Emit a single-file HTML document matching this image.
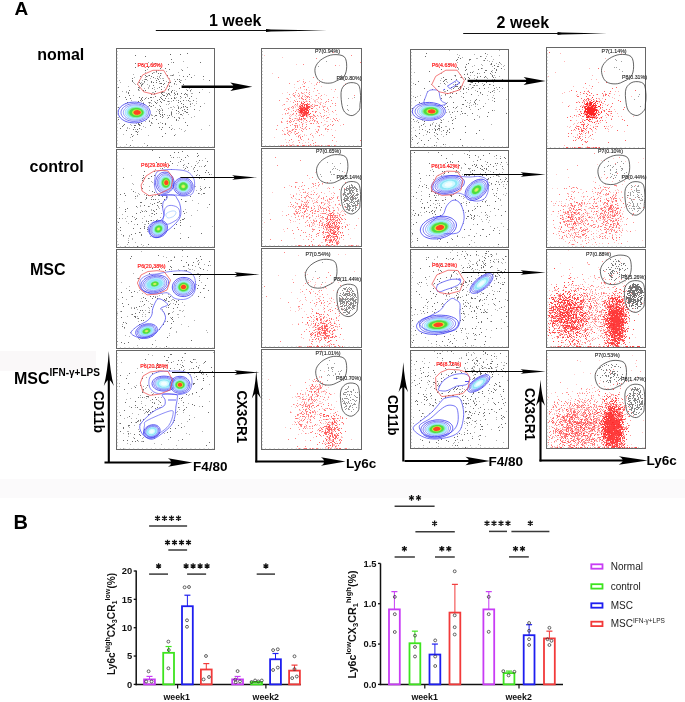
<!DOCTYPE html>
<html><head><meta charset="utf-8"><style>html,body{margin:0;padding:0;background:#fff;}svg{display:block;will-change:transform;}text{font-family:"Liberation Sans",sans-serif;}</style></head>
<body><svg width="685" height="702" viewBox="0 0 685 702">
<defs><filter id="sb" x="-5%" y="-5%" width="110%" height="110%"><feGaussianBlur stdDeviation="0.3"/></filter></defs>
<rect width="685" height="702" fill="#fff"/>
<rect x="0" y="479" width="685" height="19" fill="#fbfafb"/>
<rect x="0" y="351" width="96" height="20" fill="#faf8f9"/>
<text x="14.4" y="14.6" font-size="19" font-weight="bold" fill="#000" text-anchor="start" >A</text>
<text x="13.6" y="528.6" font-size="20" font-weight="bold" fill="#000" text-anchor="start" >B</text>
<text x="209" y="25.8" font-size="16" font-weight="bold" fill="#000" text-anchor="start" >1 week</text>
<line x1="155.8" y1="30.5" x2="268" y2="30.5" stroke="#111" stroke-width="1"/>
<path d="M266 29.1L271 29.4L327 30.5L271 31.6L266 31.9Z" fill="#000"/>
<text x="496.6" y="27.9" font-size="16" font-weight="bold" fill="#000" text-anchor="start" >2 week</text>
<line x1="463.2" y1="33.5" x2="559" y2="33.5" stroke="#111" stroke-width="1"/>
<path d="M557.5 32.1L562 32.4L607 33.5L562 34.6L557.5 34.9Z" fill="#000"/>
<text x="37.2" y="59.9" font-size="16" font-weight="bold" fill="#000" text-anchor="start" >nomal</text>
<text x="29.5" y="171.6" font-size="16" font-weight="bold" fill="#000" text-anchor="start" >control</text>
<text x="29.9" y="275.1" font-size="16" font-weight="bold" fill="#000" text-anchor="start" >MSC</text>
<text x="14" y="383.6" font-size="16" font-weight="bold">MSC<tspan font-size="10" dy="-7.3">IFN-γ+LPS</tspan></text>
<rect x="116.5" y="48.5" width="98.0" height="99.0" fill="none" stroke="#666" stroke-width="1"/>
<path d="M116.5 51.5h1.5M116.5 54.8h1.5M116.5 58.1h1.5M116.5 61.4h1.5M116.5 64.7h1.5M116.5 68.0h1.5M116.5 71.3h1.5M116.5 74.6h1.5M116.5 77.9h1.5M116.5 81.2h1.5M116.5 84.5h1.5M116.5 87.8h1.5M116.5 91.1h1.5M116.5 94.4h1.5M116.5 97.7h1.5M116.5 101.0h1.5M116.5 104.3h1.5M116.5 107.6h1.5M116.5 110.9h1.5M116.5 114.2h1.5M116.5 117.5h1.5M116.5 120.8h1.5M116.5 124.1h1.5M116.5 127.4h1.5M116.5 130.7h1.5M116.5 134.0h1.5M116.5 137.3h1.5M116.5 140.6h1.5M116.5 143.9h1.5M120.5 147.5v-1.3M124.9 147.5v-1.3M129.3 147.5v-1.3M133.7 147.5v-1.3M138.1 147.5v-1.3M142.5 147.5v-1.3M146.9 147.5v-1.3M151.3 147.5v-1.3M155.7 147.5v-1.3M160.1 147.5v-1.3M164.5 147.5v-1.3M168.9 147.5v-1.3M173.3 147.5v-1.3M177.7 147.5v-1.3M182.1 147.5v-1.3M186.5 147.5v-1.3M190.9 147.5v-1.3M195.3 147.5v-1.3M199.7 147.5v-1.3M204.1 147.5v-1.3M208.5 147.5v-1.3M212.9 147.5v-1.3" stroke="#999" stroke-width="0.6" fill="none"/>
<path d="M118 87.5h1m-1 20h1m-1 12h1m0-23h1m0 32h1m0-16h1m0 4h1m-1 10h1m0-1h1m0-1h1m0-27h1m-1 10h1m0-8h1m-1 6h1m-1 3h1m-1 8h1m-1 2h1m-1 12h1m0-28h1m0-10h1m-1 1h1m0-3h1m-1 5h1m0 3h1m-1 47h1m0-24h1m-1 13h1m0-56h1m-1 2h1m-1 1h1m-1 32h1m-1 23h1m0-18h1m-1 11h1m0-27h1m-1 23h1m-1 2h1m0-72h1m-1 8h1m-1 4h1m-1 58h1m0-16h1m-1 12h1m-1 10h1m0-21h1m-1 19h1m-1 3h1m-1 2h1m0-47h1m-1 2h1m-1 12h1m-1 16h1m-1 6h1m-1 1h1m0-42h1m-1 15h1m-1 27h1m-1 1h1m-1 3h1m0-52h1m-1 7h1m-1 17h1m0-15h1m-1 13h1m-1 1h1m-1 16h1m-1 1h1m-1 5h1m-1 2h1m0-59h1m-1 20h1m-1 13h1m-1 3h1m-1 19h1m0-29h1m-1 13h1m-1 4h1m0-26h1m0-25h1m-1 14h1m-1 5h1m-1 4h1m-1 11h1m-1 8h1m0-22h1m-1 3h1m-1 40h1m0-53h1m-1 43h1m-1 36h1m0-78h1m-1 31h1m-1 19h1m0-42h1m-1 27h1m-1 3h1m-1 16h1m0-24h1m-1 28h1m0-49h1m-1 5h1m-1 1h1m-1 12h1m-1 3h1m-1 3h1m-1 6h1m-1 16h1m0-49h1m-1 15h1m-1 30h1m0-41h1m-1 5h1m-1 3h1m-1 20h1m0-12h1m0-30h1m-1 28h1m-1 5h1m-1 6h1m-1 13h1m0-44h1m-1 9h1m-1 2h1m-1 21h1m-1 12h1m-1 4h1m0-41h1m-1 22h1m0-27h1m-1 6h1m-1 44h1m0-42h1m-1 6h1m-1 12h1m-1 10h1m-1 2h1m-1 2h1m-1 14h1m0-59h1m-1 5h1m-1 2h1m-1 8h1m-1 14h1m-1 4h1m-1 5h1m-1 8h1m-1 2h1m0-33h1m-1 3h1m-1 3h1m-1 3h1m-1 1h1m-1 5h1m-1 4h1m-1 27h1m0-37h1m-1 2h1m-1 5h1m-1 11h1m-1 4h1m-1 1h1m-1 2h1m-1 6h1m-1 4h1m-1 9h1m0-56h1m-1 4h1m-1 11h1m0-12h1m-1 12h1m-1 5h1m-1 14h1m0-46h1m-1 30h1m-1 25h1m-1 1h1m-1 9h1m0-37h1m0-21h1m-1 19h1m0-30h1m-1 18h1m-1 7h1m-1 4h1m-1 8h1m-1 16h1m0-48h1m-1 17h1m-1 8h1m-1 21h1m-1 12h1m0-73h1m-1 28h1m0-23h1m-1 32h1m-1 1h1m-1 6h1m-1 14h1m-1 1h1m-1 1h1m-1 15h1m0-54h1m-1 15h1m0-28h1m-1 38h1m0-17h1m-1 10h1m-1 4h1m-1 1h1m-1 19h1m-1 18h1m0-54h1m-1 13h1m0 16h1m-1 9h1m-1 1h1m0-41h1m-1 14h1m-1 1h1m0 6h1m-1 2h1m-1 5h1m-1 1h1m-1 3h1m0-32h1m-1 2h1m-1 7h1m-1 30h1m0-64h1m-1 28h1m-1 14h1m-1 5h1m-1 13h1m0-21h1m-1 10h1m-1 4h1m-1 7h1m0-44h1m-1 40h1m0-34h1m-1 8h1m-1 16h1m-1 4h1m-1 2h1m0-12h1m-1 15h1m0-16h1m-1 4h1m-1 9h1m-1 5h1m-1 11h1m0-28h1m-1 18h1m0-59h1m-1 23h1m-1 14h1m-1 17h1m-1 2h1m-1 3h1m-1 13h1m0-25h1m0-26h1m-1 24h1m0-8h1m-1 14h1m0-27h1m-1 9h1m-1 10h1m1 4h1m0 9h1m4-23h1m-1 6h1m0-30h1m-1 44h1m2-30h1m5 4h1" stroke="#444" stroke-width="1" opacity="0.78" fill="none" filter="url(#sb)"/>
<path d="M118 117.5h1m0-37h1m-1 43h1m0-41h1m0 30h1m0-21h1m0 24h1m-1 19h1m1-31h1m0-12h1m-1 1h1m-1 52h1m0-25h1m-1 8h1m-1 1h1m0-42h1m-1 22h1m-1 8h1m0-3h1m-1 15h1m0-15h1m-1 6h1m-1 5h1m-1 13h1m0-37h1m-1 14h1m-1 4h1m-1 7h1m0 15h1m0-66h1m-1 8h1m-1 13h1m-1 18h1m-1 7h1m-1 15h1m0-58h1m-1 6h1m-1 24h1m-1 12h1m0-35h1m-1 45h1m-1 2h1m0-28h1m-1 20h1m-1 8h1m0-47h1m-1 34h1m0-28h1m-1 41h1m0-51h1m-1 7h1m-1 1h1m-1 2h1m-1 32h1m0 3h1m0-43h1m-1 2h1m-1 2h1m-1 15h1m-1 3h1m-1 6h1m-1 3h1m-1 4h1m-1 6h1m-1 6h1m0-49h1m-1 3h1m-1 24h1m0-24h1m-1 19h1m-1 24h1m0-47h1m-1 3h1m-1 6h1m-1 11h1m-1 5h1m-1 2h1m-1 37h1m0-71h1m-1 5h1m-1 28h1m-1 16h1m-1 6h1m0-30h1m-1 12h1m0-40h1m-1 7h1m-1 4h1m-1 4h1m0-22h1m-1 13h1m-1 12h1m-1 1h1m-1 14h1m-1 4h1m-1 3h1m-1 1h1m-1 1h1m-1 24h1m0-60h1m-1 10h1m-1 1h1m-1 17h1m-1 2h1m-1 4h1m-1 6h1m-1 5h1m0-42h1m-1 24h1m-1 4h1m0-3h1m-1 11h1m-1 1h1m-1 8h1m0-61h1m-1 30h1m-1 23h1m-1 8h1m0-51h1m-1 20h1m-1 5h1m0-25h1m-1 15h1m-1 2h1m-1 5h1m-1 7h1m-1 15h1m0-38h1m-1 24h1m-1 5h1m0-37h1m-1 2h1m-1 39h1m0-35h1m-1 12h1m-1 14h1m-1 7h1m0-45h1m-1 6h1m-1 40h1m0-34h1m-1 1h1m-1 6h1m-1 22h1m-1 7h1m0-34h1m-1 32h1m-1 12h1m0-49h1m-1 10h1m-1 13h1m-1 12h1m0-30h1m-1 13h1m-1 1h1m-1 17h1m-1 3h1m0-34h1m-1 14h1m-1 8h1m-1 16h1m0-29h1m-1 5h1m0-3h1m0-18h1m-1 10h1m-1 12h1m-1 11h1m0-19h1m-1 1h1m-1 9h1m-1 6h1m-1 14h1m-1 3h1m0-29h1m-1 1h1m-1 3h1m-1 5h1m-1 6h1m-1 4h1m0-30h1m-1 7h1m-1 3h1m-1 5h1m-1 8h1m-1 2h1m0-49h1m-1 21h1m-1 20h1m-1 12h1m0-45h1m-1 13h1m-1 11h1m-1 12h1m-1 3h1m-1 6h1m-1 4h1m-1 4h1m-1 10h1m0-16h1m-1 7h1m-1 12h1m0-54h1m-1 1h1m-1 31h1m0-27h1m-1 5h1m-1 6h1m-1 2h1m-1 3h1m-1 12h1m-1 22h1m0-31h1m-1 36h1m0-50h1m-1 7h1m-1 6h1m-1 3h1m-1 10h1m-1 3h1m0-8h1m0-33h1m-1 34h1m-1 7h1m-1 4h1m-1 3h1m0-45h1m-1 37h1m-1 5h1m-1 11h1m0-48h1m-1 18h1m-1 10h1m0-39h1m-1 11h1m-1 17h1m-1 32h1m0-14h1m0-54h1m-1 46h1m-1 6h1m-1 5h1m0-7h1m-1 20h1m0-52h1m-1 51h1m0-41h1m-1 11h1m-1 7h1m0-40h1m-1 27h1m-1 1h1m-1 1h1m0 18h1m0-26h1m-1 13h1m0-10h1m-1 10h1m-1 2h1m-1 3h1m0-17h1m-1 4h1m-1 24h1m0-24h1m-1 10h1m1-28h1m-1 30h1m-1 11h1m0-29h1m0 11h1m-1 3h1m-1 2h1m2 7h1m1 19h1m0-43h1m-1 3h1m0-10h1m0 24h1m4-11h1m-1 33h1" stroke="#444" stroke-width="1" opacity="0.42" fill="none" filter="url(#sb)"/>
<path d="M150.2 112.5C150.2 113.4 150.0 114.3 149.6 115.2C149.3 116.1 148.7 116.9 148.0 117.7C147.3 118.5 146.4 119.2 145.5 119.9C144.5 120.5 143.4 121.0 142.2 121.5C141.1 121.9 139.8 122.3 138.5 122.5C137.3 122.7 136.0 122.9 134.7 122.9C133.5 122.9 132.2 122.8 131.0 122.7C129.8 122.6 128.7 122.3 127.6 122.0C126.5 121.7 125.5 121.3 124.7 120.9C123.8 120.5 123.0 120.0 122.3 119.5C121.6 119.0 121.0 118.4 120.4 117.9C119.9 117.3 119.5 116.7 119.2 116.1C118.8 115.5 118.6 114.9 118.4 114.3C118.3 113.7 118.2 113.1 118.2 112.5C118.2 111.9 118.3 111.3 118.4 110.7C118.6 110.1 118.8 109.5 119.2 108.9C119.5 108.3 119.9 107.7 120.4 107.1C121.0 106.6 121.6 106.0 122.3 105.5C123.0 105.0 123.8 104.5 124.7 104.1C125.5 103.7 126.5 103.3 127.6 103.0C128.7 102.7 129.8 102.4 131.0 102.3C132.2 102.2 133.5 102.1 134.7 102.1C136.0 102.1 137.3 102.3 138.5 102.5C139.8 102.7 141.1 103.1 142.2 103.5C143.4 104.0 144.5 104.5 145.5 105.1C146.4 105.8 147.3 106.5 148.0 107.3C148.7 108.1 149.3 108.9 149.6 109.8C150.0 110.7 150.2 111.6 150.2 112.5Z" fill="#fff" stroke="none"/>
<path d="M145.9 112.5C145.9 113.1 145.8 113.7 145.6 114.3C145.3 114.8 145.0 115.4 144.5 115.9C144.1 116.4 143.5 116.9 142.9 117.3C142.2 117.7 141.5 118.0 140.7 118.3C140.0 118.6 139.2 118.8 138.4 119.0C137.5 119.1 136.7 119.2 135.9 119.3C135.0 119.3 134.2 119.2 133.4 119.1C132.7 119.0 131.9 118.9 131.2 118.7C130.6 118.5 129.9 118.2 129.3 118.0C128.8 117.7 128.2 117.4 127.8 117.0C127.3 116.7 126.9 116.4 126.6 116.0C126.3 115.6 126.0 115.2 125.8 114.9C125.6 114.5 125.4 114.1 125.3 113.7C125.2 113.3 125.1 112.9 125.1 112.5C125.1 112.1 125.2 111.7 125.3 111.3C125.4 110.9 125.6 110.5 125.8 110.1C126.0 109.8 126.3 109.4 126.6 109.0C126.9 108.6 127.3 108.3 127.8 108.0C128.2 107.6 128.8 107.3 129.3 107.0C129.9 106.8 130.6 106.5 131.2 106.3C131.9 106.1 132.7 106.0 133.4 105.9C134.2 105.8 135.0 105.7 135.9 105.7C136.7 105.8 137.5 105.9 138.4 106.0C139.2 106.2 140.0 106.4 140.7 106.7C141.5 107.0 142.2 107.3 142.9 107.7C143.5 108.1 144.1 108.6 144.5 109.1C145.0 109.6 145.3 110.2 145.6 110.7C145.8 111.3 145.9 111.9 145.9 112.5Z" fill="#c8f3ff" stroke="#6fbcff" stroke-width="0.5"/>
<path d="M145.0 112.5C145.0 113.0 144.8 113.5 144.6 114.0C144.4 114.5 144.1 115.0 143.7 115.5C143.3 115.9 142.8 116.3 142.3 116.7C141.7 117.0 141.1 117.4 140.4 117.6C139.7 117.9 139.0 118.1 138.3 118.2C137.6 118.3 136.8 118.4 136.1 118.4C135.4 118.4 134.7 118.4 134.0 118.3C133.3 118.2 132.7 118.1 132.1 117.9C131.5 117.7 130.9 117.5 130.4 117.3C129.9 117.0 129.4 116.8 129.0 116.5C128.6 116.2 128.3 115.9 128.0 115.6C127.7 115.2 127.5 114.9 127.3 114.6C127.1 114.2 126.9 113.9 126.9 113.5C126.8 113.2 126.7 112.8 126.7 112.5C126.7 112.2 126.8 111.8 126.9 111.5C126.9 111.1 127.1 110.8 127.3 110.4C127.5 110.1 127.7 109.8 128.0 109.4C128.3 109.1 128.6 108.8 129.0 108.5C129.4 108.2 129.9 108.0 130.4 107.7C130.9 107.5 131.5 107.3 132.1 107.1C132.7 106.9 133.3 106.8 134.0 106.7C134.7 106.6 135.4 106.6 136.1 106.6C136.8 106.6 137.6 106.7 138.3 106.8C139.0 106.9 139.7 107.1 140.4 107.4C141.1 107.6 141.7 108.0 142.3 108.3C142.8 108.7 143.3 109.1 143.7 109.5C144.1 110.0 144.4 110.5 144.6 111.0C144.8 111.5 145.0 112.0 145.0 112.5Z" fill="#8ee6f6" stroke="none"/>
<path d="M150.2 112.5C150.2 113.4 150.0 114.3 149.6 115.2C149.3 116.1 148.7 116.9 148.0 117.7C147.3 118.5 146.4 119.2 145.5 119.9C144.5 120.5 143.4 121.0 142.2 121.5C141.1 121.9 139.8 122.3 138.5 122.5C137.3 122.7 136.0 122.9 134.7 122.9C133.5 122.9 132.2 122.8 131.0 122.7C129.8 122.6 128.7 122.3 127.6 122.0C126.5 121.7 125.5 121.3 124.7 120.9C123.8 120.5 123.0 120.0 122.3 119.5C121.6 119.0 121.0 118.4 120.4 117.9C119.9 117.3 119.5 116.7 119.2 116.1C118.8 115.5 118.6 114.9 118.4 114.3C118.3 113.7 118.2 113.1 118.2 112.5C118.2 111.9 118.3 111.3 118.4 110.7C118.6 110.1 118.8 109.5 119.2 108.9C119.5 108.3 119.9 107.7 120.4 107.1C121.0 106.6 121.6 106.0 122.3 105.5C123.0 105.0 123.8 104.5 124.7 104.1C125.5 103.7 126.5 103.3 127.6 103.0C128.7 102.7 129.8 102.4 131.0 102.3C132.2 102.2 133.5 102.1 134.7 102.1C136.0 102.1 137.3 102.3 138.5 102.5C139.8 102.7 141.1 103.1 142.2 103.5C143.4 104.0 144.5 104.5 145.5 105.1C146.4 105.8 147.3 106.5 148.0 107.3C148.7 108.1 149.3 108.9 149.6 109.8C150.0 110.7 150.2 111.6 150.2 112.5Z" fill="none" stroke="#3434ee" stroke-width="0.8"/>
<path d="M148.5 112.5C148.5 113.3 148.3 114.1 148.0 114.8C147.7 115.6 147.2 116.3 146.6 117.0C146.0 117.7 145.3 118.3 144.4 118.8C143.6 119.4 142.6 119.8 141.6 120.2C140.6 120.6 139.5 120.9 138.5 121.1C137.4 121.3 136.3 121.4 135.2 121.4C134.1 121.5 133.0 121.4 132.0 121.3C131.0 121.1 130.0 120.9 129.1 120.7C128.1 120.4 127.3 120.1 126.5 119.7C125.8 119.4 125.1 118.9 124.5 118.5C123.9 118.1 123.3 117.6 122.9 117.1C122.5 116.6 122.1 116.1 121.8 115.6C121.5 115.1 121.3 114.6 121.2 114.1C121.0 113.6 121.0 113.0 121.0 112.5C121.0 112.0 121.0 111.4 121.2 110.9C121.3 110.4 121.5 109.9 121.8 109.4C122.1 108.9 122.5 108.4 122.9 107.9C123.3 107.4 123.9 106.9 124.5 106.5C125.1 106.1 125.8 105.6 126.5 105.3C127.3 104.9 128.1 104.6 129.1 104.3C130.0 104.1 131.0 103.9 132.0 103.7C133.0 103.6 134.1 103.5 135.2 103.6C136.3 103.6 137.4 103.7 138.5 103.9C139.5 104.1 140.6 104.4 141.6 104.8C142.6 105.2 143.6 105.6 144.4 106.2C145.3 106.7 146.0 107.3 146.6 108.0C147.2 108.7 147.7 109.4 148.0 110.2C148.3 110.9 148.5 111.7 148.5 112.5Z" fill="none" stroke="#4040f0" stroke-width="0.7"/>
<path d="M147.0 112.5C147.0 113.2 146.9 113.9 146.6 114.5C146.3 115.2 145.9 115.8 145.4 116.4C144.9 116.9 144.2 117.5 143.5 117.9C142.8 118.4 142.0 118.8 141.1 119.1C140.3 119.5 139.3 119.7 138.4 119.9C137.5 120.1 136.5 120.2 135.6 120.2C134.6 120.2 133.7 120.2 132.8 120.0C131.9 119.9 131.1 119.8 130.3 119.5C129.5 119.3 128.8 119.0 128.1 118.7C127.5 118.4 126.9 118.0 126.4 117.7C125.8 117.3 125.4 116.9 125.0 116.5C124.6 116.1 124.3 115.6 124.1 115.2C123.8 114.7 123.6 114.3 123.5 113.9C123.4 113.4 123.3 113.0 123.3 112.5C123.3 112.0 123.4 111.6 123.5 111.1C123.6 110.7 123.8 110.3 124.1 109.8C124.3 109.4 124.6 108.9 125.0 108.5C125.4 108.1 125.8 107.7 126.4 107.3C126.9 107.0 127.5 106.6 128.1 106.3C128.8 106.0 129.5 105.7 130.3 105.5C131.1 105.2 131.9 105.1 132.8 105.0C133.7 104.8 134.6 104.8 135.6 104.8C136.5 104.8 137.5 104.9 138.4 105.1C139.3 105.3 140.3 105.5 141.1 105.9C142.0 106.2 142.8 106.6 143.5 107.1C144.2 107.5 144.9 108.1 145.4 108.6C145.9 109.2 146.3 109.8 146.6 110.5C146.9 111.1 147.0 111.8 147.0 112.5Z" fill="none" stroke="#5066f4" stroke-width="0.6"/>
<path d="M144.1 112.5C144.1 113.0 144.0 113.4 143.8 113.9C143.6 114.3 143.4 114.7 143.0 115.1C142.7 115.5 142.2 115.9 141.7 116.2C141.2 116.5 140.7 116.8 140.1 117.0C139.5 117.2 138.9 117.4 138.3 117.5C137.6 117.6 137.0 117.7 136.4 117.7C135.7 117.7 135.1 117.7 134.5 117.6C133.9 117.5 133.3 117.4 132.8 117.3C132.3 117.1 131.8 116.9 131.3 116.7C130.9 116.5 130.5 116.2 130.1 116.0C129.8 115.7 129.5 115.5 129.2 115.2C129.0 114.9 128.8 114.6 128.6 114.3C128.4 114.0 128.3 113.7 128.2 113.4C128.1 113.1 128.1 112.8 128.1 112.5C128.1 112.2 128.1 111.9 128.2 111.6C128.3 111.3 128.4 111.0 128.6 110.7C128.8 110.4 129.0 110.1 129.2 109.8C129.5 109.5 129.8 109.3 130.1 109.0C130.5 108.8 130.9 108.5 131.3 108.3C131.8 108.1 132.3 107.9 132.8 107.7C133.3 107.6 133.9 107.5 134.5 107.4C135.1 107.3 135.7 107.3 136.4 107.3C137.0 107.3 137.6 107.4 138.3 107.5C138.9 107.6 139.5 107.8 140.1 108.0C140.7 108.2 141.2 108.5 141.7 108.8C142.2 109.1 142.7 109.5 143.0 109.9C143.4 110.3 143.6 110.7 143.8 111.1C144.0 111.6 144.1 112.0 144.1 112.5Z" fill="#8fe98a" stroke="none"/>
<path d="M143.4 112.5C143.4 112.9 143.3 113.3 143.1 113.7C143.0 114.1 142.7 114.5 142.4 114.8C142.1 115.1 141.7 115.5 141.3 115.7C140.9 116.0 140.4 116.3 139.9 116.4C139.3 116.6 138.8 116.8 138.2 116.9C137.7 117.0 137.1 117.1 136.6 117.1C136.0 117.1 135.4 117.1 134.9 117.0C134.4 116.9 133.9 116.8 133.4 116.7C133.0 116.5 132.5 116.4 132.1 116.2C131.7 116.0 131.4 115.8 131.1 115.6C130.8 115.3 130.5 115.1 130.3 114.9C130.1 114.6 129.9 114.4 129.7 114.1C129.6 113.8 129.5 113.6 129.4 113.3C129.3 113.0 129.3 112.8 129.3 112.5C129.3 112.2 129.3 112.0 129.4 111.7C129.5 111.4 129.6 111.2 129.7 110.9C129.9 110.6 130.1 110.4 130.3 110.1C130.5 109.9 130.8 109.7 131.1 109.4C131.4 109.2 131.7 109.0 132.1 108.8C132.5 108.6 133.0 108.5 133.4 108.3C133.9 108.2 134.4 108.1 134.9 108.0C135.4 107.9 136.0 107.9 136.6 107.9C137.1 107.9 137.7 108.0 138.2 108.1C138.8 108.2 139.3 108.4 139.9 108.6C140.4 108.7 140.9 109.0 141.3 109.3C141.7 109.5 142.1 109.9 142.4 110.2C142.7 110.5 143.0 110.9 143.1 111.3C143.3 111.7 143.4 112.1 143.4 112.5Z" fill="#4ade42" stroke="none"/>
<path d="M141.7 112.5C141.7 112.8 141.6 113.1 141.5 113.3C141.4 113.6 141.2 113.8 141.0 114.1C140.8 114.3 140.5 114.5 140.2 114.7C139.9 114.9 139.6 115.1 139.3 115.2C138.9 115.3 138.5 115.4 138.2 115.5C137.8 115.6 137.4 115.6 137.0 115.6C136.6 115.6 136.3 115.6 135.9 115.6C135.5 115.5 135.2 115.4 134.9 115.4C134.6 115.3 134.3 115.1 134.0 115.0C133.7 114.9 133.5 114.7 133.3 114.6C133.1 114.4 132.9 114.3 132.7 114.1C132.6 113.9 132.5 113.8 132.4 113.6C132.3 113.4 132.2 113.2 132.1 113.0C132.1 112.9 132.1 112.7 132.1 112.5C132.1 112.3 132.1 112.1 132.1 112.0C132.2 111.8 132.3 111.6 132.4 111.4C132.5 111.2 132.6 111.1 132.7 110.9C132.9 110.7 133.1 110.6 133.3 110.4C133.5 110.3 133.7 110.1 134.0 110.0C134.3 109.9 134.6 109.7 134.9 109.6C135.2 109.6 135.5 109.5 135.9 109.4C136.3 109.4 136.6 109.4 137.0 109.4C137.4 109.4 137.8 109.4 138.2 109.5C138.5 109.6 138.9 109.7 139.3 109.8C139.6 109.9 139.9 110.1 140.2 110.3C140.5 110.5 140.8 110.7 141.0 110.9C141.2 111.2 141.4 111.4 141.5 111.7C141.6 111.9 141.7 112.2 141.7 112.5Z" fill="#d2ea3c" stroke="none"/>
<path d="M140.8 112.5C140.8 112.7 140.8 112.9 140.7 113.1C140.6 113.3 140.5 113.5 140.3 113.7C140.1 113.9 139.9 114.0 139.7 114.2C139.5 114.3 139.2 114.5 139.0 114.6C138.7 114.7 138.4 114.7 138.1 114.8C137.8 114.9 137.5 114.9 137.2 114.9C137.0 114.9 136.7 114.9 136.4 114.8C136.1 114.8 135.9 114.8 135.6 114.7C135.4 114.6 135.1 114.5 134.9 114.4C134.7 114.3 134.5 114.2 134.4 114.1C134.2 114.0 134.1 113.9 134.0 113.7C133.8 113.6 133.7 113.5 133.7 113.3C133.6 113.2 133.5 113.1 133.5 112.9C133.5 112.8 133.4 112.6 133.4 112.5C133.4 112.4 133.5 112.2 133.5 112.1C133.5 111.9 133.6 111.8 133.7 111.7C133.7 111.5 133.8 111.4 134.0 111.3C134.1 111.1 134.2 111.0 134.4 110.9C134.5 110.8 134.7 110.7 134.9 110.6C135.1 110.5 135.4 110.4 135.6 110.3C135.9 110.2 136.1 110.2 136.4 110.2C136.7 110.1 137.0 110.1 137.2 110.1C137.5 110.1 137.8 110.1 138.1 110.2C138.4 110.3 138.7 110.3 139.0 110.4C139.2 110.5 139.5 110.7 139.7 110.8C139.9 111.0 140.1 111.1 140.3 111.3C140.5 111.5 140.6 111.7 140.7 111.9C140.8 112.1 140.8 112.3 140.8 112.5Z" fill="#ff4422" stroke="none"/>
<path d="M137.5 84.1L142.7 74.9L152.9 70.3L163.6 70.3L170.2 81.1L165.1 90.8L153.9 94.3L143.7 91.8Z" fill="none" stroke="#f05050" stroke-width="0.75" stroke-linejoin="round"/>
<text x="137.5" y="67.3" font-size="5.3" fill="#f11" stroke="#f22" stroke-width="0.18">P6(1.66%)</text>
<rect x="116.5" y="149.5" width="98.0" height="98.0" fill="none" stroke="#666" stroke-width="1"/>
<path d="M116.5 152.5h1.5M116.5 155.8h1.5M116.5 159.1h1.5M116.5 162.4h1.5M116.5 165.7h1.5M116.5 169.0h1.5M116.5 172.3h1.5M116.5 175.6h1.5M116.5 178.9h1.5M116.5 182.2h1.5M116.5 185.5h1.5M116.5 188.8h1.5M116.5 192.1h1.5M116.5 195.4h1.5M116.5 198.7h1.5M116.5 202.0h1.5M116.5 205.3h1.5M116.5 208.6h1.5M116.5 211.9h1.5M116.5 215.2h1.5M116.5 218.5h1.5M116.5 221.8h1.5M116.5 225.1h1.5M116.5 228.4h1.5M116.5 231.7h1.5M116.5 235.0h1.5M116.5 238.3h1.5M116.5 241.6h1.5M116.5 244.9h1.5M120.5 247.5v-1.3M124.9 247.5v-1.3M129.3 247.5v-1.3M133.7 247.5v-1.3M138.1 247.5v-1.3M142.5 247.5v-1.3M146.9 247.5v-1.3M151.3 247.5v-1.3M155.7 247.5v-1.3M160.1 247.5v-1.3M164.5 247.5v-1.3M168.9 247.5v-1.3M173.3 247.5v-1.3M177.7 247.5v-1.3M182.1 247.5v-1.3M186.5 247.5v-1.3M190.9 247.5v-1.3M195.3 247.5v-1.3M199.7 247.5v-1.3M204.1 247.5v-1.3M208.5 247.5v-1.3M212.9 247.5v-1.3" stroke="#999" stroke-width="0.6" fill="none"/>
<path d="M118 222.5h1m0-4h1m0-24h1m-1 33h1m-1 3h1m2-53h1m-1 58h1m0-42h1m0 2h1m-1 14h1m-1 2h1m1-3h1m0 34h1m2-21h1m-1 13h1m0-18h1m0-25h1m-1 37h1m1-32h1m-1 23h1m-1 14h1m0-27h1m-1 7h1m-1 5h1m0 6h1m-1 22h1m1-14h1m0-30h1m-1 10h1m-1 16h1m0-26h1m-1 32h1m-1 1h1m0-57h1m-1 2h1m-1 8h1m-1 23h1m0-36h1m-1 2h1m0-6h1m-1 7h1m-1 27h1m-1 21h1m-1 2h1m1-33h1m-1 2h1m-1 1h1m-1 13h1m-1 10h1m0 8h1m0-51h1m-1 17h1m-1 11h1m-1 15h1m-1 2h1m-1 21h1m2-68h1m-1 23h1m-1 21h1m0-70h1m-1 41h1m-1 5h1m-1 8h1m-1 9h1m-1 21h1m0-35h1m-1 11h1m0-39h1m-1 4h1m-1 8h1m-1 1h1m-1 8h1m-1 11h1m-1 8h1m-1 3h1m0-34h1m-1 19h1m0-37h1m-1 47h1m-1 4h1m-1 7h1m0-18h1m-1 3h1m0-27h1m-1 17h1m0-38h1m-1 31h1m-1 7h1m-1 6h1m0-22h1m0 24h1m0-35h1m-1 18h1m-1 10h1m-1 10h1m0-15h1m0-2h1m-1 10h1m-1 24h1m-1 10h1m0-71h1m-1 19h1m0 12h1m-1 4h1m-1 2h1m-1 17h1m0-19h1m0 1h1m-1 5h1m-1 25h1m0-63h1m-1 29h1m-1 5h1m-1 15h1m0-59h1m-1 6h1m-1 14h1m-1 9h1m0-15h1m-1 23h1m-1 9h1m0-38h1m-1 60h1m0-66h1m-1 13h1m0-18h1m-1 26h1m-1 1h1m-1 10h1m-1 5h1m-1 7h1m-1 10h1m-1 17h1m0-55h1m-1 10h1m0-11h1m-1 14h1m-1 33h1m-1 5h1m0-37h1m0-35h1m-1 18h1m-1 4h1m-1 2h1m-1 10h1m-1 28h1m0-33h1m-1 10h1m0-30h1m-1 59h1m-1 2h1m-1 3h1m-1 13h1m0-79h1m-1 16h1m-1 19h1m-1 5h1m0-48h1m-1 21h1m-1 47h1m0-54h1m-1 18h1m-1 28h1m-1 8h1m0-36h1m-1 30h1m-1 5h1m0-61h1m-1 11h1m-1 4h1m-1 29h1m0-25h1m0-21h1m-1 12h1m-1 5h1m0-9h1m-1 74h1m0-60h1m-1 8h1m0 11h1m0-15h1m-1 9h1m0-12h1m-1 4h1m-1 7h1m0-6h1m0-16h1m-1 4h1m0-6h1m0 10h1m0-22h1m-1 3h1m-1 14h1m0-15h1m-1 38h1m0-33h1m-1 15h1m-1 3h1m0 10h1m0 1h1m-1 44h1m1-40h1m0-27h1m-1 13h1m-1 14h1m0-28h1m-1 7h1m-1 5h1m-1 10h1m0-17h1m0-9h1m0 11h1m0 2h1m-1 13h1m-1 17h1" stroke="#444" stroke-width="1" opacity="0.78" fill="none" filter="url(#sb)"/>
<path d="M118 229.5h1m-1 15h1m0-37h1m1 27h1m0-20h1m-1 4h1m0-50h1m-1 68h1m0-35h1m0 17h1m-1 28h1m0-25h1m0-5h1m-1 28h1m0-21h1m-1 15h1m-1 2h1m0-5h1m-1 1h1m1-61h1m-1 14h1m0-6h1m-1 55h1m-1 1h1m0-55h1m0 33h1m-1 7h1m0-32h1m-1 6h1m-1 44h1m1-47h1m-1 1h1m-1 11h1m0-14h1m0 1h1m0 11h1m-1 1h1m-1 26h1m0-45h1m-1 23h1m-1 34h1m0-26h1m-1 4h1m0-41h1m-1 3h1m-1 61h1m0-51h1m-1 17h1m-1 5h1m-1 8h1m-1 2h1m-1 1h1m0-28h1m-1 11h1m-1 14h1m0-4h1m0 7h1m-1 4h1m0-10h1m-1 8h1m0-51h1m-1 8h1m-1 4h1m-1 16h1m-1 9h1m0-20h1m-1 8h1m-1 17h1m-1 16h1m0-60h1m-1 5h1m-1 16h1m-1 12h1m-1 1h1m-1 3h1m-1 3h1m0-34h1m0 38h1m1-51h1m-1 26h1m1-13h1m-1 12h1m-1 25h1m0-20h1m-1 3h1m-1 4h1m-1 1h1m0-30h1m-1 15h1m-1 3h1m-1 13h1m-1 26h1m0-66h1m-1 35h1m-1 14h1m-1 10h1m0-44h1m-1 22h1m-1 8h1m-1 7h1m0-38h1m-1 2h1m-1 2h1m-1 5h1m-1 16h1m-1 24h1m0-49h1m-1 1h1m-1 4h1m0-20h1m-1 32h1m-1 2h1m0 16h1m-1 1h1m0-52h1m-1 30h1m-1 12h1m-1 13h1m0-49h1m-1 41h1m0-38h1m-1 9h1m-1 12h1m-1 21h1m0-35h1m0-2h1m-1 6h1m-1 10h1m-1 20h1m0-59h1m-1 16h1m-1 29h1m-1 2h1m-1 16h1m-1 4h1m0-20h1m0-24h1m-1 8h1m-1 1h1m-1 15h1m0-15h1m-1 18h1m-1 9h1m0-28h1m-1 5h1m-1 7h1m-1 19h1m0-47h1m-1 4h1m-1 17h1m-1 1h1m-1 18h1m0-55h1m-1 8h1m-1 7h1m0-10h1m-1 8h1m-1 23h1m-1 22h1m0-58h1m0 13h1m-1 13h1m-1 50h1m2-73h1m-1 7h1m-1 5h1m-1 3h1m-1 10h1m0-21h1m-1 5h1m-1 10h1m0 4h1m-1 18h1m-1 8h1m0-43h1m-1 6h1m-1 11h1m-1 9h1m-1 9h1m-1 11h1m1-56h1m-1 14h1m0 6h1m-1 16h1m0 34h1m0-60h1m-1 20h1m-1 29h1m0-30h1m-1 15h1m0-32h1m-1 1h1m0 17h1m0 0h1m0-25h1m-1 29h1m0-27h1m-1 11h1m-1 36h1m0-48h1m-1 41h1m0-37h1m-1 27h1m0-7h1m-1 4h1m0-24h1m-1 12h1m-1 16h1m0-34h1m1 28h1m0-30h1m1 49h1m3-33h1m0 52h1" stroke="#444" stroke-width="1" opacity="0.42" fill="none" filter="url(#sb)"/>
<path d="M157.0 172.0C158.3 170.7 160.7 170.4 163.0 170.0C165.3 169.6 168.2 169.5 171.0 169.5C173.8 169.5 177.2 169.6 180.0 170.0C182.8 170.4 185.8 170.7 188.0 172.0C190.2 173.3 192.4 175.7 193.5 178.0C194.6 180.3 194.8 183.3 194.5 186.0C194.2 188.7 193.8 192.3 192.0 194.0C190.2 195.7 186.7 195.8 184.0 196.0C181.3 196.2 178.7 195.2 176.0 195.0C173.3 194.8 171.0 195.2 168.0 195.0C165.0 194.8 160.2 195.5 158.0 194.0C155.8 192.5 155.0 188.7 154.5 186.0C154.0 183.3 154.6 180.3 155.0 178.0C155.4 175.7 155.7 173.3 157.0 172.0Z" fill="#fff" stroke="none"/>
<path d="M160.9 195.1C159.8 195.2 166.0 195.0 166.9 195.7C167.8 196.4 166.9 198.4 166.3 199.4C165.7 200.4 163.9 200.3 163.3 201.8C162.7 203.3 162.6 206.1 162.7 208.4C162.8 210.7 164.3 213.7 163.9 215.7C163.5 217.7 162.3 219.4 160.3 220.6C158.3 221.8 153.8 221.6 151.8 223.0C149.8 224.4 148.3 226.9 148.2 229.0C148.1 231.1 149.6 234.3 151.2 235.7C152.8 237.1 155.4 238.2 157.9 237.5C160.4 236.8 163.7 233.5 166.3 231.5C168.9 229.5 171.4 227.6 173.6 225.4C175.8 223.2 178.5 220.5 179.7 218.1C180.9 215.7 180.9 213.3 180.9 210.9C180.9 208.5 180.3 205.6 179.7 203.6C179.1 201.6 178.2 200.2 177.2 198.8C176.2 197.4 176.3 195.7 173.6 195.1C170.9 194.5 162.0 195.0 160.9 195.1Z" fill="#fff" stroke="none"/>
<path d="M165.1 208.4C166.1 206.7 168.0 205.6 170.0 205.4C172.0 205.2 175.6 206.1 177.2 207.2C178.8 208.3 179.5 210.3 179.7 212.1C179.9 213.9 179.8 216.3 178.4 218.1C177.0 219.9 173.2 222.0 171.2 223.0C169.2 224.0 167.7 224.4 166.3 224.2C164.9 224.0 163.1 223.2 162.7 221.8C162.3 220.4 163.5 217.9 163.9 215.7C164.3 213.5 164.1 210.1 165.1 208.4Z" fill="#fff" stroke="none"/>
<path d="M166.0 214.0C166.7 212.8 170.3 211.3 172.0 211.0C173.7 210.7 175.7 211.2 176.0 212.0C176.3 212.8 175.3 215.0 174.0 216.0C172.7 217.0 169.3 218.3 168.0 218.0C166.7 217.7 165.3 215.2 166.0 214.0Z" fill="#fff" stroke="none"/>
<path d="M166.3 223.6C166.6 224.0 166.9 224.6 167.1 225.1C167.3 225.7 167.4 226.3 167.5 226.9C167.6 227.5 167.5 228.2 167.4 228.8C167.4 229.5 167.2 230.1 166.9 230.7C166.7 231.3 166.4 232.0 166.0 232.5C165.6 233.1 165.2 233.7 164.7 234.2C164.2 234.7 163.7 235.1 163.1 235.6C162.5 236.0 161.9 236.3 161.2 236.6C160.6 236.9 159.9 237.1 159.3 237.3C158.6 237.4 157.9 237.5 157.2 237.5C156.6 237.5 155.9 237.5 155.3 237.3C154.7 237.2 154.0 237.0 153.5 236.8C152.9 236.5 152.4 236.2 151.9 235.8C151.5 235.4 151.1 234.9 150.7 234.4C150.4 234.0 150.1 233.4 149.9 232.9C149.7 232.3 149.6 231.7 149.5 231.1C149.4 230.5 149.5 229.8 149.6 229.2C149.6 228.5 149.8 227.9 150.1 227.3C150.3 226.7 150.6 226.0 151.0 225.5C151.4 224.9 151.8 224.3 152.3 223.8C152.8 223.3 153.3 222.9 153.9 222.4C154.5 222.0 155.1 221.7 155.8 221.4C156.4 221.1 157.1 220.9 157.7 220.7C158.4 220.6 159.1 220.5 159.8 220.5C160.4 220.5 161.1 220.5 161.7 220.7C162.3 220.8 163.0 221.0 163.5 221.2C164.1 221.5 164.6 221.8 165.1 222.2C165.5 222.6 165.9 223.1 166.3 223.6Z" fill="#fff" stroke="none"/>
<path d="M193.0 186.4C193.0 187.1 192.9 187.7 192.8 188.4C192.6 189.0 192.4 189.6 192.0 190.2C191.7 190.8 191.3 191.4 190.9 191.9C190.4 192.4 189.9 192.9 189.3 193.3C188.8 193.7 188.2 194.0 187.5 194.3C186.9 194.6 186.2 194.8 185.5 195.0C184.8 195.1 184.0 195.2 183.3 195.2C182.6 195.2 181.8 195.1 181.1 195.0C180.4 194.8 179.7 194.6 179.1 194.3C178.4 194.0 177.8 193.7 177.3 193.3C176.7 192.9 176.2 192.4 175.7 191.9C175.3 191.4 174.9 190.8 174.6 190.2C174.2 189.6 174.0 189.0 173.8 188.4C173.7 187.7 173.6 187.1 173.6 186.4C173.6 185.7 173.7 185.1 173.8 184.4C174.0 183.8 174.2 183.2 174.6 182.6C174.9 182.0 175.3 181.4 175.7 180.9C176.2 180.4 176.7 179.9 177.3 179.5C177.8 179.1 178.4 178.8 179.1 178.5C179.7 178.2 180.4 178.0 181.1 177.8C181.8 177.7 182.6 177.6 183.3 177.6C184.0 177.6 184.8 177.7 185.5 177.8C186.2 178.0 186.9 178.2 187.5 178.5C188.2 178.8 188.8 179.1 189.3 179.5C189.9 179.9 190.4 180.4 190.9 180.9C191.3 181.4 191.7 182.0 192.0 182.6C192.4 183.2 192.6 183.8 192.8 184.4C192.9 185.1 193.0 185.7 193.0 186.4Z" fill="#fff" stroke="none"/>
<path d="M174.0 182.7C174.0 183.5 173.9 184.3 173.8 185.1C173.6 185.8 173.4 186.6 173.1 187.3C172.8 188.0 172.4 188.7 172.0 189.3C171.6 189.9 171.1 190.5 170.5 191.0C170.0 191.5 169.4 191.9 168.8 192.3C168.2 192.6 167.5 192.9 166.8 193.0C166.2 193.2 165.5 193.3 164.8 193.3C164.1 193.3 163.4 193.2 162.8 193.0C162.1 192.9 161.4 192.6 160.8 192.3C160.2 191.9 159.6 191.5 159.1 191.0C158.5 190.5 158.0 189.9 157.6 189.3C157.2 188.7 156.8 188.0 156.5 187.3C156.2 186.6 156.0 185.8 155.8 185.1C155.7 184.3 155.6 183.5 155.6 182.7C155.6 181.9 155.7 181.1 155.8 180.3C156.0 179.6 156.2 178.8 156.5 178.1C156.8 177.4 157.2 176.7 157.6 176.1C158.0 175.5 158.5 174.9 159.1 174.4C159.6 173.9 160.2 173.5 160.8 173.1C161.4 172.8 162.1 172.5 162.8 172.4C163.4 172.2 164.1 172.1 164.8 172.1C165.5 172.1 166.2 172.2 166.8 172.4C167.5 172.5 168.2 172.8 168.8 173.1C169.4 173.5 170.0 173.9 170.5 174.4C171.1 174.9 171.6 175.5 172.0 176.1C172.4 176.7 172.8 177.4 173.1 178.1C173.4 178.8 173.6 179.6 173.8 180.3C173.9 181.1 174.0 181.9 174.0 182.7Z" fill="#fff" stroke="none"/>
<path d="M157.0 172.0C158.3 170.7 160.7 170.4 163.0 170.0C165.3 169.6 168.2 169.5 171.0 169.5C173.8 169.5 177.2 169.6 180.0 170.0C182.8 170.4 185.8 170.7 188.0 172.0C190.2 173.3 192.4 175.7 193.5 178.0C194.6 180.3 194.8 183.3 194.5 186.0C194.2 188.7 193.8 192.3 192.0 194.0C190.2 195.7 186.7 195.8 184.0 196.0C181.3 196.2 178.7 195.2 176.0 195.0C173.3 194.8 171.0 195.2 168.0 195.0C165.0 194.8 160.2 195.5 158.0 194.0C155.8 192.5 155.0 188.7 154.5 186.0C154.0 183.3 154.6 180.3 155.0 178.0C155.4 175.7 155.7 173.3 157.0 172.0Z" fill="none" stroke="#3c3cf0" stroke-width="0.6"/>
<path d="M160.9 195.1C159.8 195.2 166.0 195.0 166.9 195.7C167.8 196.4 166.9 198.4 166.3 199.4C165.7 200.4 163.9 200.3 163.3 201.8C162.7 203.3 162.6 206.1 162.7 208.4C162.8 210.7 164.3 213.7 163.9 215.7C163.5 217.7 162.3 219.4 160.3 220.6C158.3 221.8 153.8 221.6 151.8 223.0C149.8 224.4 148.3 226.9 148.2 229.0C148.1 231.1 149.6 234.3 151.2 235.7C152.8 237.1 155.4 238.2 157.9 237.5C160.4 236.8 163.7 233.5 166.3 231.5C168.9 229.5 171.4 227.6 173.6 225.4C175.8 223.2 178.5 220.5 179.7 218.1C180.9 215.7 180.9 213.3 180.9 210.9C180.9 208.5 180.3 205.6 179.7 203.6C179.1 201.6 178.2 200.2 177.2 198.8C176.2 197.4 176.3 195.7 173.6 195.1C170.9 194.5 162.0 195.0 160.9 195.1Z" fill="none" stroke="#3c3cf0" stroke-width="0.7"/>
<path d="M165.1 208.4C166.1 206.7 168.0 205.6 170.0 205.4C172.0 205.2 175.6 206.1 177.2 207.2C178.8 208.3 179.5 210.3 179.7 212.1C179.9 213.9 179.8 216.3 178.4 218.1C177.0 219.9 173.2 222.0 171.2 223.0C169.2 224.0 167.7 224.4 166.3 224.2C164.9 224.0 163.1 223.2 162.7 221.8C162.3 220.4 163.5 217.9 163.9 215.7C164.3 213.5 164.1 210.1 165.1 208.4Z" fill="none" stroke="#3c3cf0" stroke-width="0.6"/>
<path d="M166.0 214.0C166.7 212.8 170.3 211.3 172.0 211.0C173.7 210.7 175.7 211.2 176.0 212.0C176.3 212.8 175.3 215.0 174.0 216.0C172.7 217.0 169.3 218.3 168.0 218.0C166.7 217.7 165.3 215.2 166.0 214.0Z" fill="none" stroke="#78b4ff" stroke-width="0.5"/>
<path d="M163.6 225.5C163.8 225.8 164.0 226.1 164.1 226.5C164.2 226.9 164.3 227.3 164.4 227.7C164.4 228.1 164.4 228.5 164.3 228.9C164.3 229.3 164.1 229.7 164.0 230.1C163.8 230.5 163.6 230.9 163.4 231.3C163.1 231.7 162.8 232.0 162.5 232.4C162.2 232.7 161.9 233.0 161.5 233.3C161.1 233.5 160.7 233.8 160.3 233.9C159.9 234.1 159.4 234.3 159.0 234.4C158.6 234.5 158.1 234.5 157.7 234.5C157.2 234.5 156.8 234.5 156.4 234.4C156.0 234.3 155.6 234.2 155.2 234.0C154.9 233.9 154.5 233.7 154.2 233.4C153.9 233.2 153.7 232.9 153.4 232.5C153.2 232.2 153.0 231.9 152.9 231.5C152.8 231.1 152.7 230.7 152.6 230.3C152.6 229.9 152.6 229.5 152.7 229.1C152.7 228.7 152.9 228.3 153.0 227.9C153.2 227.5 153.4 227.1 153.6 226.7C153.9 226.3 154.2 226.0 154.5 225.6C154.8 225.3 155.1 225.0 155.5 224.7C155.9 224.5 156.3 224.2 156.7 224.1C157.1 223.9 157.6 223.7 158.0 223.6C158.4 223.5 158.9 223.5 159.3 223.5C159.8 223.5 160.2 223.5 160.6 223.6C161.0 223.7 161.4 223.8 161.8 224.0C162.1 224.1 162.5 224.3 162.8 224.6C163.1 224.8 163.3 225.1 163.6 225.5Z" fill="#c8f3ff" stroke="#6fbcff" stroke-width="0.5"/>
<path d="M162.9 225.9C163.1 226.2 163.3 226.5 163.4 226.8C163.5 227.1 163.6 227.5 163.6 227.8C163.7 228.2 163.7 228.5 163.6 228.9C163.5 229.3 163.4 229.6 163.3 230.0C163.2 230.3 163.0 230.7 162.8 231.0C162.6 231.3 162.3 231.7 162.0 232.0C161.8 232.2 161.4 232.5 161.1 232.7C160.8 233.0 160.4 233.2 160.1 233.3C159.7 233.5 159.3 233.6 158.9 233.7C158.6 233.8 158.2 233.8 157.8 233.9C157.4 233.9 157.0 233.8 156.7 233.8C156.3 233.7 156.0 233.6 155.6 233.4C155.3 233.3 155.0 233.1 154.8 232.9C154.5 232.6 154.3 232.4 154.1 232.1C153.9 231.8 153.7 231.5 153.6 231.2C153.5 230.9 153.4 230.5 153.4 230.2C153.3 229.8 153.3 229.5 153.4 229.1C153.5 228.7 153.6 228.4 153.7 228.0C153.8 227.7 154.0 227.3 154.2 227.0C154.4 226.7 154.7 226.3 155.0 226.0C155.2 225.8 155.6 225.5 155.9 225.3C156.2 225.0 156.6 224.8 156.9 224.7C157.3 224.5 157.7 224.4 158.1 224.3C158.4 224.2 158.8 224.2 159.2 224.1C159.6 224.1 160.0 224.2 160.3 224.2C160.7 224.3 161.0 224.4 161.4 224.6C161.7 224.7 162.0 224.9 162.2 225.1C162.5 225.4 162.7 225.6 162.9 225.9Z" fill="#8ee6f6" stroke="none"/>
<path d="M166.3 223.6C166.6 224.0 166.9 224.6 167.1 225.1C167.3 225.7 167.4 226.3 167.5 226.9C167.6 227.5 167.5 228.2 167.4 228.8C167.4 229.5 167.2 230.1 166.9 230.7C166.7 231.3 166.4 232.0 166.0 232.5C165.6 233.1 165.2 233.7 164.7 234.2C164.2 234.7 163.7 235.1 163.1 235.6C162.5 236.0 161.9 236.3 161.2 236.6C160.6 236.9 159.9 237.1 159.3 237.3C158.6 237.4 157.9 237.5 157.2 237.5C156.6 237.5 155.9 237.5 155.3 237.3C154.7 237.2 154.0 237.0 153.5 236.8C152.9 236.5 152.4 236.2 151.9 235.8C151.5 235.4 151.1 234.9 150.7 234.4C150.4 234.0 150.1 233.4 149.9 232.9C149.7 232.3 149.6 231.7 149.5 231.1C149.4 230.5 149.5 229.8 149.6 229.2C149.6 228.5 149.8 227.9 150.1 227.3C150.3 226.7 150.6 226.0 151.0 225.5C151.4 224.9 151.8 224.3 152.3 223.8C152.8 223.3 153.3 222.9 153.9 222.4C154.5 222.0 155.1 221.7 155.8 221.4C156.4 221.1 157.1 220.9 157.7 220.7C158.4 220.6 159.1 220.5 159.8 220.5C160.4 220.5 161.1 220.5 161.7 220.7C162.3 220.8 163.0 221.0 163.5 221.2C164.1 221.5 164.6 221.8 165.1 222.2C165.5 222.6 165.9 223.1 166.3 223.6Z" fill="none" stroke="#3434ee" stroke-width="0.8"/>
<path d="M165.2 224.3C165.5 224.7 165.7 225.2 165.9 225.7C166.1 226.2 166.2 226.7 166.2 227.2C166.3 227.8 166.3 228.3 166.2 228.9C166.1 229.4 166.0 230.0 165.8 230.5C165.6 231.0 165.3 231.5 165.0 232.0C164.6 232.5 164.3 233.0 163.8 233.5C163.4 233.9 162.9 234.3 162.4 234.6C161.9 235.0 161.4 235.3 160.9 235.5C160.3 235.8 159.7 236.0 159.2 236.1C158.6 236.2 158.0 236.3 157.4 236.3C156.8 236.3 156.3 236.3 155.7 236.2C155.2 236.1 154.7 235.9 154.2 235.7C153.7 235.4 153.2 235.2 152.9 234.8C152.5 234.5 152.1 234.1 151.8 233.7C151.5 233.3 151.3 232.8 151.1 232.3C150.9 231.8 150.8 231.3 150.8 230.8C150.7 230.2 150.7 229.7 150.8 229.1C150.9 228.6 151.0 228.0 151.2 227.5C151.4 227.0 151.7 226.5 152.0 226.0C152.4 225.5 152.7 225.0 153.2 224.5C153.6 224.1 154.1 223.7 154.6 223.4C155.1 223.0 155.6 222.7 156.1 222.5C156.7 222.2 157.3 222.0 157.8 221.9C158.4 221.8 159.0 221.7 159.6 221.7C160.2 221.7 160.7 221.7 161.3 221.8C161.8 221.9 162.3 222.1 162.8 222.3C163.3 222.6 163.8 222.8 164.1 223.2C164.5 223.5 164.9 223.9 165.2 224.3Z" fill="none" stroke="#4040f0" stroke-width="0.7"/>
<path d="M164.3 225.0C164.5 225.3 164.7 225.7 164.9 226.1C165.0 226.6 165.1 227.0 165.2 227.5C165.2 227.9 165.2 228.4 165.1 228.9C165.0 229.3 164.9 229.8 164.7 230.3C164.6 230.7 164.3 231.2 164.1 231.6C163.8 232.0 163.5 232.5 163.1 232.8C162.7 233.2 162.3 233.6 161.9 233.8C161.5 234.1 161.0 234.4 160.5 234.6C160.1 234.8 159.6 235.0 159.1 235.1C158.6 235.2 158.1 235.3 157.6 235.3C157.1 235.3 156.6 235.3 156.1 235.2C155.7 235.1 155.2 234.9 154.8 234.7C154.4 234.5 154.0 234.3 153.6 234.0C153.3 233.7 153.0 233.4 152.7 233.0C152.5 232.7 152.3 232.3 152.1 231.9C152.0 231.4 151.9 231.0 151.8 230.5C151.8 230.1 151.8 229.6 151.9 229.1C152.0 228.7 152.1 228.2 152.3 227.7C152.4 227.3 152.7 226.8 152.9 226.4C153.2 226.0 153.5 225.5 153.9 225.2C154.3 224.8 154.7 224.4 155.1 224.2C155.5 223.9 156.0 223.6 156.5 223.4C156.9 223.2 157.4 223.0 157.9 222.9C158.4 222.8 158.9 222.7 159.4 222.7C159.9 222.7 160.4 222.7 160.9 222.8C161.3 222.9 161.8 223.1 162.2 223.3C162.6 223.5 163.0 223.7 163.4 224.0C163.7 224.3 164.0 224.6 164.3 225.0Z" fill="none" stroke="#5066f4" stroke-width="0.6"/>
<path d="M162.0 226.5C162.2 226.8 162.3 227.0 162.4 227.3C162.5 227.5 162.5 227.8 162.6 228.1C162.6 228.3 162.6 228.6 162.5 228.9C162.5 229.2 162.4 229.5 162.3 229.8C162.2 230.1 162.0 230.3 161.9 230.6C161.7 230.9 161.5 231.1 161.3 231.3C161.1 231.6 160.8 231.8 160.6 231.9C160.3 232.1 160.0 232.3 159.7 232.4C159.4 232.5 159.1 232.7 158.8 232.7C158.5 232.8 158.2 232.8 157.9 232.8C157.6 232.8 157.3 232.8 157.0 232.8C156.8 232.7 156.5 232.6 156.2 232.5C156.0 232.4 155.8 232.2 155.5 232.0C155.3 231.9 155.2 231.7 155.0 231.5C154.8 231.2 154.7 231.0 154.6 230.7C154.5 230.5 154.5 230.2 154.4 229.9C154.4 229.7 154.4 229.4 154.5 229.1C154.5 228.8 154.6 228.5 154.7 228.2C154.8 227.9 155.0 227.7 155.1 227.4C155.3 227.1 155.5 226.9 155.7 226.7C155.9 226.4 156.2 226.2 156.4 226.1C156.7 225.9 157.0 225.7 157.3 225.6C157.6 225.5 157.9 225.3 158.2 225.3C158.5 225.2 158.8 225.2 159.1 225.2C159.4 225.2 159.7 225.2 160.0 225.2C160.2 225.3 160.5 225.4 160.8 225.5C161.0 225.6 161.2 225.8 161.5 226.0C161.7 226.1 161.8 226.3 162.0 226.5Z" fill="#8fe98a" stroke="none"/>
<path d="M161.6 226.8C161.7 227.0 161.8 227.3 161.9 227.5C162.0 227.7 162.0 227.9 162.1 228.2C162.1 228.4 162.1 228.7 162.0 228.9C162.0 229.2 161.9 229.4 161.8 229.7C161.7 229.9 161.6 230.2 161.5 230.4C161.3 230.6 161.2 230.9 161.0 231.0C160.8 231.2 160.5 231.4 160.3 231.6C160.1 231.8 159.8 231.9 159.6 232.0C159.3 232.1 159.1 232.2 158.8 232.3C158.5 232.3 158.3 232.4 158.0 232.4C157.7 232.4 157.5 232.4 157.2 232.3C157.0 232.3 156.7 232.2 156.5 232.1C156.3 232.0 156.1 231.8 155.9 231.7C155.7 231.5 155.6 231.4 155.4 231.2C155.3 231.0 155.2 230.7 155.1 230.5C155.0 230.3 155.0 230.1 154.9 229.8C154.9 229.6 154.9 229.3 155.0 229.1C155.0 228.8 155.1 228.6 155.2 228.3C155.3 228.1 155.4 227.8 155.5 227.6C155.7 227.4 155.8 227.1 156.0 227.0C156.2 226.8 156.5 226.6 156.7 226.4C156.9 226.2 157.2 226.1 157.4 226.0C157.7 225.9 157.9 225.8 158.2 225.7C158.5 225.7 158.7 225.6 159.0 225.6C159.3 225.6 159.5 225.6 159.8 225.7C160.0 225.7 160.3 225.8 160.5 225.9C160.7 226.0 160.9 226.2 161.1 226.3C161.3 226.5 161.4 226.6 161.6 226.8Z" fill="#4ade42" stroke="none"/>
<path d="M160.0 227.9C160.1 228.0 160.2 228.1 160.2 228.2C160.2 228.3 160.3 228.5 160.3 228.6C160.3 228.7 160.3 228.8 160.3 229.0C160.3 229.1 160.2 229.2 160.2 229.3C160.1 229.5 160.1 229.6 160.0 229.7C159.9 229.8 159.8 229.9 159.7 230.0C159.6 230.1 159.5 230.2 159.4 230.3C159.3 230.4 159.2 230.4 159.0 230.5C158.9 230.6 158.8 230.6 158.7 230.6C158.5 230.7 158.4 230.7 158.2 230.7C158.1 230.7 158.0 230.7 157.9 230.7C157.7 230.6 157.6 230.6 157.5 230.5C157.4 230.5 157.3 230.4 157.2 230.3C157.1 230.3 157.0 230.2 157.0 230.1C156.9 230.0 156.8 229.9 156.8 229.8C156.8 229.7 156.7 229.5 156.7 229.4C156.7 229.3 156.7 229.2 156.7 229.0C156.7 228.9 156.8 228.8 156.8 228.7C156.9 228.5 156.9 228.4 157.0 228.3C157.1 228.2 157.2 228.1 157.3 228.0C157.4 227.9 157.5 227.8 157.6 227.7C157.7 227.6 157.8 227.6 158.0 227.5C158.1 227.4 158.2 227.4 158.3 227.4C158.5 227.3 158.6 227.3 158.8 227.3C158.9 227.3 159.0 227.3 159.1 227.3C159.3 227.4 159.4 227.4 159.5 227.5C159.6 227.5 159.7 227.6 159.8 227.7C159.9 227.7 160.0 227.8 160.0 227.9Z" fill="#bdee4a" stroke="none"/>
<path d="M159.3 228.4C159.4 228.5 159.4 228.5 159.4 228.6C159.5 228.6 159.5 228.7 159.5 228.8C159.5 228.8 159.5 228.9 159.5 229.0C159.5 229.0 159.4 229.1 159.4 229.2C159.4 229.3 159.4 229.3 159.3 229.4C159.3 229.4 159.2 229.5 159.2 229.6C159.1 229.6 159.1 229.7 159.0 229.7C158.9 229.8 158.9 229.8 158.8 229.8C158.7 229.9 158.7 229.9 158.6 229.9C158.5 229.9 158.4 229.9 158.4 229.9C158.3 229.9 158.2 229.9 158.2 229.9C158.1 229.9 158.0 229.9 158.0 229.8C157.9 229.8 157.8 229.8 157.8 229.7C157.7 229.7 157.7 229.6 157.7 229.6C157.6 229.5 157.6 229.5 157.6 229.4C157.5 229.4 157.5 229.3 157.5 229.2C157.5 229.2 157.5 229.1 157.5 229.0C157.5 229.0 157.6 228.9 157.6 228.8C157.6 228.7 157.6 228.7 157.7 228.6C157.7 228.6 157.8 228.5 157.8 228.4C157.9 228.4 157.9 228.3 158.0 228.3C158.1 228.2 158.1 228.2 158.2 228.2C158.3 228.1 158.3 228.1 158.4 228.1C158.5 228.1 158.6 228.1 158.6 228.1C158.7 228.1 158.8 228.1 158.8 228.1C158.9 228.1 159.0 228.1 159.0 228.2C159.1 228.2 159.2 228.2 159.2 228.3C159.3 228.3 159.3 228.4 159.3 228.4Z" fill="#e6f070" stroke="none"/>
<path d="M189.6 186.4C189.6 186.8 189.6 187.3 189.4 187.7C189.3 188.1 189.2 188.5 189.0 188.9C188.8 189.3 188.5 189.6 188.2 190.0C187.9 190.3 187.6 190.6 187.2 190.9C186.9 191.1 186.5 191.4 186.0 191.6C185.6 191.7 185.2 191.9 184.7 192.0C184.2 192.1 183.8 192.1 183.3 192.1C182.8 192.1 182.4 192.1 181.9 192.0C181.4 191.9 181.0 191.7 180.6 191.6C180.1 191.4 179.7 191.1 179.4 190.9C179.0 190.6 178.7 190.3 178.4 190.0C178.1 189.6 177.8 189.3 177.6 188.9C177.4 188.5 177.3 188.1 177.2 187.7C177.0 187.3 177.0 186.8 177.0 186.4C177.0 186.0 177.0 185.5 177.2 185.1C177.3 184.7 177.4 184.3 177.6 183.9C177.8 183.5 178.1 183.2 178.4 182.8C178.7 182.5 179.0 182.2 179.4 181.9C179.7 181.7 180.1 181.4 180.6 181.2C181.0 181.1 181.4 180.9 181.9 180.8C182.4 180.7 182.8 180.7 183.3 180.7C183.8 180.7 184.2 180.7 184.7 180.8C185.2 180.9 185.6 181.1 186.0 181.2C186.5 181.4 186.9 181.7 187.2 181.9C187.6 182.2 187.9 182.5 188.2 182.8C188.5 183.2 188.8 183.5 189.0 183.9C189.2 184.3 189.3 184.7 189.4 185.1C189.6 185.5 189.6 186.0 189.6 186.4Z" fill="#c8f3ff" stroke="#6fbcff" stroke-width="0.5"/>
<path d="M188.8 186.4C188.8 186.8 188.8 187.2 188.7 187.5C188.6 187.9 188.5 188.2 188.3 188.6C188.1 188.9 187.9 189.2 187.6 189.5C187.4 189.8 187.1 190.1 186.7 190.3C186.4 190.6 186.1 190.8 185.7 190.9C185.3 191.1 184.9 191.2 184.5 191.3C184.1 191.4 183.7 191.4 183.3 191.4C182.9 191.4 182.5 191.4 182.1 191.3C181.7 191.2 181.3 191.1 180.9 190.9C180.5 190.8 180.2 190.6 179.9 190.3C179.5 190.1 179.2 189.8 179.0 189.5C178.7 189.2 178.5 188.9 178.3 188.6C178.1 188.2 178.0 187.9 177.9 187.5C177.8 187.2 177.8 186.8 177.8 186.4C177.8 186.0 177.8 185.6 177.9 185.3C178.0 184.9 178.1 184.6 178.3 184.2C178.5 183.9 178.7 183.6 179.0 183.3C179.2 183.0 179.5 182.7 179.9 182.5C180.2 182.2 180.5 182.0 180.9 181.9C181.3 181.7 181.7 181.6 182.1 181.5C182.5 181.4 182.9 181.4 183.3 181.4C183.7 181.4 184.1 181.4 184.5 181.5C184.9 181.6 185.3 181.7 185.7 181.9C186.1 182.0 186.4 182.2 186.7 182.5C187.1 182.7 187.4 183.0 187.6 183.3C187.9 183.6 188.1 183.9 188.3 184.2C188.5 184.6 188.6 184.9 188.7 185.3C188.8 185.6 188.8 186.0 188.8 186.4Z" fill="#8ee6f6" stroke="none"/>
<path d="M193.0 186.4C193.0 187.1 192.9 187.7 192.8 188.4C192.6 189.0 192.4 189.6 192.0 190.2C191.7 190.8 191.3 191.4 190.9 191.9C190.4 192.4 189.9 192.9 189.3 193.3C188.8 193.7 188.2 194.0 187.5 194.3C186.9 194.6 186.2 194.8 185.5 195.0C184.8 195.1 184.0 195.2 183.3 195.2C182.6 195.2 181.8 195.1 181.1 195.0C180.4 194.8 179.7 194.6 179.1 194.3C178.4 194.0 177.8 193.7 177.3 193.3C176.7 192.9 176.2 192.4 175.7 191.9C175.3 191.4 174.9 190.8 174.6 190.2C174.2 189.6 174.0 189.0 173.8 188.4C173.7 187.7 173.6 187.1 173.6 186.4C173.6 185.7 173.7 185.1 173.8 184.4C174.0 183.8 174.2 183.2 174.6 182.6C174.9 182.0 175.3 181.4 175.7 180.9C176.2 180.4 176.7 179.9 177.3 179.5C177.8 179.1 178.4 178.8 179.1 178.5C179.7 178.2 180.4 178.0 181.1 177.8C181.8 177.7 182.6 177.6 183.3 177.6C184.0 177.6 184.8 177.7 185.5 177.8C186.2 178.0 186.9 178.2 187.5 178.5C188.2 178.8 188.8 179.1 189.3 179.5C189.9 179.9 190.4 180.4 190.9 180.9C191.3 181.4 191.7 182.0 192.0 182.6C192.4 183.2 192.6 183.8 192.8 184.4C192.9 185.1 193.0 185.7 193.0 186.4Z" fill="none" stroke="#3434ee" stroke-width="0.8"/>
<path d="M191.6 186.4C191.6 187.0 191.6 187.5 191.4 188.1C191.3 188.6 191.1 189.2 190.8 189.7C190.5 190.2 190.2 190.7 189.8 191.1C189.4 191.6 189.0 192.0 188.5 192.3C188.0 192.7 187.5 193.0 186.9 193.2C186.4 193.5 185.8 193.7 185.2 193.8C184.6 193.9 183.9 194.0 183.3 194.0C182.7 194.0 182.0 193.9 181.4 193.8C180.8 193.7 180.2 193.5 179.7 193.2C179.1 193.0 178.6 192.7 178.1 192.3C177.6 192.0 177.2 191.6 176.8 191.1C176.4 190.7 176.1 190.2 175.8 189.7C175.5 189.2 175.3 188.6 175.2 188.1C175.0 187.5 175.0 187.0 175.0 186.4C175.0 185.8 175.0 185.3 175.2 184.7C175.3 184.2 175.5 183.6 175.8 183.1C176.1 182.6 176.4 182.1 176.8 181.7C177.2 181.2 177.6 180.8 178.1 180.5C178.6 180.1 179.1 179.8 179.7 179.6C180.2 179.3 180.8 179.1 181.4 179.0C182.0 178.9 182.7 178.8 183.3 178.8C183.9 178.8 184.6 178.9 185.2 179.0C185.8 179.1 186.4 179.3 186.9 179.6C187.5 179.8 188.0 180.1 188.5 180.5C189.0 180.8 189.4 181.2 189.8 181.7C190.2 182.1 190.5 182.6 190.8 183.1C191.1 183.6 191.3 184.2 191.4 184.7C191.6 185.3 191.6 185.8 191.6 186.4Z" fill="none" stroke="#4040f0" stroke-width="0.7"/>
<path d="M190.5 186.4C190.5 186.9 190.4 187.4 190.3 187.8C190.2 188.3 190.0 188.8 189.8 189.2C189.5 189.7 189.2 190.1 188.9 190.5C188.6 190.8 188.2 191.2 187.8 191.5C187.4 191.8 186.9 192.1 186.4 192.3C185.9 192.5 185.4 192.6 184.9 192.7C184.4 192.9 183.8 192.9 183.3 192.9C182.8 192.9 182.2 192.9 181.7 192.7C181.2 192.6 180.7 192.5 180.2 192.3C179.7 192.1 179.2 191.8 178.8 191.5C178.4 191.2 178.0 190.8 177.7 190.5C177.4 190.1 177.1 189.7 176.8 189.2C176.6 188.8 176.4 188.3 176.3 187.8C176.2 187.4 176.1 186.9 176.1 186.4C176.1 185.9 176.2 185.4 176.3 185.0C176.4 184.5 176.6 184.0 176.8 183.6C177.1 183.1 177.4 182.7 177.7 182.3C178.0 182.0 178.4 181.6 178.8 181.3C179.2 181.0 179.7 180.7 180.2 180.5C180.7 180.3 181.2 180.2 181.7 180.1C182.2 179.9 182.8 179.9 183.3 179.9C183.8 179.9 184.4 179.9 184.9 180.1C185.4 180.2 185.9 180.3 186.4 180.5C186.9 180.7 187.4 181.0 187.8 181.3C188.2 181.6 188.6 182.0 188.9 182.3C189.2 182.7 189.5 183.1 189.8 183.6C190.0 184.0 190.2 184.5 190.3 185.0C190.4 185.4 190.5 185.9 190.5 186.4Z" fill="none" stroke="#5066f4" stroke-width="0.6"/>
<path d="M188.2 186.4C188.2 186.7 188.1 187.1 188.0 187.4C187.9 187.7 187.8 188.0 187.7 188.3C187.5 188.6 187.3 188.9 187.1 189.1C186.9 189.4 186.6 189.6 186.3 189.8C186.0 190.0 185.7 190.2 185.4 190.4C185.1 190.5 184.7 190.6 184.4 190.7C184.0 190.8 183.7 190.8 183.3 190.8C182.9 190.8 182.6 190.8 182.2 190.7C181.9 190.6 181.5 190.5 181.2 190.4C180.9 190.2 180.6 190.0 180.3 189.8C180.0 189.6 179.7 189.4 179.5 189.1C179.3 188.9 179.1 188.6 178.9 188.3C178.8 188.0 178.7 187.7 178.6 187.4C178.5 187.1 178.5 186.7 178.5 186.4C178.5 186.1 178.5 185.7 178.6 185.4C178.7 185.1 178.8 184.8 178.9 184.5C179.1 184.2 179.3 183.9 179.5 183.7C179.7 183.4 180.0 183.2 180.3 183.0C180.6 182.8 180.9 182.6 181.2 182.4C181.5 182.3 181.9 182.2 182.2 182.1C182.6 182.0 182.9 182.0 183.3 182.0C183.7 182.0 184.0 182.0 184.4 182.1C184.7 182.2 185.1 182.3 185.4 182.4C185.7 182.6 186.0 182.8 186.3 183.0C186.6 183.2 186.9 183.4 187.1 183.7C187.3 183.9 187.5 184.2 187.7 184.5C187.8 184.8 187.9 185.1 188.0 185.4C188.1 185.7 188.2 186.1 188.2 186.4Z" fill="#8fe98a" stroke="none"/>
<path d="M187.6 186.4C187.6 186.7 187.5 187.0 187.5 187.3C187.4 187.5 187.3 187.8 187.1 188.1C187.0 188.3 186.8 188.6 186.6 188.8C186.4 189.0 186.2 189.2 186.0 189.4C185.7 189.6 185.4 189.8 185.2 189.9C184.9 190.0 184.6 190.1 184.2 190.2C183.9 190.2 183.6 190.3 183.3 190.3C183.0 190.3 182.7 190.2 182.4 190.2C182.0 190.1 181.7 190.0 181.4 189.9C181.2 189.8 180.9 189.6 180.6 189.4C180.4 189.2 180.2 189.0 180.0 188.8C179.8 188.6 179.6 188.3 179.5 188.1C179.3 187.8 179.2 187.5 179.1 187.3C179.1 187.0 179.0 186.7 179.0 186.4C179.0 186.1 179.1 185.8 179.1 185.5C179.2 185.3 179.3 185.0 179.5 184.7C179.6 184.5 179.8 184.2 180.0 184.0C180.2 183.8 180.4 183.6 180.6 183.4C180.9 183.2 181.2 183.0 181.4 182.9C181.7 182.8 182.0 182.7 182.4 182.6C182.7 182.6 183.0 182.5 183.3 182.5C183.6 182.5 183.9 182.6 184.2 182.6C184.6 182.7 184.9 182.8 185.2 182.9C185.4 183.0 185.7 183.2 186.0 183.4C186.2 183.6 186.4 183.8 186.6 184.0C186.8 184.2 187.0 184.5 187.1 184.7C187.3 185.0 187.4 185.3 187.5 185.5C187.5 185.8 187.6 186.1 187.6 186.4Z" fill="#4ade42" stroke="none"/>
<path d="M185.4 186.4C185.4 186.5 185.4 186.7 185.4 186.8C185.3 187.0 185.3 187.1 185.2 187.2C185.2 187.4 185.1 187.5 185.0 187.6C184.9 187.7 184.8 187.8 184.6 187.9C184.5 188.0 184.4 188.1 184.2 188.1C184.1 188.2 183.9 188.3 183.8 188.3C183.6 188.3 183.5 188.3 183.3 188.3C183.1 188.3 183.0 188.3 182.8 188.3C182.7 188.3 182.5 188.2 182.4 188.1C182.2 188.1 182.1 188.0 182.0 187.9C181.8 187.8 181.7 187.7 181.6 187.6C181.5 187.5 181.4 187.4 181.4 187.2C181.3 187.1 181.3 187.0 181.2 186.8C181.2 186.7 181.2 186.5 181.2 186.4C181.2 186.3 181.2 186.1 181.2 186.0C181.3 185.8 181.3 185.7 181.4 185.6C181.4 185.4 181.5 185.3 181.6 185.2C181.7 185.1 181.8 185.0 182.0 184.9C182.1 184.8 182.2 184.7 182.4 184.7C182.5 184.6 182.7 184.5 182.8 184.5C183.0 184.5 183.1 184.5 183.3 184.5C183.5 184.5 183.6 184.5 183.8 184.5C183.9 184.5 184.1 184.6 184.2 184.7C184.4 184.7 184.5 184.8 184.6 184.9C184.8 185.0 184.9 185.1 185.0 185.2C185.1 185.3 185.2 185.4 185.2 185.6C185.3 185.7 185.3 185.8 185.4 186.0C185.4 186.1 185.4 186.3 185.4 186.4Z" fill="#bdee4a" stroke="none"/>
<path d="M184.5 186.4C184.5 186.5 184.5 186.6 184.4 186.6C184.4 186.7 184.4 186.8 184.3 186.9C184.3 186.9 184.3 187.0 184.2 187.1C184.2 187.1 184.1 187.2 184.0 187.2C184.0 187.3 183.9 187.3 183.8 187.4C183.7 187.4 183.6 187.4 183.6 187.4C183.5 187.4 183.4 187.5 183.3 187.5C183.2 187.5 183.1 187.4 183.0 187.4C183.0 187.4 182.9 187.4 182.8 187.4C182.7 187.3 182.6 187.3 182.6 187.2C182.5 187.2 182.4 187.1 182.4 187.1C182.3 187.0 182.3 186.9 182.3 186.9C182.2 186.8 182.2 186.7 182.2 186.6C182.1 186.6 182.1 186.5 182.1 186.4C182.1 186.3 182.1 186.2 182.2 186.2C182.2 186.1 182.2 186.0 182.3 185.9C182.3 185.9 182.3 185.8 182.4 185.7C182.4 185.7 182.5 185.6 182.6 185.6C182.6 185.5 182.7 185.5 182.8 185.4C182.9 185.4 183.0 185.4 183.0 185.4C183.1 185.4 183.2 185.3 183.3 185.3C183.4 185.3 183.5 185.4 183.6 185.4C183.6 185.4 183.7 185.4 183.8 185.4C183.9 185.5 184.0 185.5 184.0 185.6C184.1 185.6 184.2 185.7 184.2 185.7C184.3 185.8 184.3 185.9 184.3 185.9C184.4 186.0 184.4 186.1 184.4 186.2C184.5 186.2 184.5 186.3 184.5 186.4Z" fill="#e6f070" stroke="none"/>
<path d="M171.5 182.7C171.5 183.2 171.4 183.7 171.3 184.2C171.2 184.7 171.1 185.2 170.9 185.7C170.7 186.1 170.5 186.6 170.2 187.0C169.9 187.4 169.6 187.8 169.2 188.1C168.9 188.4 168.5 188.7 168.1 188.9C167.7 189.1 167.3 189.3 166.8 189.4C166.4 189.5 165.9 189.6 165.5 189.6C165.1 189.6 164.6 189.5 164.2 189.4C163.7 189.3 163.3 189.1 162.9 188.9C162.5 188.7 162.1 188.4 161.8 188.1C161.4 187.8 161.1 187.4 160.8 187.0C160.5 186.6 160.3 186.1 160.1 185.7C159.9 185.2 159.8 184.7 159.7 184.2C159.6 183.7 159.5 183.2 159.5 182.7C159.5 182.2 159.6 181.7 159.7 181.2C159.8 180.7 159.9 180.2 160.1 179.7C160.3 179.3 160.5 178.8 160.8 178.4C161.1 178.0 161.4 177.6 161.8 177.3C162.1 177.0 162.5 176.7 162.9 176.5C163.3 176.3 163.7 176.1 164.2 176.0C164.6 175.9 165.1 175.8 165.5 175.8C165.9 175.8 166.4 175.9 166.8 176.0C167.3 176.1 167.7 176.3 168.1 176.5C168.5 176.7 168.9 177.0 169.2 177.3C169.6 177.6 169.9 178.0 170.2 178.4C170.5 178.8 170.7 179.3 170.9 179.7C171.1 180.2 171.2 180.7 171.3 181.2C171.4 181.7 171.5 182.2 171.5 182.7Z" fill="#c8f3ff" stroke="#6fbcff" stroke-width="0.5"/>
<path d="M170.9 182.7C170.9 183.1 170.9 183.6 170.8 184.0C170.7 184.5 170.6 184.9 170.4 185.3C170.2 185.7 170.0 186.1 169.8 186.5C169.5 186.8 169.2 187.1 168.9 187.4C168.6 187.7 168.3 187.9 167.9 188.1C167.6 188.3 167.2 188.5 166.8 188.6C166.4 188.7 166.0 188.7 165.7 188.7C165.3 188.7 164.9 188.7 164.5 188.6C164.1 188.5 163.7 188.3 163.4 188.1C163.0 187.9 162.7 187.7 162.4 187.4C162.1 187.1 161.8 186.8 161.6 186.5C161.3 186.1 161.1 185.7 160.9 185.3C160.8 184.9 160.6 184.5 160.5 184.0C160.5 183.6 160.4 183.1 160.4 182.7C160.4 182.3 160.5 181.8 160.5 181.4C160.6 180.9 160.8 180.5 160.9 180.1C161.1 179.7 161.3 179.3 161.6 178.9C161.8 178.6 162.1 178.3 162.4 178.0C162.7 177.7 163.0 177.5 163.4 177.3C163.7 177.1 164.1 176.9 164.5 176.8C164.9 176.7 165.3 176.7 165.7 176.7C166.0 176.7 166.4 176.7 166.8 176.8C167.2 176.9 167.6 177.1 167.9 177.3C168.3 177.5 168.6 177.7 168.9 178.0C169.2 178.3 169.5 178.6 169.8 178.9C170.0 179.3 170.2 179.7 170.4 180.1C170.6 180.5 170.7 180.9 170.8 181.4C170.9 181.8 170.9 182.3 170.9 182.7Z" fill="#8ee6f6" stroke="none"/>
<path d="M174.0 182.7C174.0 183.5 173.9 184.3 173.8 185.1C173.6 185.8 173.4 186.6 173.1 187.3C172.8 188.0 172.4 188.7 172.0 189.3C171.6 189.9 171.1 190.5 170.5 191.0C170.0 191.5 169.4 191.9 168.8 192.3C168.2 192.6 167.5 192.9 166.8 193.0C166.2 193.2 165.5 193.3 164.8 193.3C164.1 193.3 163.4 193.2 162.8 193.0C162.1 192.9 161.4 192.6 160.8 192.3C160.2 191.9 159.6 191.5 159.1 191.0C158.5 190.5 158.0 189.9 157.6 189.3C157.2 188.7 156.8 188.0 156.5 187.3C156.2 186.6 156.0 185.8 155.8 185.1C155.7 184.3 155.6 183.5 155.6 182.7C155.6 181.9 155.7 181.1 155.8 180.3C156.0 179.6 156.2 178.8 156.5 178.1C156.8 177.4 157.2 176.7 157.6 176.1C158.0 175.5 158.5 174.9 159.1 174.4C159.6 173.9 160.2 173.5 160.8 173.1C161.4 172.8 162.1 172.5 162.8 172.4C163.4 172.2 164.1 172.1 164.8 172.1C165.5 172.1 166.2 172.2 166.8 172.4C167.5 172.5 168.2 172.8 168.8 173.1C169.4 173.5 170.0 173.9 170.5 174.4C171.1 174.9 171.6 175.5 172.0 176.1C172.4 176.7 172.8 177.4 173.1 178.1C173.4 178.8 173.6 179.6 173.8 180.3C173.9 181.1 174.0 181.9 174.0 182.7Z" fill="none" stroke="#3434ee" stroke-width="0.8"/>
<path d="M173.0 182.7C173.0 183.4 172.9 184.1 172.8 184.7C172.7 185.4 172.5 186.0 172.2 186.7C172.0 187.3 171.6 187.9 171.3 188.4C170.9 188.9 170.5 189.4 170.0 189.8C169.6 190.2 169.0 190.6 168.5 190.9C168.0 191.2 167.4 191.4 166.8 191.6C166.3 191.7 165.7 191.8 165.1 191.8C164.5 191.8 163.9 191.7 163.3 191.6C162.7 191.4 162.2 191.2 161.6 190.9C161.1 190.6 160.6 190.2 160.1 189.8C159.7 189.4 159.3 188.9 158.9 188.4C158.5 187.9 158.2 187.3 158.0 186.7C157.7 186.0 157.5 185.4 157.4 184.7C157.2 184.1 157.2 183.4 157.2 182.7C157.2 182.0 157.2 181.3 157.4 180.7C157.5 180.0 157.7 179.4 158.0 178.7C158.2 178.1 158.5 177.5 158.9 177.0C159.3 176.5 159.7 176.0 160.1 175.6C160.6 175.2 161.1 174.8 161.6 174.5C162.2 174.2 162.7 174.0 163.3 173.8C163.9 173.7 164.5 173.6 165.1 173.6C165.7 173.6 166.3 173.7 166.8 173.8C167.4 174.0 168.0 174.2 168.5 174.5C169.0 174.8 169.6 175.2 170.0 175.6C170.5 176.0 170.9 176.5 171.3 177.0C171.6 177.5 172.0 178.1 172.2 178.7C172.5 179.4 172.7 180.0 172.8 180.7C172.9 181.3 173.0 182.0 173.0 182.7Z" fill="none" stroke="#4040f0" stroke-width="0.7"/>
<path d="M172.1 182.7C172.1 183.3 172.1 183.9 172.0 184.4C171.8 185.0 171.7 185.6 171.5 186.1C171.2 186.6 171.0 187.1 170.6 187.6C170.3 188.0 170.0 188.5 169.6 188.8C169.2 189.2 168.7 189.5 168.3 189.8C167.8 190.0 167.3 190.2 166.8 190.3C166.3 190.5 165.8 190.5 165.3 190.5C164.8 190.5 164.3 190.5 163.8 190.3C163.3 190.2 162.8 190.0 162.4 189.8C161.9 189.5 161.5 189.2 161.1 188.8C160.7 188.5 160.3 188.0 160.0 187.6C159.7 187.1 159.4 186.6 159.2 186.1C159.0 185.6 158.8 185.0 158.7 184.4C158.6 183.9 158.5 183.3 158.5 182.7C158.5 182.1 158.6 181.5 158.7 181.0C158.8 180.4 159.0 179.8 159.2 179.3C159.4 178.8 159.7 178.3 160.0 177.8C160.3 177.4 160.7 176.9 161.1 176.6C161.5 176.2 161.9 175.9 162.4 175.6C162.8 175.4 163.3 175.2 163.8 175.1C164.3 174.9 164.8 174.9 165.3 174.9C165.8 174.9 166.3 174.9 166.8 175.1C167.3 175.2 167.8 175.4 168.3 175.6C168.7 175.9 169.2 176.2 169.6 176.6C170.0 176.9 170.3 177.4 170.6 177.8C171.0 178.3 171.2 178.8 171.5 179.3C171.7 179.8 171.8 180.4 172.0 181.0C172.1 181.5 172.1 182.1 172.1 182.7Z" fill="none" stroke="#5066f4" stroke-width="0.6"/>
<path d="M170.4 182.7C170.4 183.1 170.4 183.5 170.3 183.9C170.2 184.3 170.1 184.6 169.9 185.0C169.8 185.4 169.6 185.7 169.4 186.0C169.2 186.3 168.9 186.6 168.7 186.8C168.4 187.1 168.1 187.3 167.8 187.5C167.5 187.6 167.2 187.8 166.8 187.9C166.5 188.0 166.1 188.0 165.8 188.0C165.5 188.0 165.1 188.0 164.8 187.9C164.4 187.8 164.1 187.6 163.8 187.5C163.5 187.3 163.2 187.1 162.9 186.8C162.7 186.6 162.4 186.3 162.2 186.0C162.0 185.7 161.8 185.4 161.7 185.0C161.5 184.6 161.4 184.3 161.3 183.9C161.2 183.5 161.2 183.1 161.2 182.7C161.2 182.3 161.2 181.9 161.3 181.5C161.4 181.1 161.5 180.8 161.7 180.4C161.8 180.0 162.0 179.7 162.2 179.4C162.4 179.1 162.7 178.8 162.9 178.6C163.2 178.3 163.5 178.1 163.8 177.9C164.1 177.8 164.4 177.6 164.8 177.5C165.1 177.4 165.5 177.4 165.8 177.4C166.1 177.4 166.5 177.4 166.8 177.5C167.2 177.6 167.5 177.8 167.8 177.9C168.1 178.1 168.4 178.3 168.7 178.6C168.9 178.8 169.2 179.1 169.4 179.4C169.6 179.7 169.8 180.0 169.9 180.4C170.1 180.8 170.2 181.1 170.3 181.5C170.4 181.9 170.4 182.3 170.4 182.7Z" fill="#8fe98a" stroke="none"/>
<path d="M170.0 182.7C170.0 183.0 169.9 183.4 169.9 183.7C169.8 184.1 169.7 184.4 169.6 184.7C169.4 185.0 169.3 185.3 169.1 185.6C168.9 185.9 168.7 186.1 168.4 186.3C168.2 186.6 167.9 186.8 167.7 186.9C167.4 187.1 167.1 187.2 166.8 187.2C166.5 187.3 166.2 187.4 165.9 187.4C165.6 187.4 165.3 187.3 165.0 187.2C164.7 187.2 164.4 187.1 164.2 186.9C163.9 186.8 163.6 186.6 163.4 186.3C163.2 186.1 162.9 185.9 162.8 185.6C162.6 185.3 162.4 185.0 162.3 184.7C162.1 184.4 162.0 184.1 162.0 183.7C161.9 183.4 161.9 183.0 161.9 182.7C161.9 182.4 161.9 182.0 162.0 181.7C162.0 181.3 162.1 181.0 162.3 180.7C162.4 180.4 162.6 180.1 162.8 179.8C162.9 179.5 163.2 179.3 163.4 179.1C163.6 178.8 163.9 178.6 164.2 178.5C164.4 178.3 164.7 178.2 165.0 178.2C165.3 178.1 165.6 178.0 165.9 178.0C166.2 178.0 166.5 178.1 166.8 178.2C167.1 178.2 167.4 178.3 167.7 178.5C167.9 178.6 168.2 178.8 168.4 179.1C168.7 179.3 168.9 179.5 169.1 179.8C169.3 180.1 169.4 180.4 169.6 180.7C169.7 181.0 169.8 181.3 169.9 181.7C169.9 182.0 170.0 182.4 170.0 182.7Z" fill="#4ade42" stroke="none"/>
<path d="M169.0 182.7C169.0 182.9 168.9 183.2 168.9 183.4C168.8 183.6 168.8 183.9 168.7 184.1C168.6 184.3 168.5 184.5 168.4 184.7C168.2 184.9 168.1 185.0 167.9 185.2C167.8 185.3 167.6 185.5 167.4 185.6C167.2 185.7 167.0 185.7 166.8 185.8C166.6 185.9 166.4 185.9 166.2 185.9C166.0 185.9 165.8 185.9 165.6 185.8C165.4 185.7 165.2 185.7 165.0 185.6C164.8 185.5 164.6 185.3 164.5 185.2C164.3 185.0 164.2 184.9 164.0 184.7C163.9 184.5 163.8 184.3 163.7 184.1C163.6 183.9 163.6 183.6 163.5 183.4C163.5 183.2 163.4 182.9 163.4 182.7C163.4 182.5 163.5 182.2 163.5 182.0C163.6 181.8 163.6 181.5 163.7 181.3C163.8 181.1 163.9 180.9 164.0 180.7C164.2 180.5 164.3 180.4 164.5 180.2C164.6 180.1 164.8 179.9 165.0 179.8C165.2 179.7 165.4 179.7 165.6 179.6C165.8 179.5 166.0 179.5 166.2 179.5C166.4 179.5 166.6 179.5 166.8 179.6C167.0 179.7 167.2 179.7 167.4 179.8C167.6 179.9 167.8 180.1 167.9 180.2C168.1 180.4 168.2 180.5 168.4 180.7C168.5 180.9 168.6 181.1 168.7 181.3C168.8 181.5 168.8 181.8 168.9 182.0C168.9 182.2 169.0 182.5 169.0 182.7Z" fill="#d2ea3c" stroke="none"/>
<path d="M168.5 182.7C168.5 182.9 168.4 183.1 168.4 183.2C168.4 183.4 168.3 183.6 168.2 183.8C168.2 183.9 168.1 184.1 168.0 184.2C167.9 184.4 167.8 184.5 167.7 184.6C167.5 184.7 167.4 184.8 167.3 184.9C167.1 185.0 167.0 185.0 166.8 185.1C166.7 185.1 166.5 185.1 166.3 185.1C166.2 185.1 166.0 185.1 165.9 185.1C165.7 185.0 165.6 185.0 165.4 184.9C165.3 184.8 165.1 184.7 165.0 184.6C164.9 184.5 164.8 184.4 164.7 184.2C164.6 184.1 164.5 183.9 164.4 183.8C164.4 183.6 164.3 183.4 164.3 183.2C164.2 183.1 164.2 182.9 164.2 182.7C164.2 182.5 164.2 182.3 164.3 182.2C164.3 182.0 164.4 181.8 164.4 181.6C164.5 181.5 164.6 181.3 164.7 181.2C164.8 181.0 164.9 180.9 165.0 180.8C165.1 180.7 165.3 180.6 165.4 180.5C165.6 180.4 165.7 180.4 165.9 180.3C166.0 180.3 166.2 180.3 166.3 180.3C166.5 180.3 166.7 180.3 166.8 180.3C167.0 180.4 167.1 180.4 167.3 180.5C167.4 180.6 167.5 180.7 167.7 180.8C167.8 180.9 167.9 181.0 168.0 181.2C168.1 181.3 168.2 181.5 168.2 181.6C168.3 181.8 168.4 182.0 168.4 182.2C168.4 182.3 168.5 182.5 168.5 182.7Z" fill="#ff4422" stroke="none"/>
<path d="M141.1 185.0L146.0 176.0L154.0 171.0L163.0 170.3L168.0 171.0L173.0 178.0L171.0 188.0L159.0 194.0L149.0 195.7L142.0 191.0Z" fill="none" stroke="#f05050" stroke-width="0.75" stroke-linejoin="round"/>
<text x="141.1" y="167.4" font-size="5.3" fill="#f11" stroke="#f22" stroke-width="0.18">P6(29.80%)</text>
<rect x="116.5" y="249.5" width="98.0" height="99.0" fill="none" stroke="#666" stroke-width="1"/>
<path d="M116.5 252.5h1.5M116.5 255.8h1.5M116.5 259.1h1.5M116.5 262.4h1.5M116.5 265.7h1.5M116.5 269.0h1.5M116.5 272.3h1.5M116.5 275.6h1.5M116.5 278.9h1.5M116.5 282.2h1.5M116.5 285.5h1.5M116.5 288.8h1.5M116.5 292.1h1.5M116.5 295.4h1.5M116.5 298.7h1.5M116.5 302.0h1.5M116.5 305.3h1.5M116.5 308.6h1.5M116.5 311.9h1.5M116.5 315.2h1.5M116.5 318.5h1.5M116.5 321.8h1.5M116.5 325.1h1.5M116.5 328.4h1.5M116.5 331.7h1.5M116.5 335.0h1.5M116.5 338.3h1.5M116.5 341.6h1.5M116.5 344.9h1.5M120.5 348.5v-1.3M124.9 348.5v-1.3M129.3 348.5v-1.3M133.7 348.5v-1.3M138.1 348.5v-1.3M142.5 348.5v-1.3M146.9 348.5v-1.3M151.3 348.5v-1.3M155.7 348.5v-1.3M160.1 348.5v-1.3M164.5 348.5v-1.3M168.9 348.5v-1.3M173.3 348.5v-1.3M177.7 348.5v-1.3M182.1 348.5v-1.3M186.5 348.5v-1.3M190.9 348.5v-1.3M195.3 348.5v-1.3M199.7 348.5v-1.3M204.1 348.5v-1.3M208.5 348.5v-1.3M212.9 348.5v-1.3" stroke="#999" stroke-width="0.6" fill="none"/>
<path d="M121 292.5h1m-1 19h1m-1 6h1m-1 25h1m0-45h1m-1 6h1m-1 23h1m0-20h1m-1 16h1m0 5h1m-1 16h1m1-20h1m1-19h1m-1 38h1m0-52h1m0-32h1m0-2h1m-1 36h1m0 4h1m-1 18h1m0 21h1m0-44h1m-1 17h1m-1 8h1m-1 12h1m0-15h1m-1 3h1m-1 1h1m0-10h1m1-29h1m-1 40h1m-1 16h1m0-28h1m-1 6h1m-1 12h1m0-14h1m0 10h1m0-19h1m-1 9h1m0-13h1m-1 23h1m0-16h1m0-22h1m-1 9h1m-1 7h1m-1 28h1m0-26h1m0-19h1m1-8h1m-1 9h1m-1 5h1m-1 25h1m0-32h1m-1 3h1m-1 3h1m-1 10h1m0 10h1m-1 18h1m-1 8h1m0-64h1m-1 30h1m-1 14h1m-1 32h1m0-53h1m-1 5h1m0 9h1m-1 5h1m-1 3h1m-1 10h1m-1 4h1m0-47h1m-1 17h1m-1 12h1m-1 7h1m0-26h1m-1 1h1m-1 32h1m0-25h1m-1 4h1m-1 1h1m0-48h1m-1 29h1m0-15h1m-1 60h1m0-21h1m-1 19h1m0-15h1m0-26h1m0 14h1m-1 20h1m-1 4h1m0-48h1m-1 14h1m-1 9h1m-1 2h1m-1 3h1m-1 10h1m-1 6h1m0-50h1m-1 16h1m-1 2h1m-1 12h1m0-8h1m-1 6h1m-1 48h1m0-69h1m-1 44h1m-1 16h1m0-76h1m-1 16h1m-1 5h1m-1 19h1m-1 4h1m-1 2h1m-1 6h1m-1 1h1m0-45h1m-1 4h1m-1 19h1m-1 5h1m-1 7h1m-1 9h1m0-47h1m-1 8h1m-1 22h1m-1 32h1m0-68h1m-1 7h1m-1 4h1m-1 7h1m-1 40h1m-1 5h1m0-50h1m-1 4h1m-1 3h1m-1 37h1m-1 2h1m0-42h1m-1 8h1m-1 23h1m-1 13h1m0-64h1m-1 17h1m-1 13h1m-1 13h1m0 4h1m0-8h1m-1 5h1m0 6h1m0-34h1m-1 27h1m-1 4h1m0-32h1m-1 11h1m-1 4h1m0-10h1m-1 11h1m0-28h1m-1 14h1m-1 11h1m0-35h1m-1 36h1m0-20h1m-1 17h1m0 9h1m0-20h1m-1 8h1m0-18h1m-1 8h1m-1 2h1m-1 18h1m0-34h1m-1 28h1m-1 7h1m0-27h1m-1 1h1m-1 15h1m0-7h1m-1 13h1m0-12h1m0 66h1m0-75h1m0-3h1m-1 16h1m-1 8h1m0 0h1m1-28h1m0 30h1m0-28h1m-1 4h1m-1 21h1m-1 11h1m0-20h1m-1 4h1m0-24h1m-1 12h1m-1 24h1m0-33h1m1 10h1m-1 19h1m0 9h1m0-12h1m1-7h1m0-13h1m-1 25h1m0-29h1m-1 13h1" stroke="#444" stroke-width="1" opacity="0.78" fill="none" filter="url(#sb)"/>
<path d="M117 313.5h1m-1 28h1m0-42h1m1 12h1m0-29h1m0 42h1m1 4h1m0-6h1m-1 13h1m0-47h1m-1 11h1m0 17h1m1-30h1m-1 50h1m0-4h1m0-36h1m-1 11h1m-1 1h1m-1 6h1m0 20h1m0-61h1m0 34h1m-1 22h1m1 4h1m0-55h1m-1 14h1m-1 17h1m-1 7h1m-1 2h1m-1 27h1m0-24h1m-1 17h1m0-48h1m-1 49h1m0-38h1m-1 29h1m0-79h1m-1 47h1m-1 8h1m0-36h1m-1 10h1m-1 9h1m-1 4h1m-1 21h1m-1 2h1m0-11h1m-1 7h1m0 14h1m-1 1h1m0-17h1m-1 4h1m-1 2h1m0-37h1m-1 55h1m1-33h1m-1 6h1m-1 5h1m0-4h1m-1 2h1m-1 9h1m0-31h1m-1 15h1m0 1h1m0-17h1m-1 17h1m-1 5h1m-1 4h1m-1 23h1m0-19h1m-1 11h1m0-39h1m0-7h1m-1 5h1m-1 9h1m-1 10h1m-1 4h1m-1 30h1m0 6h1m0-50h1m-1 33h1m0-39h1m-1 2h1m0-18h1m-1 21h1m-1 16h1m-1 3h1m-1 4h1m0-9h1m0-41h1m0 26h1m-1 15h1m0-53h1m-1 22h1m-1 7h1m-1 26h1m0-35h1m-1 12h1m-1 11h1m-1 2h1m-1 12h1m-1 3h1m0 5h1m0-64h1m-1 33h1m-1 9h1m-1 1h1m-1 7h1m0-25h1m0 3h1m-1 1h1m-1 5h1m-1 3h1m-1 2h1m0-7h1m-1 8h1m-1 4h1m-1 32h1m-1 2h1m0-75h1m-1 22h1m-1 21h1m-1 14h1m0-48h1m-1 13h1m-1 10h1m-1 8h1m-1 27h1m0-55h1m-1 24h1m-1 3h1m-1 13h1m0-34h1m-1 2h1m-1 4h1m-1 15h1m-1 4h1m-1 8h1m0-55h1m-1 25h1m-1 2h1m-1 4h1m-1 2h1m-1 5h1m0-18h1m-1 12h1m0-5h1m-1 6h1m-1 4h1m-1 9h1m-1 29h1m-1 1h1m0-53h1m-1 35h1m0-45h1m-1 7h1m-1 38h1m-1 3h1m0-47h1m-1 9h1m-1 12h1m-1 19h1m0 0h1m0-32h1m-1 9h1m-1 7h1m-1 30h1m0-68h1m-1 24h1m-1 22h1m-1 9h1m0-29h1m-1 28h1m0-44h1m-1 4h1m-1 35h1m-1 11h1m0-46h1m-1 5h1m-1 19h1m0-3h1m0-15h1m0-8h1m-1 15h1m-1 43h1m0-57h1m-1 5h1m0-5h1m0 9h1m0-9h1m-1 26h1m0-21h1m0-4h1m-1 50h1m0-54h1m-1 8h1m-1 7h1m0 3h1m0-23h1m-1 12h1m0-10h1m-1 10h1m0-11h1m-1 5h1m-1 11h1m0-3h1m0 7h1m2-18h1m-1 24h1m1 42h1m0-60h1m-1 62h1m2-67h1" stroke="#444" stroke-width="1" opacity="0.42" fill="none" filter="url(#sb)"/>
<path d="M157.0 274.0C160.7 273.4 165.3 272.0 170.0 271.5C174.7 271.0 181.2 270.4 185.0 271.0C188.8 271.6 191.2 273.0 193.0 275.0C194.8 277.0 195.3 280.0 195.5 283.0C195.7 286.0 195.6 290.3 194.0 293.0C192.4 295.7 189.2 298.1 186.0 299.0C182.8 299.9 178.0 299.5 175.0 298.5C172.0 297.5 170.5 293.8 168.0 293.0C165.5 292.2 163.0 293.4 160.0 293.5C157.0 293.6 153.2 294.2 150.0 293.5C146.8 292.8 142.6 291.2 141.0 289.0C139.4 286.8 139.3 282.3 140.5 280.0C141.7 277.7 145.2 276.0 148.0 275.0C150.8 274.0 153.3 274.6 157.0 274.0Z" fill="#fff" stroke="none"/>
<path d="M157.4 299.2C159.1 297.9 161.3 299.4 163.0 300.3C164.7 301.2 168.0 303.6 167.6 304.9C167.2 306.2 161.4 307.0 160.8 308.3C160.2 309.6 163.4 311.0 164.2 312.9C164.9 314.8 166.1 317.0 165.3 319.7C164.5 322.4 161.7 326.4 159.6 328.9C157.5 331.4 155.8 333.1 152.8 334.6C149.8 336.1 145.0 338.2 141.4 338.0C137.8 337.8 131.9 335.3 131.1 333.4C130.3 331.5 134.1 328.7 136.8 326.6C139.5 324.5 144.6 322.8 147.1 320.9C149.6 319.0 150.8 317.3 151.7 315.2C152.6 313.1 151.9 311.0 152.8 308.3C153.8 305.6 155.7 300.5 157.4 299.2Z" fill="#fff" stroke="none"/>
<path d="M157.1 328.3C157.3 328.8 157.3 329.3 157.3 329.8C157.2 330.4 157.1 330.9 156.9 331.5C156.6 332.0 156.3 332.6 155.9 333.1C155.6 333.6 155.1 334.1 154.5 334.6C154.0 335.1 153.4 335.5 152.7 336.0C152.1 336.4 151.4 336.7 150.6 337.1C149.9 337.4 149.1 337.7 148.3 337.9C147.5 338.1 146.7 338.2 145.9 338.3C145.1 338.4 144.3 338.5 143.5 338.4C142.8 338.4 142.0 338.3 141.3 338.2C140.6 338.0 139.9 337.8 139.3 337.5C138.7 337.3 138.2 337.0 137.7 336.6C137.3 336.2 136.9 335.8 136.5 335.4C136.2 334.9 136.0 334.4 135.9 333.9C135.7 333.4 135.7 332.9 135.7 332.4C135.8 331.8 135.9 331.3 136.1 330.7C136.4 330.2 136.7 329.6 137.1 329.1C137.4 328.6 137.9 328.1 138.5 327.6C139.0 327.1 139.6 326.7 140.3 326.2C140.9 325.8 141.6 325.5 142.4 325.1C143.1 324.8 143.9 324.5 144.7 324.3C145.5 324.1 146.3 324.0 147.1 323.9C147.9 323.8 148.7 323.7 149.5 323.8C150.2 323.8 151.0 323.9 151.7 324.0C152.4 324.2 153.1 324.4 153.7 324.7C154.3 324.9 154.8 325.2 155.3 325.6C155.7 326.0 156.1 326.4 156.5 326.8C156.8 327.3 157.0 327.8 157.1 328.3Z" fill="#fff" stroke="none"/>
<path d="M194.7 286.0C194.7 286.7 194.7 287.5 194.6 288.2C194.4 288.9 194.2 289.6 193.9 290.3C193.6 290.9 193.2 291.6 192.7 292.2C192.3 292.8 191.7 293.4 191.1 293.9C190.5 294.4 189.8 294.8 189.1 295.2C188.4 295.6 187.6 295.9 186.8 296.1C186.0 296.3 185.2 296.5 184.3 296.6C183.5 296.6 182.7 296.6 181.8 296.5C181.0 296.5 180.2 296.3 179.4 296.0C178.6 295.8 177.9 295.5 177.2 295.1C176.5 294.7 175.9 294.2 175.3 293.7C174.7 293.2 174.2 292.6 173.8 292.0C173.4 291.4 173.1 290.8 172.8 290.1C172.6 289.4 172.4 288.7 172.3 288.0C172.3 287.3 172.3 286.5 172.4 285.8C172.6 285.1 172.8 284.4 173.1 283.7C173.4 283.1 173.8 282.4 174.3 281.8C174.7 281.2 175.3 280.6 175.9 280.1C176.5 279.6 177.2 279.2 177.9 278.8C178.6 278.4 179.4 278.1 180.2 277.9C181.0 277.7 181.8 277.5 182.7 277.4C183.5 277.4 184.3 277.4 185.2 277.5C186.0 277.5 186.8 277.7 187.6 278.0C188.4 278.2 189.1 278.5 189.8 278.9C190.5 279.3 191.1 279.8 191.7 280.3C192.3 280.8 192.8 281.4 193.2 282.0C193.6 282.6 193.9 283.2 194.2 283.9C194.4 284.6 194.6 285.3 194.7 286.0Z" fill="#fff" stroke="none"/>
<path d="M168.6 281.6C168.7 282.2 168.7 282.9 168.6 283.6C168.5 284.2 168.2 284.9 167.9 285.6C167.5 286.2 167.1 286.9 166.5 287.5C166.0 288.1 165.3 288.7 164.6 289.3C163.9 289.8 163.0 290.3 162.2 290.8C161.3 291.2 160.3 291.6 159.4 291.9C158.4 292.2 157.4 292.5 156.3 292.7C155.3 292.8 154.2 293.0 153.2 293.0C152.2 293.0 151.2 293.0 150.2 292.9C149.2 292.7 148.3 292.6 147.4 292.3C146.5 292.0 145.7 291.7 145.0 291.3C144.2 290.9 143.6 290.5 143.0 290.0C142.5 289.4 142.0 288.9 141.7 288.3C141.4 287.7 141.1 287.1 141.0 286.4C140.9 285.8 140.9 285.1 141.0 284.4C141.1 283.8 141.4 283.1 141.7 282.4C142.1 281.8 142.5 281.1 143.1 280.5C143.6 279.9 144.3 279.3 145.0 278.7C145.7 278.2 146.6 277.7 147.4 277.2C148.3 276.8 149.3 276.4 150.2 276.1C151.2 275.8 152.2 275.5 153.3 275.3C154.3 275.2 155.4 275.0 156.4 275.0C157.4 275.0 158.4 275.0 159.4 275.1C160.4 275.3 161.3 275.4 162.2 275.7C163.1 276.0 163.9 276.3 164.6 276.7C165.4 277.1 166.0 277.5 166.6 278.0C167.1 278.6 167.6 279.1 167.9 279.7C168.2 280.3 168.5 280.9 168.6 281.6Z" fill="#fff" stroke="none"/>
<path d="M157.0 274.0C160.7 273.4 165.3 272.0 170.0 271.5C174.7 271.0 181.2 270.4 185.0 271.0C188.8 271.6 191.2 273.0 193.0 275.0C194.8 277.0 195.3 280.0 195.5 283.0C195.7 286.0 195.6 290.3 194.0 293.0C192.4 295.7 189.2 298.1 186.0 299.0C182.8 299.9 178.0 299.5 175.0 298.5C172.0 297.5 170.5 293.8 168.0 293.0C165.5 292.2 163.0 293.4 160.0 293.5C157.0 293.6 153.2 294.2 150.0 293.5C146.8 292.8 142.6 291.2 141.0 289.0C139.4 286.8 139.3 282.3 140.5 280.0C141.7 277.7 145.2 276.0 148.0 275.0C150.8 274.0 153.3 274.6 157.0 274.0Z" fill="none" stroke="#3c3cf0" stroke-width="0.6"/>
<path d="M157.4 299.2C159.1 297.9 161.3 299.4 163.0 300.3C164.7 301.2 168.0 303.6 167.6 304.9C167.2 306.2 161.4 307.0 160.8 308.3C160.2 309.6 163.4 311.0 164.2 312.9C164.9 314.8 166.1 317.0 165.3 319.7C164.5 322.4 161.7 326.4 159.6 328.9C157.5 331.4 155.8 333.1 152.8 334.6C149.8 336.1 145.0 338.2 141.4 338.0C137.8 337.8 131.9 335.3 131.1 333.4C130.3 331.5 134.1 328.7 136.8 326.6C139.5 324.5 144.6 322.8 147.1 320.9C149.6 319.0 150.8 317.3 151.7 315.2C152.6 313.1 151.9 311.0 152.8 308.3C153.8 305.6 155.7 300.5 157.4 299.2Z" fill="none" stroke="#3c3cf0" stroke-width="0.7"/>
<path d="M153.4 329.2C153.5 329.6 153.5 329.9 153.5 330.3C153.5 330.6 153.4 331.0 153.2 331.3C153.1 331.7 152.9 332.1 152.6 332.4C152.4 332.7 152.1 333.1 151.7 333.4C151.4 333.7 151.0 334.0 150.6 334.3C150.1 334.5 149.7 334.8 149.2 335.0C148.7 335.2 148.2 335.4 147.7 335.5C147.2 335.6 146.6 335.7 146.1 335.8C145.6 335.9 145.1 335.9 144.6 335.9C144.1 335.8 143.6 335.8 143.1 335.7C142.7 335.6 142.2 335.5 141.8 335.3C141.4 335.1 141.1 334.9 140.8 334.7C140.5 334.4 140.2 334.2 140.0 333.9C139.8 333.6 139.7 333.3 139.6 333.0C139.5 332.6 139.5 332.3 139.5 331.9C139.5 331.6 139.6 331.2 139.8 330.9C139.9 330.5 140.1 330.1 140.4 329.8C140.6 329.5 140.9 329.1 141.3 328.8C141.6 328.5 142.0 328.2 142.4 327.9C142.9 327.7 143.3 327.4 143.8 327.2C144.3 327.0 144.8 326.8 145.3 326.7C145.8 326.6 146.4 326.5 146.9 326.4C147.4 326.3 147.9 326.3 148.4 326.3C148.9 326.4 149.4 326.4 149.9 326.5C150.3 326.6 150.8 326.7 151.2 326.9C151.6 327.1 151.9 327.3 152.2 327.5C152.5 327.8 152.8 328.0 153.0 328.3C153.2 328.6 153.3 328.9 153.4 329.2Z" fill="#c8f3ff" stroke="#6fbcff" stroke-width="0.5"/>
<path d="M152.6 329.5C152.6 329.8 152.7 330.1 152.6 330.4C152.6 330.7 152.5 331.0 152.4 331.3C152.3 331.6 152.1 331.9 151.9 332.2C151.7 332.5 151.4 332.8 151.1 333.1C150.8 333.4 150.4 333.6 150.1 333.9C149.7 334.1 149.3 334.3 148.9 334.5C148.4 334.7 148.0 334.8 147.5 335.0C147.1 335.1 146.6 335.2 146.2 335.2C145.7 335.3 145.2 335.3 144.8 335.3C144.4 335.3 143.9 335.2 143.5 335.1C143.1 335.0 142.7 334.9 142.4 334.8C142.1 334.6 141.8 334.4 141.5 334.2C141.2 334.0 141.0 333.8 140.8 333.5C140.7 333.3 140.5 333.0 140.4 332.7C140.4 332.4 140.3 332.1 140.4 331.8C140.4 331.5 140.5 331.2 140.6 330.9C140.7 330.6 140.9 330.3 141.1 330.0C141.3 329.7 141.6 329.4 141.9 329.1C142.2 328.8 142.6 328.6 142.9 328.3C143.3 328.1 143.7 327.9 144.1 327.7C144.6 327.5 145.0 327.4 145.5 327.2C145.9 327.1 146.4 327.0 146.8 327.0C147.3 326.9 147.8 326.9 148.2 326.9C148.6 326.9 149.1 327.0 149.5 327.1C149.9 327.2 150.3 327.3 150.6 327.4C150.9 327.6 151.2 327.8 151.5 328.0C151.8 328.2 152.0 328.4 152.2 328.7C152.3 328.9 152.5 329.2 152.6 329.5Z" fill="#8ee6f6" stroke="none"/>
<path d="M157.1 328.3C157.3 328.8 157.3 329.3 157.3 329.8C157.2 330.4 157.1 330.9 156.9 331.5C156.6 332.0 156.3 332.6 155.9 333.1C155.6 333.6 155.1 334.1 154.5 334.6C154.0 335.1 153.4 335.5 152.7 336.0C152.1 336.4 151.4 336.7 150.6 337.1C149.9 337.4 149.1 337.7 148.3 337.9C147.5 338.1 146.7 338.2 145.9 338.3C145.1 338.4 144.3 338.5 143.5 338.4C142.8 338.4 142.0 338.3 141.3 338.2C140.6 338.0 139.9 337.8 139.3 337.5C138.7 337.3 138.2 337.0 137.7 336.6C137.3 336.2 136.9 335.8 136.5 335.4C136.2 334.9 136.0 334.4 135.9 333.9C135.7 333.4 135.7 332.9 135.7 332.4C135.8 331.8 135.9 331.3 136.1 330.7C136.4 330.2 136.7 329.6 137.1 329.1C137.4 328.6 137.9 328.1 138.5 327.6C139.0 327.1 139.6 326.7 140.3 326.2C140.9 325.8 141.6 325.5 142.4 325.1C143.1 324.8 143.9 324.5 144.7 324.3C145.5 324.1 146.3 324.0 147.1 323.9C147.9 323.8 148.7 323.7 149.5 323.8C150.2 323.8 151.0 323.9 151.7 324.0C152.4 324.2 153.1 324.4 153.7 324.7C154.3 324.9 154.8 325.2 155.3 325.6C155.7 326.0 156.1 326.4 156.5 326.8C156.8 327.3 157.0 327.8 157.1 328.3Z" fill="none" stroke="#3434ee" stroke-width="0.8"/>
<path d="M155.6 328.7C155.8 329.1 155.8 329.5 155.8 330.0C155.7 330.5 155.6 330.9 155.4 331.4C155.2 331.9 154.9 332.4 154.6 332.8C154.3 333.3 153.9 333.7 153.4 334.1C153.0 334.5 152.4 334.9 151.9 335.3C151.3 335.6 150.7 336.0 150.1 336.2C149.4 336.5 148.7 336.7 148.1 336.9C147.4 337.1 146.7 337.2 146.0 337.3C145.3 337.4 144.6 337.4 143.9 337.4C143.3 337.4 142.6 337.3 142.0 337.2C141.4 337.0 140.8 336.9 140.3 336.6C139.8 336.4 139.3 336.1 138.9 335.8C138.5 335.5 138.2 335.2 137.9 334.8C137.7 334.4 137.5 334.0 137.4 333.5C137.2 333.1 137.2 332.7 137.2 332.2C137.3 331.7 137.4 331.3 137.6 330.8C137.8 330.3 138.1 329.8 138.4 329.4C138.7 328.9 139.1 328.5 139.6 328.1C140.0 327.7 140.6 327.3 141.1 326.9C141.7 326.6 142.3 326.2 142.9 326.0C143.6 325.7 144.3 325.5 144.9 325.3C145.6 325.1 146.3 325.0 147.0 324.9C147.7 324.8 148.4 324.8 149.1 324.8C149.7 324.8 150.4 324.9 151.0 325.0C151.6 325.2 152.2 325.3 152.7 325.6C153.2 325.8 153.7 326.1 154.1 326.4C154.5 326.7 154.8 327.0 155.1 327.4C155.3 327.8 155.5 328.2 155.6 328.7Z" fill="none" stroke="#4040f0" stroke-width="0.7"/>
<path d="M154.4 329.0C154.5 329.4 154.5 329.8 154.5 330.2C154.4 330.6 154.3 331.0 154.2 331.4C154.0 331.8 153.8 332.2 153.5 332.6C153.2 333.0 152.8 333.3 152.5 333.7C152.1 334.1 151.6 334.4 151.1 334.7C150.6 335.0 150.1 335.3 149.6 335.5C149.0 335.7 148.4 335.9 147.8 336.1C147.3 336.3 146.6 336.4 146.1 336.4C145.5 336.5 144.9 336.5 144.3 336.5C143.7 336.5 143.2 336.4 142.6 336.3C142.1 336.2 141.6 336.1 141.2 335.9C140.7 335.7 140.3 335.4 140.0 335.2C139.7 334.9 139.4 334.6 139.1 334.3C138.9 333.9 138.7 333.6 138.6 333.2C138.5 332.8 138.5 332.4 138.5 332.0C138.6 331.6 138.7 331.2 138.8 330.8C139.0 330.4 139.2 330.0 139.5 329.6C139.8 329.2 140.2 328.9 140.5 328.5C140.9 328.1 141.4 327.8 141.9 327.5C142.4 327.2 142.9 326.9 143.4 326.7C144.0 326.5 144.6 326.3 145.2 326.1C145.7 325.9 146.4 325.8 146.9 325.8C147.5 325.7 148.1 325.7 148.7 325.7C149.3 325.7 149.8 325.8 150.4 325.9C150.9 326.0 151.4 326.1 151.8 326.3C152.3 326.5 152.7 326.8 153.0 327.0C153.3 327.3 153.6 327.6 153.9 327.9C154.1 328.3 154.3 328.6 154.4 329.0Z" fill="none" stroke="#5066f4" stroke-width="0.6"/>
<path d="M150.8 330.0C150.8 330.2 150.8 330.4 150.8 330.6C150.8 330.8 150.7 331.0 150.6 331.2C150.6 331.5 150.4 331.7 150.3 331.9C150.1 332.1 149.9 332.3 149.7 332.5C149.5 332.7 149.3 332.9 149.0 333.0C148.7 333.2 148.4 333.4 148.2 333.5C147.9 333.6 147.5 333.7 147.2 333.8C146.9 333.9 146.6 334.0 146.3 334.0C145.9 334.0 145.6 334.0 145.3 334.0C145.0 334.0 144.7 334.0 144.4 333.9C144.1 333.9 143.9 333.8 143.6 333.7C143.4 333.6 143.2 333.4 143.0 333.3C142.8 333.2 142.6 333.0 142.5 332.8C142.4 332.6 142.3 332.4 142.2 332.2C142.2 332.0 142.2 331.8 142.2 331.6C142.2 331.4 142.3 331.2 142.4 331.0C142.4 330.7 142.6 330.5 142.7 330.3C142.9 330.1 143.1 329.9 143.3 329.7C143.5 329.5 143.7 329.3 144.0 329.2C144.3 329.0 144.6 328.8 144.8 328.7C145.1 328.6 145.5 328.5 145.8 328.4C146.1 328.3 146.4 328.2 146.7 328.2C147.1 328.2 147.4 328.2 147.7 328.2C148.0 328.2 148.3 328.2 148.6 328.3C148.9 328.3 149.1 328.4 149.4 328.5C149.6 328.6 149.8 328.8 150.0 328.9C150.2 329.0 150.4 329.2 150.5 329.4C150.6 329.6 150.7 329.8 150.8 330.0Z" fill="#8fe98a" stroke="none"/>
<path d="M150.2 330.1C150.3 330.3 150.3 330.5 150.3 330.7C150.3 330.8 150.2 331.0 150.1 331.2C150.1 331.4 150.0 331.6 149.8 331.8C149.7 332.0 149.5 332.2 149.3 332.3C149.1 332.5 148.9 332.7 148.7 332.8C148.5 333.0 148.2 333.1 148.0 333.2C147.7 333.3 147.4 333.4 147.1 333.5C146.9 333.6 146.6 333.6 146.3 333.6C146.0 333.7 145.7 333.7 145.5 333.7C145.2 333.7 144.9 333.6 144.7 333.6C144.4 333.5 144.2 333.5 144.0 333.4C143.8 333.3 143.6 333.2 143.4 333.0C143.2 332.9 143.1 332.8 143.0 332.6C142.9 332.5 142.8 332.3 142.8 332.1C142.7 331.9 142.7 331.7 142.7 331.5C142.7 331.4 142.8 331.2 142.9 331.0C142.9 330.8 143.0 330.6 143.2 330.4C143.3 330.2 143.5 330.0 143.7 329.9C143.9 329.7 144.1 329.5 144.3 329.4C144.5 329.2 144.8 329.1 145.0 329.0C145.3 328.9 145.6 328.8 145.9 328.7C146.1 328.6 146.4 328.6 146.7 328.6C147.0 328.5 147.3 328.5 147.5 328.5C147.8 328.5 148.1 328.6 148.3 328.6C148.6 328.7 148.8 328.7 149.0 328.8C149.2 328.9 149.4 329.0 149.6 329.2C149.8 329.3 149.9 329.4 150.0 329.6C150.1 329.7 150.2 329.9 150.2 330.1Z" fill="#4ade42" stroke="none"/>
<path d="M148.4 330.6C148.4 330.7 148.4 330.8 148.4 330.9C148.4 331.0 148.4 331.1 148.3 331.2C148.3 331.3 148.2 331.4 148.2 331.5C148.1 331.5 148.0 331.6 147.9 331.7C147.8 331.8 147.7 331.9 147.6 332.0C147.5 332.0 147.4 332.1 147.2 332.1C147.1 332.2 147.0 332.3 146.8 332.3C146.7 332.3 146.5 332.4 146.4 332.4C146.3 332.4 146.1 332.4 146.0 332.4C145.8 332.4 145.7 332.4 145.6 332.3C145.5 332.3 145.3 332.3 145.2 332.2C145.1 332.2 145.0 332.1 145.0 332.1C144.9 332.0 144.8 331.9 144.7 331.9C144.7 331.8 144.7 331.7 144.6 331.6C144.6 331.5 144.6 331.4 144.6 331.3C144.6 331.2 144.6 331.1 144.7 331.0C144.7 330.9 144.8 330.8 144.8 330.7C144.9 330.7 145.0 330.6 145.1 330.5C145.2 330.4 145.3 330.3 145.4 330.2C145.5 330.2 145.6 330.1 145.8 330.1C145.9 330.0 146.0 329.9 146.2 329.9C146.3 329.9 146.5 329.8 146.6 329.8C146.7 329.8 146.9 329.8 147.0 329.8C147.2 329.8 147.3 329.8 147.4 329.9C147.5 329.9 147.7 329.9 147.8 330.0C147.9 330.0 148.0 330.1 148.0 330.1C148.1 330.2 148.2 330.3 148.3 330.3C148.3 330.4 148.3 330.5 148.4 330.6Z" fill="#bdee4a" stroke="none"/>
<path d="M147.5 330.8C147.5 330.9 147.5 330.9 147.5 331.0C147.5 331.0 147.5 331.1 147.5 331.1C147.5 331.2 147.4 331.2 147.4 331.3C147.4 331.3 147.3 331.4 147.3 331.4C147.2 331.5 147.2 331.5 147.1 331.6C147.0 331.6 147.0 331.6 146.9 331.7C146.8 331.7 146.7 331.7 146.7 331.7C146.6 331.8 146.5 331.8 146.4 331.8C146.4 331.8 146.3 331.8 146.2 331.8C146.1 331.8 146.1 331.8 146.0 331.8C145.9 331.8 145.9 331.7 145.8 331.7C145.8 331.7 145.7 331.7 145.7 331.6C145.6 331.6 145.6 331.6 145.5 331.5C145.5 331.5 145.5 331.4 145.5 331.4C145.5 331.3 145.5 331.3 145.5 331.2C145.5 331.2 145.5 331.1 145.5 331.1C145.5 331.0 145.6 331.0 145.6 330.9C145.6 330.9 145.7 330.8 145.7 330.8C145.8 330.7 145.8 330.7 145.9 330.6C146.0 330.6 146.0 330.6 146.1 330.5C146.2 330.5 146.3 330.5 146.3 330.5C146.4 330.4 146.5 330.4 146.6 330.4C146.6 330.4 146.7 330.4 146.8 330.4C146.9 330.4 146.9 330.4 147.0 330.4C147.1 330.4 147.1 330.5 147.2 330.5C147.2 330.5 147.3 330.5 147.3 330.6C147.4 330.6 147.4 330.6 147.5 330.7C147.5 330.7 147.5 330.8 147.5 330.8Z" fill="#e6f070" stroke="none"/>
<path d="M190.8 286.4C190.8 286.8 190.8 287.3 190.7 287.8C190.6 288.2 190.5 288.7 190.3 289.1C190.1 289.6 189.8 290.0 189.5 290.4C189.2 290.8 188.8 291.1 188.4 291.5C188.1 291.8 187.6 292.1 187.1 292.3C186.7 292.6 186.2 292.8 185.6 292.9C185.1 293.1 184.6 293.2 184.0 293.2C183.5 293.3 182.9 293.3 182.4 293.2C181.9 293.1 181.3 293.0 180.8 292.9C180.3 292.7 179.8 292.5 179.4 292.3C179.0 292.0 178.5 291.7 178.2 291.4C177.8 291.0 177.5 290.7 177.2 290.3C176.9 289.9 176.7 289.4 176.6 289.0C176.4 288.6 176.3 288.1 176.2 287.6C176.2 287.2 176.2 286.7 176.3 286.2C176.4 285.8 176.5 285.3 176.7 284.9C176.9 284.4 177.2 284.0 177.5 283.6C177.8 283.2 178.2 282.9 178.6 282.5C178.9 282.2 179.4 281.9 179.9 281.7C180.3 281.4 180.8 281.2 181.4 281.1C181.9 280.9 182.4 280.8 183.0 280.8C183.5 280.7 184.1 280.7 184.6 280.8C185.1 280.9 185.7 281.0 186.2 281.1C186.7 281.3 187.2 281.5 187.6 281.7C188.0 282.0 188.5 282.3 188.8 282.6C189.2 283.0 189.5 283.3 189.8 283.7C190.1 284.1 190.3 284.6 190.4 285.0C190.6 285.4 190.7 285.9 190.8 286.4Z" fill="#c8f3ff" stroke="#6fbcff" stroke-width="0.5"/>
<path d="M189.9 286.4C189.9 286.8 189.9 287.3 189.8 287.7C189.7 288.1 189.6 288.5 189.4 288.9C189.3 289.2 189.0 289.6 188.8 290.0C188.5 290.3 188.2 290.6 187.8 290.9C187.5 291.2 187.1 291.5 186.7 291.7C186.3 291.9 185.8 292.1 185.4 292.2C184.9 292.3 184.4 292.4 184.0 292.5C183.5 292.5 183.0 292.5 182.5 292.4C182.1 292.4 181.6 292.3 181.2 292.2C180.7 292.0 180.3 291.8 179.9 291.6C179.5 291.4 179.1 291.1 178.8 290.8C178.5 290.5 178.2 290.2 178.0 289.9C177.7 289.5 177.5 289.1 177.4 288.8C177.3 288.4 177.2 288.0 177.1 287.6C177.1 287.2 177.1 286.7 177.2 286.3C177.3 285.9 177.4 285.5 177.6 285.1C177.7 284.8 178.0 284.4 178.2 284.0C178.5 283.7 178.8 283.4 179.2 283.1C179.5 282.8 179.9 282.5 180.3 282.3C180.7 282.1 181.2 281.9 181.6 281.8C182.1 281.7 182.6 281.6 183.0 281.5C183.5 281.5 184.0 281.5 184.5 281.6C184.9 281.6 185.4 281.7 185.8 281.8C186.3 282.0 186.7 282.2 187.1 282.4C187.5 282.6 187.9 282.9 188.2 283.2C188.5 283.5 188.8 283.8 189.0 284.1C189.3 284.5 189.5 284.9 189.6 285.2C189.7 285.6 189.8 286.0 189.9 286.4Z" fill="#8ee6f6" stroke="none"/>
<path d="M194.7 286.0C194.7 286.7 194.7 287.5 194.6 288.2C194.4 288.9 194.2 289.6 193.9 290.3C193.6 290.9 193.2 291.6 192.7 292.2C192.3 292.8 191.7 293.4 191.1 293.9C190.5 294.4 189.8 294.8 189.1 295.2C188.4 295.6 187.6 295.9 186.8 296.1C186.0 296.3 185.2 296.5 184.3 296.6C183.5 296.6 182.7 296.6 181.8 296.5C181.0 296.5 180.2 296.3 179.4 296.0C178.6 295.8 177.9 295.5 177.2 295.1C176.5 294.7 175.9 294.2 175.3 293.7C174.7 293.2 174.2 292.6 173.8 292.0C173.4 291.4 173.1 290.8 172.8 290.1C172.6 289.4 172.4 288.7 172.3 288.0C172.3 287.3 172.3 286.5 172.4 285.8C172.6 285.1 172.8 284.4 173.1 283.7C173.4 283.1 173.8 282.4 174.3 281.8C174.7 281.2 175.3 280.6 175.9 280.1C176.5 279.6 177.2 279.2 177.9 278.8C178.6 278.4 179.4 278.1 180.2 277.9C181.0 277.7 181.8 277.5 182.7 277.4C183.5 277.4 184.3 277.4 185.2 277.5C186.0 277.5 186.8 277.7 187.6 278.0C188.4 278.2 189.1 278.5 189.8 278.9C190.5 279.3 191.1 279.8 191.7 280.3C192.3 280.8 192.8 281.4 193.2 282.0C193.6 282.6 193.9 283.2 194.2 283.9C194.4 284.6 194.6 285.3 194.7 286.0Z" fill="none" stroke="#3434ee" stroke-width="0.8"/>
<path d="M193.1 286.2C193.1 286.8 193.1 287.4 193.0 288.0C192.9 288.6 192.7 289.2 192.5 289.8C192.2 290.4 191.9 291.0 191.5 291.5C191.0 292.0 190.6 292.5 190.0 292.9C189.5 293.3 188.9 293.7 188.3 294.0C187.7 294.4 187.0 294.6 186.3 294.8C185.7 295.0 184.9 295.2 184.2 295.2C183.5 295.3 182.8 295.3 182.1 295.2C181.4 295.1 180.6 295.0 180.0 294.8C179.3 294.6 178.7 294.3 178.1 294.0C177.5 293.6 176.9 293.2 176.4 292.8C176.0 292.3 175.5 291.8 175.2 291.3C174.8 290.8 174.5 290.2 174.3 289.6C174.1 289.1 174.0 288.4 173.9 287.8C173.9 287.2 173.9 286.6 174.0 286.0C174.1 285.4 174.3 284.8 174.5 284.2C174.8 283.6 175.1 283.0 175.5 282.5C176.0 282.0 176.4 281.5 177.0 281.1C177.5 280.7 178.1 280.3 178.7 280.0C179.3 279.6 180.0 279.4 180.7 279.2C181.3 279.0 182.1 278.8 182.8 278.8C183.5 278.7 184.2 278.7 184.9 278.8C185.6 278.9 186.4 279.0 187.0 279.2C187.7 279.4 188.3 279.7 188.9 280.0C189.5 280.4 190.1 280.8 190.6 281.2C191.0 281.7 191.5 282.2 191.8 282.7C192.2 283.2 192.5 283.8 192.7 284.4C192.9 284.9 193.0 285.6 193.1 286.2Z" fill="none" stroke="#4040f0" stroke-width="0.7"/>
<path d="M191.8 286.3C191.8 286.8 191.8 287.3 191.7 287.9C191.6 288.4 191.4 288.9 191.2 289.4C191.0 289.9 190.7 290.4 190.3 290.8C190.0 291.3 189.6 291.7 189.1 292.1C188.7 292.5 188.2 292.8 187.6 293.1C187.1 293.3 186.5 293.6 185.9 293.7C185.4 293.9 184.7 294.0 184.1 294.1C183.5 294.1 182.9 294.1 182.3 294.1C181.7 294.0 181.0 293.9 180.5 293.7C179.9 293.5 179.3 293.3 178.8 293.0C178.3 292.7 177.8 292.4 177.4 292.0C177.0 291.6 176.6 291.2 176.3 290.7C176.0 290.3 175.8 289.8 175.6 289.3C175.4 288.8 175.3 288.2 175.2 287.7C175.2 287.2 175.2 286.7 175.3 286.1C175.4 285.6 175.6 285.1 175.8 284.6C176.0 284.1 176.3 283.6 176.7 283.2C177.0 282.7 177.4 282.3 177.9 281.9C178.3 281.5 178.8 281.2 179.4 280.9C179.9 280.7 180.5 280.4 181.1 280.3C181.6 280.1 182.3 280.0 182.9 279.9C183.5 279.9 184.1 279.9 184.7 279.9C185.3 280.0 186.0 280.1 186.5 280.3C187.1 280.5 187.7 280.7 188.2 281.0C188.7 281.3 189.2 281.6 189.6 282.0C190.0 282.4 190.4 282.8 190.7 283.3C191.0 283.7 191.2 284.2 191.4 284.7C191.6 285.2 191.7 285.8 191.8 286.3Z" fill="none" stroke="#5066f4" stroke-width="0.6"/>
<path d="M189.1 286.5C189.1 286.9 189.1 287.2 189.0 287.6C189.0 287.9 188.9 288.3 188.7 288.6C188.6 289.0 188.4 289.3 188.1 289.6C187.9 289.9 187.6 290.2 187.3 290.4C187.0 290.7 186.7 290.9 186.3 291.1C185.9 291.3 185.5 291.4 185.1 291.6C184.8 291.7 184.3 291.7 183.9 291.8C183.5 291.8 183.1 291.8 182.7 291.8C182.3 291.7 181.8 291.6 181.5 291.5C181.1 291.4 180.7 291.2 180.3 291.0C180.0 290.8 179.7 290.6 179.4 290.4C179.1 290.1 178.9 289.8 178.7 289.5C178.4 289.2 178.3 288.9 178.2 288.5C178.0 288.2 178.0 287.8 177.9 287.5C177.9 287.1 177.9 286.8 178.0 286.4C178.0 286.1 178.1 285.7 178.3 285.4C178.4 285.0 178.6 284.7 178.9 284.4C179.1 284.1 179.4 283.8 179.7 283.6C180.0 283.3 180.3 283.1 180.7 282.9C181.1 282.7 181.5 282.6 181.9 282.4C182.2 282.3 182.7 282.3 183.1 282.2C183.5 282.2 183.9 282.2 184.3 282.2C184.7 282.3 185.2 282.4 185.5 282.5C185.9 282.6 186.3 282.8 186.7 283.0C187.0 283.2 187.3 283.4 187.6 283.6C187.9 283.9 188.1 284.2 188.3 284.5C188.6 284.8 188.7 285.1 188.8 285.5C189.0 285.8 189.0 286.2 189.1 286.5Z" fill="#8fe98a" stroke="none"/>
<path d="M188.4 286.6C188.4 286.9 188.4 287.2 188.4 287.5C188.3 287.8 188.2 288.1 188.1 288.4C187.9 288.7 187.8 289.0 187.6 289.3C187.4 289.6 187.1 289.8 186.8 290.0C186.6 290.2 186.3 290.4 186.0 290.6C185.6 290.8 185.3 290.9 185.0 291.0C184.6 291.1 184.2 291.2 183.9 291.2C183.5 291.2 183.1 291.2 182.8 291.2C182.4 291.2 182.0 291.1 181.7 291.0C181.4 290.9 181.0 290.7 180.7 290.6C180.4 290.4 180.1 290.2 179.9 290.0C179.6 289.7 179.4 289.5 179.2 289.2C179.1 288.9 178.9 288.7 178.8 288.4C178.7 288.1 178.6 287.7 178.6 287.4C178.6 287.1 178.6 286.8 178.6 286.5C178.7 286.2 178.8 285.9 178.9 285.6C179.1 285.3 179.2 285.0 179.4 284.7C179.6 284.4 179.9 284.2 180.2 284.0C180.4 283.8 180.7 283.6 181.0 283.4C181.4 283.2 181.7 283.1 182.0 283.0C182.4 282.9 182.8 282.8 183.1 282.8C183.5 282.8 183.9 282.8 184.2 282.8C184.6 282.8 185.0 282.9 185.3 283.0C185.6 283.1 186.0 283.3 186.3 283.4C186.6 283.6 186.9 283.8 187.1 284.0C187.4 284.3 187.6 284.5 187.8 284.8C187.9 285.1 188.1 285.3 188.2 285.6C188.3 285.9 188.4 286.3 188.4 286.6Z" fill="#4ade42" stroke="none"/>
<path d="M186.8 286.7C186.9 286.9 186.9 287.1 186.8 287.4C186.8 287.6 186.7 287.8 186.6 288.0C186.5 288.2 186.4 288.4 186.3 288.6C186.1 288.7 186.0 288.9 185.8 289.1C185.6 289.2 185.4 289.3 185.2 289.5C185.0 289.6 184.7 289.7 184.5 289.7C184.3 289.8 184.0 289.8 183.8 289.9C183.5 289.9 183.2 289.9 183.0 289.9C182.8 289.8 182.5 289.8 182.3 289.7C182.0 289.6 181.8 289.5 181.6 289.4C181.4 289.3 181.2 289.2 181.0 289.0C180.9 288.9 180.7 288.7 180.6 288.5C180.5 288.3 180.4 288.1 180.3 287.9C180.2 287.7 180.2 287.5 180.2 287.3C180.1 287.1 180.1 286.9 180.2 286.6C180.2 286.4 180.3 286.2 180.4 286.0C180.5 285.8 180.6 285.6 180.7 285.4C180.9 285.3 181.0 285.1 181.2 284.9C181.4 284.8 181.6 284.7 181.8 284.5C182.0 284.4 182.3 284.3 182.5 284.3C182.7 284.2 183.0 284.2 183.2 284.1C183.5 284.1 183.8 284.1 184.0 284.1C184.2 284.2 184.5 284.2 184.7 284.3C185.0 284.4 185.2 284.5 185.4 284.6C185.6 284.7 185.8 284.8 186.0 285.0C186.1 285.1 186.3 285.3 186.4 285.5C186.5 285.7 186.6 285.9 186.7 286.1C186.8 286.3 186.8 286.5 186.8 286.7Z" fill="#d2ea3c" stroke="none"/>
<path d="M186.1 286.8C186.1 286.9 186.1 287.1 186.0 287.3C186.0 287.4 186.0 287.6 185.9 287.8C185.8 287.9 185.7 288.1 185.6 288.2C185.5 288.3 185.4 288.5 185.3 288.6C185.1 288.7 185.0 288.8 184.8 288.9C184.6 289.0 184.4 289.0 184.3 289.1C184.1 289.1 183.9 289.2 183.7 289.2C183.5 289.2 183.3 289.2 183.1 289.2C182.9 289.2 182.7 289.1 182.6 289.1C182.4 289.0 182.2 288.9 182.1 288.9C181.9 288.8 181.7 288.7 181.6 288.5C181.5 288.4 181.4 288.3 181.3 288.2C181.2 288.0 181.1 287.9 181.0 287.7C181.0 287.6 180.9 287.4 180.9 287.2C180.9 287.1 180.9 286.9 181.0 286.7C181.0 286.6 181.0 286.4 181.1 286.2C181.2 286.1 181.3 285.9 181.4 285.8C181.5 285.7 181.6 285.5 181.7 285.4C181.9 285.3 182.0 285.2 182.2 285.1C182.4 285.0 182.6 285.0 182.7 284.9C182.9 284.9 183.1 284.8 183.3 284.8C183.5 284.8 183.7 284.8 183.9 284.8C184.1 284.8 184.3 284.9 184.4 284.9C184.6 285.0 184.8 285.1 184.9 285.1C185.1 285.2 185.3 285.3 185.4 285.5C185.5 285.6 185.6 285.7 185.7 285.8C185.8 286.0 185.9 286.1 186.0 286.3C186.0 286.4 186.1 286.6 186.1 286.8Z" fill="#ff4422" stroke="none"/>
<path d="M163.8 282.4C163.8 282.8 163.8 283.3 163.8 283.7C163.7 284.1 163.5 284.6 163.3 285.0C163.1 285.4 162.8 285.9 162.4 286.3C162.1 286.7 161.6 287.1 161.2 287.4C160.7 287.8 160.2 288.1 159.6 288.4C159.0 288.7 158.4 288.9 157.8 289.1C157.1 289.3 156.5 289.5 155.8 289.6C155.1 289.8 154.4 289.8 153.8 289.8C153.1 289.9 152.4 289.8 151.8 289.8C151.2 289.7 150.6 289.6 150.0 289.4C149.4 289.2 148.9 289.0 148.4 288.7C147.9 288.5 147.5 288.2 147.2 287.9C146.8 287.5 146.5 287.2 146.3 286.8C146.1 286.4 145.9 286.0 145.8 285.6C145.8 285.2 145.8 284.7 145.8 284.3C145.9 283.9 146.1 283.4 146.3 283.0C146.5 282.6 146.8 282.1 147.2 281.7C147.5 281.3 148.0 280.9 148.4 280.6C148.9 280.2 149.4 279.9 150.0 279.6C150.6 279.3 151.2 279.1 151.8 278.9C152.5 278.7 153.1 278.5 153.8 278.4C154.5 278.2 155.2 278.2 155.8 278.2C156.5 278.1 157.2 278.2 157.8 278.2C158.4 278.3 159.0 278.4 159.6 278.6C160.2 278.8 160.7 279.0 161.2 279.3C161.7 279.5 162.1 279.8 162.4 280.1C162.8 280.5 163.1 280.8 163.3 281.2C163.5 281.6 163.7 282.0 163.8 282.4Z" fill="#c8f3ff" stroke="#6fbcff" stroke-width="0.5"/>
<path d="M162.7 282.6C162.7 283.0 162.7 283.4 162.7 283.7C162.6 284.1 162.5 284.5 162.3 284.9C162.1 285.3 161.8 285.6 161.5 286.0C161.2 286.3 160.8 286.7 160.4 287.0C160.0 287.3 159.5 287.6 159.0 287.8C158.5 288.1 158.0 288.3 157.4 288.5C156.8 288.7 156.3 288.8 155.7 288.9C155.1 289.0 154.5 289.1 153.9 289.1C153.3 289.1 152.7 289.1 152.2 289.1C151.6 289.0 151.1 288.9 150.6 288.7C150.1 288.6 149.6 288.4 149.2 288.2C148.8 287.9 148.4 287.7 148.1 287.4C147.8 287.1 147.5 286.8 147.3 286.5C147.1 286.1 147.0 285.8 146.9 285.4C146.9 285.0 146.9 284.6 146.9 284.3C147.0 283.9 147.1 283.5 147.3 283.1C147.5 282.7 147.8 282.4 148.1 282.0C148.4 281.7 148.8 281.3 149.2 281.0C149.6 280.7 150.1 280.4 150.6 280.2C151.1 279.9 151.6 279.7 152.2 279.5C152.8 279.3 153.3 279.2 153.9 279.1C154.5 279.0 155.1 278.9 155.7 278.9C156.3 278.9 156.9 278.9 157.4 278.9C158.0 279.0 158.5 279.1 159.0 279.3C159.5 279.4 160.0 279.6 160.4 279.8C160.8 280.1 161.2 280.3 161.5 280.6C161.8 280.9 162.1 281.2 162.3 281.5C162.5 281.9 162.6 282.2 162.7 282.6Z" fill="#8ee6f6" stroke="none"/>
<path d="M168.6 281.6C168.7 282.2 168.7 282.9 168.6 283.6C168.5 284.2 168.2 284.9 167.9 285.6C167.5 286.2 167.1 286.9 166.5 287.5C166.0 288.1 165.3 288.7 164.6 289.3C163.9 289.8 163.0 290.3 162.2 290.8C161.3 291.2 160.3 291.6 159.4 291.9C158.4 292.2 157.4 292.5 156.3 292.7C155.3 292.8 154.2 293.0 153.2 293.0C152.2 293.0 151.2 293.0 150.2 292.9C149.2 292.7 148.3 292.6 147.4 292.3C146.5 292.0 145.7 291.7 145.0 291.3C144.2 290.9 143.6 290.5 143.0 290.0C142.5 289.4 142.0 288.9 141.7 288.3C141.4 287.7 141.1 287.1 141.0 286.4C140.9 285.8 140.9 285.1 141.0 284.4C141.1 283.8 141.4 283.1 141.7 282.4C142.1 281.8 142.5 281.1 143.1 280.5C143.6 279.9 144.3 279.3 145.0 278.7C145.7 278.2 146.6 277.7 147.4 277.2C148.3 276.8 149.3 276.4 150.2 276.1C151.2 275.8 152.2 275.5 153.3 275.3C154.3 275.2 155.4 275.0 156.4 275.0C157.4 275.0 158.4 275.0 159.4 275.1C160.4 275.3 161.3 275.4 162.2 275.7C163.1 276.0 163.9 276.3 164.6 276.7C165.4 277.1 166.0 277.5 166.6 278.0C167.1 278.6 167.6 279.1 167.9 279.7C168.2 280.3 168.5 280.9 168.6 281.6Z" fill="none" stroke="#3434ee" stroke-width="0.8"/>
<path d="M166.7 281.9C166.8 282.5 166.8 283.0 166.7 283.6C166.6 284.2 166.3 284.8 166.1 285.4C165.8 285.9 165.4 286.5 164.9 287.0C164.4 287.5 163.8 288.1 163.2 288.5C162.6 289.0 161.9 289.4 161.1 289.8C160.4 290.2 159.6 290.5 158.7 290.8C157.9 291.1 157.0 291.3 156.1 291.5C155.2 291.6 154.3 291.7 153.4 291.7C152.6 291.8 151.7 291.7 150.8 291.6C150.0 291.5 149.2 291.4 148.4 291.1C147.7 290.9 147.0 290.6 146.3 290.3C145.7 289.9 145.2 289.5 144.7 289.1C144.2 288.7 143.8 288.2 143.5 287.7C143.2 287.2 143.0 286.6 142.9 286.1C142.8 285.5 142.8 285.0 142.9 284.4C143.0 283.8 143.3 283.2 143.5 282.6C143.8 282.1 144.2 281.5 144.7 281.0C145.2 280.5 145.8 279.9 146.4 279.5C147.0 279.0 147.7 278.6 148.5 278.2C149.2 277.8 150.0 277.5 150.9 277.2C151.7 276.9 152.6 276.7 153.5 276.5C154.4 276.4 155.3 276.3 156.2 276.3C157.0 276.2 157.9 276.3 158.8 276.4C159.6 276.5 160.4 276.6 161.2 276.9C161.9 277.1 162.6 277.4 163.3 277.7C163.9 278.1 164.4 278.5 164.9 278.9C165.4 279.3 165.8 279.8 166.1 280.3C166.4 280.8 166.6 281.4 166.7 281.9Z" fill="none" stroke="#4040f0" stroke-width="0.7"/>
<path d="M165.0 282.2C165.1 282.7 165.1 283.2 165.0 283.7C164.9 284.2 164.7 284.7 164.5 285.2C164.2 285.6 163.9 286.1 163.5 286.6C163.1 287.0 162.6 287.5 162.0 287.9C161.5 288.3 160.9 288.7 160.2 289.0C159.6 289.3 158.9 289.6 158.2 289.9C157.5 290.1 156.7 290.3 155.9 290.4C155.2 290.5 154.4 290.6 153.6 290.7C152.9 290.7 152.1 290.6 151.4 290.6C150.7 290.5 150.0 290.3 149.3 290.1C148.7 289.9 148.1 289.7 147.5 289.4C147.0 289.1 146.5 288.8 146.1 288.4C145.7 288.0 145.4 287.6 145.1 287.2C144.9 286.7 144.7 286.3 144.6 285.8C144.5 285.3 144.5 284.8 144.6 284.3C144.7 283.8 144.9 283.3 145.1 282.8C145.4 282.4 145.7 281.9 146.1 281.4C146.5 281.0 147.0 280.5 147.6 280.1C148.1 279.7 148.7 279.3 149.4 279.0C150.0 278.7 150.7 278.4 151.4 278.1C152.1 277.9 152.9 277.7 153.7 277.6C154.4 277.5 155.2 277.4 156.0 277.3C156.7 277.3 157.5 277.4 158.2 277.4C158.9 277.5 159.6 277.7 160.3 277.9C160.9 278.1 161.5 278.3 162.1 278.6C162.6 278.9 163.1 279.2 163.5 279.6C163.9 280.0 164.2 280.4 164.5 280.8C164.7 281.3 164.9 281.7 165.0 282.2Z" fill="none" stroke="#5066f4" stroke-width="0.6"/>
<path d="M158.9 283.3C159.0 283.5 159.0 283.7 158.9 283.9C158.9 284.1 158.8 284.3 158.7 284.5C158.6 284.7 158.5 284.9 158.3 285.1C158.2 285.2 158.0 285.4 157.7 285.6C157.5 285.7 157.3 285.9 157.0 286.0C156.7 286.2 156.5 286.3 156.2 286.4C155.9 286.5 155.6 286.5 155.3 286.6C155.0 286.7 154.6 286.7 154.3 286.7C154.0 286.7 153.7 286.7 153.4 286.7C153.1 286.6 152.8 286.6 152.6 286.5C152.3 286.4 152.1 286.3 151.9 286.2C151.6 286.1 151.4 285.9 151.3 285.8C151.1 285.6 151.0 285.5 150.9 285.3C150.8 285.1 150.7 284.9 150.7 284.7C150.6 284.5 150.6 284.3 150.7 284.1C150.7 283.9 150.8 283.7 150.9 283.5C151.0 283.3 151.1 283.1 151.3 282.9C151.4 282.8 151.6 282.6 151.9 282.4C152.1 282.3 152.3 282.1 152.6 282.0C152.9 281.8 153.1 281.7 153.4 281.6C153.7 281.5 154.0 281.5 154.3 281.4C154.6 281.3 155.0 281.3 155.3 281.3C155.6 281.3 155.9 281.3 156.2 281.3C156.5 281.4 156.8 281.4 157.0 281.5C157.3 281.6 157.5 281.7 157.7 281.8C158.0 281.9 158.2 282.1 158.3 282.2C158.5 282.4 158.6 282.5 158.7 282.7C158.8 282.9 158.9 283.1 158.9 283.3Z" fill="#8fe98a" stroke="none"/>
<path d="M158.4 283.4C158.5 283.5 158.5 283.7 158.4 283.9C158.4 284.1 158.3 284.2 158.3 284.4C158.2 284.6 158.0 284.8 157.9 284.9C157.8 285.1 157.6 285.2 157.4 285.4C157.2 285.5 157.0 285.7 156.7 285.8C156.5 285.9 156.3 286.0 156.0 286.1C155.7 286.2 155.5 286.2 155.2 286.3C154.9 286.3 154.7 286.4 154.4 286.4C154.1 286.4 153.8 286.4 153.6 286.3C153.3 286.3 153.1 286.3 152.8 286.2C152.6 286.1 152.4 286.0 152.2 285.9C152.0 285.8 151.8 285.7 151.7 285.6C151.6 285.4 151.4 285.3 151.3 285.1C151.3 285.0 151.2 284.8 151.2 284.6C151.1 284.5 151.1 284.3 151.2 284.1C151.2 283.9 151.3 283.8 151.3 283.6C151.4 283.4 151.6 283.2 151.7 283.1C151.8 282.9 152.0 282.8 152.2 282.6C152.4 282.5 152.6 282.3 152.9 282.2C153.1 282.1 153.3 282.0 153.6 281.9C153.9 281.8 154.1 281.8 154.4 281.7C154.7 281.7 154.9 281.6 155.2 281.6C155.5 281.6 155.8 281.6 156.0 281.7C156.3 281.7 156.5 281.7 156.8 281.8C157.0 281.9 157.2 282.0 157.4 282.1C157.6 282.2 157.8 282.3 157.9 282.4C158.0 282.6 158.2 282.7 158.3 282.9C158.3 283.0 158.4 283.2 158.4 283.4Z" fill="#4ade42" stroke="none"/>
<path d="M156.6 283.7C156.6 283.8 156.6 283.9 156.6 283.9C156.6 284.0 156.6 284.1 156.5 284.2C156.5 284.3 156.4 284.4 156.3 284.5C156.3 284.5 156.2 284.6 156.1 284.7C156.0 284.8 155.9 284.8 155.8 284.9C155.7 284.9 155.5 285.0 155.4 285.0C155.3 285.1 155.1 285.1 155.0 285.1C154.9 285.2 154.7 285.2 154.6 285.2C154.5 285.2 154.3 285.2 154.2 285.2C154.1 285.2 153.9 285.1 153.8 285.1C153.7 285.1 153.6 285.0 153.5 285.0C153.4 284.9 153.3 284.9 153.2 284.8C153.2 284.7 153.1 284.6 153.1 284.6C153.0 284.5 153.0 284.4 153.0 284.3C153.0 284.2 153.0 284.1 153.0 284.1C153.0 284.0 153.0 283.9 153.1 283.8C153.1 283.7 153.2 283.6 153.3 283.5C153.3 283.5 153.4 283.4 153.5 283.3C153.6 283.2 153.7 283.2 153.8 283.1C153.9 283.1 154.1 283.0 154.2 283.0C154.3 282.9 154.5 282.9 154.6 282.9C154.7 282.8 154.9 282.8 155.0 282.8C155.1 282.8 155.3 282.8 155.4 282.8C155.5 282.8 155.7 282.9 155.8 282.9C155.9 282.9 156.0 283.0 156.1 283.0C156.2 283.1 156.3 283.1 156.4 283.2C156.4 283.3 156.5 283.4 156.5 283.4C156.6 283.5 156.6 283.6 156.6 283.7Z" fill="#bdee4a" stroke="none"/>
<path d="M155.8 283.8C155.8 283.9 155.8 283.9 155.8 284.0C155.8 284.0 155.8 284.1 155.7 284.1C155.7 284.2 155.7 284.2 155.6 284.3C155.6 284.3 155.6 284.3 155.5 284.4C155.5 284.4 155.4 284.5 155.3 284.5C155.3 284.5 155.2 284.5 155.1 284.6C155.1 284.6 155.0 284.6 154.9 284.6C154.8 284.6 154.8 284.6 154.7 284.6C154.6 284.6 154.5 284.6 154.5 284.6C154.4 284.6 154.3 284.6 154.3 284.6C154.2 284.6 154.1 284.6 154.1 284.5C154.0 284.5 154.0 284.5 154.0 284.4C153.9 284.4 153.9 284.4 153.9 284.3C153.8 284.3 153.8 284.2 153.8 284.2C153.8 284.1 153.8 284.1 153.8 284.0C153.8 284.0 153.8 283.9 153.9 283.9C153.9 283.8 153.9 283.8 154.0 283.7C154.0 283.7 154.0 283.7 154.1 283.6C154.1 283.6 154.2 283.5 154.3 283.5C154.3 283.5 154.4 283.5 154.5 283.4C154.5 283.4 154.6 283.4 154.7 283.4C154.8 283.4 154.8 283.4 154.9 283.4C155.0 283.4 155.1 283.4 155.1 283.4C155.2 283.4 155.3 283.4 155.3 283.4C155.4 283.4 155.5 283.4 155.5 283.5C155.6 283.5 155.6 283.5 155.6 283.6C155.7 283.6 155.7 283.6 155.7 283.7C155.8 283.7 155.8 283.8 155.8 283.8Z" fill="#e6f070" stroke="none"/>
<path d="M137.4 283.0L141.0 275.0L148.0 271.5L157.0 270.7L164.0 271.5L170.5 280.0L167.0 290.0L157.5 294.0L147.0 294.9L140.0 289.0Z" fill="none" stroke="#f05050" stroke-width="0.75" stroke-linejoin="round"/>
<text x="137.6" y="268.2" font-size="5.3" fill="#f11" stroke="#f22" stroke-width="0.18">P6(20.38%)</text>
<rect x="116.5" y="350.5" width="98.0" height="99.0" fill="none" stroke="#666" stroke-width="1"/>
<path d="M116.5 353.5h1.5M116.5 356.8h1.5M116.5 360.1h1.5M116.5 363.4h1.5M116.5 366.7h1.5M116.5 370.0h1.5M116.5 373.3h1.5M116.5 376.6h1.5M116.5 379.9h1.5M116.5 383.2h1.5M116.5 386.5h1.5M116.5 389.8h1.5M116.5 393.1h1.5M116.5 396.4h1.5M116.5 399.7h1.5M116.5 403.0h1.5M116.5 406.3h1.5M116.5 409.6h1.5M116.5 412.9h1.5M116.5 416.2h1.5M116.5 419.5h1.5M116.5 422.8h1.5M116.5 426.1h1.5M116.5 429.4h1.5M116.5 432.7h1.5M116.5 436.0h1.5M116.5 439.3h1.5M116.5 442.6h1.5M116.5 445.9h1.5M120.5 449.5v-1.3M124.9 449.5v-1.3M129.3 449.5v-1.3M133.7 449.5v-1.3M138.1 449.5v-1.3M142.5 449.5v-1.3M146.9 449.5v-1.3M151.3 449.5v-1.3M155.7 449.5v-1.3M160.1 449.5v-1.3M164.5 449.5v-1.3M168.9 449.5v-1.3M173.3 449.5v-1.3M177.7 449.5v-1.3M182.1 449.5v-1.3M186.5 449.5v-1.3M190.9 449.5v-1.3M195.3 449.5v-1.3M199.7 449.5v-1.3M204.1 449.5v-1.3M208.5 449.5v-1.3M212.9 449.5v-1.3" stroke="#999" stroke-width="0.6" fill="none"/>
<path d="M120 375.5h1m-1 40h1m-1 8h1m-1 8h1m2-4h1m-1 1h1m-1 12h1m0-51h1m-1 21h1m0-8h1m0-24h1m0 62h1m0-57h1m-1 42h1m-1 8h1m0-60h1m-1 43h1m-1 9h1m1-18h1m-1 15h1m0 19h1m1-7h1m-1 4h1m0-51h1m-1 14h1m-1 4h1m-1 36h1m0-19h1m0-15h1m-1 14h1m-1 19h1m0-43h1m-1 23h1m0 11h1m-1 3h1m0-49h1m-1 24h1m-1 11h1m-1 5h1m-1 10h1m1-57h1m-1 14h1m-1 5h1m-1 10h1m0-18h1m-1 30h1m-1 22h1m1-82h1m0 37h1m-1 15h1m0-26h1m-1 11h1m-1 16h1m-1 13h1m0-29h1m-1 13h1m-1 2h1m-1 3h1m0-29h1m-1 25h1m0-29h1m-1 31h1m-1 4h1m-1 2h1m-1 18h1m0-58h1m-1 36h1m-1 11h1m0-52h1m-1 12h1m-1 9h1m-1 5h1m-1 3h1m-1 4h1m-1 5h1m0 0h1m-1 15h1m0-23h1m-1 18h1m-1 16h1m-1 1h1m0-41h1m-1 11h1m-1 9h1m0-49h1m-1 4h1m-1 1h1m-1 2h1m-1 7h1m-1 17h1m0-36h1m-1 2h1m-1 18h1m-1 2h1m-1 22h1m-1 26h1m0-66h1m-1 44h1m-1 18h1m0-52h1m-1 6h1m0 19h1m-1 7h1m-1 12h1m0-43h1m-1 31h1m-1 13h1m1-54h1m-1 16h1m-1 4h1m0-32h1m-1 32h1m-1 10h1m-1 10h1m-1 8h1m-1 7h1m0-49h1m-1 15h1m-1 21h1m0-50h1m-1 5h1m0-5h1m-1 19h1m-1 53h1m0-75h1m0 13h1m-1 1h1m-1 21h1m-1 7h1m-1 7h1m0-52h1m-1 14h1m-1 14h1m-1 17h1m-1 3h1m-1 1h1m-1 25h1m-1 3h1m-1 6h1m0-83h1m-1 8h1m-1 23h1m-1 39h1m0-48h1m-1 6h1m-1 36h1m0-46h1m-1 4h1m-1 23h1m0-23h1m-1 27h1m-1 11h1m-1 1h1m-1 5h1m0-44h1m-1 8h1m-1 18h1m-1 4h1m-1 22h1m1-64h1m-1 10h1m-1 10h1m-1 7h1m0-31h1m-1 24h1m-1 23h1m-1 18h1m0-56h1m-1 13h1m-1 4h1m-1 12h1m0-8h1m-1 2h1m0-32h1m-1 7h1m-1 31h1m-1 29h1m0-70h1m-1 8h1m-1 32h1m-1 42h1m0-73h1m-1 4h1m-1 32h1m-1 8h1m0-28h1m-1 9h1m-1 18h1m0-56h1m0 22h1m-1 9h1m-1 10h1m-1 13h1m0-23h1m0-11h1m-1 5h1m-1 6h1m0-6h1m-1 3h1m-1 38h1m0-58h1m-1 24h1m0-23h1m-1 22h1m0 9h1m-1 11h1m0-45h1m-1 9h1m-1 15h1m-1 1h1m0-1h1m-1 22h1m1-39h1m-1 10h1m-1 16h1m0-13h1m0-12h1m0 4h1m0-1h1m0 3h1m-1 16h1m0-1h1m-1 18h1m0-28h1m-1 2h1m0-18h1m0-1h1m0 13h1m-1 71h1m1-33h1m0 30h1m1-75h1m0 4h1m0 5h1" stroke="#444" stroke-width="1" opacity="0.78" fill="none" filter="url(#sb)"/>
<path d="M119 383.5h1m-1 3h1m-1 26h1m-1 11h1m1-61h1m1 71h1m-1 15h1m0-30h1m1-19h1m0-24h1m-1 18h1m-1 24h1m-1 14h1m-1 12h1m0-17h1m-1 5h1m-1 3h1m-1 2h1m0-30h1m-1 21h1m0-29h1m-1 35h1m-1 11h1m0-56h1m-1 30h1m0-5h1m0 24h1m0-51h1m-1 39h1m0-53h1m-1 35h1m-1 15h1m0-37h1m-1 33h1m0-50h1m0 46h1m-1 7h1m-1 8h1m-1 12h1m0-32h1m-1 15h1m0-29h1m-1 2h1m-1 22h1m-1 2h1m-1 2h1m0-22h1m-1 2h1m-1 28h1m-1 10h1m0-69h1m-1 6h1m-1 11h1m-1 2h1m-1 39h1m-1 8h1m-1 3h1m0-55h1m-1 4h1m-1 20h1m-1 27h1m0-74h1m-1 34h1m-1 16h1m0-25h1m-1 17h1m-1 4h1m-1 3h1m-1 17h1m0-52h1m-1 10h1m-1 11h1m0 37h1m0-81h1m-1 43h1m-1 30h1m0-13h1m-1 22h1m0-59h1m-1 23h1m-1 15h1m0-23h1m-1 15h1m-1 10h1m-1 6h1m-1 4h1m0-72h1m-1 60h1m-1 1h1m0-36h1m-1 9h1m-1 4h1m0-26h1m-1 18h1m-1 17h1m-1 34h1m-1 7h1m0-59h1m0 26h1m-1 14h1m-1 11h1m0-50h1m-1 7h1m-1 37h1m0-65h1m-1 7h1m-1 26h1m-1 3h1m-1 4h1m-1 15h1m0-52h1m-1 34h1m-1 6h1m0-31h1m-1 31h1m-1 16h1m-1 3h1m0-29h1m-1 8h1m-1 11h1m-1 2h1m-1 26h1m0-70h1m-1 55h1m0 3h1m0-55h1m-1 14h1m-1 42h1m0-57h1m-1 23h1m0-18h1m-1 3h1m-1 11h1m-1 11h1m1-44h1m-1 13h1m-1 4h1m-1 5h1m-1 22h1m-1 8h1m-1 13h1m-1 12h1m0-65h1m-1 30h1m-1 13h1m0-34h1m-1 7h1m-1 19h1m-1 2h1m-1 6h1m1-42h1m-1 2h1m0-16h1m-1 27h1m-1 20h1m-1 14h1m0-54h1m-1 3h1m-1 12h1m-1 14h1m0-9h1m-1 11h1m-1 7h1m0-21h1m-1 14h1m-1 13h1m-1 33h1m0-34h1m-1 3h1m0-11h1m-1 37h1m0-47h1m-1 14h1m-1 2h1m0-45h1m-1 17h1m0-3h1m-1 22h1m-1 23h1m0-61h1m-1 13h1m-1 8h1m0-11h1m-1 8h1m-1 9h1m-1 1h1m-1 15h1m-1 7h1m0-59h1m-1 7h1m-1 9h1m-1 13h1m-1 44h1m0-50h1m-1 9h1m-1 2h1m0 46h1m0-12h1m0-26h1m-1 8h1m0-34h1m-1 25h1m-1 21h1m-1 19h1m0-60h1m-1 12h1m0-18h1m-1 14h1m0-20h1m-1 32h1m1-35h1m-1 14h1m-1 4h1m-1 40h1m0-58h1m0 3h1m-1 30h1m1-24h1m0-3h1m-1 31h1m-1 10h1m0-35h1m1 0h1m-1 3h1m-1 57h1m0-68h1m-1 10h1m-1 1h1m-1 4h1m-1 2h1m3-4h1m1 8h1m-1 17h1m2-30h1m0-19h1" stroke="#444" stroke-width="1" opacity="0.42" fill="none" filter="url(#sb)"/>
<path d="M150.0 377.0C151.4 374.5 154.7 373.0 158.0 372.0C161.3 371.0 165.8 371.2 170.0 371.1C174.2 371.0 179.7 370.9 183.0 371.5C186.3 372.1 188.5 373.1 190.0 375.0C191.5 376.9 192.2 380.3 192.0 383.0C191.8 385.7 191.0 389.1 189.0 391.0C187.0 392.9 183.5 394.0 180.0 394.5C176.5 395.0 172.0 394.2 168.0 394.0C164.0 393.8 159.1 394.2 156.0 393.0C152.9 391.8 150.5 389.7 149.5 387.0C148.5 384.3 148.6 379.5 150.0 377.0Z" fill="#fff" stroke="none"/>
<path d="M162.7 394.5C160.9 395.4 164.9 398.1 165.1 400.0C165.3 401.9 165.7 404.2 163.9 406.0C162.1 407.8 157.4 408.7 154.2 410.9C151.0 413.1 146.9 416.7 144.5 419.3C142.1 421.9 139.9 424.0 139.7 426.6C139.5 429.2 141.3 433.0 143.3 435.1C145.3 437.2 148.8 439.5 151.8 439.3C154.8 439.1 158.3 436.2 161.5 433.9C164.7 431.6 169.0 428.2 171.2 425.4C173.4 422.6 174.0 420.1 174.8 416.9C175.6 413.7 175.6 409.0 176.0 406.0C176.4 403.0 177.2 400.7 177.2 398.8C177.2 396.9 178.4 395.2 176.0 394.5C173.6 393.8 164.5 393.6 162.7 394.5Z" fill="#fff" stroke="none"/>
<path d="M144.5 425.4C144.9 423.4 142.8 423.0 147.0 420.6C151.2 418.2 165.7 411.9 170.0 410.9C174.3 409.9 173.2 412.1 173.0 414.5C172.8 416.9 170.9 422.4 168.8 425.4C166.7 428.4 163.1 430.7 160.3 432.7C157.5 434.7 154.4 437.5 151.8 437.5C149.2 437.5 145.7 434.7 144.5 432.7C143.3 430.7 144.1 427.4 144.5 425.4Z" fill="#fff" stroke="none"/>
<path d="M159.8 428.6C160.0 429.0 160.1 429.5 160.1 430.0C160.1 430.5 160.1 431.0 160.0 431.5C159.9 432.0 159.7 432.5 159.4 433.0C159.2 433.5 158.9 434.0 158.5 434.5C158.2 434.9 157.7 435.4 157.3 435.7C156.8 436.1 156.3 436.5 155.7 436.8C155.2 437.1 154.6 437.4 154.0 437.6C153.4 437.8 152.8 438.0 152.2 438.1C151.6 438.2 150.9 438.3 150.3 438.3C149.7 438.3 149.1 438.2 148.6 438.1C148.0 438.0 147.4 437.8 146.9 437.6C146.4 437.4 146.0 437.1 145.6 436.8C145.2 436.5 144.8 436.1 144.5 435.7C144.2 435.3 144.0 434.9 143.8 434.4C143.6 434.0 143.5 433.5 143.5 433.0C143.5 432.5 143.5 432.0 143.6 431.5C143.7 431.0 143.9 430.5 144.2 430.0C144.4 429.5 144.7 429.0 145.1 428.5C145.4 428.1 145.9 427.6 146.3 427.3C146.8 426.9 147.3 426.5 147.9 426.2C148.4 425.9 149.0 425.6 149.6 425.4C150.2 425.2 150.8 425.0 151.4 424.9C152.0 424.8 152.7 424.7 153.3 424.7C153.9 424.7 154.5 424.8 155.0 424.9C155.6 425.0 156.2 425.2 156.7 425.4C157.2 425.6 157.6 425.9 158.0 426.2C158.4 426.5 158.8 426.9 159.1 427.3C159.4 427.7 159.6 428.1 159.8 428.6Z" fill="#fff" stroke="none"/>
<path d="M176.0 383.6C176.0 384.2 175.9 384.7 175.7 385.3C175.5 385.8 175.2 386.4 174.8 386.9C174.4 387.4 173.9 387.8 173.4 388.3C172.8 388.7 172.2 389.1 171.5 389.5C170.8 389.8 170.0 390.1 169.2 390.4C168.4 390.6 167.5 390.8 166.7 390.9C165.8 391.0 164.9 391.1 164.0 391.1C163.1 391.1 162.2 391.0 161.3 390.9C160.5 390.8 159.6 390.6 158.8 390.4C158.0 390.1 157.2 389.8 156.5 389.5C155.8 389.1 155.2 388.7 154.6 388.3C154.1 387.8 153.6 387.4 153.2 386.9C152.8 386.4 152.5 385.8 152.3 385.3C152.1 384.7 152.0 384.2 152.0 383.6C152.0 383.0 152.1 382.5 152.3 381.9C152.5 381.4 152.8 380.8 153.2 380.3C153.6 379.8 154.1 379.4 154.6 378.9C155.2 378.5 155.8 378.1 156.5 377.7C157.2 377.4 158.0 377.1 158.8 376.8C159.6 376.6 160.5 376.4 161.3 376.3C162.2 376.2 163.1 376.1 164.0 376.1C164.9 376.1 165.8 376.2 166.7 376.3C167.5 376.4 168.4 376.6 169.2 376.8C170.0 377.1 170.8 377.4 171.5 377.7C172.2 378.1 172.8 378.5 173.4 378.9C173.9 379.4 174.4 379.8 174.8 380.3C175.2 380.8 175.5 381.4 175.7 381.9C175.9 382.5 176.0 383.0 176.0 383.6Z" fill="#fff" stroke="none"/>
<path d="M190.0 384.8C190.0 385.4 189.9 386.1 189.7 386.7C189.6 387.3 189.3 387.9 189.0 388.5C188.7 389.1 188.3 389.6 187.8 390.1C187.4 390.6 186.8 391.1 186.2 391.4C185.7 391.8 185.0 392.2 184.3 392.5C183.7 392.7 182.9 392.9 182.2 393.1C181.5 393.2 180.7 393.3 180.0 393.3C179.3 393.3 178.5 393.2 177.8 393.1C177.1 392.9 176.3 392.7 175.7 392.5C175.0 392.2 174.3 391.8 173.8 391.4C173.2 391.1 172.6 390.6 172.2 390.1C171.7 389.6 171.3 389.1 171.0 388.5C170.7 387.9 170.4 387.3 170.3 386.7C170.1 386.1 170.0 385.4 170.0 384.8C170.0 384.2 170.1 383.5 170.3 382.9C170.4 382.3 170.7 381.7 171.0 381.1C171.3 380.5 171.7 380.0 172.2 379.5C172.6 379.0 173.2 378.5 173.8 378.2C174.3 377.8 175.0 377.4 175.7 377.1C176.3 376.9 177.1 376.7 177.8 376.5C178.5 376.4 179.3 376.3 180.0 376.3C180.7 376.3 181.5 376.4 182.2 376.5C182.9 376.7 183.7 376.9 184.3 377.1C185.0 377.4 185.7 377.8 186.2 378.2C186.8 378.5 187.4 379.0 187.8 379.5C188.3 380.0 188.7 380.5 189.0 381.1C189.3 381.7 189.6 382.3 189.7 382.9C189.9 383.5 190.0 384.2 190.0 384.8Z" fill="#fff" stroke="none"/>
<path d="M150.0 377.0C151.4 374.5 154.7 373.0 158.0 372.0C161.3 371.0 165.8 371.2 170.0 371.1C174.2 371.0 179.7 370.9 183.0 371.5C186.3 372.1 188.5 373.1 190.0 375.0C191.5 376.9 192.2 380.3 192.0 383.0C191.8 385.7 191.0 389.1 189.0 391.0C187.0 392.9 183.5 394.0 180.0 394.5C176.5 395.0 172.0 394.2 168.0 394.0C164.0 393.8 159.1 394.2 156.0 393.0C152.9 391.8 150.5 389.7 149.5 387.0C148.5 384.3 148.6 379.5 150.0 377.0Z" fill="none" stroke="#3c3cf0" stroke-width="0.6"/>
<path d="M162.7 394.5C160.9 395.4 164.9 398.1 165.1 400.0C165.3 401.9 165.7 404.2 163.9 406.0C162.1 407.8 157.4 408.7 154.2 410.9C151.0 413.1 146.9 416.7 144.5 419.3C142.1 421.9 139.9 424.0 139.7 426.6C139.5 429.2 141.3 433.0 143.3 435.1C145.3 437.2 148.8 439.5 151.8 439.3C154.8 439.1 158.3 436.2 161.5 433.9C164.7 431.6 169.0 428.2 171.2 425.4C173.4 422.6 174.0 420.1 174.8 416.9C175.6 413.7 175.6 409.0 176.0 406.0C176.4 403.0 177.2 400.7 177.2 398.8C177.2 396.9 178.4 395.2 176.0 394.5C173.6 393.8 164.5 393.6 162.7 394.5Z" fill="none" stroke="#3c3cf0" stroke-width="0.7"/>
<path d="M144.5 425.4C144.9 423.4 142.8 423.0 147.0 420.6C151.2 418.2 165.7 411.9 170.0 410.9C174.3 409.9 173.2 412.1 173.0 414.5C172.8 416.9 170.9 422.4 168.8 425.4C166.7 428.4 163.1 430.7 160.3 432.7C157.5 434.7 154.4 437.5 151.8 437.5C149.2 437.5 145.7 434.7 144.5 432.7C143.3 430.7 144.1 427.4 144.5 425.4Z" fill="none" stroke="#3c3cf0" stroke-width="0.6"/>
<line x1="168" y1="400" x2="176" y2="400" stroke="#3c3cf0" stroke-width="0.8"/>
<path d="M157.0 429.6C157.1 429.9 157.2 430.2 157.2 430.5C157.2 430.9 157.2 431.2 157.1 431.5C157.0 431.8 156.9 432.2 156.8 432.5C156.6 432.8 156.4 433.1 156.2 433.4C155.9 433.7 155.7 434.0 155.4 434.3C155.1 434.5 154.7 434.7 154.4 435.0C154.0 435.2 153.6 435.3 153.2 435.5C152.9 435.6 152.5 435.7 152.1 435.8C151.7 435.9 151.2 435.9 150.8 435.9C150.5 435.9 150.1 435.9 149.7 435.8C149.3 435.7 149.0 435.6 148.6 435.5C148.3 435.3 148.0 435.1 147.7 434.9C147.5 434.7 147.3 434.5 147.1 434.2C146.9 434.0 146.7 433.7 146.6 433.4C146.5 433.1 146.4 432.8 146.4 432.5C146.4 432.1 146.4 431.8 146.5 431.5C146.6 431.2 146.7 430.8 146.8 430.5C147.0 430.2 147.2 429.9 147.4 429.6C147.7 429.3 147.9 429.0 148.2 428.7C148.5 428.5 148.9 428.3 149.2 428.0C149.6 427.8 150.0 427.7 150.4 427.5C150.7 427.4 151.1 427.3 151.5 427.2C151.9 427.1 152.4 427.1 152.8 427.1C153.1 427.1 153.5 427.1 153.9 427.2C154.3 427.3 154.6 427.4 155.0 427.5C155.3 427.7 155.6 427.9 155.9 428.1C156.1 428.3 156.3 428.5 156.5 428.8C156.7 429.0 156.9 429.3 157.0 429.6Z" fill="#c8f3ff" stroke="#6fbcff" stroke-width="0.5"/>
<path d="M156.4 429.8C156.4 430.1 156.5 430.4 156.5 430.7C156.5 430.9 156.5 431.2 156.5 431.5C156.4 431.8 156.3 432.1 156.1 432.4C156.0 432.7 155.8 432.9 155.6 433.2C155.4 433.4 155.2 433.7 154.9 433.9C154.7 434.1 154.4 434.3 154.0 434.5C153.7 434.7 153.4 434.9 153.1 435.0C152.7 435.1 152.4 435.2 152.0 435.3C151.7 435.3 151.3 435.4 151.0 435.4C150.6 435.4 150.3 435.3 150.0 435.3C149.6 435.2 149.3 435.1 149.0 435.0C148.7 434.8 148.5 434.7 148.2 434.5C148.0 434.3 147.8 434.1 147.6 433.9C147.5 433.7 147.3 433.4 147.2 433.2C147.2 432.9 147.1 432.6 147.1 432.3C147.1 432.1 147.1 431.8 147.1 431.5C147.2 431.2 147.3 430.9 147.5 430.6C147.6 430.3 147.8 430.1 148.0 429.8C148.2 429.6 148.4 429.3 148.7 429.1C148.9 428.9 149.2 428.7 149.6 428.5C149.9 428.3 150.2 428.1 150.5 428.0C150.9 427.9 151.2 427.8 151.6 427.7C151.9 427.7 152.3 427.6 152.6 427.6C153.0 427.6 153.3 427.7 153.6 427.7C154.0 427.8 154.3 427.9 154.6 428.0C154.9 428.2 155.1 428.3 155.4 428.5C155.6 428.7 155.8 428.9 156.0 429.1C156.1 429.3 156.3 429.6 156.4 429.8Z" fill="#8ee6f6" stroke="none"/>
<path d="M159.8 428.6C160.0 429.0 160.1 429.5 160.1 430.0C160.1 430.5 160.1 431.0 160.0 431.5C159.9 432.0 159.7 432.5 159.4 433.0C159.2 433.5 158.9 434.0 158.5 434.5C158.2 434.9 157.7 435.4 157.3 435.7C156.8 436.1 156.3 436.5 155.7 436.8C155.2 437.1 154.6 437.4 154.0 437.6C153.4 437.8 152.8 438.0 152.2 438.1C151.6 438.2 150.9 438.3 150.3 438.3C149.7 438.3 149.1 438.2 148.6 438.1C148.0 438.0 147.4 437.8 146.9 437.6C146.4 437.4 146.0 437.1 145.6 436.8C145.2 436.5 144.8 436.1 144.5 435.7C144.2 435.3 144.0 434.9 143.8 434.4C143.6 434.0 143.5 433.5 143.5 433.0C143.5 432.5 143.5 432.0 143.6 431.5C143.7 431.0 143.9 430.5 144.2 430.0C144.4 429.5 144.7 429.0 145.1 428.5C145.4 428.1 145.9 427.6 146.3 427.3C146.8 426.9 147.3 426.5 147.9 426.2C148.4 425.9 149.0 425.6 149.6 425.4C150.2 425.2 150.8 425.0 151.4 424.9C152.0 424.8 152.7 424.7 153.3 424.7C153.9 424.7 154.5 424.8 155.0 424.9C155.6 425.0 156.2 425.2 156.7 425.4C157.2 425.6 157.6 425.9 158.0 426.2C158.4 426.5 158.8 426.9 159.1 427.3C159.4 427.7 159.6 428.1 159.8 428.6Z" fill="none" stroke="#3434ee" stroke-width="0.8"/>
<path d="M158.7 429.0C158.8 429.4 158.9 429.8 158.9 430.2C158.9 430.7 158.9 431.1 158.8 431.5C158.7 432.0 158.6 432.4 158.4 432.8C158.2 433.2 157.9 433.7 157.6 434.0C157.3 434.4 156.9 434.8 156.5 435.1C156.1 435.5 155.7 435.8 155.2 436.1C154.7 436.3 154.2 436.6 153.7 436.8C153.2 436.9 152.7 437.1 152.1 437.2C151.6 437.3 151.1 437.3 150.5 437.3C150.0 437.3 149.5 437.3 149.0 437.2C148.5 437.1 148.1 436.9 147.6 436.7C147.2 436.5 146.8 436.3 146.4 436.0C146.1 435.8 145.8 435.4 145.5 435.1C145.3 434.8 145.1 434.4 144.9 434.0C144.8 433.6 144.7 433.2 144.7 432.8C144.7 432.3 144.7 431.9 144.8 431.5C144.9 431.0 145.0 430.6 145.2 430.2C145.4 429.8 145.7 429.3 146.0 429.0C146.3 428.6 146.7 428.2 147.1 427.9C147.5 427.5 147.9 427.2 148.4 426.9C148.9 426.7 149.4 426.4 149.9 426.2C150.4 426.1 150.9 425.9 151.5 425.8C152.0 425.7 152.5 425.7 153.1 425.7C153.6 425.7 154.1 425.7 154.6 425.8C155.1 425.9 155.5 426.1 156.0 426.3C156.4 426.5 156.8 426.7 157.2 427.0C157.5 427.2 157.8 427.6 158.1 427.9C158.3 428.2 158.5 428.6 158.7 429.0Z" fill="none" stroke="#4040f0" stroke-width="0.7"/>
<path d="M157.7 429.3C157.8 429.7 157.9 430.0 157.9 430.4C157.9 430.8 157.9 431.2 157.8 431.5C157.8 431.9 157.6 432.3 157.4 432.6C157.3 433.0 157.0 433.4 156.8 433.7C156.5 434.0 156.2 434.3 155.8 434.6C155.5 434.9 155.1 435.2 154.7 435.4C154.3 435.7 153.9 435.9 153.4 436.0C153.0 436.2 152.5 436.3 152.1 436.4C151.6 436.5 151.2 436.5 150.7 436.5C150.3 436.5 149.8 436.5 149.4 436.4C149.0 436.3 148.6 436.2 148.2 436.0C147.8 435.8 147.5 435.6 147.2 435.4C146.9 435.2 146.6 434.9 146.4 434.6C146.2 434.3 146.0 434.0 145.9 433.7C145.8 433.3 145.7 433.0 145.7 432.6C145.7 432.2 145.7 431.8 145.8 431.5C145.8 431.1 146.0 430.7 146.2 430.4C146.3 430.0 146.6 429.6 146.8 429.3C147.1 429.0 147.4 428.7 147.8 428.4C148.1 428.1 148.5 427.8 148.9 427.6C149.3 427.3 149.7 427.1 150.2 427.0C150.6 426.8 151.1 426.7 151.5 426.6C152.0 426.5 152.4 426.5 152.9 426.5C153.3 426.5 153.8 426.5 154.2 426.6C154.6 426.7 155.0 426.8 155.4 427.0C155.8 427.2 156.1 427.4 156.4 427.6C156.7 427.8 157.0 428.1 157.2 428.4C157.4 428.7 157.6 429.0 157.7 429.3Z" fill="none" stroke="#5066f4" stroke-width="0.6"/>
<path d="M155.2 430.3C155.2 430.5 155.3 430.7 155.3 430.9C155.3 431.1 155.3 431.3 155.2 431.5C155.2 431.7 155.1 431.9 155.0 432.1C154.9 432.4 154.8 432.6 154.6 432.7C154.5 432.9 154.3 433.1 154.1 433.3C153.9 433.4 153.7 433.6 153.5 433.7C153.2 433.9 153.0 434.0 152.7 434.1C152.5 434.2 152.2 434.2 152.0 434.3C151.7 434.3 151.4 434.3 151.2 434.3C150.9 434.3 150.7 434.3 150.4 434.3C150.2 434.2 150.0 434.1 149.8 434.1C149.6 434.0 149.4 433.8 149.2 433.7C149.0 433.6 148.9 433.4 148.7 433.3C148.6 433.1 148.5 432.9 148.4 432.7C148.4 432.5 148.3 432.3 148.3 432.1C148.3 431.9 148.3 431.7 148.4 431.5C148.4 431.3 148.5 431.1 148.6 430.9C148.7 430.6 148.8 430.4 149.0 430.3C149.1 430.1 149.3 429.9 149.5 429.7C149.7 429.6 149.9 429.4 150.1 429.3C150.4 429.1 150.6 429.0 150.9 428.9C151.1 428.8 151.4 428.8 151.6 428.7C151.9 428.7 152.2 428.7 152.4 428.7C152.7 428.7 152.9 428.7 153.2 428.7C153.4 428.8 153.6 428.9 153.8 428.9C154.0 429.0 154.2 429.2 154.4 429.3C154.6 429.4 154.7 429.6 154.9 429.7C155.0 429.9 155.1 430.1 155.2 430.3Z" fill="#d2faff" stroke="none"/>
<path d="M153.8 430.8C153.8 430.9 153.9 431.0 153.9 431.1C153.9 431.3 153.9 431.4 153.8 431.5C153.8 431.6 153.8 431.8 153.7 431.9C153.6 432.0 153.6 432.1 153.5 432.2C153.4 432.4 153.3 432.5 153.2 432.6C153.1 432.7 152.9 432.7 152.8 432.8C152.7 432.9 152.5 433.0 152.4 433.0C152.2 433.1 152.1 433.1 151.9 433.2C151.7 433.2 151.6 433.2 151.4 433.2C151.3 433.2 151.1 433.2 151.0 433.1C150.8 433.1 150.7 433.1 150.6 433.0C150.5 433.0 150.3 432.9 150.2 432.8C150.1 432.7 150.1 432.6 150.0 432.5C149.9 432.4 149.8 432.3 149.8 432.2C149.8 432.1 149.7 432.0 149.7 431.9C149.7 431.7 149.7 431.6 149.8 431.5C149.8 431.4 149.8 431.2 149.9 431.1C150.0 431.0 150.0 430.9 150.1 430.8C150.2 430.6 150.3 430.5 150.4 430.4C150.5 430.3 150.7 430.3 150.8 430.2C150.9 430.1 151.1 430.0 151.2 430.0C151.4 429.9 151.5 429.9 151.7 429.8C151.9 429.8 152.0 429.8 152.2 429.8C152.3 429.8 152.5 429.8 152.6 429.9C152.8 429.9 152.9 429.9 153.0 430.0C153.1 430.0 153.3 430.1 153.4 430.2C153.5 430.3 153.5 430.4 153.6 430.5C153.7 430.6 153.8 430.7 153.8 430.8Z" fill="#f2feff" stroke="none"/>
<path d="M171.8 383.6C171.8 384.0 171.7 384.3 171.6 384.7C171.5 385.0 171.3 385.4 171.0 385.7C170.8 386.0 170.5 386.4 170.1 386.6C169.7 386.9 169.3 387.2 168.9 387.4C168.4 387.6 167.9 387.8 167.4 388.0C166.9 388.1 166.3 388.3 165.7 388.4C165.2 388.4 164.6 388.5 164.0 388.5C163.4 388.5 162.8 388.4 162.3 388.4C161.7 388.3 161.1 388.1 160.6 388.0C160.1 387.8 159.6 387.6 159.1 387.4C158.7 387.2 158.3 386.9 157.9 386.6C157.5 386.4 157.2 386.0 157.0 385.7C156.7 385.4 156.5 385.0 156.4 384.7C156.3 384.3 156.2 384.0 156.2 383.6C156.2 383.2 156.3 382.9 156.4 382.5C156.5 382.2 156.7 381.8 157.0 381.5C157.2 381.2 157.5 380.8 157.9 380.6C158.3 380.3 158.7 380.0 159.1 379.8C159.6 379.6 160.1 379.4 160.6 379.2C161.1 379.1 161.7 378.9 162.3 378.8C162.8 378.8 163.4 378.7 164.0 378.7C164.6 378.7 165.2 378.8 165.7 378.8C166.3 378.9 166.9 379.1 167.4 379.2C167.9 379.4 168.4 379.6 168.9 379.8C169.3 380.0 169.7 380.3 170.1 380.6C170.5 380.8 170.8 381.2 171.0 381.5C171.3 381.8 171.5 382.2 171.6 382.5C171.7 382.9 171.8 383.2 171.8 383.6Z" fill="#c8f3ff" stroke="#6fbcff" stroke-width="0.5"/>
<path d="M170.8 383.6C170.8 383.9 170.8 384.2 170.7 384.6C170.6 384.9 170.4 385.2 170.2 385.5C169.9 385.7 169.7 386.0 169.3 386.3C169.0 386.5 168.7 386.7 168.3 386.9C167.9 387.1 167.4 387.3 167.0 387.5C166.5 387.6 166.0 387.7 165.5 387.8C165.0 387.8 164.5 387.9 164.0 387.9C163.5 387.9 163.0 387.8 162.5 387.8C162.0 387.7 161.5 387.6 161.0 387.5C160.6 387.3 160.1 387.1 159.7 386.9C159.3 386.7 159.0 386.5 158.7 386.3C158.3 386.0 158.1 385.7 157.8 385.5C157.6 385.2 157.4 384.9 157.3 384.6C157.2 384.2 157.2 383.9 157.2 383.6C157.2 383.3 157.2 383.0 157.3 382.6C157.4 382.3 157.6 382.0 157.8 381.7C158.1 381.5 158.3 381.2 158.7 380.9C159.0 380.7 159.3 380.5 159.7 380.3C160.1 380.1 160.6 379.9 161.0 379.7C161.5 379.6 162.0 379.5 162.5 379.4C163.0 379.4 163.5 379.3 164.0 379.3C164.5 379.3 165.0 379.4 165.5 379.4C166.0 379.5 166.5 379.6 167.0 379.7C167.4 379.9 167.9 380.1 168.3 380.3C168.7 380.5 169.0 380.7 169.3 380.9C169.7 381.2 169.9 381.5 170.2 381.7C170.4 382.0 170.6 382.3 170.7 382.6C170.8 383.0 170.8 383.3 170.8 383.6Z" fill="#8ee6f6" stroke="none"/>
<path d="M176.0 383.6C176.0 384.2 175.9 384.7 175.7 385.3C175.5 385.8 175.2 386.4 174.8 386.9C174.4 387.4 173.9 387.8 173.4 388.3C172.8 388.7 172.2 389.1 171.5 389.5C170.8 389.8 170.0 390.1 169.2 390.4C168.4 390.6 167.5 390.8 166.7 390.9C165.8 391.0 164.9 391.1 164.0 391.1C163.1 391.1 162.2 391.0 161.3 390.9C160.5 390.8 159.6 390.6 158.8 390.4C158.0 390.1 157.2 389.8 156.5 389.5C155.8 389.1 155.2 388.7 154.6 388.3C154.1 387.8 153.6 387.4 153.2 386.9C152.8 386.4 152.5 385.8 152.3 385.3C152.1 384.7 152.0 384.2 152.0 383.6C152.0 383.0 152.1 382.5 152.3 381.9C152.5 381.4 152.8 380.8 153.2 380.3C153.6 379.8 154.1 379.4 154.6 378.9C155.2 378.5 155.8 378.1 156.5 377.7C157.2 377.4 158.0 377.1 158.8 376.8C159.6 376.6 160.5 376.4 161.3 376.3C162.2 376.2 163.1 376.1 164.0 376.1C164.9 376.1 165.8 376.2 166.7 376.3C167.5 376.4 168.4 376.6 169.2 376.8C170.0 377.1 170.8 377.4 171.5 377.7C172.2 378.1 172.8 378.5 173.4 378.9C173.9 379.4 174.4 379.8 174.8 380.3C175.2 380.8 175.5 381.4 175.7 381.9C175.9 382.5 176.0 383.0 176.0 383.6Z" fill="none" stroke="#3434ee" stroke-width="0.8"/>
<path d="M174.3 383.6C174.3 384.1 174.2 384.6 174.1 385.0C173.9 385.5 173.6 386.0 173.3 386.4C173.0 386.8 172.5 387.2 172.1 387.6C171.6 388.0 171.0 388.3 170.4 388.6C169.8 388.9 169.2 389.2 168.5 389.4C167.8 389.6 167.0 389.8 166.3 389.9C165.6 390.0 164.8 390.1 164.0 390.1C163.2 390.1 162.4 390.0 161.7 389.9C161.0 389.8 160.2 389.6 159.5 389.4C158.8 389.2 158.2 388.9 157.6 388.6C157.0 388.3 156.4 388.0 155.9 387.6C155.5 387.2 155.0 386.8 154.7 386.4C154.4 386.0 154.1 385.5 153.9 385.0C153.8 384.6 153.7 384.1 153.7 383.6C153.7 383.1 153.8 382.6 153.9 382.2C154.1 381.7 154.4 381.2 154.7 380.8C155.0 380.4 155.5 380.0 155.9 379.6C156.4 379.2 157.0 378.9 157.6 378.6C158.2 378.3 158.8 378.0 159.5 377.8C160.2 377.6 161.0 377.4 161.7 377.3C162.4 377.2 163.2 377.2 164.0 377.2C164.8 377.2 165.6 377.2 166.3 377.3C167.0 377.4 167.8 377.6 168.5 377.8C169.2 378.0 169.8 378.3 170.4 378.6C171.0 378.9 171.6 379.2 172.1 379.6C172.5 380.0 173.0 380.4 173.3 380.8C173.6 381.2 173.9 381.7 174.1 382.2C174.2 382.6 174.3 383.1 174.3 383.6Z" fill="none" stroke="#4040f0" stroke-width="0.7"/>
<path d="M172.9 383.6C172.9 384.0 172.8 384.4 172.7 384.8C172.5 385.2 172.3 385.6 172.0 386.0C171.7 386.4 171.4 386.7 170.9 387.1C170.5 387.4 170.1 387.7 169.5 387.9C169.0 388.2 168.4 388.4 167.9 388.6C167.3 388.8 166.6 388.9 166.0 389.0C165.3 389.1 164.7 389.2 164.0 389.2C163.3 389.2 162.7 389.1 162.0 389.0C161.4 388.9 160.7 388.8 160.1 388.6C159.6 388.4 159.0 388.2 158.5 387.9C157.9 387.7 157.5 387.4 157.1 387.1C156.6 386.7 156.3 386.4 156.0 386.0C155.7 385.6 155.5 385.2 155.3 384.8C155.2 384.4 155.1 384.0 155.1 383.6C155.1 383.2 155.2 382.8 155.3 382.4C155.5 382.0 155.7 381.6 156.0 381.2C156.3 380.8 156.6 380.5 157.1 380.1C157.5 379.8 157.9 379.5 158.5 379.3C159.0 379.0 159.6 378.8 160.1 378.6C160.7 378.4 161.4 378.3 162.0 378.2C162.7 378.1 163.3 378.1 164.0 378.1C164.7 378.1 165.3 378.1 166.0 378.2C166.6 378.3 167.3 378.4 167.9 378.6C168.4 378.8 169.0 379.0 169.5 379.3C170.1 379.5 170.5 379.8 170.9 380.1C171.4 380.5 171.7 380.8 172.0 381.2C172.3 381.6 172.5 382.0 172.7 382.4C172.8 382.8 172.9 383.2 172.9 383.6Z" fill="none" stroke="#5066f4" stroke-width="0.6"/>
<path d="M169.0 383.6C169.0 383.8 169.0 384.1 168.9 384.3C168.8 384.5 168.7 384.8 168.5 385.0C168.4 385.2 168.2 385.4 167.9 385.6C167.7 385.7 167.4 385.9 167.1 386.1C166.9 386.2 166.5 386.3 166.2 386.4C165.8 386.5 165.5 386.6 165.1 386.7C164.8 386.7 164.4 386.8 164.0 386.8C163.6 386.8 163.2 386.7 162.9 386.7C162.5 386.6 162.2 386.5 161.8 386.4C161.5 386.3 161.1 386.2 160.9 386.1C160.6 385.9 160.3 385.7 160.1 385.6C159.8 385.4 159.6 385.2 159.5 385.0C159.3 384.8 159.2 384.5 159.1 384.3C159.0 384.1 159.0 383.8 159.0 383.6C159.0 383.4 159.0 383.1 159.1 382.9C159.2 382.7 159.3 382.4 159.5 382.2C159.6 382.0 159.8 381.8 160.1 381.6C160.3 381.5 160.6 381.3 160.9 381.1C161.1 381.0 161.5 380.9 161.8 380.8C162.2 380.7 162.5 380.6 162.9 380.5C163.2 380.5 163.6 380.5 164.0 380.5C164.4 380.5 164.8 380.5 165.1 380.5C165.5 380.6 165.8 380.7 166.2 380.8C166.5 380.9 166.9 381.0 167.1 381.1C167.4 381.3 167.7 381.5 167.9 381.6C168.2 381.8 168.4 382.0 168.5 382.2C168.7 382.4 168.8 382.7 168.9 382.9C169.0 383.1 169.0 383.4 169.0 383.6Z" fill="#d2faff" stroke="none"/>
<path d="M167.0 383.6C167.0 383.7 167.0 383.9 166.9 384.0C166.9 384.2 166.8 384.3 166.7 384.4C166.6 384.5 166.5 384.7 166.3 384.8C166.2 384.9 166.0 385.0 165.9 385.1C165.7 385.2 165.5 385.2 165.3 385.3C165.1 385.3 164.9 385.4 164.7 385.4C164.5 385.5 164.2 385.5 164.0 385.5C163.8 385.5 163.5 385.5 163.3 385.4C163.1 385.4 162.9 385.3 162.7 385.3C162.5 385.2 162.3 385.2 162.1 385.1C162.0 385.0 161.8 384.9 161.7 384.8C161.5 384.7 161.4 384.5 161.3 384.4C161.2 384.3 161.1 384.2 161.1 384.0C161.0 383.9 161.0 383.7 161.0 383.6C161.0 383.5 161.0 383.3 161.1 383.2C161.1 383.0 161.2 382.9 161.3 382.8C161.4 382.7 161.5 382.5 161.7 382.4C161.8 382.3 162.0 382.2 162.1 382.1C162.3 382.0 162.5 382.0 162.7 381.9C162.9 381.9 163.1 381.8 163.3 381.8C163.5 381.7 163.8 381.7 164.0 381.7C164.2 381.7 164.5 381.7 164.7 381.8C164.9 381.8 165.1 381.9 165.3 381.9C165.5 382.0 165.7 382.0 165.9 382.1C166.0 382.2 166.2 382.3 166.3 382.4C166.5 382.5 166.6 382.7 166.7 382.8C166.8 382.9 166.9 383.0 166.9 383.2C167.0 383.3 167.0 383.5 167.0 383.6Z" fill="#f2feff" stroke="none"/>
<path d="M186.5 384.8C186.5 385.2 186.4 385.6 186.3 386.0C186.2 386.4 186.1 386.8 185.9 387.2C185.6 387.6 185.4 387.9 185.1 388.2C184.8 388.6 184.4 388.9 184.1 389.1C183.7 389.4 183.3 389.6 182.8 389.8C182.4 390.0 181.9 390.1 181.4 390.2C181.0 390.3 180.5 390.3 180.0 390.3C179.5 390.3 179.0 390.3 178.6 390.2C178.1 390.1 177.6 390.0 177.2 389.8C176.7 389.6 176.3 389.4 175.9 389.1C175.6 388.9 175.2 388.6 174.9 388.2C174.6 387.9 174.4 387.6 174.1 387.2C173.9 386.8 173.8 386.4 173.7 386.0C173.6 385.6 173.5 385.2 173.5 384.8C173.5 384.4 173.6 384.0 173.7 383.6C173.8 383.2 173.9 382.8 174.1 382.4C174.4 382.0 174.6 381.7 174.9 381.4C175.2 381.0 175.6 380.7 175.9 380.5C176.3 380.2 176.7 380.0 177.2 379.8C177.6 379.6 178.1 379.5 178.6 379.4C179.0 379.3 179.5 379.3 180.0 379.3C180.5 379.3 181.0 379.3 181.4 379.4C181.9 379.5 182.4 379.6 182.8 379.8C183.3 380.0 183.7 380.2 184.1 380.5C184.4 380.7 184.8 381.0 185.1 381.4C185.4 381.7 185.6 382.0 185.9 382.4C186.1 382.8 186.2 383.2 186.3 383.6C186.4 384.0 186.5 384.4 186.5 384.8Z" fill="#c8f3ff" stroke="#6fbcff" stroke-width="0.5"/>
<path d="M185.7 384.8C185.7 385.2 185.7 385.5 185.6 385.9C185.5 386.2 185.3 386.6 185.1 386.9C185.0 387.2 184.7 387.5 184.5 387.8C184.2 388.1 183.9 388.4 183.6 388.6C183.2 388.8 182.9 389.0 182.5 389.2C182.1 389.3 181.7 389.4 181.3 389.5C180.9 389.6 180.4 389.6 180.0 389.6C179.6 389.6 179.1 389.6 178.7 389.5C178.3 389.4 177.9 389.3 177.5 389.2C177.1 389.0 176.8 388.8 176.4 388.6C176.1 388.4 175.8 388.1 175.5 387.8C175.3 387.5 175.0 387.2 174.9 386.9C174.7 386.6 174.5 386.2 174.4 385.9C174.3 385.5 174.3 385.2 174.3 384.8C174.3 384.4 174.3 384.1 174.4 383.7C174.5 383.4 174.7 383.0 174.9 382.7C175.0 382.4 175.3 382.1 175.5 381.8C175.8 381.5 176.1 381.2 176.4 381.0C176.8 380.8 177.1 380.6 177.5 380.4C177.9 380.3 178.3 380.2 178.7 380.1C179.1 380.0 179.6 380.0 180.0 380.0C180.4 380.0 180.9 380.0 181.3 380.1C181.7 380.2 182.1 380.3 182.5 380.4C182.9 380.6 183.2 380.8 183.6 381.0C183.9 381.2 184.2 381.5 184.5 381.8C184.7 382.1 185.0 382.4 185.1 382.7C185.3 383.0 185.5 383.4 185.6 383.7C185.7 384.1 185.7 384.4 185.7 384.8Z" fill="#8ee6f6" stroke="none"/>
<path d="M190.0 384.8C190.0 385.4 189.9 386.1 189.7 386.7C189.6 387.3 189.3 387.9 189.0 388.5C188.7 389.1 188.3 389.6 187.8 390.1C187.4 390.6 186.8 391.1 186.2 391.4C185.7 391.8 185.0 392.2 184.3 392.5C183.7 392.7 182.9 392.9 182.2 393.1C181.5 393.2 180.7 393.3 180.0 393.3C179.3 393.3 178.5 393.2 177.8 393.1C177.1 392.9 176.3 392.7 175.7 392.5C175.0 392.2 174.3 391.8 173.8 391.4C173.2 391.1 172.6 390.6 172.2 390.1C171.7 389.6 171.3 389.1 171.0 388.5C170.7 387.9 170.4 387.3 170.3 386.7C170.1 386.1 170.0 385.4 170.0 384.8C170.0 384.2 170.1 383.5 170.3 382.9C170.4 382.3 170.7 381.7 171.0 381.1C171.3 380.5 171.7 380.0 172.2 379.5C172.6 379.0 173.2 378.5 173.8 378.2C174.3 377.8 175.0 377.4 175.7 377.1C176.3 376.9 177.1 376.7 177.8 376.5C178.5 376.4 179.3 376.3 180.0 376.3C180.7 376.3 181.5 376.4 182.2 376.5C182.9 376.7 183.7 376.9 184.3 377.1C185.0 377.4 185.7 377.8 186.2 378.2C186.8 378.5 187.4 379.0 187.8 379.5C188.3 380.0 188.7 380.5 189.0 381.1C189.3 381.7 189.6 382.3 189.7 382.9C189.9 383.5 190.0 384.2 190.0 384.8Z" fill="none" stroke="#3434ee" stroke-width="0.8"/>
<path d="M188.6 384.8C188.6 385.3 188.5 385.9 188.4 386.4C188.2 387.0 188.0 387.5 187.7 388.0C187.5 388.5 187.1 388.9 186.7 389.4C186.3 389.8 185.9 390.2 185.4 390.5C184.9 390.9 184.3 391.2 183.7 391.4C183.2 391.6 182.5 391.8 181.9 391.9C181.3 392.0 180.6 392.1 180.0 392.1C179.4 392.1 178.7 392.0 178.1 391.9C177.5 391.8 176.8 391.6 176.3 391.4C175.7 391.2 175.1 390.9 174.6 390.5C174.1 390.2 173.7 389.8 173.3 389.4C172.9 388.9 172.5 388.5 172.3 388.0C172.0 387.5 171.8 387.0 171.6 386.4C171.5 385.9 171.4 385.3 171.4 384.8C171.4 384.3 171.5 383.7 171.6 383.2C171.8 382.6 172.0 382.1 172.3 381.6C172.5 381.1 172.9 380.7 173.3 380.2C173.7 379.8 174.1 379.4 174.6 379.1C175.1 378.7 175.7 378.4 176.3 378.2C176.8 378.0 177.5 377.8 178.1 377.7C178.7 377.6 179.4 377.5 180.0 377.5C180.6 377.5 181.3 377.6 181.9 377.7C182.5 377.8 183.2 378.0 183.7 378.2C184.3 378.4 184.9 378.7 185.4 379.1C185.9 379.4 186.3 379.8 186.7 380.2C187.1 380.7 187.5 381.1 187.7 381.6C188.0 382.1 188.2 382.6 188.4 383.2C188.5 383.7 188.6 384.3 188.6 384.8Z" fill="none" stroke="#4040f0" stroke-width="0.7"/>
<path d="M187.4 384.8C187.4 385.3 187.3 385.7 187.2 386.2C187.1 386.7 186.9 387.1 186.7 387.5C186.4 387.9 186.1 388.4 185.8 388.7C185.4 389.1 185.0 389.4 184.6 389.7C184.2 390.0 183.7 390.3 183.2 390.5C182.7 390.7 182.2 390.8 181.6 390.9C181.1 391.0 180.5 391.1 180.0 391.1C179.5 391.1 178.9 391.0 178.4 390.9C177.8 390.8 177.3 390.7 176.8 390.5C176.3 390.3 175.8 390.0 175.4 389.7C175.0 389.4 174.6 389.1 174.2 388.7C173.9 388.4 173.6 387.9 173.3 387.5C173.1 387.1 172.9 386.7 172.8 386.2C172.7 385.7 172.6 385.3 172.6 384.8C172.6 384.3 172.7 383.9 172.8 383.4C172.9 382.9 173.1 382.5 173.3 382.1C173.6 381.7 173.9 381.2 174.2 380.9C174.6 380.5 175.0 380.2 175.4 379.9C175.8 379.6 176.3 379.3 176.8 379.1C177.3 378.9 177.8 378.8 178.4 378.7C178.9 378.6 179.5 378.5 180.0 378.5C180.5 378.5 181.1 378.6 181.6 378.7C182.2 378.8 182.7 378.9 183.2 379.1C183.7 379.3 184.2 379.6 184.6 379.9C185.0 380.2 185.4 380.5 185.8 380.9C186.1 381.2 186.4 381.7 186.7 382.1C186.9 382.5 187.1 382.9 187.2 383.4C187.3 383.9 187.4 384.3 187.4 384.8Z" fill="none" stroke="#5066f4" stroke-width="0.6"/>
<path d="M185.0 384.8C185.0 385.1 185.0 385.4 184.9 385.7C184.8 386.1 184.7 386.4 184.5 386.6C184.3 386.9 184.1 387.2 183.9 387.4C183.7 387.7 183.4 387.9 183.1 388.1C182.8 388.3 182.5 388.5 182.2 388.6C181.8 388.8 181.5 388.9 181.1 388.9C180.8 389.0 180.4 389.1 180.0 389.1C179.6 389.1 179.2 389.0 178.9 388.9C178.5 388.9 178.2 388.8 177.8 388.6C177.5 388.5 177.2 388.3 176.9 388.1C176.6 387.9 176.3 387.7 176.1 387.4C175.9 387.2 175.7 386.9 175.5 386.6C175.3 386.4 175.2 386.1 175.1 385.7C175.0 385.4 175.0 385.1 175.0 384.8C175.0 384.5 175.0 384.2 175.1 383.9C175.2 383.5 175.3 383.2 175.5 383.0C175.7 382.7 175.9 382.4 176.1 382.2C176.3 381.9 176.6 381.7 176.9 381.5C177.2 381.3 177.5 381.1 177.8 381.0C178.2 380.8 178.5 380.7 178.9 380.7C179.2 380.6 179.6 380.6 180.0 380.6C180.4 380.6 180.8 380.6 181.1 380.7C181.5 380.7 181.8 380.8 182.2 381.0C182.5 381.1 182.8 381.3 183.1 381.5C183.4 381.7 183.7 381.9 183.9 382.2C184.1 382.4 184.3 382.7 184.5 383.0C184.7 383.2 184.8 383.5 184.9 383.9C185.0 384.2 185.0 384.5 185.0 384.8Z" fill="#8fe98a" stroke="none"/>
<path d="M184.4 384.8C184.4 385.1 184.4 385.4 184.3 385.6C184.2 385.9 184.1 386.2 184.0 386.4C183.8 386.7 183.6 386.9 183.4 387.1C183.2 387.3 183.0 387.6 182.7 387.7C182.5 387.9 182.2 388.0 181.9 388.2C181.6 388.3 181.3 388.4 181.0 388.4C180.7 388.5 180.3 388.5 180.0 388.5C179.7 388.5 179.3 388.5 179.0 388.4C178.7 388.4 178.4 388.3 178.1 388.2C177.8 388.0 177.5 387.9 177.3 387.7C177.0 387.6 176.8 387.3 176.6 387.1C176.4 386.9 176.2 386.7 176.0 386.4C175.9 386.2 175.8 385.9 175.7 385.6C175.6 385.4 175.6 385.1 175.6 384.8C175.6 384.5 175.6 384.2 175.7 384.0C175.8 383.7 175.9 383.4 176.0 383.2C176.2 382.9 176.4 382.7 176.6 382.5C176.8 382.3 177.0 382.0 177.3 381.9C177.5 381.7 177.8 381.6 178.1 381.4C178.4 381.3 178.7 381.2 179.0 381.2C179.3 381.1 179.7 381.1 180.0 381.1C180.3 381.1 180.7 381.1 181.0 381.2C181.3 381.2 181.6 381.3 181.9 381.4C182.2 381.6 182.5 381.7 182.7 381.9C183.0 382.0 183.2 382.3 183.4 382.5C183.6 382.7 183.8 382.9 184.0 383.2C184.1 383.4 184.2 383.7 184.3 384.0C184.4 384.2 184.4 384.5 184.4 384.8Z" fill="#4ade42" stroke="none"/>
<path d="M183.0 384.8C183.0 385.0 183.0 385.2 182.9 385.4C182.9 385.6 182.8 385.7 182.7 385.9C182.6 386.1 182.5 386.2 182.3 386.4C182.2 386.5 182.0 386.7 181.9 386.8C181.7 386.9 181.5 387.0 181.3 387.1C181.1 387.2 180.9 387.2 180.7 387.3C180.5 387.3 180.2 387.4 180.0 387.4C179.8 387.4 179.5 387.3 179.3 387.3C179.1 387.2 178.9 387.2 178.7 387.1C178.5 387.0 178.3 386.9 178.1 386.8C178.0 386.7 177.8 386.5 177.7 386.4C177.5 386.2 177.4 386.1 177.3 385.9C177.2 385.7 177.1 385.6 177.1 385.4C177.0 385.2 177.0 385.0 177.0 384.8C177.0 384.6 177.0 384.4 177.1 384.2C177.1 384.0 177.2 383.9 177.3 383.7C177.4 383.5 177.5 383.4 177.7 383.2C177.8 383.1 178.0 382.9 178.1 382.8C178.3 382.7 178.5 382.6 178.7 382.5C178.9 382.4 179.1 382.4 179.3 382.3C179.5 382.3 179.8 382.2 180.0 382.2C180.2 382.2 180.5 382.3 180.7 382.3C180.9 382.4 181.1 382.4 181.3 382.5C181.5 382.6 181.7 382.7 181.9 382.8C182.0 382.9 182.2 383.1 182.3 383.2C182.5 383.4 182.6 383.5 182.7 383.7C182.8 383.9 182.9 384.0 182.9 384.2C183.0 384.4 183.0 384.6 183.0 384.8Z" fill="#d2ea3c" stroke="none"/>
<path d="M182.3 384.8C182.3 384.9 182.3 385.1 182.2 385.2C182.2 385.4 182.1 385.5 182.1 385.6C182.0 385.8 181.9 385.9 181.8 386.0C181.7 386.1 181.6 386.2 181.4 386.3C181.3 386.4 181.2 386.5 181.0 386.6C180.8 386.6 180.7 386.7 180.5 386.7C180.3 386.7 180.2 386.8 180.0 386.8C179.8 386.8 179.7 386.7 179.5 386.7C179.3 386.7 179.2 386.6 179.0 386.6C178.8 386.5 178.7 386.4 178.6 386.3C178.4 386.2 178.3 386.1 178.2 386.0C178.1 385.9 178.0 385.8 177.9 385.6C177.9 385.5 177.8 385.4 177.8 385.2C177.7 385.1 177.7 384.9 177.7 384.8C177.7 384.7 177.7 384.5 177.8 384.4C177.8 384.2 177.9 384.1 177.9 384.0C178.0 383.8 178.1 383.7 178.2 383.6C178.3 383.5 178.4 383.4 178.6 383.3C178.7 383.2 178.8 383.1 179.0 383.0C179.2 383.0 179.3 382.9 179.5 382.9C179.7 382.9 179.8 382.8 180.0 382.8C180.2 382.8 180.3 382.9 180.5 382.9C180.7 382.9 180.8 383.0 181.0 383.0C181.2 383.1 181.3 383.2 181.4 383.3C181.6 383.4 181.7 383.5 181.8 383.6C181.9 383.7 182.0 383.8 182.1 384.0C182.1 384.1 182.2 384.2 182.2 384.4C182.3 384.5 182.3 384.7 182.3 384.8Z" fill="#ff4422" stroke="none"/>
<path d="M140.3 383.0L143.0 376.0L150.0 372.0L160.0 370.7L168.0 371.5L172.6 380.0L170.0 390.0L160.0 394.0L150.0 395.4L143.0 392.0Z" fill="none" stroke="#f05050" stroke-width="0.75" stroke-linejoin="round"/>
<text x="140.3" y="367.5" font-size="5.3" fill="#f11" stroke="#f22" stroke-width="0.18">P6(20.88%)</text>
<rect x="410.5" y="49.5" width="98.0" height="98.0" fill="none" stroke="#666" stroke-width="1"/>
<path d="M410.5 52.5h1.5M410.5 55.8h1.5M410.5 59.1h1.5M410.5 62.4h1.5M410.5 65.7h1.5M410.5 69.0h1.5M410.5 72.3h1.5M410.5 75.6h1.5M410.5 78.9h1.5M410.5 82.2h1.5M410.5 85.5h1.5M410.5 88.8h1.5M410.5 92.1h1.5M410.5 95.4h1.5M410.5 98.7h1.5M410.5 102.0h1.5M410.5 105.3h1.5M410.5 108.6h1.5M410.5 111.9h1.5M410.5 115.2h1.5M410.5 118.5h1.5M410.5 121.8h1.5M410.5 125.1h1.5M410.5 128.4h1.5M410.5 131.7h1.5M410.5 135.0h1.5M410.5 138.3h1.5M410.5 141.6h1.5M410.5 144.9h1.5M414.5 147.5v-1.3M418.9 147.5v-1.3M423.3 147.5v-1.3M427.7 147.5v-1.3M432.1 147.5v-1.3M436.5 147.5v-1.3M440.9 147.5v-1.3M445.3 147.5v-1.3M449.7 147.5v-1.3M454.1 147.5v-1.3M458.5 147.5v-1.3M462.9 147.5v-1.3M467.3 147.5v-1.3M471.7 147.5v-1.3M476.1 147.5v-1.3M480.5 147.5v-1.3M484.9 147.5v-1.3M489.3 147.5v-1.3M493.7 147.5v-1.3M498.1 147.5v-1.3M502.5 147.5v-1.3M506.9 147.5v-1.3" stroke="#999" stroke-width="0.6" fill="none"/>
<path d="M412 108.5h1m-1 31h1m0-20h1m1-35h1m-1 13h1m-1 38h1m0 1h1m0-29h1m-1 36h1m0-62h1m-1 41h1m0-20h1m-1 31h1m0-28h1m0-2h1m-1 8h1m-1 14h1m-1 15h1m0-37h1m-1 7h1m-1 19h1m0-25h1m-1 20h1m0-36h1m-1 11h1m-1 22h1m-1 23h1m0-88h1m-1 45h1m-1 7h1m0-55h1m-1 48h1m0 30h1m0-25h1m-1 3h1m-1 31h1m0-69h1m-1 10h1m-1 18h1m-1 30h1m-1 3h1m0-7h1m0-27h1m-1 2h1m-1 4h1m-1 8h1m0-23h1m0 11h1m-1 17h1m0-23h1m-1 38h1m-1 13h1m0-40h1m-1 21h1m-1 3h1m-1 1h1m0-36h1m-1 24h1m0-28h1m-1 3h1m-1 23h1m-1 13h1m-1 5h1m-1 4h1m0-52h1m-1 5h1m-1 13h1m-1 11h1m-1 13h1m0-23h1m-1 21h1m-1 2h1m1-59h1m-1 29h1m-1 22h1m-1 2h1m-1 5h1m0-19h1m0-31h1m-1 4h1m-1 26h1m-1 23h1m-1 14h1m0-64h1m-1 3h1m0-4h1m-1 15h1m-1 13h1m0-28h1m-1 24h1m-1 29h1m-1 2h1m0-44h1m-1 3h1m-1 13h1m-1 24h1m0-66h1m0 65h1m-1 3h1m0-36h1m0-17h1m-1 8h1m-1 30h1m0-24h1m-1 19h1m-1 8h1m-1 3h1m0-35h1m-1 14h1m-1 5h1m-1 21h1m1-53h1m-1 9h1m-1 2h1m-1 32h1m0-58h1m-1 19h1m-1 7h1m-1 7h1m-1 14h1m0-48h1m-1 8h1m-1 17h1m-1 2h1m-1 25h1m0-54h1m-1 31h1m0-6h1m-1 7h1m0-31h1m-1 28h1m-1 1h1m-1 1h1m-1 51h1m0-62h1m-1 34h1m0-7h1m-1 9h1m-1 32h1m0-57h1m-1 1h1m-1 4h1m-1 4h1m-1 7h1m0-30h1m0-7h1m-1 3h1m-1 8h1m-1 1h1m-1 21h1m-1 13h1m-1 13h1m-1 6h1m0-68h1m-1 5h1m-1 19h1m-1 18h1m0-32h1m0-11h1m-1 14h1m-1 12h1m0-30h1m-1 19h1m-1 29h1m0-48h1m-1 13h1m-1 12h1m0-2h1m-1 12h1m0-22h1m-1 10h1m-1 5h1m-1 26h1m1-28h1m-1 17h1m-1 17h1m0-36h1m-1 17h1m-1 3h1m0-24h1m-1 20h1m-1 34h1m0-60h1m-1 4h1m-1 14h1m0-22h1m-1 13h1m-1 27h1m0-28h1m-1 7h1m-1 42h1m0-74h1m-1 20h1m-1 16h1m0-24h1m-1 12h1m0 14h1m0-9h1m-1 21h1m0-46h1m-1 12h1m-1 5h1m-1 7h1m-1 4h1m0-35h1m-1 5h1m-1 12h1m-1 6h1m0-6h1m-1 12h1m0 34h1m0-4h1m0-28h1m0-11h1m-1 19h1m0-29h1m-1 1h1m-1 7h1m0 4h1m-1 1h1m-1 15h1m-1 19h1m0-33h1m-1 8h1m0-20h1m-1 3h1m-1 11h1m-1 9h1m-1 10h1m-1 3h1m0-29h1m0-3h1m-1 1h1m0-4h1m0 0h1m0-4h1m-1 25h1m1-19h1m0 11h1m3 34h1" stroke="#444" stroke-width="1" opacity="0.78" fill="none" filter="url(#sb)"/>
<path d="M412 111.5h1m-1 26h1m0-54h1m-1 13h1m-1 31h1m0-55h1m-1 49h1m0-21h1m-1 30h1m0-9h1m0-25h1m-1 24h1m0 22h1m0-33h1m-1 6h1m-1 11h1m-1 1h1m-1 2h1m-1 4h1m-1 5h1m0-43h1m0 10h1m0 9h1m-1 6h1m0-17h1m-1 32h1m0-14h1m-1 2h1m0 3h1m-1 4h1m0-22h1m-1 26h1m0-43h1m-1 41h1m1-16h1m-1 1h1m-1 1h1m0 6h1m-1 14h1m0-54h1m0 13h1m-1 26h1m-1 1h1m-1 5h1m0-7h1m0-26h1m-1 2h1m-1 7h1m-1 7h1m-1 4h1m-1 12h1m-1 7h1m0-21h1m-1 11h1m-1 4h1m-1 1h1m-1 6h1m0-36h1m-1 1h1m-1 22h1m-1 10h1m-1 9h1m-1 3h1m0-29h1m0 9h1m-1 14h1m0-53h1m-1 38h1m-1 1h1m-1 4h1m-1 1h1m0-50h1m-1 3h1m-1 21h1m-1 2h1m-1 13h1m-1 3h1m0-49h1m-1 5h1m-1 17h1m-1 36h1m-1 3h1m0-26h1m-1 1h1m-1 1h1m0-29h1m-1 9h1m-1 29h1m-1 17h1m0-45h1m-1 14h1m0-21h1m-1 7h1m-1 4h1m-1 31h1m-1 18h1m0-63h1m-1 31h1m-1 14h1m0-44h1m-1 20h1m-1 29h1m0-22h1m-1 12h1m0-71h1m-1 47h1m-1 14h1m-1 1h1m-1 16h1m0-36h1m-1 1h1m-1 21h1m0-25h1m-1 8h1m1-13h1m-1 7h1m-1 28h1m0-44h1m-1 12h1m-1 24h1m0-35h1m-1 6h1m-1 26h1m-1 8h1m1-62h1m-1 8h1m-1 28h1m-1 16h1m0-38h1m-1 1h1m0-14h1m-1 32h1m0-13h1m-1 3h1m-1 14h1m-1 23h1m0-18h1m-1 12h1m0-51h1m-1 28h1m1-8h1m-1 9h1m-1 27h1m0-47h1m-1 34h1m0-8h1m0-19h1m-1 29h1m-1 13h1m0-34h1m-1 6h1m0-27h1m-1 18h1m-1 6h1m-1 19h1m-1 2h1m0-30h1m-1 7h1m-1 18h1m-1 2h1m-1 7h1m0-21h1m-1 17h1m0-39h1m0 5h1m-1 14h1m-1 2h1m-1 17h1m0-50h1m-1 11h1m-1 10h1m-1 3h1m-1 23h1m0-11h1m-1 14h1m-1 2h1m0-48h1m-1 27h1m0-27h1m-1 18h1m-1 9h1m-1 19h1m-1 11h1m0-34h1m-1 14h1m0-22h1m-1 27h1m-1 16h1m-1 1h1m0-24h1m-1 15h1m0-52h1m-1 8h1m0 1h1m-1 3h1m-1 15h1m0-23h1m-1 79h1m0-59h1m-1 1h1m0 22h1m0-47h1m-1 21h1m0-23h1m-1 6h1m-1 18h1m-1 17h1m0-8h1m-1 4h1m-1 8h1m0-38h1m0 3h1m-1 20h1m0-28h1m-1 18h1m-1 50h1m0-63h1m-1 5h1m-1 4h1m-1 2h1m-1 7h1m-1 18h1m-1 3h1m0-41h1m-1 23h1m-1 8h1m-1 5h1m0-30h1m-1 10h1m-1 15h1m-1 2h1m-1 18h1m0-33h1m0-14h1m-1 24h1m0 2h1m0-25h1m0-14h1m-1 5h1m-1 21h1m-1 15h1m0-28h1m0 1h1m0 24h1m0-22h1m0-1h1m-1 4h1m1 30h1" stroke="#444" stroke-width="1" opacity="0.42" fill="none" filter="url(#sb)"/>
<path d="M424.5 104.0C422.8 102.3 425.3 98.2 426.0 96.0C426.7 93.8 427.2 92.0 428.5 91.0C429.8 90.0 431.8 89.8 433.5 89.8C435.2 89.8 437.4 89.9 438.5 91.0C439.6 92.1 439.3 94.8 439.8 96.5C440.3 98.2 440.5 99.8 441.5 101.0C442.5 102.2 446.9 103.2 446.0 104.0C445.1 104.8 439.6 106.0 436.0 106.0C432.4 106.0 426.2 105.7 424.5 104.0Z" fill="#fff" stroke="none"/>
<path d="M445.3 111.4C445.3 112.2 445.1 113.0 444.7 113.7C444.3 114.5 443.8 115.2 443.0 115.9C442.3 116.6 441.4 117.2 440.4 117.7C439.4 118.3 438.3 118.8 437.1 119.1C435.9 119.5 434.6 119.8 433.3 120.0C432.0 120.2 430.6 120.3 429.3 120.4C428.0 120.4 426.7 120.3 425.5 120.2C424.3 120.1 423.1 119.9 422.0 119.6C420.9 119.3 419.9 119.0 419.0 118.6C418.0 118.3 417.2 117.9 416.5 117.4C415.8 117.0 415.1 116.5 414.6 116.0C414.1 115.5 413.7 115.0 413.3 114.5C413.0 114.0 412.7 113.5 412.6 113.0C412.4 112.5 412.3 111.9 412.3 111.4C412.3 110.9 412.4 110.3 412.6 109.8C412.7 109.3 413.0 108.8 413.3 108.3C413.7 107.8 414.1 107.3 414.6 106.8C415.1 106.3 415.8 105.8 416.5 105.4C417.2 104.9 418.0 104.5 419.0 104.2C419.9 103.8 420.9 103.5 422.0 103.2C423.1 102.9 424.3 102.7 425.5 102.6C426.7 102.5 428.0 102.4 429.3 102.4C430.6 102.5 432.0 102.6 433.3 102.8C434.6 103.0 435.9 103.3 437.1 103.7C438.3 104.0 439.4 104.5 440.4 105.1C441.4 105.6 442.3 106.2 443.0 106.9C443.8 107.6 444.3 108.3 444.7 109.1C445.1 109.8 445.3 110.6 445.3 111.4Z" fill="#fff" stroke="none"/>
<path d="M424.5 104.0C422.8 102.3 425.3 98.2 426.0 96.0C426.7 93.8 427.2 92.0 428.5 91.0C429.8 90.0 431.8 89.8 433.5 89.8C435.2 89.8 437.4 89.9 438.5 91.0C439.6 92.1 439.3 94.8 439.8 96.5C440.3 98.2 440.5 99.8 441.5 101.0C442.5 102.2 446.9 103.2 446.0 104.0C445.1 104.8 439.6 106.0 436.0 106.0C432.4 106.0 426.2 105.7 424.5 104.0Z" fill="none" stroke="#3c3cf0" stroke-width="0.65"/>
<path d="M447.4 86.1L456.6 80.4L459.7 83L450 88.6Z" fill="none" stroke="#3c3cf0" stroke-width="0.7"/>
<line x1="443.5" y1="89.6" x2="445" y2="89.4" stroke="#3c3cf0" stroke-width="0.9"/>
<path d="M440.8 111.4C440.8 111.9 440.7 112.4 440.4 112.9C440.2 113.4 439.8 113.9 439.4 114.3C438.9 114.8 438.3 115.2 437.6 115.5C437.0 115.9 436.2 116.2 435.5 116.4C434.7 116.7 433.8 116.9 433.0 117.0C432.2 117.1 431.3 117.2 430.4 117.2C429.6 117.2 428.7 117.2 427.9 117.1C427.2 117.0 426.4 116.9 425.7 116.7C425.0 116.6 424.3 116.3 423.7 116.1C423.1 115.9 422.6 115.6 422.1 115.3C421.6 115.0 421.2 114.7 420.9 114.4C420.5 114.1 420.3 113.8 420.0 113.4C419.8 113.1 419.6 112.8 419.5 112.4C419.4 112.1 419.4 111.7 419.4 111.4C419.4 111.1 419.4 110.7 419.5 110.4C419.6 110.0 419.8 109.7 420.0 109.4C420.3 109.0 420.5 108.7 420.9 108.4C421.2 108.1 421.6 107.8 422.1 107.5C422.6 107.2 423.1 106.9 423.7 106.7C424.3 106.5 425.0 106.2 425.7 106.1C426.4 105.9 427.2 105.8 427.9 105.7C428.7 105.6 429.6 105.6 430.4 105.6C431.3 105.6 432.2 105.7 433.0 105.8C433.8 105.9 434.7 106.1 435.5 106.4C436.2 106.6 437.0 106.9 437.6 107.3C438.3 107.6 438.9 108.0 439.4 108.5C439.8 108.9 440.2 109.4 440.4 109.9C440.7 110.4 440.8 110.9 440.8 111.4Z" fill="#c8f3ff" stroke="#6fbcff" stroke-width="0.5"/>
<path d="M439.8 111.4C439.8 111.8 439.7 112.3 439.5 112.7C439.3 113.2 438.9 113.6 438.5 114.0C438.1 114.3 437.6 114.7 437.0 115.0C436.4 115.3 435.8 115.6 435.1 115.8C434.4 116.0 433.7 116.2 432.9 116.3C432.2 116.4 431.4 116.5 430.7 116.5C430.0 116.5 429.2 116.5 428.5 116.4C427.8 116.3 427.1 116.2 426.5 116.1C425.9 115.9 425.3 115.7 424.8 115.5C424.3 115.3 423.8 115.1 423.4 114.8C423.0 114.6 422.6 114.3 422.3 114.0C422.0 113.8 421.8 113.5 421.6 113.2C421.4 112.9 421.2 112.6 421.1 112.3C421.0 112.0 421.0 111.7 421.0 111.4C421.0 111.1 421.0 110.8 421.1 110.5C421.2 110.2 421.4 109.9 421.6 109.6C421.8 109.3 422.0 109.0 422.3 108.8C422.6 108.5 423.0 108.2 423.4 108.0C423.8 107.7 424.3 107.5 424.8 107.3C425.3 107.1 425.9 106.9 426.5 106.7C427.1 106.6 427.8 106.5 428.5 106.4C429.2 106.3 430.0 106.3 430.7 106.3C431.4 106.3 432.2 106.4 432.9 106.5C433.7 106.6 434.4 106.8 435.1 107.0C435.8 107.2 436.4 107.5 437.0 107.8C437.6 108.1 438.1 108.5 438.5 108.8C438.9 109.2 439.3 109.6 439.5 110.1C439.7 110.5 439.8 111.0 439.8 111.4Z" fill="#8ee6f6" stroke="none"/>
<path d="M445.3 111.4C445.3 112.2 445.1 113.0 444.7 113.7C444.3 114.5 443.8 115.2 443.0 115.9C442.3 116.6 441.4 117.2 440.4 117.7C439.4 118.3 438.3 118.8 437.1 119.1C435.9 119.5 434.6 119.8 433.3 120.0C432.0 120.2 430.6 120.3 429.3 120.4C428.0 120.4 426.7 120.3 425.5 120.2C424.3 120.1 423.1 119.9 422.0 119.6C420.9 119.3 419.9 119.0 419.0 118.6C418.0 118.3 417.2 117.9 416.5 117.4C415.8 117.0 415.1 116.5 414.6 116.0C414.1 115.5 413.7 115.0 413.3 114.5C413.0 114.0 412.7 113.5 412.6 113.0C412.4 112.5 412.3 111.9 412.3 111.4C412.3 110.9 412.4 110.3 412.6 109.8C412.7 109.3 413.0 108.8 413.3 108.3C413.7 107.8 414.1 107.3 414.6 106.8C415.1 106.3 415.8 105.8 416.5 105.4C417.2 104.9 418.0 104.5 419.0 104.2C419.9 103.8 420.9 103.5 422.0 103.2C423.1 102.9 424.3 102.7 425.5 102.6C426.7 102.5 428.0 102.4 429.3 102.4C430.6 102.5 432.0 102.6 433.3 102.8C434.6 103.0 435.9 103.3 437.1 103.7C438.3 104.0 439.4 104.5 440.4 105.1C441.4 105.6 442.3 106.2 443.0 106.9C443.8 107.6 444.3 108.3 444.7 109.1C445.1 109.8 445.3 110.6 445.3 111.4Z" fill="none" stroke="#3434ee" stroke-width="0.8"/>
<path d="M443.5 111.4C443.5 112.1 443.3 112.8 443.0 113.4C442.7 114.1 442.2 114.7 441.6 115.3C441.0 115.8 440.2 116.4 439.3 116.9C438.5 117.3 437.5 117.7 436.4 118.1C435.4 118.4 434.3 118.6 433.2 118.8C432.1 119.0 430.9 119.1 429.8 119.1C428.7 119.1 427.5 119.1 426.5 119.0C425.4 118.9 424.4 118.7 423.5 118.4C422.5 118.2 421.6 117.9 420.9 117.6C420.1 117.3 419.4 117.0 418.7 116.6C418.1 116.2 417.6 115.8 417.1 115.4C416.7 115.0 416.3 114.5 416.0 114.1C415.7 113.7 415.5 113.2 415.3 112.8C415.2 112.3 415.1 111.9 415.1 111.4C415.1 110.9 415.2 110.5 415.3 110.0C415.5 109.6 415.7 109.1 416.0 108.7C416.3 108.3 416.7 107.8 417.1 107.4C417.6 107.0 418.1 106.6 418.7 106.2C419.4 105.8 420.1 105.5 420.9 105.2C421.6 104.9 422.5 104.6 423.5 104.4C424.4 104.1 425.4 103.9 426.5 103.8C427.5 103.7 428.7 103.7 429.8 103.7C430.9 103.7 432.1 103.8 433.2 104.0C434.3 104.2 435.4 104.4 436.4 104.7C437.5 105.1 438.5 105.5 439.3 105.9C440.2 106.4 441.0 107.0 441.6 107.5C442.2 108.1 442.7 108.7 443.0 109.4C443.3 110.0 443.5 110.7 443.5 111.4Z" fill="none" stroke="#4040f0" stroke-width="0.7"/>
<path d="M442.0 111.4C442.0 112.0 441.8 112.6 441.5 113.1C441.3 113.7 440.8 114.2 440.3 114.7C439.8 115.2 439.1 115.7 438.4 116.1C437.6 116.5 436.8 116.8 435.9 117.1C435.0 117.4 434.0 117.6 433.1 117.8C432.1 117.9 431.1 118.0 430.2 118.0C429.2 118.1 428.2 118.0 427.3 117.9C426.4 117.8 425.5 117.7 424.7 117.5C423.9 117.3 423.2 117.0 422.5 116.8C421.8 116.5 421.2 116.2 420.7 115.9C420.1 115.5 419.7 115.2 419.3 114.8C418.9 114.5 418.6 114.1 418.3 113.7C418.0 113.3 417.9 113.0 417.7 112.6C417.6 112.2 417.6 111.8 417.6 111.4C417.6 111.0 417.6 110.6 417.7 110.2C417.9 109.8 418.0 109.5 418.3 109.1C418.6 108.7 418.9 108.3 419.3 108.0C419.7 107.6 420.1 107.3 420.7 106.9C421.2 106.6 421.8 106.3 422.5 106.0C423.2 105.8 423.9 105.5 424.7 105.3C425.5 105.1 426.4 105.0 427.3 104.9C428.2 104.8 429.2 104.7 430.2 104.8C431.1 104.8 432.1 104.9 433.1 105.0C434.0 105.2 435.0 105.4 435.9 105.7C436.8 106.0 437.6 106.3 438.4 106.7C439.1 107.1 439.8 107.6 440.3 108.1C440.8 108.6 441.3 109.1 441.5 109.7C441.8 110.2 442.0 110.8 442.0 111.4Z" fill="none" stroke="#5066f4" stroke-width="0.6"/>
<path d="M438.9 111.4C438.9 111.8 438.8 112.2 438.6 112.6C438.4 112.9 438.1 113.3 437.8 113.7C437.4 114.0 437.0 114.3 436.5 114.6C436.0 114.8 435.4 115.1 434.8 115.3C434.2 115.5 433.5 115.6 432.9 115.7C432.2 115.8 431.6 115.9 430.9 115.9C430.3 115.9 429.6 115.9 429.0 115.8C428.4 115.7 427.8 115.6 427.2 115.5C426.7 115.4 426.2 115.2 425.7 115.0C425.3 114.8 424.9 114.6 424.5 114.4C424.1 114.2 423.8 114.0 423.6 113.7C423.3 113.5 423.1 113.2 422.9 113.0C422.7 112.7 422.6 112.4 422.5 112.2C422.4 111.9 422.4 111.7 422.4 111.4C422.4 111.1 422.4 110.9 422.5 110.6C422.6 110.4 422.7 110.1 422.9 109.8C423.1 109.6 423.3 109.3 423.6 109.1C423.8 108.8 424.1 108.6 424.5 108.4C424.9 108.2 425.3 108.0 425.7 107.8C426.2 107.6 426.7 107.4 427.2 107.3C427.8 107.2 428.4 107.1 429.0 107.0C429.6 106.9 430.3 106.9 430.9 106.9C431.6 106.9 432.2 107.0 432.9 107.1C433.5 107.2 434.2 107.3 434.8 107.5C435.4 107.7 436.0 108.0 436.5 108.2C437.0 108.5 437.4 108.8 437.8 109.1C438.1 109.5 438.4 109.9 438.6 110.2C438.8 110.6 438.9 111.0 438.9 111.4Z" fill="#8fe98a" stroke="none"/>
<path d="M438.1 111.4C438.1 111.7 438.0 112.1 437.9 112.4C437.7 112.8 437.5 113.1 437.1 113.4C436.8 113.7 436.4 114.0 436.0 114.2C435.5 114.4 435.0 114.6 434.5 114.8C434.0 115.0 433.4 115.1 432.8 115.2C432.3 115.3 431.7 115.3 431.1 115.3C430.5 115.4 430.0 115.3 429.4 115.3C428.9 115.2 428.4 115.1 427.9 115.0C427.4 114.9 426.9 114.7 426.5 114.6C426.1 114.4 425.8 114.2 425.5 114.0C425.1 113.9 424.9 113.6 424.6 113.4C424.4 113.2 424.2 113.0 424.1 112.8C423.9 112.6 423.8 112.3 423.7 112.1C423.6 111.9 423.6 111.6 423.6 111.4C423.6 111.2 423.6 110.9 423.7 110.7C423.8 110.5 423.9 110.2 424.1 110.0C424.2 109.8 424.4 109.6 424.6 109.4C424.9 109.2 425.1 108.9 425.5 108.8C425.8 108.6 426.1 108.4 426.5 108.2C426.9 108.1 427.4 107.9 427.9 107.8C428.4 107.7 428.9 107.6 429.4 107.5C430.0 107.5 430.5 107.4 431.1 107.5C431.7 107.5 432.3 107.5 432.8 107.6C433.4 107.7 434.0 107.8 434.5 108.0C435.0 108.2 435.5 108.4 436.0 108.6C436.4 108.8 436.8 109.1 437.1 109.4C437.5 109.7 437.7 110.0 437.9 110.4C438.0 110.7 438.1 111.1 438.1 111.4Z" fill="#4ade42" stroke="none"/>
<path d="M436.3 111.4C436.3 111.6 436.3 111.9 436.2 112.1C436.1 112.3 435.9 112.6 435.7 112.8C435.4 113.0 435.2 113.1 434.9 113.3C434.6 113.5 434.2 113.6 433.9 113.7C433.5 113.8 433.1 113.9 432.7 114.0C432.3 114.0 431.9 114.1 431.6 114.1C431.2 114.1 430.8 114.1 430.4 114.0C430.0 114.0 429.7 113.9 429.3 113.9C429.0 113.8 428.7 113.7 428.4 113.6C428.2 113.5 427.9 113.3 427.7 113.2C427.5 113.1 427.3 112.9 427.1 112.8C427.0 112.6 426.8 112.5 426.7 112.3C426.6 112.2 426.6 112.0 426.5 111.9C426.5 111.7 426.4 111.6 426.4 111.4C426.4 111.2 426.5 111.1 426.5 110.9C426.6 110.8 426.6 110.6 426.7 110.5C426.8 110.3 427.0 110.2 427.1 110.0C427.3 109.9 427.5 109.7 427.7 109.6C427.9 109.5 428.2 109.3 428.4 109.2C428.7 109.1 429.0 109.0 429.3 108.9C429.7 108.9 430.0 108.8 430.4 108.8C430.8 108.7 431.2 108.7 431.6 108.7C431.9 108.7 432.3 108.8 432.7 108.8C433.1 108.9 433.5 109.0 433.9 109.1C434.2 109.2 434.6 109.3 434.9 109.5C435.2 109.7 435.4 109.8 435.7 110.0C435.9 110.2 436.1 110.5 436.2 110.7C436.3 110.9 436.3 111.2 436.3 111.4Z" fill="#d2ea3c" stroke="none"/>
<path d="M435.4 111.4C435.4 111.6 435.4 111.8 435.3 111.9C435.2 112.1 435.1 112.3 434.9 112.4C434.8 112.6 434.6 112.7 434.3 112.9C434.1 113.0 433.8 113.1 433.6 113.2C433.3 113.3 433.0 113.3 432.7 113.4C432.4 113.4 432.1 113.5 431.8 113.5C431.5 113.5 431.2 113.5 430.9 113.4C430.6 113.4 430.3 113.3 430.1 113.3C429.8 113.2 429.6 113.1 429.4 113.1C429.2 113.0 429.0 112.9 428.8 112.8C428.7 112.7 428.5 112.6 428.4 112.5C428.3 112.4 428.2 112.2 428.1 112.1C428.0 112.0 428.0 111.9 427.9 111.8C427.9 111.6 427.9 111.5 427.9 111.4C427.9 111.3 427.9 111.2 427.9 111.0C428.0 110.9 428.0 110.8 428.1 110.7C428.2 110.6 428.3 110.4 428.4 110.3C428.5 110.2 428.7 110.1 428.8 110.0C429.0 109.9 429.2 109.8 429.4 109.7C429.6 109.7 429.8 109.6 430.1 109.5C430.3 109.5 430.6 109.4 430.9 109.4C431.2 109.3 431.5 109.3 431.8 109.3C432.1 109.3 432.4 109.4 432.7 109.4C433.0 109.5 433.3 109.5 433.6 109.6C433.8 109.7 434.1 109.8 434.3 109.9C434.6 110.1 434.8 110.2 434.9 110.4C435.1 110.5 435.2 110.7 435.3 110.9C435.4 111.0 435.4 111.2 435.4 111.4Z" fill="#ff4422" stroke="none"/>
<path d="M431.8 84.5L435.7 76.3L445.9 70.2L457.1 70.2L464.3 80.4L460.2 89.6L447.9 93.7L438.7 91.7Z" fill="none" stroke="#f05050" stroke-width="0.75" stroke-linejoin="round"/>
<text x="431.8" y="67.3" font-size="5.3" fill="#f11" stroke="#f22" stroke-width="0.18">P6(4.63%)</text>
<rect x="410.5" y="150.5" width="98.0" height="97.0" fill="none" stroke="#666" stroke-width="1"/>
<path d="M410.5 153.5h1.5M410.5 156.8h1.5M410.5 160.1h1.5M410.5 163.4h1.5M410.5 166.7h1.5M410.5 170.0h1.5M410.5 173.3h1.5M410.5 176.6h1.5M410.5 179.9h1.5M410.5 183.2h1.5M410.5 186.5h1.5M410.5 189.8h1.5M410.5 193.1h1.5M410.5 196.4h1.5M410.5 199.7h1.5M410.5 203.0h1.5M410.5 206.3h1.5M410.5 209.6h1.5M410.5 212.9h1.5M410.5 216.2h1.5M410.5 219.5h1.5M410.5 222.8h1.5M410.5 226.1h1.5M410.5 229.4h1.5M410.5 232.7h1.5M410.5 236.0h1.5M410.5 239.3h1.5M410.5 242.6h1.5M410.5 245.9h1.5M414.5 247.5v-1.3M418.9 247.5v-1.3M423.3 247.5v-1.3M427.7 247.5v-1.3M432.1 247.5v-1.3M436.5 247.5v-1.3M440.9 247.5v-1.3M445.3 247.5v-1.3M449.7 247.5v-1.3M454.1 247.5v-1.3M458.5 247.5v-1.3M462.9 247.5v-1.3M467.3 247.5v-1.3M471.7 247.5v-1.3M476.1 247.5v-1.3M480.5 247.5v-1.3M484.9 247.5v-1.3M489.3 247.5v-1.3M493.7 247.5v-1.3M498.1 247.5v-1.3M502.5 247.5v-1.3M506.9 247.5v-1.3" stroke="#999" stroke-width="0.6" fill="none"/>
<path d="M412 233.5h1m0-37h1m-1 14h1m-1 14h1m0-72h1m-1 63h1m0-2h1m0-21h1m-1 30h1m0 16h1m-1 2h1m0-26h1m-1 1h1m0-42h1m-1 12h1m0-7h1m0 21h1m-1 8h1m0-21h1m-1 17h1m1 4h1m-1 1h1m1-23h1m-1 2h1m-1 24h1m0-9h1m-1 43h1m0-38h1m0-44h1m-1 12h1m-1 19h1m-1 2h1m-1 16h1m-1 12h1m0-24h1m-1 5h1m0-14h1m-1 20h1m-1 23h1m0-45h1m-1 21h1m-1 3h1m0-42h1m0 24h1m-1 16h1m0-18h1m-1 4h1m-1 3h1m-1 14h1m0-14h1m-1 7h1m0-15h1m0-40h1m0 34h1m-1 19h1m0-17h1m-1 27h1m-1 3h1m-1 21h1m0-84h1m-1 52h1m-1 30h1m0-66h1m-1 19h1m-1 10h1m-1 16h1m0 12h1m0-57h1m-1 2h1m-1 46h1m0-20h1m0-41h1m-1 51h1m0-47h1m-1 14h1m-1 51h1m-1 15h1m0-70h1m-1 6h1m-1 15h1m-1 26h1m0-53h1m-1 50h1m0-55h1m-1 34h1m-1 16h1m-1 10h1m0-26h1m-1 1h1m0-34h1m-1 25h1m-1 23h1m-1 29h1m0-71h1m-1 62h1m-1 1h1m-1 1h1m0-11h1m-1 1h1m0-35h1m-1 12h1m-1 14h1m0-43h1m-1 16h1m-1 2h1m-1 17h1m-1 8h1m0 23h1m0-75h1m-1 31h1m-1 19h1m-1 13h1m0-59h1m-1 12h1m-1 13h1m-1 5h1m-1 8h1m-1 13h1m-1 5h1m0-43h1m-1 33h1m-1 2h1m0-35h1m-1 12h1m-1 13h1m-1 2h1m0 7h1m0-34h1m-1 32h1m0-35h1m-1 54h1m0-65h1m-1 14h1m-1 14h1m0-17h1m-1 2h1m-1 3h1m-1 17h1m-1 6h1m-1 15h1m0-64h1m-1 27h1m-1 3h1m-1 2h1m-1 30h1m0-48h1m-1 13h1m-1 14h1m-1 15h1m-1 1h1m-1 5h1m0-61h1m-1 2h1m-1 18h1m-1 22h1m-1 5h1m-1 42h1m0-30h1m-1 15h1m0-41h1m-1 27h1m-1 3h1m0-53h1m-1 5h1m-1 3h1m-1 37h1m0 9h1m0-55h1m-1 6h1m-1 6h1m-1 3h1m-1 6h1m-1 30h1m-1 1h1m-1 20h1m0-81h1m-1 11h1m-1 42h1m0-43h1m-1 15h1m0-20h1m-1 7h1m-1 39h1m-1 18h1m0-25h1m0-23h1m-1 4h1m-1 19h1m0-40h1m-1 9h1m-1 20h1m-1 3h1m-1 15h1m-1 29h1m0-70h1m-1 24h1m0-23h1m-1 3h1m-1 5h1m-1 1h1m-1 11h1m-1 15h1m-1 28h1m0-74h1m-1 15h1m-1 4h1m-1 14h1m-1 6h1m-1 5h1m-1 30h1m0-61h1m-1 22h1m0-18h1m-1 29h1m-1 11h1m0-44h1m-1 1h1m-1 6h1m-1 8h1m-1 53h1m0-74h1m-1 17h1m-1 26h1m-1 12h1m0-51h1m-1 12h1m-1 6h1m0-31h1m-1 81h1m0-70h1m-1 13h1m0 6h1m0 6h1m0-23h1m-1 6h1m-1 58h1m0-35h1m-1 13h1m-1 20h1m0-65h1m-1 21h1m-1 17h1m0-46h1m-1 14h1m-1 6h1m-1 6h1m-1 12h1m0-30h1m-1 25h1m0-14h1m-1 24h1m-1 11h1m-1 35h1m0-60h1m-1 49h1m0-75h1m-1 21h1m0-17h1m-1 53h1m0-49h1m0 8h1m0-17h1m-1 24h1m0-23h1m-1 21h1m-1 9h1m-1 23h1m0-33h1m0 3h1" stroke="#444" stroke-width="1" opacity="0.78" fill="none" filter="url(#sb)"/>
<path d="M412 214.5h1m-1 20h1m-1 7h1m3-43h1m1-11h1m1-6h1m-1 20h1m-1 11h1m0-21h1m-1 4h1m-1 20h1m0 15h1m1-46h1m-1 23h1m-1 5h1m-1 14h1m1-51h1m1-23h1m-1 36h1m-1 33h1m1-51h1m-1 67h1m0-47h1m-1 28h1m-1 16h1m-1 1h1m0-66h1m-1 56h1m-1 2h1m0-52h1m-1 4h1m-1 24h1m-1 13h1m0-9h1m-1 5h1m0-8h1m-1 6h1m-1 9h1m-1 16h1m0-47h1m-1 4h1m-1 3h1m-1 13h1m0-5h1m-1 17h1m-1 19h1m0-74h1m-1 10h1m-1 19h1m-1 1h1m-1 5h1m-1 19h1m-1 4h1m0-20h1m-1 16h1m-1 5h1m-1 17h1m0-54h1m-1 22h1m-1 1h1m-1 5h1m-1 20h1m0-60h1m-1 1h1m-1 1h1m0 11h1m-1 3h1m0-17h1m-1 26h1m0-10h1m-1 13h1m-1 12h1m-1 9h1m0-61h1m-1 34h1m0-19h1m-1 35h1m0-35h1m-1 5h1m-1 33h1m0-39h1m-1 10h1m-1 1h1m-1 28h1m-1 8h1m0-34h1m0-28h1m-1 29h1m-1 18h1m-1 8h1m0-34h1m-1 21h1m-1 9h1m-1 12h1m-1 13h1m0-84h1m-1 52h1m-1 15h1m-1 10h1m0-37h1m-1 38h1m0-57h1m-1 14h1m-1 15h1m-1 3h1m0-35h1m-1 4h1m-1 2h1m0-6h1m-1 15h1m-1 58h1m0-73h1m-1 3h1m-1 1h1m-1 6h1m-1 6h1m-1 25h1m-1 22h1m0-74h1m-1 10h1m-1 10h1m0-9h1m-1 34h1m-1 15h1m-1 10h1m0-61h1m-1 56h1m-1 2h1m0-61h1m-1 1h1m-1 28h1m0-22h1m-1 5h1m-1 31h1m-1 2h1m-1 25h1m0-41h1m-1 2h1m-1 4h1m-1 21h1m0-70h1m-1 10h1m-1 17h1m-1 8h1m-1 1h1m-1 4h1m-1 4h1m-1 40h1m0-54h1m-1 4h1m-1 25h1m0-30h1m-1 9h1m-1 3h1m-1 7h1m-1 4h1m0-27h1m0-3h1m-1 8h1m-1 2h1m-1 50h1m0-84h1m-1 17h1m-1 1h1m-1 66h1m0-67h1m-1 3h1m-1 1h1m-1 17h1m-1 1h1m-1 1h1m-1 1h1m-1 8h1m0-19h1m-1 36h1m-1 23h1m1-79h1m-1 27h1m-1 29h1m-1 7h1m0-49h1m-1 17h1m-1 14h1m-1 3h1m-1 9h1m-1 24h1m1-78h1m-1 1h1m-1 16h1m-1 52h1m0-37h1m-1 7h1m-1 12h1m0-59h1m-1 1h1m-1 34h1m0 25h1m0-43h1m-1 3h1m0-7h1m-1 11h1m-1 32h1m-1 7h1m0-44h1m-1 15h1m-1 7h1m-1 24h1m0-43h1m0 4h1m-1 8h1m0-29h1m-1 36h1m-1 5h1m-1 13h1m0-51h1m-1 17h1m-1 19h1m-1 14h1m-1 5h1m0-4h1m0-45h1m-1 9h1m-1 43h1m0-40h1m-1 3h1m-1 20h1m-1 11h1m-1 4h1m0-49h1m-1 40h1m-1 15h1m0-42h1m1-8h1m-1 17h1m0-37h1m0 45h1m-1 14h1m0-57h1m-1 7h1m-1 31h1m0-21h1m-1 15h1m-1 37h1m0-52h1m-1 1h1m-1 5h1m-1 1h1m0-9h1m-1 3h1m-1 54h1m0-74h1m-1 8h1m-1 35h1m-1 1h1m0-18h1m-1 23h1m-1 18h1m0-55h1m-1 4h1m-1 9h1m0-12h1m-1 15h1m-1 2h1m-1 8h1m-1 32h1m1-49h1m-1 18h1m0-33h1m-1 22h1m-1 9h1m0-29h1m-1 65h1" stroke="#444" stroke-width="1" opacity="0.42" fill="none" filter="url(#sb)"/>
<path d="M432.0 184.0C433.0 181.5 436.7 178.4 440.0 177.0C443.3 175.6 448.3 175.6 452.0 175.5C455.7 175.4 459.0 176.2 462.0 176.5C465.0 176.8 467.0 177.0 470.0 177.0C473.0 177.0 477.2 176.0 480.0 176.5C482.8 177.0 485.6 177.8 487.0 180.0C488.4 182.2 488.8 186.8 488.3 190.0C487.8 193.2 486.4 197.2 484.0 199.0C481.6 200.8 477.0 201.5 474.0 201.0C471.0 200.5 468.7 197.3 466.0 196.0C463.3 194.7 461.3 193.2 458.0 193.0C454.7 192.8 450.0 194.7 446.0 194.5C442.0 194.3 436.3 193.8 434.0 192.0C431.7 190.2 431.0 186.5 432.0 184.0Z" fill="#fff" stroke="none"/>
<path d="M443.0 214.6C444.8 212.6 445.1 208.3 446.7 205.9C448.3 203.5 450.8 200.9 452.9 200.3C455.0 199.7 457.4 200.6 459.1 202.2C460.8 203.8 462.1 206.9 462.9 209.6C463.7 212.3 464.3 215.4 464.1 218.3C463.9 221.2 462.8 224.5 461.6 227.0C460.4 229.5 460.3 232.2 456.7 233.2C453.1 234.2 444.4 234.2 440.0 233.0C435.6 231.8 430.7 228.5 430.0 226.0C429.3 223.5 433.8 219.9 436.0 218.0C438.2 216.1 441.2 216.6 443.0 214.6Z" fill="#fff" stroke="none"/>
<path d="M456.3 223.8C456.5 224.6 456.5 225.4 456.4 226.3C456.2 227.1 455.9 228.0 455.5 228.8C455.1 229.7 454.5 230.5 453.8 231.3C453.1 232.1 452.3 232.9 451.3 233.6C450.4 234.4 449.3 235.0 448.2 235.6C447.1 236.2 445.9 236.8 444.6 237.2C443.4 237.7 442.0 238.1 440.7 238.4C439.4 238.6 438.0 238.8 436.6 238.9C435.3 239.0 434.0 239.0 432.7 238.9C431.4 238.9 430.2 238.7 429.0 238.4C427.9 238.1 426.8 237.7 425.8 237.3C424.9 236.8 424.0 236.3 423.3 235.7C422.5 235.1 421.9 234.4 421.5 233.7C421.0 233.0 420.7 232.2 420.5 231.4C420.3 230.6 420.3 229.8 420.4 228.9C420.6 228.1 420.9 227.2 421.3 226.4C421.7 225.5 422.3 224.7 423.0 223.9C423.7 223.1 424.5 222.3 425.5 221.6C426.4 220.8 427.5 220.2 428.6 219.6C429.7 219.0 430.9 218.4 432.2 218.0C433.4 217.5 434.8 217.1 436.1 216.8C437.4 216.6 438.8 216.4 440.2 216.3C441.5 216.2 442.8 216.2 444.1 216.3C445.4 216.3 446.6 216.5 447.8 216.8C448.9 217.1 450.0 217.5 451.0 217.9C451.9 218.4 452.8 218.9 453.5 219.5C454.3 220.1 454.9 220.8 455.3 221.5C455.8 222.2 456.1 223.0 456.3 223.8Z" fill="#fff" stroke="none"/>
<path d="M486.5 181.4C486.9 181.9 487.2 182.5 487.4 183.1C487.7 183.7 487.8 184.4 487.8 185.1C487.9 185.8 487.8 186.6 487.7 187.3C487.5 188.1 487.3 188.9 487.0 189.7C486.7 190.5 486.2 191.3 485.7 192.0C485.3 192.8 484.7 193.6 484.0 194.3C483.4 195.0 482.7 195.7 482.0 196.3C481.2 196.9 480.4 197.5 479.6 198.0C478.8 198.5 477.9 198.9 477.1 199.3C476.3 199.6 475.4 199.9 474.6 200.1C473.7 200.3 472.9 200.4 472.1 200.4C471.3 200.4 470.6 200.3 469.9 200.2C469.2 200.0 468.6 199.7 468.0 199.4C467.4 199.1 466.9 198.6 466.5 198.2C466.1 197.7 465.8 197.1 465.6 196.5C465.3 195.9 465.2 195.2 465.2 194.5C465.1 193.8 465.2 193.0 465.3 192.3C465.5 191.5 465.7 190.7 466.0 189.9C466.3 189.1 466.8 188.3 467.3 187.6C467.7 186.8 468.3 186.0 469.0 185.3C469.6 184.6 470.3 183.9 471.0 183.3C471.8 182.7 472.6 182.1 473.4 181.6C474.2 181.1 475.1 180.7 475.9 180.3C476.7 180.0 477.6 179.7 478.4 179.5C479.3 179.3 480.1 179.2 480.9 179.2C481.7 179.2 482.4 179.3 483.1 179.4C483.8 179.6 484.4 179.9 485.0 180.2C485.6 180.5 486.1 181.0 486.5 181.4Z" fill="#fff" stroke="none"/>
<path d="M464.3 181.2C464.4 181.8 464.4 182.4 464.2 183.1C464.1 183.7 463.8 184.4 463.5 185.1C463.1 185.7 462.5 186.4 461.9 187.0C461.3 187.7 460.6 188.3 459.7 188.8C458.9 189.4 458.0 190.0 457.0 190.5C456.0 190.9 454.9 191.4 453.8 191.8C452.7 192.1 451.5 192.5 450.3 192.7C449.2 193.0 448.0 193.1 446.8 193.3C445.7 193.4 444.5 193.4 443.4 193.3C442.3 193.3 441.2 193.2 440.2 193.0C439.2 192.8 438.3 192.5 437.5 192.2C436.6 191.9 435.9 191.5 435.3 191.1C434.6 190.6 434.1 190.1 433.7 189.6C433.3 189.0 433.1 188.4 432.9 187.8C432.8 187.2 432.8 186.6 433.0 185.9C433.1 185.3 433.4 184.6 433.7 183.9C434.1 183.3 434.7 182.6 435.3 182.0C435.9 181.3 436.6 180.7 437.5 180.2C438.3 179.6 439.2 179.0 440.2 178.5C441.2 178.1 442.3 177.6 443.4 177.2C444.5 176.9 445.7 176.5 446.9 176.3C448.0 176.0 449.2 175.9 450.4 175.7C451.5 175.6 452.7 175.6 453.8 175.7C454.9 175.7 456.0 175.8 457.0 176.0C458.0 176.2 458.9 176.5 459.7 176.8C460.6 177.1 461.3 177.5 461.9 177.9C462.6 178.4 463.1 178.9 463.5 179.4C463.9 180.0 464.1 180.6 464.3 181.2Z" fill="#fff" stroke="none"/>
<path d="M432.0 184.0C433.0 181.5 436.7 178.4 440.0 177.0C443.3 175.6 448.3 175.6 452.0 175.5C455.7 175.4 459.0 176.2 462.0 176.5C465.0 176.8 467.0 177.0 470.0 177.0C473.0 177.0 477.2 176.0 480.0 176.5C482.8 177.0 485.6 177.8 487.0 180.0C488.4 182.2 488.8 186.8 488.3 190.0C487.8 193.2 486.4 197.2 484.0 199.0C481.6 200.8 477.0 201.5 474.0 201.0C471.0 200.5 468.7 197.3 466.0 196.0C463.3 194.7 461.3 193.2 458.0 193.0C454.7 192.8 450.0 194.7 446.0 194.5C442.0 194.3 436.3 193.8 434.0 192.0C431.7 190.2 431.0 186.5 432.0 184.0Z" fill="none" stroke="#3c3cf0" stroke-width="0.6"/>
<path d="M443.0 214.6C444.8 212.6 445.1 208.3 446.7 205.9C448.3 203.5 450.8 200.9 452.9 200.3C455.0 199.7 457.4 200.6 459.1 202.2C460.8 203.8 462.1 206.9 462.9 209.6C463.7 212.3 464.3 215.4 464.1 218.3C463.9 221.2 462.8 224.5 461.6 227.0C460.4 229.5 460.3 232.2 456.7 233.2C453.1 234.2 444.4 234.2 440.0 233.0C435.6 231.8 430.7 228.5 430.0 226.0C429.3 223.5 433.8 219.9 436.0 218.0C438.2 216.1 441.2 216.6 443.0 214.6Z" fill="none" stroke="#3c3cf0" stroke-width="0.7"/>
<path d="M450.7 225.1C450.8 225.6 450.9 226.2 450.8 226.7C450.7 227.3 450.5 227.9 450.2 228.4C450.0 229.0 449.6 229.5 449.1 230.0C448.7 230.5 448.1 231.1 447.5 231.5C446.9 232.0 446.2 232.4 445.5 232.8C444.8 233.2 444.0 233.6 443.1 233.9C442.3 234.2 441.4 234.4 440.6 234.6C439.7 234.8 438.8 234.9 438.0 235.0C437.1 235.0 436.2 235.0 435.4 235.0C434.6 234.9 433.8 234.8 433.0 234.6C432.3 234.4 431.6 234.2 430.9 233.9C430.3 233.6 429.7 233.3 429.3 232.9C428.8 232.5 428.4 232.0 428.1 231.6C427.8 231.1 427.6 230.6 427.5 230.1C427.4 229.6 427.3 229.0 427.4 228.5C427.5 227.9 427.7 227.3 428.0 226.8C428.2 226.2 428.6 225.7 429.1 225.2C429.5 224.7 430.1 224.1 430.7 223.7C431.3 223.2 432.0 222.8 432.7 222.4C433.4 222.0 434.2 221.6 435.1 221.3C435.9 221.0 436.8 220.8 437.6 220.6C438.5 220.4 439.4 220.3 440.2 220.2C441.1 220.2 442.0 220.2 442.8 220.2C443.6 220.3 444.4 220.4 445.2 220.6C445.9 220.8 446.6 221.0 447.3 221.3C447.9 221.6 448.5 221.9 448.9 222.3C449.4 222.7 449.8 223.2 450.1 223.6C450.4 224.1 450.6 224.6 450.7 225.1Z" fill="#c8f3ff" stroke="#6fbcff" stroke-width="0.5"/>
<path d="M449.5 225.4C449.6 225.9 449.6 226.4 449.5 226.9C449.4 227.3 449.3 227.8 449.0 228.3C448.8 228.8 448.4 229.3 448.0 229.7C447.7 230.2 447.2 230.6 446.6 231.0C446.1 231.5 445.5 231.8 444.9 232.2C444.2 232.5 443.5 232.8 442.8 233.1C442.1 233.4 441.3 233.6 440.6 233.7C439.8 233.9 439.0 234.0 438.3 234.1C437.5 234.1 436.7 234.1 436.0 234.1C435.3 234.0 434.6 233.9 433.9 233.7C433.3 233.6 432.6 233.4 432.1 233.1C431.5 232.9 431.0 232.6 430.6 232.2C430.2 231.9 429.9 231.5 429.6 231.1C429.3 230.7 429.2 230.2 429.1 229.8C429.0 229.3 428.9 228.8 429.0 228.3C429.1 227.9 429.3 227.4 429.5 226.9C429.7 226.4 430.1 225.9 430.5 225.5C430.9 225.0 431.3 224.6 431.9 224.2C432.4 223.7 433.0 223.4 433.7 223.0C434.3 222.7 435.0 222.4 435.7 222.1C436.4 221.8 437.2 221.6 438.0 221.5C438.7 221.3 439.5 221.2 440.3 221.1C441.0 221.1 441.8 221.1 442.5 221.1C443.2 221.2 444.0 221.3 444.6 221.5C445.3 221.6 445.9 221.8 446.4 222.1C447.0 222.3 447.5 222.6 447.9 223.0C448.3 223.3 448.7 223.7 448.9 224.1C449.2 224.5 449.4 225.0 449.5 225.4Z" fill="#8ee6f6" stroke="none"/>
<path d="M456.3 223.8C456.5 224.6 456.5 225.4 456.4 226.3C456.2 227.1 455.9 228.0 455.5 228.8C455.1 229.7 454.5 230.5 453.8 231.3C453.1 232.1 452.3 232.9 451.3 233.6C450.4 234.4 449.3 235.0 448.2 235.6C447.1 236.2 445.9 236.8 444.6 237.2C443.4 237.7 442.0 238.1 440.7 238.4C439.4 238.6 438.0 238.8 436.6 238.9C435.3 239.0 434.0 239.0 432.7 238.9C431.4 238.9 430.2 238.7 429.0 238.4C427.9 238.1 426.8 237.7 425.8 237.3C424.9 236.8 424.0 236.3 423.3 235.7C422.5 235.1 421.9 234.4 421.5 233.7C421.0 233.0 420.7 232.2 420.5 231.4C420.3 230.6 420.3 229.8 420.4 228.9C420.6 228.1 420.9 227.2 421.3 226.4C421.7 225.5 422.3 224.7 423.0 223.9C423.7 223.1 424.5 222.3 425.5 221.6C426.4 220.8 427.5 220.2 428.6 219.6C429.7 219.0 430.9 218.4 432.2 218.0C433.4 217.5 434.8 217.1 436.1 216.8C437.4 216.6 438.8 216.4 440.2 216.3C441.5 216.2 442.8 216.2 444.1 216.3C445.4 216.3 446.6 216.5 447.8 216.8C448.9 217.1 450.0 217.5 451.0 217.9C451.9 218.4 452.8 218.9 453.5 219.5C454.3 220.1 454.9 220.8 455.3 221.5C455.8 222.2 456.1 223.0 456.3 223.8Z" fill="none" stroke="#3434ee" stroke-width="0.8"/>
<path d="M454.1 224.3C454.2 225.0 454.2 225.7 454.1 226.5C454.0 227.2 453.8 227.9 453.4 228.7C453.0 229.4 452.5 230.1 451.9 230.8C451.3 231.5 450.6 232.2 449.8 232.8C449.0 233.4 448.1 234.0 447.1 234.5C446.2 235.0 445.1 235.5 444.0 235.9C442.9 236.3 441.8 236.6 440.6 236.9C439.5 237.1 438.3 237.3 437.2 237.3C436.0 237.4 434.9 237.4 433.8 237.4C432.7 237.3 431.6 237.1 430.6 236.9C429.6 236.6 428.7 236.3 427.9 235.9C427.0 235.5 426.3 235.1 425.7 234.6C425.0 234.0 424.5 233.5 424.1 232.8C423.7 232.2 423.4 231.6 423.3 230.9C423.1 230.2 423.1 229.5 423.2 228.7C423.3 228.0 423.6 227.3 424.0 226.5C424.3 225.8 424.8 225.1 425.4 224.4C426.0 223.7 426.7 223.0 427.5 222.4C428.3 221.8 429.3 221.2 430.2 220.7C431.2 220.2 432.3 219.7 433.3 219.3C434.4 218.9 435.6 218.6 436.7 218.3C437.9 218.1 439.0 217.9 440.2 217.9C441.3 217.8 442.5 217.8 443.6 217.8C444.7 217.9 445.8 218.1 446.7 218.3C447.7 218.6 448.7 218.9 449.5 219.3C450.3 219.7 451.1 220.1 451.7 220.6C452.3 221.2 452.9 221.7 453.3 222.4C453.6 223.0 453.9 223.6 454.1 224.3Z" fill="none" stroke="#4040f0" stroke-width="0.7"/>
<path d="M452.2 224.8C452.3 225.4 452.3 226.0 452.2 226.6C452.1 227.2 451.9 227.9 451.6 228.5C451.3 229.1 450.8 229.8 450.3 230.4C449.8 231.0 449.2 231.5 448.5 232.1C447.8 232.6 447.0 233.1 446.2 233.6C445.4 234.0 444.4 234.4 443.5 234.7C442.6 235.1 441.6 235.4 440.6 235.6C439.6 235.8 438.6 235.9 437.6 236.0C436.6 236.1 435.6 236.1 434.7 236.0C433.8 235.9 432.8 235.8 432.0 235.6C431.1 235.4 430.3 235.1 429.6 234.8C428.9 234.4 428.3 234.0 427.7 233.6C427.2 233.1 426.7 232.6 426.4 232.1C426.0 231.6 425.8 231.0 425.7 230.4C425.5 229.8 425.5 229.2 425.6 228.6C425.7 228.0 425.9 227.3 426.3 226.7C426.6 226.1 427.0 225.4 427.5 224.8C428.0 224.2 428.6 223.7 429.3 223.1C430.0 222.6 430.8 222.1 431.6 221.6C432.5 221.2 433.4 220.8 434.3 220.5C435.3 220.1 436.2 219.8 437.2 219.6C438.2 219.4 439.2 219.3 440.2 219.2C441.2 219.1 442.2 219.1 443.1 219.2C444.1 219.3 445.0 219.4 445.9 219.6C446.7 219.8 447.5 220.1 448.2 220.4C448.9 220.8 449.6 221.2 450.1 221.6C450.7 222.1 451.1 222.6 451.5 223.1C451.8 223.6 452.0 224.2 452.2 224.8Z" fill="none" stroke="#5066f4" stroke-width="0.6"/>
<path d="M448.4 225.7C448.4 226.1 448.4 226.5 448.4 226.9C448.3 227.4 448.2 227.8 448.0 228.2C447.7 228.6 447.5 229.1 447.1 229.5C446.8 229.9 446.3 230.3 445.9 230.6C445.4 231.0 444.9 231.3 444.3 231.6C443.8 231.9 443.1 232.2 442.5 232.4C441.9 232.6 441.2 232.8 440.5 233.0C439.9 233.1 439.2 233.2 438.5 233.3C437.9 233.3 437.2 233.3 436.5 233.3C435.9 233.2 435.3 233.1 434.7 233.0C434.1 232.9 433.6 232.7 433.1 232.4C432.6 232.2 432.2 231.9 431.8 231.6C431.5 231.3 431.2 231.0 430.9 230.7C430.7 230.3 430.5 229.9 430.4 229.5C430.4 229.1 430.4 228.7 430.4 228.3C430.5 227.8 430.6 227.4 430.8 227.0C431.1 226.6 431.3 226.1 431.7 225.7C432.0 225.3 432.5 224.9 432.9 224.6C433.4 224.2 433.9 223.9 434.5 223.6C435.0 223.3 435.7 223.0 436.3 222.8C436.9 222.6 437.6 222.4 438.3 222.2C438.9 222.1 439.6 222.0 440.3 221.9C440.9 221.9 441.6 221.9 442.3 221.9C442.9 222.0 443.5 222.1 444.1 222.2C444.7 222.3 445.2 222.5 445.7 222.8C446.2 223.0 446.6 223.3 447.0 223.6C447.3 223.9 447.6 224.2 447.9 224.5C448.1 224.9 448.3 225.3 448.4 225.7Z" fill="#8fe98a" stroke="none"/>
<path d="M447.4 225.9C447.5 226.3 447.5 226.7 447.4 227.0C447.4 227.4 447.2 227.8 447.1 228.1C446.9 228.5 446.6 228.9 446.3 229.2C446.0 229.6 445.6 229.9 445.2 230.3C444.8 230.6 444.3 230.9 443.8 231.1C443.3 231.4 442.8 231.6 442.3 231.8C441.7 232.0 441.1 232.2 440.5 232.3C439.9 232.5 439.3 232.5 438.7 232.6C438.2 232.6 437.6 232.6 437.0 232.6C436.5 232.6 435.9 232.5 435.4 232.3C434.9 232.2 434.4 232.1 434.0 231.9C433.6 231.7 433.2 231.4 432.9 231.2C432.5 230.9 432.3 230.6 432.1 230.3C431.9 230.0 431.7 229.6 431.6 229.3C431.6 228.9 431.6 228.5 431.6 228.2C431.7 227.8 431.8 227.4 432.0 227.1C432.2 226.7 432.4 226.3 432.7 226.0C433.0 225.6 433.4 225.3 433.8 224.9C434.2 224.6 434.7 224.3 435.2 224.1C435.7 223.8 436.2 223.6 436.8 223.4C437.3 223.2 437.9 223.0 438.5 222.9C439.1 222.7 439.7 222.7 440.3 222.6C440.9 222.6 441.5 222.6 442.0 222.6C442.6 222.6 443.1 222.7 443.6 222.9C444.1 223.0 444.6 223.1 445.1 223.3C445.5 223.5 445.9 223.8 446.2 224.0C446.5 224.3 446.8 224.6 447.0 224.9C447.2 225.2 447.3 225.6 447.4 225.9Z" fill="#4ade42" stroke="none"/>
<path d="M445.2 226.5C445.2 226.7 445.2 227.0 445.2 227.2C445.1 227.5 445.1 227.7 444.9 228.0C444.8 228.2 444.6 228.5 444.4 228.7C444.2 229.0 444.0 229.2 443.7 229.4C443.4 229.6 443.1 229.8 442.7 230.0C442.4 230.2 442.0 230.4 441.7 230.5C441.3 230.6 440.9 230.7 440.5 230.8C440.1 230.9 439.7 231.0 439.3 231.0C438.9 231.0 438.5 231.0 438.1 231.0C437.7 231.0 437.3 230.9 437.0 230.8C436.6 230.8 436.3 230.6 436.0 230.5C435.7 230.4 435.5 230.2 435.3 230.0C435.0 229.8 434.9 229.6 434.7 229.4C434.6 229.2 434.5 229.0 434.4 228.7C434.4 228.5 434.4 228.2 434.4 228.0C434.5 227.7 434.5 227.5 434.7 227.2C434.8 227.0 435.0 226.7 435.2 226.5C435.4 226.2 435.6 226.0 435.9 225.8C436.2 225.6 436.5 225.4 436.9 225.2C437.2 225.0 437.6 224.8 437.9 224.7C438.3 224.6 438.7 224.5 439.1 224.4C439.5 224.3 439.9 224.2 440.3 224.2C440.7 224.2 441.1 224.2 441.5 224.2C441.9 224.2 442.3 224.3 442.6 224.4C443.0 224.4 443.3 224.6 443.6 224.7C443.9 224.8 444.1 225.0 444.3 225.2C444.6 225.4 444.7 225.6 444.9 225.8C445.0 226.0 445.1 226.2 445.2 226.5Z" fill="#d2ea3c" stroke="none"/>
<path d="M444.1 226.7C444.1 226.9 444.1 227.1 444.1 227.3C444.0 227.5 444.0 227.7 443.9 227.9C443.8 228.1 443.6 228.3 443.5 228.5C443.3 228.6 443.1 228.8 442.9 229.0C442.7 229.2 442.5 229.3 442.2 229.4C441.9 229.6 441.7 229.7 441.4 229.8C441.1 229.9 440.8 230.0 440.5 230.1C440.2 230.1 439.8 230.2 439.5 230.2C439.2 230.2 438.9 230.2 438.6 230.2C438.3 230.2 438.0 230.1 437.8 230.1C437.5 230.0 437.3 229.9 437.0 229.8C436.8 229.7 436.6 229.6 436.5 229.5C436.3 229.3 436.1 229.2 436.0 229.0C435.9 228.8 435.9 228.7 435.8 228.5C435.8 228.3 435.8 228.1 435.8 227.9C435.8 227.7 435.9 227.5 436.0 227.3C436.1 227.1 436.2 226.9 436.4 226.7C436.6 226.6 436.7 226.4 437.0 226.2C437.2 226.0 437.4 225.9 437.7 225.8C437.9 225.6 438.2 225.5 438.5 225.4C438.8 225.3 439.1 225.2 439.4 225.1C439.7 225.1 440.0 225.0 440.3 225.0C440.6 225.0 441.0 225.0 441.3 225.0C441.5 225.0 441.8 225.1 442.1 225.1C442.4 225.2 442.6 225.3 442.8 225.4C443.1 225.5 443.3 225.6 443.4 225.7C443.6 225.9 443.7 226.0 443.8 226.2C443.9 226.4 444.0 226.5 444.1 226.7Z" fill="#ff4422" stroke="none"/>
<path d="M483.0 184.4C483.2 184.7 483.5 185.1 483.6 185.4C483.8 185.8 483.8 186.3 483.9 186.7C483.9 187.2 483.9 187.7 483.8 188.2C483.7 188.7 483.5 189.2 483.3 189.7C483.1 190.2 482.8 190.8 482.5 191.3C482.2 191.8 481.8 192.3 481.4 192.7C481.0 193.2 480.5 193.6 480.1 194.0C479.6 194.4 479.0 194.8 478.5 195.1C478.0 195.5 477.4 195.7 476.9 196.0C476.3 196.2 475.8 196.4 475.2 196.5C474.7 196.6 474.2 196.7 473.7 196.7C473.1 196.7 472.7 196.6 472.2 196.5C471.8 196.4 471.3 196.3 471.0 196.0C470.6 195.8 470.3 195.5 470.0 195.2C469.8 194.9 469.5 194.5 469.4 194.2C469.2 193.8 469.2 193.3 469.1 192.9C469.1 192.4 469.1 191.9 469.2 191.4C469.3 190.9 469.5 190.4 469.7 189.9C469.9 189.4 470.2 188.8 470.5 188.3C470.8 187.8 471.2 187.3 471.6 186.9C472.0 186.4 472.5 186.0 472.9 185.6C473.4 185.2 474.0 184.8 474.5 184.5C475.0 184.1 475.6 183.9 476.1 183.6C476.7 183.4 477.2 183.2 477.8 183.1C478.3 183.0 478.8 182.9 479.3 182.9C479.9 182.9 480.3 183.0 480.8 183.1C481.2 183.2 481.7 183.3 482.0 183.6C482.4 183.8 482.7 184.1 483.0 184.4Z" fill="#c8f3ff" stroke="#6fbcff" stroke-width="0.5"/>
<path d="M482.2 185.0C482.4 185.3 482.6 185.6 482.7 186.0C482.9 186.3 482.9 186.7 483.0 187.1C483.0 187.5 483.0 188.0 482.9 188.4C482.8 188.8 482.7 189.3 482.5 189.7C482.3 190.2 482.0 190.6 481.8 191.1C481.5 191.5 481.2 192.0 480.8 192.4C480.4 192.8 480.0 193.2 479.6 193.5C479.2 193.9 478.7 194.2 478.3 194.5C477.8 194.8 477.3 195.0 476.8 195.2C476.4 195.4 475.9 195.6 475.4 195.7C474.9 195.8 474.4 195.8 474.0 195.8C473.6 195.8 473.1 195.8 472.7 195.7C472.3 195.6 472.0 195.5 471.7 195.3C471.3 195.1 471.1 194.8 470.8 194.6C470.6 194.3 470.4 194.0 470.3 193.6C470.1 193.3 470.1 192.9 470.0 192.5C470.0 192.1 470.0 191.6 470.1 191.2C470.2 190.8 470.3 190.3 470.5 189.9C470.7 189.4 471.0 189.0 471.2 188.5C471.5 188.1 471.8 187.6 472.2 187.2C472.6 186.8 473.0 186.4 473.4 186.1C473.8 185.7 474.3 185.4 474.7 185.1C475.2 184.8 475.7 184.6 476.2 184.4C476.6 184.2 477.1 184.0 477.6 183.9C478.1 183.8 478.6 183.8 479.0 183.8C479.4 183.8 479.9 183.8 480.3 183.9C480.7 184.0 481.0 184.1 481.3 184.3C481.7 184.5 481.9 184.8 482.2 185.0Z" fill="#8ee6f6" stroke="none"/>
<path d="M486.5 181.4C486.9 181.9 487.2 182.5 487.4 183.1C487.7 183.7 487.8 184.4 487.8 185.1C487.9 185.8 487.8 186.6 487.7 187.3C487.5 188.1 487.3 188.9 487.0 189.7C486.7 190.5 486.2 191.3 485.7 192.0C485.3 192.8 484.7 193.6 484.0 194.3C483.4 195.0 482.7 195.7 482.0 196.3C481.2 196.9 480.4 197.5 479.6 198.0C478.8 198.5 477.9 198.9 477.1 199.3C476.3 199.6 475.4 199.9 474.6 200.1C473.7 200.3 472.9 200.4 472.1 200.4C471.3 200.4 470.6 200.3 469.9 200.2C469.2 200.0 468.6 199.7 468.0 199.4C467.4 199.1 466.9 198.6 466.5 198.2C466.1 197.7 465.8 197.1 465.6 196.5C465.3 195.9 465.2 195.2 465.2 194.5C465.1 193.8 465.2 193.0 465.3 192.3C465.5 191.5 465.7 190.7 466.0 189.9C466.3 189.1 466.8 188.3 467.3 187.6C467.7 186.8 468.3 186.0 469.0 185.3C469.6 184.6 470.3 183.9 471.0 183.3C471.8 182.7 472.6 182.1 473.4 181.6C474.2 181.1 475.1 180.7 475.9 180.3C476.7 180.0 477.6 179.7 478.4 179.5C479.3 179.3 480.1 179.2 480.9 179.2C481.7 179.2 482.4 179.3 483.1 179.4C483.8 179.6 484.4 179.9 485.0 180.2C485.6 180.5 486.1 181.0 486.5 181.4Z" fill="none" stroke="#3434ee" stroke-width="0.8"/>
<path d="M485.1 182.6C485.4 183.0 485.7 183.5 485.9 184.0C486.1 184.6 486.2 185.1 486.3 185.8C486.3 186.4 486.2 187.0 486.1 187.7C486.0 188.3 485.8 189.0 485.5 189.7C485.2 190.4 484.9 191.1 484.4 191.7C484.0 192.4 483.5 193.0 483.0 193.7C482.4 194.3 481.8 194.9 481.2 195.4C480.6 195.9 479.9 196.4 479.2 196.9C478.5 197.3 477.7 197.7 477.0 198.0C476.3 198.3 475.5 198.5 474.8 198.7C474.1 198.8 473.4 198.9 472.7 198.9C472.1 198.9 471.4 198.8 470.8 198.7C470.2 198.6 469.7 198.3 469.2 198.1C468.7 197.8 468.3 197.4 467.9 197.0C467.6 196.6 467.3 196.1 467.1 195.6C466.9 195.0 466.8 194.5 466.7 193.8C466.7 193.2 466.8 192.6 466.9 191.9C467.0 191.3 467.2 190.6 467.5 189.9C467.8 189.2 468.1 188.5 468.6 187.9C469.0 187.2 469.5 186.6 470.0 185.9C470.6 185.3 471.2 184.7 471.8 184.2C472.4 183.7 473.1 183.2 473.8 182.7C474.5 182.3 475.3 181.9 476.0 181.6C476.7 181.3 477.5 181.1 478.2 180.9C478.9 180.8 479.6 180.7 480.3 180.7C480.9 180.7 481.6 180.8 482.2 180.9C482.8 181.0 483.3 181.3 483.8 181.5C484.3 181.8 484.7 182.2 485.1 182.6Z" fill="none" stroke="#4040f0" stroke-width="0.7"/>
<path d="M483.9 183.6C484.2 184.0 484.4 184.4 484.6 184.8C484.8 185.3 484.9 185.8 484.9 186.3C484.9 186.8 484.9 187.4 484.8 188.0C484.7 188.5 484.5 189.1 484.3 189.7C484.0 190.3 483.7 190.9 483.3 191.5C483.0 192.0 482.5 192.6 482.1 193.1C481.6 193.6 481.1 194.2 480.5 194.6C480.0 195.1 479.4 195.5 478.8 195.9C478.2 196.2 477.6 196.6 476.9 196.8C476.3 197.1 475.7 197.3 475.1 197.4C474.5 197.6 473.8 197.6 473.3 197.6C472.7 197.6 472.1 197.6 471.6 197.5C471.1 197.3 470.6 197.1 470.2 196.9C469.8 196.7 469.4 196.3 469.1 196.0C468.8 195.6 468.6 195.2 468.4 194.8C468.2 194.3 468.1 193.8 468.1 193.3C468.1 192.8 468.1 192.2 468.2 191.6C468.3 191.1 468.5 190.5 468.7 189.9C469.0 189.3 469.3 188.7 469.7 188.1C470.0 187.6 470.5 187.0 470.9 186.5C471.4 186.0 471.9 185.4 472.5 185.0C473.0 184.5 473.6 184.1 474.2 183.7C474.8 183.4 475.4 183.0 476.1 182.8C476.7 182.5 477.3 182.3 477.9 182.2C478.5 182.0 479.2 182.0 479.7 182.0C480.3 182.0 480.9 182.0 481.4 182.1C481.9 182.3 482.4 182.5 482.8 182.7C483.2 182.9 483.6 183.3 483.9 183.6Z" fill="none" stroke="#5066f4" stroke-width="0.6"/>
<path d="M481.0 186.0C481.2 186.3 481.3 186.5 481.4 186.8C481.5 187.1 481.6 187.4 481.6 187.7C481.6 188.0 481.6 188.3 481.5 188.7C481.5 189.0 481.4 189.4 481.2 189.7C481.1 190.1 480.9 190.5 480.7 190.8C480.4 191.2 480.2 191.5 479.9 191.8C479.6 192.1 479.3 192.5 479.0 192.7C478.6 193.0 478.3 193.3 477.9 193.5C477.5 193.7 477.1 193.9 476.8 194.1C476.4 194.2 476.0 194.4 475.6 194.4C475.3 194.5 474.9 194.6 474.5 194.6C474.2 194.6 473.8 194.5 473.5 194.5C473.2 194.4 472.9 194.3 472.7 194.1C472.4 194.0 472.2 193.8 472.0 193.6C471.8 193.3 471.7 193.1 471.6 192.8C471.5 192.5 471.4 192.2 471.4 191.9C471.4 191.6 471.4 191.3 471.5 190.9C471.5 190.6 471.6 190.2 471.8 189.9C471.9 189.5 472.1 189.1 472.3 188.8C472.6 188.4 472.8 188.1 473.1 187.8C473.4 187.5 473.7 187.1 474.0 186.9C474.4 186.6 474.7 186.3 475.1 186.1C475.5 185.9 475.9 185.7 476.2 185.5C476.6 185.4 477.0 185.2 477.4 185.2C477.7 185.1 478.1 185.0 478.5 185.0C478.8 185.0 479.2 185.1 479.5 185.1C479.8 185.2 480.1 185.3 480.3 185.5C480.6 185.6 480.8 185.8 481.0 186.0Z" fill="#8fe98a" stroke="none"/>
<path d="M480.4 186.5C480.6 186.7 480.7 186.9 480.8 187.1C480.9 187.4 481.0 187.7 481.0 187.9C481.0 188.2 481.0 188.5 480.9 188.8C480.9 189.1 480.8 189.4 480.7 189.8C480.5 190.1 480.4 190.4 480.2 190.7C480.0 191.0 479.7 191.3 479.5 191.6C479.2 191.9 479.0 192.1 478.7 192.4C478.4 192.6 478.1 192.9 477.7 193.1C477.4 193.2 477.1 193.4 476.7 193.6C476.4 193.7 476.1 193.8 475.7 193.9C475.4 194.0 475.1 194.0 474.8 194.0C474.5 194.0 474.2 194.0 473.9 193.9C473.6 193.8 473.4 193.7 473.1 193.6C472.9 193.5 472.7 193.3 472.6 193.1C472.4 192.9 472.3 192.7 472.2 192.5C472.1 192.2 472.0 191.9 472.0 191.7C472.0 191.4 472.0 191.1 472.1 190.8C472.1 190.5 472.2 190.2 472.3 189.8C472.5 189.5 472.6 189.2 472.8 188.9C473.0 188.6 473.3 188.3 473.5 188.0C473.8 187.7 474.0 187.5 474.3 187.2C474.6 187.0 474.9 186.7 475.3 186.5C475.6 186.4 475.9 186.2 476.3 186.0C476.6 185.9 476.9 185.8 477.3 185.7C477.6 185.6 477.9 185.6 478.2 185.6C478.5 185.6 478.8 185.6 479.1 185.7C479.4 185.8 479.6 185.9 479.9 186.0C480.1 186.1 480.3 186.3 480.4 186.5Z" fill="#4ade42" stroke="none"/>
<path d="M478.5 188.1C478.6 188.2 478.6 188.4 478.7 188.5C478.7 188.6 478.7 188.7 478.7 188.9C478.8 189.0 478.7 189.2 478.7 189.3C478.7 189.5 478.6 189.6 478.6 189.8C478.5 189.9 478.4 190.1 478.3 190.2C478.2 190.4 478.1 190.5 478.0 190.7C477.9 190.8 477.7 191.0 477.6 191.1C477.4 191.2 477.3 191.3 477.1 191.4C477.0 191.5 476.8 191.6 476.6 191.7C476.5 191.7 476.3 191.8 476.1 191.8C476.0 191.9 475.8 191.9 475.6 191.9C475.5 191.9 475.3 191.9 475.2 191.9C475.1 191.8 474.9 191.8 474.8 191.7C474.7 191.6 474.6 191.6 474.5 191.5C474.4 191.4 474.4 191.2 474.3 191.1C474.3 191.0 474.3 190.9 474.3 190.7C474.2 190.6 474.3 190.4 474.3 190.3C474.3 190.1 474.4 190.0 474.4 189.8C474.5 189.7 474.6 189.5 474.7 189.4C474.8 189.2 474.9 189.1 475.0 188.9C475.1 188.8 475.3 188.6 475.4 188.5C475.6 188.4 475.7 188.3 475.9 188.2C476.0 188.1 476.2 188.0 476.4 187.9C476.5 187.9 476.7 187.8 476.9 187.8C477.0 187.7 477.2 187.7 477.4 187.7C477.5 187.7 477.7 187.7 477.8 187.7C477.9 187.8 478.1 187.8 478.2 187.9C478.3 188.0 478.4 188.0 478.5 188.1Z" fill="#bdee4a" stroke="none"/>
<path d="M477.6 188.9C477.6 188.9 477.7 189.0 477.7 189.1C477.7 189.1 477.7 189.2 477.7 189.3C477.7 189.4 477.7 189.5 477.7 189.5C477.7 189.6 477.7 189.7 477.6 189.8C477.6 189.9 477.6 190.0 477.5 190.0C477.4 190.1 477.4 190.2 477.3 190.3C477.2 190.4 477.2 190.4 477.1 190.5C477.0 190.6 476.9 190.6 476.8 190.7C476.7 190.7 476.7 190.8 476.6 190.8C476.5 190.9 476.4 190.9 476.3 190.9C476.2 190.9 476.1 190.9 476.0 190.9C475.9 190.9 475.9 190.9 475.8 190.9C475.7 190.9 475.6 190.9 475.6 190.8C475.5 190.8 475.5 190.8 475.4 190.7C475.4 190.7 475.3 190.6 475.3 190.5C475.3 190.5 475.3 190.4 475.3 190.3C475.3 190.2 475.3 190.1 475.3 190.1C475.3 190.0 475.3 189.9 475.4 189.8C475.4 189.7 475.4 189.6 475.5 189.6C475.6 189.5 475.6 189.4 475.7 189.3C475.8 189.2 475.8 189.2 475.9 189.1C476.0 189.0 476.1 189.0 476.2 188.9C476.3 188.9 476.3 188.8 476.4 188.8C476.5 188.7 476.6 188.7 476.7 188.7C476.8 188.7 476.9 188.7 477.0 188.7C477.1 188.7 477.1 188.7 477.2 188.7C477.3 188.7 477.4 188.7 477.4 188.8C477.5 188.8 477.5 188.8 477.6 188.9Z" fill="#e6f070" stroke="none"/>
<path d="M458.8 182.3C458.9 182.7 458.9 183.2 458.8 183.6C458.7 184.0 458.5 184.4 458.3 184.9C458.0 185.3 457.7 185.7 457.3 186.1C456.9 186.5 456.4 187.0 455.8 187.3C455.3 187.7 454.7 188.1 454.0 188.4C453.4 188.7 452.7 189.0 452.0 189.2C451.3 189.5 450.5 189.7 449.7 189.8C449.0 190.0 448.2 190.1 447.4 190.2C446.7 190.3 445.9 190.3 445.2 190.2C444.5 190.2 443.8 190.1 443.1 190.0C442.5 189.9 441.9 189.7 441.4 189.5C440.8 189.3 440.3 189.1 439.9 188.8C439.5 188.5 439.2 188.1 438.9 187.8C438.7 187.4 438.5 187.1 438.4 186.7C438.3 186.3 438.3 185.8 438.4 185.4C438.5 185.0 438.7 184.6 438.9 184.1C439.2 183.7 439.5 183.3 439.9 182.9C440.3 182.5 440.8 182.0 441.4 181.7C441.9 181.3 442.5 180.9 443.2 180.6C443.8 180.3 444.5 180.0 445.2 179.8C445.9 179.5 446.7 179.3 447.5 179.2C448.2 179.0 449.0 178.9 449.8 178.8C450.5 178.7 451.3 178.7 452.0 178.8C452.7 178.8 453.4 178.9 454.1 179.0C454.7 179.1 455.3 179.3 455.8 179.5C456.4 179.7 456.9 179.9 457.3 180.2C457.7 180.5 458.0 180.9 458.3 181.2C458.5 181.6 458.7 181.9 458.8 182.3Z" fill="#c8f3ff" stroke="#6fbcff" stroke-width="0.5"/>
<path d="M457.5 182.6C457.6 183.0 457.6 183.3 457.5 183.7C457.4 184.1 457.3 184.4 457.1 184.8C456.8 185.2 456.5 185.6 456.2 185.9C455.8 186.3 455.4 186.7 454.9 187.0C454.5 187.3 453.9 187.6 453.4 187.9C452.8 188.2 452.2 188.4 451.6 188.6C450.9 188.9 450.3 189.0 449.6 189.2C448.9 189.3 448.2 189.4 447.6 189.5C446.9 189.5 446.3 189.6 445.6 189.5C445.0 189.5 444.4 189.5 443.8 189.3C443.3 189.2 442.7 189.1 442.2 188.9C441.8 188.7 441.3 188.5 441.0 188.2C440.6 188.0 440.3 187.7 440.1 187.4C439.9 187.1 439.8 186.7 439.7 186.4C439.6 186.0 439.6 185.7 439.7 185.3C439.8 184.9 439.9 184.6 440.1 184.2C440.4 183.8 440.7 183.4 441.0 183.1C441.4 182.7 441.8 182.3 442.3 182.0C442.7 181.7 443.3 181.4 443.8 181.1C444.4 180.8 445.0 180.6 445.6 180.4C446.3 180.1 446.9 180.0 447.6 179.8C448.3 179.7 449.0 179.6 449.6 179.5C450.3 179.5 450.9 179.4 451.6 179.5C452.2 179.5 452.8 179.5 453.4 179.7C453.9 179.8 454.5 179.9 455.0 180.1C455.4 180.3 455.9 180.5 456.2 180.8C456.6 181.0 456.9 181.3 457.1 181.6C457.3 181.9 457.4 182.3 457.5 182.6Z" fill="#8ee6f6" stroke="none"/>
<path d="M464.3 181.2C464.4 181.8 464.4 182.4 464.2 183.1C464.1 183.7 463.8 184.4 463.5 185.1C463.1 185.7 462.5 186.4 461.9 187.0C461.3 187.7 460.6 188.3 459.7 188.8C458.9 189.4 458.0 190.0 457.0 190.5C456.0 190.9 454.9 191.4 453.8 191.8C452.7 192.1 451.5 192.5 450.3 192.7C449.2 193.0 448.0 193.1 446.8 193.3C445.7 193.4 444.5 193.4 443.4 193.3C442.3 193.3 441.2 193.2 440.2 193.0C439.2 192.8 438.3 192.5 437.5 192.2C436.6 191.9 435.9 191.5 435.3 191.1C434.6 190.6 434.1 190.1 433.7 189.6C433.3 189.0 433.1 188.4 432.9 187.8C432.8 187.2 432.8 186.6 433.0 185.9C433.1 185.3 433.4 184.6 433.7 183.9C434.1 183.3 434.7 182.6 435.3 182.0C435.9 181.3 436.6 180.7 437.5 180.2C438.3 179.6 439.2 179.0 440.2 178.5C441.2 178.1 442.3 177.6 443.4 177.2C444.5 176.9 445.7 176.5 446.9 176.3C448.0 176.0 449.2 175.9 450.4 175.7C451.5 175.6 452.7 175.6 453.8 175.7C454.9 175.7 456.0 175.8 457.0 176.0C458.0 176.2 458.9 176.5 459.7 176.8C460.6 177.1 461.3 177.5 461.9 177.9C462.6 178.4 463.1 178.9 463.5 179.4C463.9 180.0 464.1 180.6 464.3 181.2Z" fill="none" stroke="#3434ee" stroke-width="0.8"/>
<path d="M462.1 181.6C462.2 182.2 462.2 182.7 462.1 183.3C461.9 183.8 461.7 184.4 461.4 185.0C461.0 185.6 460.6 186.1 460.1 186.7C459.5 187.2 458.9 187.7 458.2 188.2C457.5 188.7 456.6 189.2 455.8 189.6C454.9 190.0 454.0 190.4 453.1 190.8C452.1 191.1 451.1 191.4 450.1 191.6C449.1 191.8 448.1 191.9 447.1 192.0C446.1 192.1 445.1 192.1 444.1 192.1C443.2 192.1 442.2 192.0 441.4 191.8C440.5 191.6 439.7 191.4 439.0 191.1C438.3 190.9 437.7 190.5 437.1 190.1C436.6 189.8 436.1 189.3 435.8 188.9C435.5 188.4 435.3 187.9 435.1 187.4C435.0 186.8 435.0 186.3 435.1 185.7C435.3 185.2 435.5 184.6 435.8 184.0C436.2 183.4 436.6 182.9 437.1 182.3C437.7 181.8 438.3 181.3 439.0 180.8C439.7 180.3 440.6 179.8 441.4 179.4C442.3 179.0 443.2 178.6 444.1 178.2C445.1 177.9 446.1 177.6 447.1 177.4C448.1 177.2 449.1 177.1 450.1 177.0C451.1 176.9 452.1 176.9 453.1 176.9C454.0 176.9 455.0 177.0 455.8 177.2C456.7 177.4 457.5 177.6 458.2 177.9C458.9 178.1 459.5 178.5 460.1 178.9C460.6 179.2 461.1 179.7 461.4 180.1C461.7 180.6 461.9 181.1 462.1 181.6Z" fill="none" stroke="#4040f0" stroke-width="0.7"/>
<path d="M460.2 182.0C460.3 182.5 460.3 183.0 460.2 183.5C460.1 183.9 459.9 184.4 459.6 184.9C459.3 185.4 458.9 185.9 458.5 186.4C458.0 186.8 457.4 187.3 456.8 187.7C456.2 188.1 455.5 188.5 454.8 188.9C454.1 189.3 453.3 189.6 452.4 189.9C451.6 190.2 450.8 190.4 449.9 190.6C449.0 190.8 448.1 190.9 447.3 191.0C446.4 191.1 445.6 191.1 444.7 191.0C443.9 191.0 443.1 190.9 442.4 190.8C441.7 190.7 441.0 190.5 440.4 190.2C439.7 190.0 439.2 189.7 438.7 189.4C438.3 189.0 437.9 188.7 437.6 188.3C437.3 187.9 437.1 187.4 437.0 187.0C436.9 186.5 436.9 186.0 437.0 185.5C437.1 185.1 437.3 184.6 437.6 184.1C437.9 183.6 438.3 183.1 438.7 182.6C439.2 182.2 439.8 181.7 440.4 181.3C441.0 180.9 441.7 180.5 442.4 180.1C443.1 179.7 443.9 179.4 444.8 179.1C445.6 178.8 446.4 178.6 447.3 178.4C448.2 178.2 449.1 178.1 449.9 178.0C450.8 177.9 451.6 177.9 452.5 178.0C453.3 178.0 454.1 178.1 454.8 178.2C455.5 178.3 456.2 178.5 456.8 178.8C457.5 179.0 458.0 179.3 458.5 179.6C458.9 180.0 459.3 180.3 459.6 180.7C459.9 181.1 460.1 181.6 460.2 182.0Z" fill="none" stroke="#5066f4" stroke-width="0.6"/>
<path d="M455.2 183.1C455.2 183.4 455.2 183.6 455.2 183.9C455.1 184.2 455.0 184.5 454.8 184.7C454.7 185.0 454.5 185.3 454.2 185.6C453.9 185.8 453.6 186.1 453.3 186.3C452.9 186.6 452.5 186.8 452.1 187.0C451.7 187.2 451.2 187.4 450.8 187.6C450.3 187.7 449.8 187.8 449.3 188.0C448.8 188.1 448.3 188.1 447.9 188.2C447.4 188.2 446.9 188.2 446.4 188.2C445.9 188.2 445.5 188.1 445.1 188.1C444.7 188.0 444.3 187.9 443.9 187.7C443.6 187.6 443.3 187.4 443.0 187.3C442.7 187.1 442.5 186.9 442.4 186.6C442.2 186.4 442.1 186.2 442.0 185.9C442.0 185.6 442.0 185.4 442.0 185.1C442.1 184.8 442.2 184.5 442.4 184.3C442.5 184.0 442.7 183.7 443.0 183.4C443.3 183.2 443.6 182.9 443.9 182.7C444.3 182.4 444.7 182.2 445.1 182.0C445.5 181.8 446.0 181.6 446.4 181.4C446.9 181.3 447.4 181.2 447.9 181.0C448.4 180.9 448.9 180.9 449.3 180.8C449.8 180.8 450.3 180.8 450.8 180.8C451.3 180.8 451.7 180.9 452.1 180.9C452.5 181.0 452.9 181.1 453.3 181.3C453.6 181.4 453.9 181.6 454.2 181.7C454.5 181.9 454.7 182.1 454.8 182.4C455.0 182.6 455.1 182.8 455.2 183.1Z" fill="#d2faff" stroke="none"/>
<path d="M452.5 183.7C452.5 183.8 452.5 184.0 452.5 184.1C452.5 184.3 452.4 184.5 452.3 184.6C452.2 184.8 452.1 185.0 451.9 185.1C451.8 185.3 451.6 185.4 451.4 185.6C451.2 185.7 450.9 185.9 450.7 186.0C450.4 186.1 450.2 186.2 449.9 186.3C449.6 186.4 449.3 186.5 449.0 186.6C448.7 186.6 448.4 186.7 448.2 186.7C447.9 186.7 447.6 186.7 447.3 186.7C447.0 186.7 446.7 186.7 446.5 186.6C446.3 186.6 446.0 186.5 445.8 186.4C445.6 186.4 445.4 186.3 445.3 186.1C445.1 186.0 445.0 185.9 444.9 185.8C444.8 185.6 444.7 185.5 444.7 185.3C444.7 185.2 444.7 185.0 444.7 184.9C444.7 184.7 444.8 184.5 444.9 184.4C445.0 184.2 445.1 184.0 445.3 183.9C445.4 183.7 445.6 183.6 445.8 183.4C446.0 183.3 446.3 183.1 446.5 183.0C446.8 182.9 447.0 182.8 447.3 182.7C447.6 182.6 447.9 182.5 448.2 182.4C448.5 182.4 448.8 182.3 449.0 182.3C449.3 182.3 449.6 182.3 449.9 182.3C450.2 182.3 450.5 182.3 450.7 182.4C450.9 182.4 451.2 182.5 451.4 182.6C451.6 182.6 451.8 182.7 451.9 182.9C452.1 183.0 452.2 183.1 452.3 183.2C452.4 183.4 452.5 183.5 452.5 183.7Z" fill="#f2feff" stroke="none"/>
<path d="M431.2 186.7L436.8 176.1L446.7 171.2L457.3 171.4L462.9 179.9L461.0 189.8L452.9 194.7L441.8 195.4L431.9 191.0Z" fill="none" stroke="#f05050" stroke-width="0.75" stroke-linejoin="round"/>
<text x="431.2" y="168.2" font-size="5.3" fill="#f11" stroke="#f22" stroke-width="0.18">P6(16.42%)</text>
<rect x="410.5" y="249.5" width="98.0" height="98.0" fill="none" stroke="#666" stroke-width="1"/>
<path d="M410.5 252.5h1.5M410.5 255.8h1.5M410.5 259.1h1.5M410.5 262.4h1.5M410.5 265.7h1.5M410.5 269.0h1.5M410.5 272.3h1.5M410.5 275.6h1.5M410.5 278.9h1.5M410.5 282.2h1.5M410.5 285.5h1.5M410.5 288.8h1.5M410.5 292.1h1.5M410.5 295.4h1.5M410.5 298.7h1.5M410.5 302.0h1.5M410.5 305.3h1.5M410.5 308.6h1.5M410.5 311.9h1.5M410.5 315.2h1.5M410.5 318.5h1.5M410.5 321.8h1.5M410.5 325.1h1.5M410.5 328.4h1.5M410.5 331.7h1.5M410.5 335.0h1.5M410.5 338.3h1.5M410.5 341.6h1.5M410.5 344.9h1.5M414.5 347.5v-1.3M418.9 347.5v-1.3M423.3 347.5v-1.3M427.7 347.5v-1.3M432.1 347.5v-1.3M436.5 347.5v-1.3M440.9 347.5v-1.3M445.3 347.5v-1.3M449.7 347.5v-1.3M454.1 347.5v-1.3M458.5 347.5v-1.3M462.9 347.5v-1.3M467.3 347.5v-1.3M471.7 347.5v-1.3M476.1 347.5v-1.3M480.5 347.5v-1.3M484.9 347.5v-1.3M489.3 347.5v-1.3M493.7 347.5v-1.3M498.1 347.5v-1.3M502.5 347.5v-1.3M506.9 347.5v-1.3" stroke="#999" stroke-width="0.6" fill="none"/>
<path d="M411 307.5h1m0 13h1m-1 22h1m0-2h1m1-31h1m-1 21h1m0-39h1m2-9h1m-1 12h1m0-26h1m0 14h1m-1 39h1m-1 12h1m0-8h1m0-18h1m-1 4h1m1-34h1m-1 48h1m0-66h1m-1 40h1m-1 22h1m0-19h1m-1 10h1m0-55h1m-1 63h1m0-54h1m-1 61h1m0-36h1m-1 39h1m0-32h1m-1 17h1m-1 6h1m-1 6h1m0-21h1m0-35h1m-1 17h1m-1 5h1m-1 33h1m0-43h1m-1 20h1m-1 9h1m-1 3h1m-1 14h1m0-33h1m-1 13h1m-1 5h1m-1 8h1m0-28h1m-1 29h1m-1 18h1m0-62h1m-1 5h1m-1 18h1m-1 29h1m0-20h1m-1 5h1m-1 2h1m0-45h1m-1 8h1m0-16h1m-1 5h1m-1 8h1m-1 48h1m0-55h1m-1 11h1m-1 51h1m0-30h1m-1 3h1m-1 8h1m-1 27h1m0-21h1m0-31h1m-1 47h1m0-43h1m0-35h1m-1 19h1m-1 7h1m-1 11h1m-1 18h1m0-12h1m-1 44h1m0-53h1m-1 1h1m-1 46h1m0-75h1m-1 17h1m-1 39h1m0-33h1m-1 36h1m-1 7h1m-1 11h1m0-66h1m-1 1h1m-1 12h1m-1 2h1m-1 17h1m-1 8h1m-1 2h1m-1 6h1m0-64h1m-1 67h1m-1 2h1m-1 15h1m0-85h1m-1 14h1m-1 12h1m-1 31h1m0-44h1m-1 33h1m-1 34h1m0-55h1m-1 26h1m-1 37h1m0-67h1m-1 3h1m-1 13h1m-1 7h1m-1 6h1m-1 15h1m-1 8h1m0-76h1m-1 27h1m-1 7h1m-1 4h1m-1 4h1m-1 1h1m-1 13h1m-1 12h1m0-52h1m-1 26h1m-1 28h1m0-20h1m0-8h1m-1 23h1m0-36h1m-1 2h1m-1 27h1m-1 17h1m0-79h1m-1 21h1m-1 18h1m-1 18h1m-1 11h1m-1 9h1m0-61h1m-1 16h1m-1 2h1m-1 4h1m-1 11h1m-1 11h1m-1 2h1m-1 7h1m0-64h1m-1 50h1m0-48h1m-1 23h1m-1 1h1m-1 20h1m-1 41h1m0-61h1m-1 13h1m-1 11h1m0-52h1m-1 13h1m-1 10h1m-1 61h1m0-35h1m0-36h1m-1 13h1m-1 1h1m0-26h1m-1 11h1m-1 40h1m0-30h1m-1 5h1m-1 5h1m-1 11h1m-1 1h1m-1 13h1m0-43h1m-1 21h1m-1 1h1m-1 8h1m-1 19h1m-1 11h1m0-40h1m-1 45h1m0-49h1m-1 5h1m-1 2h1m-1 1h1m-1 18h1m-1 1h1m0-13h1m-1 30h1m-1 6h1m-1 5h1m0-88h1m-1 3h1m-1 9h1m-1 43h1m-1 1h1m-1 9h1m-1 2h1m0-53h1m-1 43h1m0-35h1m-1 6h1m-1 5h1m-1 1h1m-1 37h1m0-62h1m-1 31h1m-1 9h1m-1 1h1m-1 33h1m0-57h1m-1 3h1m-1 19h1m-1 10h1m-1 19h1m0-63h1m-1 2h1m-1 8h1m-1 37h1m-1 9h1m-1 1h1m-1 10h1m0-71h1m-1 24h1m-1 20h1m0-39h1m-1 1h1m-1 11h1m-1 3h1m-1 4h1m-1 1h1m-1 7h1m-1 19h1m0-55h1m-1 3h1m-1 4h1m-1 6h1m-1 29h1m-1 45h1m0-91h1m-1 5h1m-1 5h1m-1 2h1m-1 8h1m-1 38h1m-1 25h1m-1 5h1m0-90h1m-1 2h1m-1 44h1m-1 15h1m0-17h1m-1 23h1m0-67h1m-1 5h1m1 4h1m-1 7h1m0-13h1m-1 2h1m-1 10h1m-1 6h1m-1 8h1m-1 6h1m-1 35h1m0-47h1m-1 25h1m0-38h1m-1 33h1m0 10h1m0-29h1m-1 1h1m-1 22h1m0-20h1m-1 50h1m0-55h1m0-12h1m-1 9h1m-1 12h1m0-7h1m-1 16h1m-1 10h1m0-13h1m0-17h1m-1 36h1m0-23h1m0-25h1m-1 25h1m0-13h1m-1 11h1m-1 40h1m0-66h1m-1 13h1m0 43h1m-1 4h1m0-16h1" stroke="#444" stroke-width="1" opacity="0.78" fill="none" filter="url(#sb)"/>
<path d="M412 277.5h1m-1 38h1m0-43h1m-1 54h1m-1 9h1m0-21h1m1 20h1m0-51h1m-1 31h1m0-30h1m-1 37h1m1-35h1m-1 24h1m0-13h1m-1 16h1m2 0h1m-1 15h1m0-23h1m-1 28h1m-1 4h1m0-80h1m-1 22h1m-1 4h1m-1 44h1m-1 3h1m-1 2h1m0-47h1m-1 21h1m-1 2h1m0-7h1m-1 20h1m-1 19h1m0-64h1m-1 49h1m1 18h1m0-81h1m-1 49h1m0-27h1m-1 37h1m0-62h1m1 58h1m-1 11h1m-1 7h1m-1 9h1m0-88h1m-1 1h1m-1 6h1m-1 25h1m-1 3h1m0-22h1m-1 1h1m-1 54h1m0-51h1m-1 49h1m-1 23h1m1-79h1m-1 38h1m-1 16h1m1-33h1m-1 7h1m-1 10h1m-1 29h1m0 12h1m0-60h1m-1 14h1m-1 11h1m-1 9h1m0-61h1m-1 28h1m-1 10h1m-1 25h1m0-22h1m-1 25h1m0-65h1m-1 58h1m-1 12h1m0-35h1m-1 2h1m-1 22h1m-1 24h1m0-90h1m-1 6h1m-1 19h1m-1 1h1m-1 36h1m-1 20h1m0-60h1m-1 53h1m0-77h1m-1 70h1m-1 8h1m0-26h1m-1 14h1m-1 1h1m-1 18h1m0-38h1m0-10h1m-1 2h1m-1 14h1m-1 12h1m0-45h1m-1 3h1m-1 5h1m-1 9h1m-1 1h1m-1 25h1m-1 2h1m-1 5h1m-1 6h1m-1 14h1m0-88h1m-1 22h1m-1 13h1m-1 12h1m-1 14h1m-1 1h1m0-20h1m-1 2h1m-1 13h1m-1 2h1m-1 12h1m0-64h1m-1 33h1m0-21h1m-1 13h1m-1 25h1m-1 19h1m0-74h1m-1 11h1m-1 8h1m-1 10h1m-1 49h1m0-64h1m-1 28h1m0-26h1m-1 33h1m-1 1h1m-1 35h1m0-26h1m-1 1h1m-1 3h1m0-66h1m-1 54h1m-1 11h1m-1 12h1m-1 1h1m-1 16h1m0-92h1m-1 34h1m-1 7h1m-1 6h1m-1 33h1m-1 3h1m0-81h1m-1 30h1m-1 6h1m-1 11h1m-1 35h1m0-74h1m-1 21h1m-1 10h1m-1 20h1m-1 19h1m0-73h1m-1 5h1m-1 27h1m-1 16h1m0-47h1m-1 41h1m-1 3h1m0-36h1m-1 14h1m-1 62h1m0-81h1m-1 21h1m-1 22h1m0-43h1m-1 6h1m-1 1h1m-1 74h1m0-59h1m-1 12h1m-1 37h1m-1 4h1m0-70h1m-1 9h1m0-23h1m-1 7h1m-1 23h1m-1 28h1m-1 13h1m-1 9h1m0-74h1m-1 3h1m-1 5h1m-1 23h1m-1 1h1m-1 3h1m0-41h1m-1 20h1m-1 3h1m-1 28h1m0-47h1m-1 11h1m-1 30h1m0-11h1m-1 1h1m-1 4h1m-1 6h1m-1 9h1m0-41h1m-1 4h1m-1 9h1m-1 6h1m-1 5h1m0-36h1m-1 22h1m-1 10h1m-1 5h1m-1 7h1m0-38h1m-1 1h1m-1 12h1m-1 11h1m-1 2h1m0-5h1m-1 20h1m-1 6h1m-1 1h1m-1 2h1m0-57h1m-1 15h1m-1 7h1m-1 7h1m0-11h1m-1 26h1m-1 30h1m0-51h1m-1 9h1m-1 22h1m-1 3h1m0-33h1m-1 25h1m0-22h1m-1 3h1m-1 8h1m0-39h1m-1 8h1m-1 17h1m-1 42h1m-1 16h1m0-62h1m-1 40h1m-1 15h1m0-75h1m-1 11h1m-1 24h1m0-17h1m-1 1h1m-1 29h1m0-44h1m-1 3h1m-1 18h1m-1 3h1m-1 8h1m0 14h1m-1 4h1m0-56h1m-1 1h1m-1 5h1m-1 17h1m-1 3h1m0-11h1m-1 2h1m-1 6h1m-1 15h1m-1 19h1m0-51h1m-1 3h1m-1 12h1m-1 8h1m0-12h1m-1 38h1m0-37h1m-1 6h1m-1 6h1m0-21h1m-1 57h1m-1 9h1m0-70h1m-1 5h1m-1 10h1m-1 9h1m1-4h1m-1 28h1m0-50h1m-1 6h1m-1 37h1m0-43h1m-1 36h1m0 20h1m-1 14h1" stroke="#444" stroke-width="1" opacity="0.42" fill="none" filter="url(#sb)"/>
<path d="M436.8 286.7C437.2 285.6 437.2 284.7 439.3 283.6C441.4 282.5 446.5 280.6 449.2 279.9C451.9 279.2 453.5 279.2 455.4 279.2C457.3 279.2 459.8 279.1 460.4 279.9C461.0 280.7 460.4 283.0 459.1 284.2C457.9 285.4 455.2 286.4 452.9 287.3C450.6 288.2 447.6 289.1 445.5 289.8C443.4 290.5 441.9 291.5 440.5 291.6C439.1 291.7 437.4 291.2 436.8 290.4C436.2 289.6 436.4 287.8 436.8 286.7Z" fill="#fff" stroke="none"/>
<path d="M439.3 310.9C443.6 307.8 443.4 305.5 445.5 303.4C447.6 301.3 450.1 299.1 451.7 298.5C453.3 297.9 454.0 298.9 455.4 299.7C456.8 300.5 459.1 301.3 459.8 303.4C460.5 305.5 459.8 309.0 459.8 312.1C459.8 315.2 460.6 319.0 459.8 322.0C459.0 325.0 458.3 328.3 455.0 330.0C451.7 331.7 445.0 332.2 440.0 332.0C435.0 331.8 428.3 330.7 425.0 329.0C421.7 327.3 417.6 325.0 420.0 322.0C422.4 319.0 435.1 314.0 439.3 310.9Z" fill="#fff" stroke="none"/>
<path d="M458.4 323.0C458.5 323.7 458.4 324.4 458.1 325.1C457.8 325.8 457.3 326.6 456.7 327.3C456.1 327.9 455.3 328.6 454.4 329.3C453.5 329.9 452.4 330.5 451.2 331.1C450.0 331.6 448.7 332.1 447.3 332.5C446.0 333.0 444.5 333.3 443.0 333.6C441.5 333.9 439.9 334.1 438.3 334.3C436.8 334.4 435.2 334.5 433.7 334.4C432.1 334.4 430.6 334.3 429.2 334.1C427.7 333.9 426.4 333.7 425.1 333.3C423.9 333.0 422.7 332.6 421.7 332.1C420.6 331.7 419.7 331.1 419.0 330.6C418.3 330.0 417.7 329.3 417.3 328.7C416.9 328.0 416.6 327.3 416.6 326.6C416.5 325.9 416.6 325.2 416.9 324.5C417.2 323.8 417.7 323.0 418.3 322.3C418.9 321.7 419.7 321.0 420.6 320.3C421.5 319.7 422.6 319.1 423.8 318.5C425.0 318.0 426.3 317.5 427.7 317.1C429.0 316.6 430.5 316.3 432.0 316.0C433.5 315.7 435.1 315.5 436.7 315.3C438.2 315.2 439.8 315.1 441.3 315.2C442.9 315.2 444.4 315.3 445.8 315.5C447.3 315.7 448.6 315.9 449.9 316.3C451.1 316.6 452.3 317.0 453.3 317.5C454.4 317.9 455.3 318.5 456.0 319.0C456.7 319.6 457.3 320.3 457.7 320.9C458.1 321.6 458.4 322.3 458.4 323.0Z" fill="#fff" stroke="none"/>
<path d="M492.3 274.8C492.6 275.2 492.8 275.6 492.9 276.1C493.0 276.6 493.0 277.1 492.9 277.7C492.8 278.3 492.6 279.0 492.3 279.6C492.0 280.3 491.7 281.0 491.2 281.7C490.7 282.5 490.2 283.2 489.6 283.9C489.0 284.7 488.3 285.4 487.6 286.1C486.8 286.8 486.1 287.5 485.3 288.2C484.4 288.8 483.6 289.4 482.7 290.0C481.9 290.6 481.0 291.1 480.2 291.5C479.3 291.9 478.5 292.3 477.7 292.6C476.9 292.9 476.1 293.1 475.4 293.2C474.6 293.3 474.0 293.4 473.4 293.4C472.8 293.3 472.2 293.2 471.8 293.0C471.3 292.8 470.9 292.5 470.7 292.2C470.4 291.8 470.2 291.4 470.1 290.9C470.0 290.4 470.0 289.9 470.1 289.3C470.2 288.7 470.4 288.0 470.7 287.4C471.0 286.7 471.3 286.0 471.8 285.3C472.3 284.5 472.8 283.8 473.4 283.1C474.0 282.3 474.7 281.6 475.4 280.9C476.2 280.2 476.9 279.5 477.7 278.8C478.6 278.2 479.4 277.6 480.3 277.0C481.1 276.4 482.0 275.9 482.8 275.5C483.7 275.1 484.5 274.7 485.3 274.4C486.1 274.1 486.9 273.9 487.6 273.8C488.4 273.7 489.0 273.6 489.6 273.6C490.2 273.7 490.8 273.8 491.2 274.0C491.7 274.2 492.1 274.5 492.3 274.8Z" fill="#fff" stroke="none"/>
<path d="M436.8 286.7C437.2 285.6 437.2 284.7 439.3 283.6C441.4 282.5 446.5 280.6 449.2 279.9C451.9 279.2 453.5 279.2 455.4 279.2C457.3 279.2 459.8 279.1 460.4 279.9C461.0 280.7 460.4 283.0 459.1 284.2C457.9 285.4 455.2 286.4 452.9 287.3C450.6 288.2 447.6 289.1 445.5 289.8C443.4 290.5 441.9 291.5 440.5 291.6C439.1 291.7 437.4 291.2 436.8 290.4C436.2 289.6 436.4 287.8 436.8 286.7Z" fill="none" stroke="#3c3cf0" stroke-width="0.7"/>
<circle cx="459.5" cy="279.5" r="0.9" fill="none" stroke="#3c3cf0" stroke-width="0.6"/>
<path d="M439.3 310.9C443.6 307.8 443.4 305.5 445.5 303.4C447.6 301.3 450.1 299.1 451.7 298.5C453.3 297.9 454.0 298.9 455.4 299.7C456.8 300.5 459.1 301.3 459.8 303.4C460.5 305.5 459.8 309.0 459.8 312.1C459.8 315.2 460.6 319.0 459.8 322.0C459.0 325.0 458.3 328.3 455.0 330.0C451.7 331.7 445.0 332.2 440.0 332.0C435.0 331.8 428.3 330.7 425.0 329.0C421.7 327.3 417.6 325.0 420.0 322.0C422.4 319.0 435.1 314.0 439.3 310.9Z" fill="none" stroke="#3c3cf0" stroke-width="0.7"/>
<path d="M451.4 323.6C451.5 324.1 451.4 324.5 451.2 325.0C451.0 325.5 450.7 325.9 450.3 326.4C449.9 326.8 449.4 327.3 448.8 327.7C448.2 328.1 447.5 328.5 446.7 328.9C446.0 329.2 445.1 329.5 444.2 329.8C443.3 330.1 442.4 330.3 441.4 330.5C440.4 330.7 439.4 330.9 438.4 331.0C437.4 331.0 436.3 331.1 435.3 331.1C434.4 331.0 433.4 331.0 432.4 330.9C431.5 330.7 430.6 330.6 429.8 330.4C429.0 330.1 428.2 329.9 427.6 329.6C426.9 329.3 426.3 328.9 425.8 328.5C425.4 328.2 425.0 327.8 424.7 327.3C424.4 326.9 424.3 326.4 424.3 326.0C424.2 325.5 424.3 325.1 424.5 324.6C424.7 324.1 425.0 323.7 425.4 323.2C425.8 322.8 426.3 322.3 426.9 321.9C427.5 321.5 428.2 321.1 429.0 320.7C429.7 320.4 430.6 320.1 431.5 319.8C432.4 319.5 433.3 319.3 434.3 319.1C435.3 318.9 436.3 318.7 437.3 318.6C438.3 318.6 439.4 318.5 440.4 318.5C441.3 318.6 442.3 318.6 443.3 318.7C444.2 318.9 445.1 319.0 445.9 319.2C446.7 319.5 447.5 319.7 448.1 320.0C448.8 320.3 449.4 320.7 449.9 321.1C450.3 321.4 450.7 321.8 451.0 322.3C451.3 322.7 451.4 323.2 451.4 323.6Z" fill="#c8f3ff" stroke="#6fbcff" stroke-width="0.5"/>
<path d="M449.9 323.8C449.9 324.2 449.8 324.6 449.7 325.0C449.5 325.4 449.2 325.8 448.9 326.2C448.5 326.6 448.1 327.0 447.5 327.3C447.0 327.7 446.4 328.1 445.7 328.4C445.1 328.7 444.3 329.0 443.5 329.2C442.7 329.5 441.9 329.7 441.0 329.8C440.2 330.0 439.3 330.1 438.4 330.2C437.5 330.3 436.6 330.3 435.7 330.3C434.9 330.3 434.0 330.2 433.2 330.1C432.4 330.0 431.6 329.9 430.9 329.7C430.2 329.5 429.5 329.2 428.9 329.0C428.3 328.7 427.8 328.4 427.4 328.1C427.0 327.8 426.6 327.4 426.4 327.0C426.2 326.6 426.0 326.2 426.0 325.8C426.0 325.4 426.0 325.0 426.2 324.6C426.4 324.2 426.6 323.8 427.0 323.4C427.3 323.0 427.8 322.6 428.3 322.3C428.8 321.9 429.5 321.5 430.1 321.2C430.8 320.9 431.5 320.6 432.3 320.4C433.1 320.1 434.0 319.9 434.8 319.8C435.7 319.6 436.6 319.5 437.5 319.4C438.3 319.3 439.3 319.3 440.1 319.3C441.0 319.3 441.9 319.4 442.7 319.5C443.5 319.6 444.3 319.7 445.0 319.9C445.7 320.1 446.4 320.4 447.0 320.6C447.5 320.9 448.1 321.2 448.5 321.5C448.9 321.8 449.2 322.2 449.5 322.6C449.7 323.0 449.8 323.4 449.9 323.8Z" fill="#8ee6f6" stroke="none"/>
<path d="M458.4 323.0C458.5 323.7 458.4 324.4 458.1 325.1C457.8 325.8 457.3 326.6 456.7 327.3C456.1 327.9 455.3 328.6 454.4 329.3C453.5 329.9 452.4 330.5 451.2 331.1C450.0 331.6 448.7 332.1 447.3 332.5C446.0 333.0 444.5 333.3 443.0 333.6C441.5 333.9 439.9 334.1 438.3 334.3C436.8 334.4 435.2 334.5 433.7 334.4C432.1 334.4 430.6 334.3 429.2 334.1C427.7 333.9 426.4 333.7 425.1 333.3C423.9 333.0 422.7 332.6 421.7 332.1C420.6 331.7 419.7 331.1 419.0 330.6C418.3 330.0 417.7 329.3 417.3 328.7C416.9 328.0 416.6 327.3 416.6 326.6C416.5 325.9 416.6 325.2 416.9 324.5C417.2 323.8 417.7 323.0 418.3 322.3C418.9 321.7 419.7 321.0 420.6 320.3C421.5 319.7 422.6 319.1 423.8 318.5C425.0 318.0 426.3 317.5 427.7 317.1C429.0 316.6 430.5 316.3 432.0 316.0C433.5 315.7 435.1 315.5 436.7 315.3C438.2 315.2 439.8 315.1 441.3 315.2C442.9 315.2 444.4 315.3 445.8 315.5C447.3 315.7 448.6 315.9 449.9 316.3C451.1 316.6 452.3 317.0 453.3 317.5C454.4 317.9 455.3 318.5 456.0 319.0C456.7 319.6 457.3 320.3 457.7 320.9C458.1 321.6 458.4 322.3 458.4 323.0Z" fill="none" stroke="#3434ee" stroke-width="0.8"/>
<path d="M455.6 323.2C455.7 323.8 455.6 324.5 455.3 325.1C455.1 325.7 454.7 326.3 454.2 326.9C453.6 327.5 452.9 328.1 452.2 328.6C451.4 329.2 450.4 329.7 449.4 330.2C448.4 330.6 447.3 331.1 446.1 331.4C444.9 331.8 443.6 332.1 442.3 332.4C441.0 332.6 439.7 332.8 438.4 332.9C437.0 333.1 435.6 333.1 434.3 333.1C433.0 333.1 431.7 333.0 430.5 332.8C429.3 332.7 428.1 332.4 427.0 332.1C425.9 331.9 424.9 331.5 424.0 331.1C423.1 330.7 422.4 330.2 421.7 329.7C421.1 329.3 420.6 328.7 420.3 328.1C419.9 327.6 419.7 327.0 419.6 326.4C419.6 325.8 419.7 325.1 419.9 324.5C420.2 323.9 420.6 323.3 421.1 322.7C421.7 322.1 422.3 321.5 423.1 321.0C423.9 320.4 424.9 319.9 425.9 319.4C426.9 319.0 428.0 318.5 429.2 318.2C430.4 317.8 431.7 317.5 432.9 317.2C434.2 317.0 435.6 316.8 436.9 316.7C438.3 316.5 439.6 316.5 440.9 316.5C442.3 316.5 443.6 316.6 444.8 316.8C446.0 316.9 447.2 317.2 448.3 317.5C449.4 317.7 450.4 318.1 451.3 318.5C452.1 318.9 452.9 319.4 453.5 319.9C454.2 320.3 454.7 320.9 455.0 321.5C455.4 322.0 455.6 322.6 455.6 323.2Z" fill="none" stroke="#4040f0" stroke-width="0.7"/>
<path d="M453.2 323.4C453.3 324.0 453.2 324.5 453.0 325.0C452.8 325.6 452.4 326.1 452.0 326.6C451.5 327.1 450.9 327.6 450.2 328.1C449.6 328.6 448.8 329.0 447.9 329.4C447.0 329.8 446.0 330.2 445.0 330.5C444.0 330.8 442.9 331.1 441.8 331.3C440.7 331.5 439.5 331.7 438.4 331.8C437.2 331.9 436.0 331.9 434.9 331.9C433.8 331.9 432.6 331.8 431.6 331.7C430.5 331.6 429.5 331.4 428.6 331.1C427.7 330.9 426.8 330.6 426.0 330.2C425.3 329.9 424.6 329.5 424.1 329.1C423.5 328.6 423.1 328.2 422.8 327.7C422.5 327.2 422.3 326.7 422.3 326.2C422.2 325.6 422.3 325.1 422.5 324.6C422.7 324.0 423.1 323.5 423.5 323.0C424.0 322.5 424.6 322.0 425.3 321.5C426.0 321.0 426.8 320.6 427.6 320.2C428.5 319.8 429.5 319.4 430.5 319.1C431.5 318.8 432.6 318.5 433.7 318.3C434.8 318.1 436.0 317.9 437.1 317.8C438.3 317.7 439.5 317.7 440.6 317.7C441.7 317.7 442.9 317.8 443.9 317.9C445.0 318.0 446.0 318.2 446.9 318.5C447.9 318.7 448.7 319.0 449.5 319.4C450.2 319.7 450.9 320.1 451.4 320.5C452.0 321.0 452.4 321.4 452.7 321.9C453.0 322.4 453.2 322.9 453.2 323.4Z" fill="none" stroke="#5066f4" stroke-width="0.6"/>
<path d="M448.5 323.9C448.5 324.2 448.4 324.6 448.3 325.0C448.1 325.3 447.9 325.7 447.6 326.0C447.3 326.4 446.9 326.7 446.4 327.0C446.0 327.4 445.4 327.7 444.8 327.9C444.3 328.2 443.6 328.5 442.9 328.7C442.2 328.9 441.5 329.1 440.7 329.2C440.0 329.4 439.2 329.5 438.4 329.5C437.6 329.6 436.8 329.6 436.1 329.6C435.3 329.6 434.5 329.6 433.8 329.5C433.1 329.4 432.4 329.2 431.8 329.1C431.2 328.9 430.6 328.7 430.1 328.5C429.6 328.2 429.1 328.0 428.8 327.7C428.4 327.4 428.1 327.1 427.9 326.7C427.7 326.4 427.6 326.1 427.5 325.7C427.5 325.4 427.6 325.0 427.7 324.6C427.9 324.3 428.1 323.9 428.4 323.6C428.7 323.2 429.1 322.9 429.6 322.6C430.0 322.2 430.6 321.9 431.2 321.7C431.7 321.4 432.4 321.1 433.1 320.9C433.8 320.7 434.5 320.5 435.3 320.4C436.0 320.2 436.8 320.1 437.6 320.1C438.4 320.0 439.2 320.0 439.9 320.0C440.7 320.0 441.5 320.0 442.2 320.1C442.9 320.2 443.6 320.4 444.2 320.5C444.8 320.7 445.4 320.9 445.9 321.1C446.4 321.4 446.9 321.6 447.2 321.9C447.6 322.2 447.9 322.5 448.1 322.9C448.3 323.2 448.4 323.5 448.5 323.9Z" fill="#8fe98a" stroke="none"/>
<path d="M447.3 324.0C447.3 324.3 447.2 324.6 447.1 324.9C447.0 325.3 446.8 325.6 446.5 325.9C446.2 326.2 445.9 326.5 445.5 326.8C445.1 327.0 444.6 327.3 444.1 327.6C443.6 327.8 443.0 328.0 442.4 328.2C441.8 328.4 441.1 328.6 440.5 328.7C439.8 328.8 439.1 328.9 438.4 329.0C437.7 329.0 437.0 329.0 436.4 329.0C435.7 329.0 435.0 329.0 434.4 328.9C433.8 328.8 433.2 328.7 432.6 328.6C432.1 328.4 431.5 328.2 431.1 328.0C430.6 327.8 430.2 327.6 429.9 327.3C429.6 327.1 429.3 326.8 429.2 326.5C429.0 326.2 428.9 325.9 428.9 325.6C428.8 325.3 428.9 325.0 429.0 324.7C429.1 324.3 429.3 324.0 429.6 323.7C429.9 323.4 430.2 323.1 430.6 322.8C431.0 322.6 431.5 322.3 432.0 322.0C432.6 321.8 433.1 321.6 433.7 321.4C434.3 321.2 435.0 321.0 435.7 320.9C436.3 320.8 437.0 320.7 437.7 320.6C438.4 320.6 439.1 320.6 439.8 320.6C440.4 320.6 441.1 320.6 441.7 320.7C442.4 320.8 443.0 320.9 443.5 321.0C444.1 321.2 444.6 321.4 445.0 321.6C445.5 321.8 445.9 322.0 446.2 322.3C446.5 322.5 446.8 322.8 447.0 323.1C447.1 323.4 447.2 323.7 447.3 324.0Z" fill="#4ade42" stroke="none"/>
<path d="M444.5 324.3C444.5 324.5 444.5 324.7 444.4 324.9C444.3 325.1 444.1 325.3 444.0 325.5C443.8 325.7 443.5 326.0 443.3 326.1C443.0 326.3 442.7 326.5 442.3 326.7C442.0 326.8 441.6 327.0 441.1 327.1C440.7 327.2 440.3 327.4 439.8 327.4C439.4 327.5 438.9 327.6 438.4 327.6C438.0 327.7 437.5 327.7 437.0 327.7C436.6 327.7 436.1 327.7 435.7 327.6C435.3 327.5 434.9 327.5 434.5 327.4C434.1 327.3 433.8 327.1 433.4 327.0C433.1 326.9 432.9 326.7 432.7 326.5C432.4 326.4 432.3 326.2 432.1 326.0C432.0 325.8 431.9 325.6 431.9 325.3C431.9 325.1 431.9 324.9 432.0 324.7C432.1 324.5 432.3 324.3 432.4 324.1C432.6 323.9 432.9 323.6 433.1 323.5C433.4 323.3 433.7 323.1 434.1 322.9C434.4 322.8 434.8 322.6 435.3 322.5C435.7 322.4 436.1 322.2 436.6 322.2C437.0 322.1 437.5 322.0 438.0 322.0C438.4 321.9 438.9 321.9 439.4 321.9C439.8 321.9 440.3 321.9 440.7 322.0C441.1 322.1 441.5 322.1 441.9 322.2C442.3 322.3 442.6 322.5 443.0 322.6C443.3 322.7 443.5 322.9 443.7 323.1C444.0 323.2 444.1 323.4 444.3 323.6C444.4 323.8 444.5 324.0 444.5 324.3Z" fill="#d2ea3c" stroke="none"/>
<path d="M443.1 324.4C443.1 324.5 443.1 324.7 443.0 324.9C442.9 325.0 442.8 325.2 442.7 325.4C442.5 325.5 442.4 325.7 442.2 325.8C441.9 326.0 441.7 326.1 441.4 326.2C441.1 326.4 440.8 326.5 440.5 326.6C440.2 326.7 439.9 326.8 439.5 326.8C439.2 326.9 438.8 326.9 438.5 327.0C438.1 327.0 437.7 327.0 437.4 327.0C437.0 327.0 436.7 327.0 436.4 326.9C436.0 326.9 435.7 326.8 435.4 326.8C435.1 326.7 434.9 326.6 434.6 326.5C434.4 326.4 434.2 326.3 434.0 326.1C433.8 326.0 433.7 325.8 433.6 325.7C433.5 325.5 433.5 325.4 433.5 325.2C433.4 325.1 433.5 324.9 433.5 324.7C433.6 324.6 433.7 324.4 433.9 324.2C434.0 324.1 434.2 323.9 434.4 323.8C434.6 323.6 434.9 323.5 435.1 323.4C435.4 323.2 435.7 323.1 436.0 323.0C436.3 322.9 436.7 322.8 437.0 322.8C437.4 322.7 437.7 322.7 438.1 322.6C438.4 322.6 438.8 322.6 439.2 322.6C439.5 322.6 439.9 322.6 440.2 322.7C440.5 322.7 440.8 322.8 441.1 322.8C441.4 322.9 441.7 323.0 441.9 323.1C442.1 323.2 442.4 323.3 442.5 323.5C442.7 323.6 442.8 323.8 442.9 323.9C443.0 324.1 443.1 324.2 443.1 324.4Z" fill="#ff4422" stroke="none"/>
<path d="M488.6 277.9C488.7 278.1 488.9 278.4 488.9 278.7C489.0 279.0 489.0 279.3 488.9 279.7C488.8 280.1 488.7 280.5 488.5 281.0C488.3 281.4 488.1 281.9 487.8 282.4C487.5 282.8 487.1 283.3 486.8 283.8C486.4 284.3 485.9 284.8 485.4 285.2C485.0 285.7 484.5 286.1 483.9 286.5C483.4 287.0 482.9 287.4 482.3 287.7C481.8 288.1 481.2 288.4 480.6 288.7C480.1 289.0 479.5 289.2 479.0 289.4C478.5 289.6 478.0 289.7 477.5 289.8C477.0 289.9 476.6 289.9 476.2 289.9C475.8 289.9 475.5 289.8 475.2 289.7C474.9 289.6 474.6 289.4 474.4 289.1C474.3 288.9 474.1 288.6 474.1 288.3C474.0 288.0 474.0 287.7 474.1 287.3C474.2 286.9 474.3 286.5 474.5 286.0C474.7 285.6 474.9 285.1 475.2 284.6C475.5 284.2 475.9 283.7 476.2 283.2C476.6 282.7 477.1 282.2 477.6 281.8C478.0 281.3 478.5 280.9 479.1 280.5C479.6 280.0 480.1 279.6 480.7 279.3C481.2 278.9 481.8 278.6 482.4 278.3C482.9 278.0 483.5 277.8 484.0 277.6C484.5 277.4 485.0 277.3 485.5 277.2C486.0 277.1 486.4 277.1 486.8 277.1C487.2 277.1 487.5 277.2 487.8 277.3C488.1 277.4 488.4 277.6 488.6 277.9Z" fill="#c8f3ff" stroke="#6fbcff" stroke-width="0.5"/>
<path d="M487.7 278.5C487.8 278.7 488.0 279.0 488.0 279.3C488.1 279.5 488.1 279.9 488.0 280.2C487.9 280.5 487.8 280.9 487.7 281.3C487.5 281.7 487.3 282.1 487.0 282.5C486.8 282.9 486.5 283.3 486.1 283.8C485.8 284.2 485.4 284.6 485.0 285.0C484.5 285.4 484.1 285.8 483.6 286.2C483.2 286.5 482.7 286.9 482.2 287.2C481.7 287.5 481.2 287.8 480.7 288.1C480.3 288.3 479.8 288.5 479.3 288.7C478.9 288.8 478.4 289.0 478.0 289.0C477.6 289.1 477.2 289.1 476.9 289.1C476.5 289.1 476.2 289.0 475.9 288.9C475.7 288.8 475.5 288.7 475.3 288.5C475.2 288.3 475.0 288.0 475.0 287.7C474.9 287.5 474.9 287.1 475.0 286.8C475.1 286.5 475.2 286.1 475.3 285.7C475.5 285.3 475.7 284.9 476.0 284.5C476.2 284.1 476.5 283.7 476.9 283.2C477.2 282.8 477.6 282.4 478.0 282.0C478.5 281.6 478.9 281.2 479.4 280.8C479.8 280.5 480.3 280.1 480.8 279.8C481.3 279.5 481.8 279.2 482.3 278.9C482.7 278.7 483.2 278.5 483.7 278.3C484.1 278.2 484.6 278.0 485.0 278.0C485.4 277.9 485.8 277.9 486.1 277.9C486.5 277.9 486.8 278.0 487.1 278.1C487.3 278.2 487.5 278.3 487.7 278.5Z" fill="#8ee6f6" stroke="none"/>
<path d="M492.3 274.8C492.6 275.2 492.8 275.6 492.9 276.1C493.0 276.6 493.0 277.1 492.9 277.7C492.8 278.3 492.6 279.0 492.3 279.6C492.0 280.3 491.7 281.0 491.2 281.7C490.7 282.5 490.2 283.2 489.6 283.9C489.0 284.7 488.3 285.4 487.6 286.1C486.8 286.8 486.1 287.5 485.3 288.2C484.4 288.8 483.6 289.4 482.7 290.0C481.9 290.6 481.0 291.1 480.2 291.5C479.3 291.9 478.5 292.3 477.7 292.6C476.9 292.9 476.1 293.1 475.4 293.2C474.6 293.3 474.0 293.4 473.4 293.4C472.8 293.3 472.2 293.2 471.8 293.0C471.3 292.8 470.9 292.5 470.7 292.2C470.4 291.8 470.2 291.4 470.1 290.9C470.0 290.4 470.0 289.9 470.1 289.3C470.2 288.7 470.4 288.0 470.7 287.4C471.0 286.7 471.3 286.0 471.8 285.3C472.3 284.5 472.8 283.8 473.4 283.1C474.0 282.3 474.7 281.6 475.4 280.9C476.2 280.2 476.9 279.5 477.7 278.8C478.6 278.2 479.4 277.6 480.3 277.0C481.1 276.4 482.0 275.9 482.8 275.5C483.7 275.1 484.5 274.7 485.3 274.4C486.1 274.1 486.9 273.9 487.6 273.8C488.4 273.7 489.0 273.6 489.6 273.6C490.2 273.7 490.8 273.8 491.2 274.0C491.7 274.2 492.1 274.5 492.3 274.8Z" fill="none" stroke="#3434ee" stroke-width="0.8"/>
<path d="M490.8 276.0C491.1 276.3 491.2 276.7 491.3 277.1C491.4 277.5 491.4 278.0 491.3 278.5C491.2 279.0 491.0 279.6 490.8 280.2C490.6 280.7 490.2 281.4 489.8 282.0C489.4 282.6 489.0 283.3 488.5 283.9C487.9 284.5 487.3 285.2 486.7 285.8C486.1 286.4 485.4 287.0 484.7 287.5C484.0 288.1 483.3 288.6 482.6 289.1C481.8 289.6 481.1 290.0 480.4 290.4C479.6 290.7 478.9 291.1 478.2 291.3C477.5 291.6 476.8 291.7 476.2 291.9C475.6 292.0 475.0 292.0 474.5 292.0C474.0 292.0 473.5 291.9 473.1 291.7C472.7 291.5 472.4 291.3 472.2 291.0C471.9 290.7 471.8 290.3 471.7 289.9C471.6 289.5 471.6 289.0 471.7 288.5C471.8 288.0 472.0 287.4 472.2 286.8C472.4 286.3 472.8 285.6 473.2 285.0C473.6 284.4 474.0 283.7 474.5 283.1C475.1 282.5 475.7 281.8 476.3 281.2C476.9 280.6 477.6 280.0 478.3 279.5C479.0 278.9 479.7 278.4 480.4 277.9C481.2 277.4 481.9 277.0 482.6 276.6C483.4 276.3 484.1 275.9 484.8 275.7C485.5 275.4 486.2 275.3 486.8 275.1C487.4 275.0 488.0 275.0 488.5 275.0C489.0 275.0 489.5 275.1 489.9 275.3C490.3 275.5 490.6 275.7 490.8 276.0Z" fill="none" stroke="#4040f0" stroke-width="0.7"/>
<path d="M489.5 277.1C489.7 277.3 489.9 277.6 489.9 278.0C490.0 278.4 490.0 278.8 489.9 279.2C489.9 279.6 489.7 280.1 489.5 280.6C489.3 281.1 489.0 281.7 488.7 282.2C488.3 282.7 487.9 283.3 487.5 283.8C487.0 284.4 486.5 284.9 486.0 285.4C485.5 286.0 484.9 286.5 484.3 287.0C483.7 287.4 483.0 287.9 482.4 288.3C481.8 288.7 481.1 289.1 480.5 289.4C479.9 289.7 479.3 290.0 478.7 290.2C478.1 290.4 477.5 290.6 477.0 290.7C476.4 290.8 475.9 290.8 475.5 290.8C475.0 290.8 474.6 290.7 474.3 290.5C474.0 290.4 473.7 290.2 473.5 289.9C473.3 289.7 473.1 289.4 473.1 289.0C473.0 288.6 473.0 288.2 473.1 287.8C473.1 287.4 473.3 286.9 473.5 286.4C473.7 285.9 474.0 285.3 474.3 284.8C474.7 284.3 475.1 283.7 475.5 283.2C476.0 282.6 476.5 282.1 477.0 281.6C477.5 281.0 478.1 280.5 478.7 280.0C479.3 279.6 480.0 279.1 480.6 278.7C481.2 278.3 481.9 277.9 482.5 277.6C483.1 277.3 483.7 277.0 484.3 276.8C484.9 276.6 485.5 276.4 486.0 276.3C486.6 276.2 487.1 276.2 487.5 276.2C488.0 276.2 488.4 276.3 488.7 276.5C489.0 276.6 489.3 276.8 489.5 277.1Z" fill="none" stroke="#5066f4" stroke-width="0.6"/>
<path d="M486.1 279.8C486.2 280.0 486.3 280.2 486.3 280.4C486.3 280.6 486.3 280.8 486.3 281.1C486.2 281.3 486.2 281.6 486.0 281.9C485.9 282.2 485.8 282.5 485.6 282.8C485.4 283.1 485.2 283.4 484.9 283.7C484.6 284.0 484.4 284.3 484.0 284.6C483.7 284.9 483.4 285.2 483.1 285.5C482.7 285.7 482.4 286.0 482.0 286.2C481.7 286.5 481.3 286.7 480.9 286.9C480.6 287.0 480.2 287.2 479.9 287.3C479.6 287.4 479.2 287.5 478.9 287.6C478.6 287.6 478.3 287.7 478.1 287.6C477.8 287.6 477.6 287.6 477.4 287.5C477.2 287.4 477.1 287.3 476.9 287.2C476.8 287.0 476.7 286.8 476.7 286.6C476.7 286.4 476.7 286.2 476.7 285.9C476.8 285.7 476.8 285.4 477.0 285.1C477.1 284.8 477.2 284.5 477.4 284.2C477.6 283.9 477.8 283.6 478.1 283.3C478.4 283.0 478.6 282.7 479.0 282.4C479.3 282.1 479.6 281.8 479.9 281.5C480.3 281.3 480.6 281.0 481.0 280.8C481.3 280.5 481.7 280.3 482.1 280.1C482.4 280.0 482.8 279.8 483.1 279.7C483.4 279.6 483.8 279.5 484.1 279.4C484.4 279.4 484.7 279.3 484.9 279.4C485.2 279.4 485.4 279.4 485.6 279.5C485.8 279.6 485.9 279.7 486.1 279.8Z" fill="#d2faff" stroke="none"/>
<path d="M484.2 281.3C484.3 281.4 484.3 281.5 484.4 281.6C484.4 281.8 484.4 281.9 484.4 282.1C484.3 282.2 484.3 282.4 484.2 282.5C484.1 282.7 484.0 282.9 483.9 283.1C483.8 283.2 483.7 283.4 483.5 283.6C483.4 283.8 483.2 284.0 483.0 284.2C482.8 284.3 482.6 284.5 482.4 284.7C482.2 284.8 482.0 285.0 481.8 285.1C481.6 285.3 481.4 285.4 481.2 285.5C481.0 285.6 480.7 285.7 480.5 285.8C480.3 285.8 480.1 285.9 480.0 285.9C479.8 286.0 479.6 286.0 479.5 286.0C479.3 286.0 479.2 285.9 479.1 285.9C479.0 285.8 478.9 285.8 478.8 285.7C478.7 285.6 478.7 285.5 478.6 285.4C478.6 285.2 478.6 285.1 478.6 284.9C478.7 284.8 478.7 284.6 478.8 284.5C478.9 284.3 479.0 284.1 479.1 283.9C479.2 283.8 479.3 283.6 479.5 283.4C479.6 283.2 479.8 283.0 480.0 282.8C480.2 282.7 480.4 282.5 480.6 282.3C480.8 282.2 481.0 282.0 481.2 281.9C481.4 281.7 481.6 281.6 481.8 281.5C482.0 281.4 482.3 281.3 482.5 281.2C482.7 281.2 482.9 281.1 483.0 281.1C483.2 281.0 483.4 281.0 483.5 281.0C483.7 281.0 483.8 281.1 483.9 281.1C484.0 281.2 484.1 281.2 484.2 281.3Z" fill="#f2feff" stroke="none"/>
<path d="M431.9 284.2L436.8 274.9L448.0 270.2L457.9 270.5L464.1 280.5L459.8 291.0L448.0 294.1L439.3 292.5Z" fill="none" stroke="#f05050" stroke-width="0.75" stroke-linejoin="round"/>
<text x="431.9" y="267.4" font-size="5.3" fill="#f11" stroke="#f22" stroke-width="0.18">P6(5.26%)</text>
<rect x="410.5" y="350.5" width="98.0" height="98.0" fill="none" stroke="#666" stroke-width="1"/>
<path d="M410.5 353.5h1.5M410.5 356.8h1.5M410.5 360.1h1.5M410.5 363.4h1.5M410.5 366.7h1.5M410.5 370.0h1.5M410.5 373.3h1.5M410.5 376.6h1.5M410.5 379.9h1.5M410.5 383.2h1.5M410.5 386.5h1.5M410.5 389.8h1.5M410.5 393.1h1.5M410.5 396.4h1.5M410.5 399.7h1.5M410.5 403.0h1.5M410.5 406.3h1.5M410.5 409.6h1.5M410.5 412.9h1.5M410.5 416.2h1.5M410.5 419.5h1.5M410.5 422.8h1.5M410.5 426.1h1.5M410.5 429.4h1.5M410.5 432.7h1.5M410.5 436.0h1.5M410.5 439.3h1.5M410.5 442.6h1.5M410.5 445.9h1.5M414.5 448.5v-1.3M418.9 448.5v-1.3M423.3 448.5v-1.3M427.7 448.5v-1.3M432.1 448.5v-1.3M436.5 448.5v-1.3M440.9 448.5v-1.3M445.3 448.5v-1.3M449.7 448.5v-1.3M454.1 448.5v-1.3M458.5 448.5v-1.3M462.9 448.5v-1.3M467.3 448.5v-1.3M471.7 448.5v-1.3M476.1 448.5v-1.3M480.5 448.5v-1.3M484.9 448.5v-1.3M489.3 448.5v-1.3M493.7 448.5v-1.3M498.1 448.5v-1.3M502.5 448.5v-1.3M506.9 448.5v-1.3" stroke="#999" stroke-width="0.6" fill="none"/>
<path d="M414 380.5h1m0-5h1m-1 10h1m-1 16h1m0-40h1m-1 39h1m-1 27h1m0-26h1m-1 3h1m0-11h1m0-10h1m-1 27h1m0-42h1m-1 19h1m-1 33h1m-1 3h1m0-50h1m-1 7h1m-1 36h1m0-3h1m-1 27h1m0-73h1m-1 5h1m-1 22h1m0 2h1m-1 3h1m-1 5h1m-1 17h1m0-45h1m-1 41h1m-1 8h1m-1 10h1m0-38h1m-1 3h1m-1 26h1m0-50h1m-1 23h1m-1 27h1m0-59h1m-1 8h1m0 6h1m-1 36h1m-1 25h1m0-49h1m-1 11h1m0-9h1m0 10h1m-1 6h1m0-41h1m-1 12h1m-1 23h1m0-33h1m-1 10h1m-1 6h1m0-5h1m-1 16h1m-1 3h1m-1 12h1m-1 2h1m0-27h1m-1 29h1m-1 24h1m0-89h1m-1 28h1m-1 4h1m-1 7h1m0 13h1m-1 2h1m-1 12h1m-1 21h1m0-76h1m-1 21h1m-1 3h1m-1 32h1m0-67h1m-1 67h1m0-58h1m-1 12h1m-1 4h1m-1 3h1m-1 3h1m-1 14h1m-1 11h1m-1 16h1m-1 5h1m-1 9h1m0-81h1m-1 35h1m-1 13h1m-1 8h1m-1 22h1m0-28h1m-1 4h1m0-33h1m-1 9h1m0-20h1m-1 15h1m-1 13h1m-1 1h1m-1 13h1m-1 13h1m0-16h1m-1 6h1m-1 27h1m0-59h1m-1 17h1m-1 5h1m-1 4h1m-1 5h1m0-37h1m-1 17h1m-1 3h1m-1 18h1m-1 2h1m-1 2h1m-1 1h1m-1 23h1m0-80h1m-1 30h1m-1 13h1m-1 4h1m-1 27h1m0-74h1m-1 19h1m-1 50h1m0-79h1m-1 14h1m-1 8h1m-1 38h1m-1 18h1m0-65h1m-1 8h1m-1 23h1m-1 9h1m-1 1h1m0-16h1m-1 6h1m-1 2h1m-1 5h1m0-14h1m-1 27h1m-1 11h1m-1 11h1m0-66h1m-1 1h1m-1 15h1m-1 53h1m-1 5h1m0-78h1m-1 17h1m-1 5h1m-1 24h1m-1 9h1m0-55h1m-1 18h1m-1 3h1m-1 9h1m-1 28h1m-1 11h1m-1 9h1m0-62h1m-1 2h1m-1 1h1m0-12h1m-1 5h1m-1 13h1m-1 2h1m-1 14h1m-1 2h1m-1 23h1m0-56h1m-1 41h1m-1 9h1m0-55h1m-1 6h1m-1 6h1m-1 20h1m-1 7h1m0-31h1m-1 11h1m-1 5h1m-1 23h1m-1 21h1m0-57h1m-1 17h1m-1 3h1m0 31h1m0-71h1m-1 33h1m-1 7h1m-1 8h1m-1 36h1m0-92h1m-1 48h1m-1 8h1m0-32h1m-1 19h1m-1 19h1m-1 6h1m-1 7h1m-1 3h1m0-74h1m-1 28h1m-1 16h1m-1 14h1m-1 1h1m0-7h1m-1 6h1m-1 5h1m0-35h1m-1 12h1m-1 13h1m-1 6h1m-1 15h1m0-43h1m-1 6h1m-1 19h1m0-55h1m-1 8h1m-1 4h1m-1 16h1m-1 50h1m0-68h1m-1 1h1m-1 7h1m-1 8h1m-1 6h1m-1 1h1m-1 8h1m-1 7h1m0-45h1m-1 7h1m-1 7h1m-1 26h1m-1 10h1m0-39h1m-1 7h1m-1 2h1m-1 3h1m-1 12h1m-1 7h1m-1 16h1m0-61h1m-1 11h1m-1 12h1m-1 21h1m0-44h1m-1 1h1m-1 4h1m-1 7h1m0 20h1m-1 22h1m0-44h1m-1 42h1m-1 27h1m0-81h1m-1 14h1m-1 1h1m-1 1h1m-1 33h1m-1 17h1m-1 5h1m-1 6h1m0-62h1m-1 53h1m0-60h1m-1 2h1m-1 17h1m-1 6h1m-1 2h1m-1 33h1m-1 3h1m0-78h1m-1 11h1m-1 51h1m0-38h1m-1 21h1m-1 13h1m-1 3h1m-1 3h1m0-63h1m-1 1h1m-1 18h1m-1 2h1m-1 46h1m0-45h1m0-20h1m-1 10h1m0 4h1m-1 22h1m0-22h1m-1 10h1m-1 1h1m-1 34h1m0-50h1m-1 3h1m0-11h1m-1 8h1m-1 4h1m-1 1h1m-1 4h1m-1 19h1m-1 18h1m0-48h1m-1 13h1m-1 2h1m-1 22h1m0-6h1m0-36h1m-1 29h1m-1 4h1m-1 14h1m0-20h1m-1 7h1m-1 14h1m0-34h1m-1 14h1m-1 28h1m0-48h1m0 38h1m-1 25h1m0-45h1m-1 4h1m-1 23h1m-1 21h1m0-77h1m-1 33h1m0-17h1m-1 27h1m-1 12h1m-1 7h1m-1 3h1m-1 6h1m0-25h1m-1 28h1m0-59h1m-1 21h1m-1 2h1m-1 12h1m-1 13h1m0 1h1m0-15h1m-1 21h1m0-60h1" stroke="#444" stroke-width="1" opacity="0.78" fill="none" filter="url(#sb)"/>
<path d="M411 360.5h1m0 22h1m0 35h1m-1 6h1m0-59h1m0 5h1m1 15h1m-1 20h1m0-11h1m0-15h1m0-8h1m-1 63h1m-1 6h1m0-62h1m-1 25h1m0-41h1m0 52h1m-1 32h1m0-87h1m-1 5h1m-1 53h1m-1 4h1m0-30h1m-1 6h1m0-8h1m-1 6h1m-1 3h1m-1 20h1m0-35h1m0-10h1m-1 8h1m-1 4h1m0-22h1m-1 41h1m-1 2h1m-1 8h1m-1 1h1m-1 27h1m0-65h1m-1 11h1m-1 9h1m0-10h1m-1 12h1m-1 38h1m0-14h1m-1 6h1m-1 6h1m0-56h1m-1 6h1m-1 22h1m0-55h1m-1 14h1m-1 44h1m-1 21h1m0-56h1m-1 25h1m-1 1h1m-1 8h1m0-5h1m-1 21h1m-1 5h1m0-72h1m-1 61h1m-1 20h1m0-55h1m-1 1h1m-1 2h1m-1 5h1m-1 23h1m-1 16h1m-1 13h1m-1 3h1m0-93h1m-1 48h1m-1 32h1m0-45h1m-1 7h1m-1 14h1m0-44h1m-1 8h1m-1 11h1m-1 9h1m-1 11h1m0-53h1m-1 9h1m-1 57h1m0-40h1m-1 11h1m0-2h1m-1 14h1m-1 3h1m-1 7h1m-1 10h1m0-6h1m-1 2h1m-1 1h1m-1 7h1m-1 5h1m-1 2h1m0-62h1m-1 5h1m-1 6h1m-1 30h1m-1 22h1m0-81h1m-1 81h1m-1 3h1m0-26h1m-1 4h1m0-18h1m-1 24h1m0-39h1m-1 8h1m-1 2h1m-1 36h1m0-19h1m-1 14h1m0-34h1m-1 58h1m0-92h1m-1 90h1m0-73h1m-1 21h1m-1 14h1m-1 25h1m-1 12h1m0-80h1m-1 35h1m-1 9h1m-1 23h1m0-64h1m-1 24h1m-1 8h1m0-1h1m-1 2h1m-1 2h1m-1 34h1m-1 5h1m0-78h1m-1 6h1m-1 41h1m-1 2h1m-1 15h1m-1 17h1m0-84h1m-1 9h1m-1 13h1m-1 9h1m-1 11h1m-1 26h1m0-55h1m-1 18h1m-1 35h1m-1 16h1m0-83h1m-1 1h1m-1 34h1m-1 8h1m-1 25h1m-1 2h1m-1 7h1m0-59h1m-1 9h1m-1 2h1m-1 2h1m-1 8h1m-1 8h1m-1 15h1m-1 20h1m0-44h1m-1 11h1m-1 10h1m0-49h1m-1 1h1m-1 21h1m-1 32h1m-1 2h1m-1 9h1m0-63h1m-1 1h1m-1 20h1m-1 17h1m-1 5h1m-1 16h1m0-75h1m-1 1h1m-1 17h1m-1 3h1m-1 15h1m-1 15h1m-1 14h1m-1 4h1m0-60h1m-1 6h1m-1 11h1m-1 39h1m-1 7h1m0-73h1m-1 48h1m-1 14h1m-1 4h1m-1 22h1m0-63h1m-1 35h1m0-33h1m-1 27h1m-1 39h1m0-91h1m-1 1h1m-1 13h1m-1 2h1m-1 54h1m0-57h1m-1 3h1m-1 1h1m-1 8h1m-1 3h1m-1 12h1m-1 19h1m-1 7h1m-1 16h1m0-84h1m-1 7h1m-1 7h1m-1 3h1m-1 2h1m-1 4h1m-1 25h1m0-47h1m-1 9h1m-1 4h1m-1 1h1m-1 7h1m-1 4h1m-1 7h1m-1 1h1m-1 5h1m-1 11h1m-1 19h1m-1 6h1m-1 5h1m0-74h1m-1 6h1m-1 19h1m-1 4h1m-1 12h1m-1 12h1m-1 15h1m0-69h1m-1 6h1m-1 9h1m-1 13h1m-1 16h1m-1 3h1m-1 16h1m-1 3h1m0-42h1m0 16h1m-1 11h1m-1 28h1m-1 8h1m0-81h1m-1 5h1m-1 1h1m-1 23h1m-1 9h1m-1 34h1m0-58h1m-1 1h1m-1 42h1m-1 4h1m-1 21h1m0-80h1m-1 2h1m-1 16h1m-1 3h1m0-15h1m-1 5h1m0-22h1m-1 7h1m-1 7h1m-1 13h1m-1 4h1m-1 19h1m-1 12h1m0-49h1m-1 9h1m-1 5h1m0-14h1m-1 69h1m0-77h1m-1 9h1m0 4h1m-1 30h1m-1 22h1m0-26h1m-1 2h1m-1 9h1m0-37h1m-1 12h1m-1 4h1m-1 5h1m1-34h1m-1 2h1m-1 16h1m-1 32h1m-1 20h1m0-68h1m-1 7h1m-1 6h1m-1 35h1m0-37h1m-1 16h1m-1 14h1m0-49h1m-1 58h1m0-44h1m0-11h1m-1 2h1m-1 9h1m-1 2h1m-1 20h1m-1 28h1m-1 2h1m-1 21h1m0-74h1m0 8h1m0 11h1m-1 41h1m0-32h1m0-32h1m0 8h1m-1 6h1m-1 41h1m-1 2h1m0-54h1m-1 26h1m-1 51h1m0-80h1m-1 3h1m-1 33h1m-1 7h1m0-33h1m0-16h1m-1 55h1m0-31h1" stroke="#444" stroke-width="1" opacity="0.42" fill="none" filter="url(#sb)"/>
<path d="M438.7 388.5C439.3 386.9 440.8 383.3 443.0 381.1C445.2 378.9 448.6 376.8 451.7 375.5C454.8 374.2 459.0 373.7 461.6 373.6C464.2 373.5 465.9 374.2 467.2 374.9C468.5 375.6 469.6 376.6 469.7 378.0C469.8 379.4 468.9 382.4 467.8 383.6C466.7 384.8 464.8 385.0 462.9 385.4C461.0 385.8 458.8 385.5 456.7 386.1C454.6 386.7 452.4 388.4 450.5 389.2C448.6 390.0 447.4 390.8 445.5 391.0C443.6 391.2 440.4 390.8 439.3 390.4C438.2 390.0 438.1 390.1 438.7 388.5Z" fill="#fff" stroke="none"/>
<path d="M413.2 427.6C413.6 425.7 416.3 424.6 419.4 422.0C422.5 419.4 428.4 415.4 431.9 412.1C435.4 408.8 438.4 404.5 440.5 402.2C442.6 399.9 442.0 399.4 444.3 398.5C446.6 397.6 451.6 396.6 454.2 396.6C456.8 396.6 458.4 396.8 459.8 398.5C461.2 400.2 462.3 404.0 462.9 407.1C463.5 410.2 463.9 413.4 463.5 417.1C463.1 420.8 462.2 426.4 460.4 429.5C458.6 432.6 456.4 434.1 452.9 435.7C449.4 437.2 443.6 438.4 439.3 438.8C435.0 439.2 430.6 439.1 426.9 438.2C423.2 437.3 419.3 435.0 417.0 433.2C414.7 431.4 412.8 429.5 413.2 427.6Z" fill="#fff" stroke="none"/>
<path d="M419.4 425.8C420.4 423.1 427.1 421.0 430.6 418.3C434.1 415.6 437.6 411.8 440.5 409.6C443.4 407.4 445.5 405.8 448.0 405.3C450.5 404.8 453.8 405.4 455.4 406.5C457.0 407.6 457.5 409.5 457.9 412.1C458.3 414.7 458.5 419.1 457.9 422.0C457.3 424.9 456.1 427.4 454.2 429.5C452.3 431.6 450.0 433.2 446.7 434.4C443.4 435.6 438.0 436.9 434.3 436.9C430.6 436.9 426.9 436.2 424.4 434.4C421.9 432.5 418.4 428.5 419.4 425.8Z" fill="#fff" stroke="none"/>
<path d="M452.7 427.5C452.8 428.2 452.7 428.9 452.5 429.5C452.3 430.2 452.0 430.9 451.5 431.5C451.0 432.2 450.4 432.8 449.8 433.4C449.1 434.0 448.2 434.5 447.4 435.0C446.5 435.5 445.5 436.0 444.4 436.4C443.4 436.8 442.3 437.1 441.1 437.3C440.0 437.6 438.8 437.8 437.6 437.9C436.4 438.0 435.2 438.0 434.0 438.0C432.9 437.9 431.7 437.8 430.6 437.6C429.5 437.4 428.4 437.1 427.5 436.8C426.5 436.4 425.6 436.0 424.8 435.6C424.0 435.1 423.3 434.6 422.8 434.0C422.2 433.5 421.8 432.9 421.4 432.3C421.1 431.6 420.9 431.0 420.9 430.3C420.8 429.6 420.9 428.9 421.1 428.3C421.3 427.6 421.6 426.9 422.1 426.3C422.6 425.6 423.2 425.0 423.8 424.4C424.5 423.8 425.4 423.3 426.2 422.8C427.1 422.3 428.1 421.8 429.2 421.4C430.2 421.0 431.3 420.7 432.5 420.5C433.6 420.2 434.8 420.0 436.0 419.9C437.2 419.8 438.4 419.8 439.6 419.8C440.7 419.9 441.9 420.0 443.0 420.2C444.1 420.4 445.2 420.7 446.1 421.0C447.1 421.4 448.0 421.8 448.8 422.2C449.6 422.7 450.3 423.2 450.8 423.8C451.4 424.3 451.8 424.9 452.2 425.5C452.5 426.2 452.7 426.8 452.7 427.5Z" fill="#fff" stroke="none"/>
<path d="M489.3 376.0C489.6 376.4 489.7 376.8 489.8 377.2C489.8 377.7 489.8 378.2 489.7 378.7C489.5 379.3 489.3 379.9 489.0 380.5C488.7 381.1 488.3 381.7 487.8 382.4C487.3 383.0 486.8 383.7 486.2 384.3C485.6 385.0 484.9 385.6 484.1 386.2C483.4 386.8 482.6 387.5 481.9 388.0C481.1 388.6 480.2 389.1 479.4 389.6C478.6 390.0 477.7 390.4 476.9 390.8C476.1 391.1 475.3 391.4 474.5 391.7C473.8 391.9 473.0 392.1 472.3 392.1C471.7 392.2 471.0 392.2 470.5 392.2C469.9 392.1 469.4 392.0 469.0 391.8C468.6 391.6 468.3 391.3 468.1 391.0C467.8 390.6 467.7 390.2 467.6 389.8C467.6 389.3 467.6 388.8 467.7 388.3C467.9 387.7 468.1 387.1 468.4 386.5C468.7 385.9 469.1 385.3 469.6 384.6C470.1 384.0 470.6 383.3 471.2 382.7C471.8 382.0 472.5 381.4 473.3 380.8C474.0 380.2 474.8 379.5 475.5 379.0C476.3 378.4 477.2 377.9 478.0 377.4C478.8 377.0 479.7 376.6 480.5 376.2C481.3 375.9 482.1 375.6 482.9 375.3C483.6 375.1 484.4 374.9 485.1 374.9C485.7 374.8 486.4 374.8 486.9 374.8C487.5 374.9 488.0 375.0 488.4 375.2C488.8 375.4 489.1 375.7 489.3 376.0Z" fill="#fff" stroke="none"/>
<path d="M438.7 388.5C439.3 386.9 440.8 383.3 443.0 381.1C445.2 378.9 448.6 376.8 451.7 375.5C454.8 374.2 459.0 373.7 461.6 373.6C464.2 373.5 465.9 374.2 467.2 374.9C468.5 375.6 469.6 376.6 469.7 378.0C469.8 379.4 468.9 382.4 467.8 383.6C466.7 384.8 464.8 385.0 462.9 385.4C461.0 385.8 458.8 385.5 456.7 386.1C454.6 386.7 452.4 388.4 450.5 389.2C448.6 390.0 447.4 390.8 445.5 391.0C443.6 391.2 440.4 390.8 439.3 390.4C438.2 390.0 438.1 390.1 438.7 388.5Z" fill="none" stroke="#3c3cf0" stroke-width="0.7"/>
<line x1="453.5" y1="378.4" x2="457.5" y2="378.4" stroke="#3c3cf0" stroke-width="0.9"/>
<line x1="465" y1="381.5" x2="469" y2="381.5" stroke="#3c3cf0" stroke-width="0.9"/>
<path d="M413.2 427.6C413.6 425.7 416.3 424.6 419.4 422.0C422.5 419.4 428.4 415.4 431.9 412.1C435.4 408.8 438.4 404.5 440.5 402.2C442.6 399.9 442.0 399.4 444.3 398.5C446.6 397.6 451.6 396.6 454.2 396.6C456.8 396.6 458.4 396.8 459.8 398.5C461.2 400.2 462.3 404.0 462.9 407.1C463.5 410.2 463.9 413.4 463.5 417.1C463.1 420.8 462.2 426.4 460.4 429.5C458.6 432.6 456.4 434.1 452.9 435.7C449.4 437.2 443.6 438.4 439.3 438.8C435.0 439.2 430.6 439.1 426.9 438.2C423.2 437.3 419.3 435.0 417.0 433.2C414.7 431.4 412.8 429.5 413.2 427.6Z" fill="none" stroke="#3c3cf0" stroke-width="0.7"/>
<path d="M419.4 425.8C420.4 423.1 427.1 421.0 430.6 418.3C434.1 415.6 437.6 411.8 440.5 409.6C443.4 407.4 445.5 405.8 448.0 405.3C450.5 404.8 453.8 405.4 455.4 406.5C457.0 407.6 457.5 409.5 457.9 412.1C458.3 414.7 458.5 419.1 457.9 422.0C457.3 424.9 456.1 427.4 454.2 429.5C452.3 431.6 450.0 433.2 446.7 434.4C443.4 435.6 438.0 436.9 434.3 436.9C430.6 436.9 426.9 436.2 424.4 434.4C421.9 432.5 418.4 428.5 419.4 425.8Z" fill="none" stroke="#3c3cf0" stroke-width="0.7"/>
<path d="M447.2 428.0C447.2 428.4 447.1 428.9 447.0 429.3C446.9 429.7 446.7 430.2 446.4 430.6C446.1 431.0 445.7 431.4 445.2 431.8C444.8 432.2 444.2 432.6 443.7 432.9C443.1 433.2 442.4 433.5 441.8 433.8C441.1 434.0 440.3 434.2 439.6 434.4C438.9 434.5 438.1 434.7 437.3 434.7C436.5 434.8 435.7 434.8 435.0 434.8C434.2 434.8 433.5 434.7 432.8 434.5C432.1 434.4 431.4 434.2 430.7 434.0C430.1 433.8 429.5 433.5 429.0 433.2C428.5 432.9 428.1 432.6 427.7 432.2C427.3 431.9 427.0 431.5 426.8 431.1C426.6 430.7 426.5 430.2 426.4 429.8C426.4 429.4 426.5 428.9 426.6 428.5C426.7 428.1 426.9 427.6 427.2 427.2C427.5 426.8 427.9 426.4 428.4 426.0C428.8 425.6 429.4 425.2 429.9 424.9C430.5 424.6 431.2 424.3 431.8 424.0C432.5 423.8 433.3 423.6 434.0 423.4C434.7 423.3 435.5 423.1 436.3 423.1C437.1 423.0 437.9 423.0 438.6 423.0C439.4 423.0 440.1 423.1 440.8 423.3C441.5 423.4 442.2 423.6 442.9 423.8C443.5 424.0 444.1 424.3 444.6 424.6C445.1 424.9 445.5 425.2 445.9 425.6C446.3 425.9 446.6 426.3 446.8 426.7C447.0 427.1 447.1 427.6 447.2 428.0Z" fill="#c8f3ff" stroke="#6fbcff" stroke-width="0.5"/>
<path d="M445.9 428.1C445.9 428.5 445.9 428.9 445.8 429.3C445.6 429.6 445.4 430.0 445.2 430.4C444.9 430.8 444.6 431.1 444.2 431.5C443.8 431.8 443.3 432.1 442.8 432.4C442.3 432.7 441.7 432.9 441.1 433.2C440.6 433.4 439.9 433.6 439.3 433.7C438.6 433.8 437.9 434.0 437.2 434.0C436.6 434.1 435.9 434.1 435.2 434.1C434.5 434.0 433.9 434.0 433.3 433.8C432.6 433.7 432.0 433.6 431.5 433.4C430.9 433.2 430.4 433.0 430.0 432.7C429.5 432.4 429.1 432.1 428.8 431.8C428.5 431.5 428.2 431.2 428.0 430.8C427.9 430.5 427.7 430.1 427.7 429.7C427.7 429.3 427.7 428.9 427.8 428.5C428.0 428.2 428.2 427.8 428.4 427.4C428.7 427.0 429.0 426.7 429.4 426.3C429.8 426.0 430.3 425.7 430.8 425.4C431.3 425.1 431.9 424.9 432.5 424.6C433.0 424.4 433.7 424.2 434.3 424.1C435.0 424.0 435.7 423.8 436.4 423.8C437.0 423.7 437.7 423.7 438.4 423.7C439.1 423.8 439.7 423.8 440.3 424.0C441.0 424.1 441.6 424.2 442.1 424.4C442.7 424.6 443.2 424.8 443.6 425.1C444.1 425.4 444.5 425.7 444.8 426.0C445.1 426.3 445.4 426.6 445.6 427.0C445.7 427.3 445.9 427.7 445.9 428.1Z" fill="#8ee6f6" stroke="none"/>
<path d="M452.7 427.5C452.8 428.2 452.7 428.9 452.5 429.5C452.3 430.2 452.0 430.9 451.5 431.5C451.0 432.2 450.4 432.8 449.8 433.4C449.1 434.0 448.2 434.5 447.4 435.0C446.5 435.5 445.5 436.0 444.4 436.4C443.4 436.8 442.3 437.1 441.1 437.3C440.0 437.6 438.8 437.8 437.6 437.9C436.4 438.0 435.2 438.0 434.0 438.0C432.9 437.9 431.7 437.8 430.6 437.6C429.5 437.4 428.4 437.1 427.5 436.8C426.5 436.4 425.6 436.0 424.8 435.6C424.0 435.1 423.3 434.6 422.8 434.0C422.2 433.5 421.8 432.9 421.4 432.3C421.1 431.6 420.9 431.0 420.9 430.3C420.8 429.6 420.9 428.9 421.1 428.3C421.3 427.6 421.6 426.9 422.1 426.3C422.6 425.6 423.2 425.0 423.8 424.4C424.5 423.8 425.4 423.3 426.2 422.8C427.1 422.3 428.1 421.8 429.2 421.4C430.2 421.0 431.3 420.7 432.5 420.5C433.6 420.2 434.8 420.0 436.0 419.9C437.2 419.8 438.4 419.8 439.6 419.8C440.7 419.9 441.9 420.0 443.0 420.2C444.1 420.4 445.2 420.7 446.1 421.0C447.1 421.4 448.0 421.8 448.8 422.2C449.6 422.7 450.3 423.2 450.8 423.8C451.4 424.3 451.8 424.9 452.2 425.5C452.5 426.2 452.7 426.8 452.7 427.5Z" fill="none" stroke="#3434ee" stroke-width="0.8"/>
<path d="M450.5 427.7C450.6 428.3 450.5 428.9 450.3 429.4C450.1 430.0 449.8 430.6 449.4 431.2C449.0 431.7 448.5 432.3 447.9 432.8C447.3 433.3 446.6 433.8 445.9 434.2C445.1 434.6 444.2 435.0 443.4 435.3C442.5 435.7 441.5 435.9 440.5 436.2C439.5 436.4 438.5 436.5 437.5 436.6C436.5 436.7 435.4 436.7 434.4 436.7C433.4 436.6 432.4 436.5 431.5 436.4C430.5 436.2 429.6 436.0 428.8 435.7C428.0 435.4 427.2 435.0 426.5 434.6C425.8 434.3 425.2 433.8 424.7 433.3C424.3 432.8 423.9 432.3 423.6 431.8C423.3 431.2 423.1 430.7 423.1 430.1C423.0 429.5 423.1 428.9 423.3 428.4C423.5 427.8 423.8 427.2 424.2 426.6C424.6 426.1 425.1 425.5 425.7 425.0C426.3 424.5 427.0 424.0 427.7 423.6C428.5 423.2 429.4 422.8 430.2 422.5C431.1 422.1 432.1 421.9 433.1 421.6C434.1 421.4 435.1 421.3 436.1 421.2C437.1 421.1 438.2 421.1 439.2 421.1C440.2 421.2 441.2 421.3 442.1 421.4C443.1 421.6 444.0 421.8 444.8 422.1C445.6 422.4 446.4 422.8 447.1 423.2C447.8 423.5 448.4 424.0 448.9 424.5C449.3 425.0 449.7 425.5 450.0 426.0C450.3 426.6 450.5 427.1 450.5 427.7Z" fill="none" stroke="#4040f0" stroke-width="0.7"/>
<path d="M448.6 427.9C448.6 428.4 448.6 428.9 448.4 429.4C448.3 429.9 448.0 430.4 447.7 430.8C447.3 431.3 446.9 431.8 446.4 432.2C445.9 432.7 445.3 433.1 444.6 433.4C444.0 433.8 443.2 434.1 442.4 434.4C441.7 434.7 440.8 435.0 440.0 435.1C439.1 435.3 438.3 435.5 437.4 435.5C436.5 435.6 435.6 435.6 434.7 435.6C433.9 435.6 433.0 435.5 432.2 435.3C431.4 435.2 430.6 435.0 429.9 434.7C429.2 434.5 428.5 434.2 427.9 433.8C427.4 433.5 426.8 433.1 426.4 432.7C426.0 432.3 425.7 431.8 425.4 431.4C425.2 430.9 425.0 430.4 425.0 429.9C425.0 429.4 425.0 428.9 425.2 428.4C425.3 427.9 425.6 427.4 425.9 427.0C426.3 426.5 426.7 426.0 427.2 425.6C427.7 425.1 428.3 424.7 429.0 424.4C429.6 424.0 430.4 423.7 431.2 423.4C431.9 423.1 432.8 422.8 433.6 422.7C434.5 422.5 435.3 422.3 436.2 422.3C437.1 422.2 438.0 422.2 438.9 422.2C439.7 422.2 440.6 422.3 441.4 422.5C442.2 422.6 443.0 422.8 443.7 423.1C444.4 423.3 445.1 423.6 445.7 424.0C446.2 424.3 446.8 424.7 447.2 425.1C447.6 425.5 447.9 426.0 448.2 426.4C448.4 426.9 448.6 427.4 448.6 427.9Z" fill="none" stroke="#5066f4" stroke-width="0.6"/>
<path d="M444.8 428.2C444.8 428.5 444.8 428.9 444.7 429.2C444.6 429.6 444.4 429.9 444.2 430.2C443.9 430.5 443.6 430.9 443.3 431.1C442.9 431.4 442.5 431.7 442.1 432.0C441.6 432.2 441.1 432.4 440.6 432.6C440.1 432.8 439.5 433.0 439.0 433.1C438.4 433.2 437.8 433.3 437.2 433.4C436.6 433.4 436.0 433.4 435.4 433.4C434.8 433.4 434.2 433.3 433.7 433.2C433.2 433.1 432.6 433.0 432.1 432.8C431.7 432.7 431.2 432.5 430.8 432.2C430.4 432.0 430.1 431.8 429.8 431.5C429.5 431.2 429.3 430.9 429.1 430.6C429.0 430.3 428.9 429.9 428.8 429.6C428.8 429.3 428.8 428.9 428.9 428.6C429.0 428.2 429.2 427.9 429.4 427.6C429.7 427.3 430.0 426.9 430.3 426.7C430.7 426.4 431.1 426.1 431.5 425.8C432.0 425.6 432.5 425.4 433.0 425.2C433.5 425.0 434.1 424.8 434.6 424.7C435.2 424.6 435.8 424.5 436.4 424.4C437.0 424.4 437.6 424.4 438.2 424.4C438.8 424.4 439.4 424.5 439.9 424.6C440.4 424.7 441.0 424.8 441.5 425.0C441.9 425.1 442.4 425.3 442.8 425.6C443.2 425.8 443.5 426.0 443.8 426.3C444.1 426.6 444.3 426.9 444.5 427.2C444.6 427.5 444.7 427.9 444.8 428.2Z" fill="#8fe98a" stroke="none"/>
<path d="M443.8 428.3C443.8 428.6 443.8 428.9 443.7 429.2C443.6 429.5 443.5 429.8 443.3 430.1C443.1 430.3 442.8 430.6 442.5 430.9C442.2 431.1 441.8 431.4 441.4 431.6C441.1 431.8 440.6 432.0 440.2 432.2C439.7 432.4 439.2 432.5 438.7 432.6C438.2 432.7 437.7 432.8 437.1 432.8C436.6 432.9 436.1 432.9 435.6 432.9C435.1 432.9 434.5 432.8 434.1 432.7C433.6 432.6 433.1 432.5 432.7 432.4C432.3 432.2 431.9 432.0 431.5 431.8C431.2 431.6 430.9 431.4 430.6 431.2C430.4 430.9 430.2 430.7 430.0 430.4C429.9 430.1 429.8 429.8 429.8 429.5C429.8 429.2 429.8 428.9 429.9 428.6C430.0 428.3 430.1 428.0 430.3 427.7C430.5 427.5 430.8 427.2 431.1 426.9C431.4 426.7 431.8 426.4 432.2 426.2C432.5 426.0 433.0 425.8 433.4 425.6C433.9 425.4 434.4 425.3 434.9 425.2C435.4 425.1 435.9 425.0 436.5 425.0C437.0 424.9 437.5 424.9 438.0 424.9C438.5 424.9 439.1 425.0 439.5 425.1C440.0 425.2 440.5 425.3 440.9 425.4C441.3 425.6 441.7 425.8 442.1 426.0C442.4 426.2 442.7 426.4 443.0 426.6C443.2 426.9 443.4 427.1 443.6 427.4C443.7 427.7 443.8 428.0 443.8 428.3Z" fill="#4ade42" stroke="none"/>
<path d="M441.6 428.5C441.6 428.7 441.6 428.9 441.5 429.1C441.5 429.3 441.3 429.5 441.2 429.7C441.1 429.9 440.9 430.1 440.7 430.2C440.5 430.4 440.2 430.6 440.0 430.7C439.7 430.9 439.4 431.0 439.1 431.1C438.8 431.3 438.4 431.4 438.1 431.4C437.8 431.5 437.4 431.6 437.0 431.6C436.7 431.6 436.3 431.6 436.0 431.6C435.6 431.6 435.3 431.6 434.9 431.5C434.6 431.4 434.3 431.4 434.0 431.3C433.7 431.2 433.4 431.0 433.2 430.9C433.0 430.8 432.8 430.6 432.6 430.4C432.4 430.3 432.3 430.1 432.2 429.9C432.1 429.7 432.0 429.5 432.0 429.3C432.0 429.1 432.0 428.9 432.1 428.7C432.1 428.5 432.3 428.3 432.4 428.1C432.5 427.9 432.7 427.7 432.9 427.6C433.1 427.4 433.4 427.2 433.6 427.1C433.9 426.9 434.2 426.8 434.5 426.7C434.8 426.5 435.2 426.4 435.5 426.4C435.8 426.3 436.2 426.2 436.6 426.2C436.9 426.2 437.3 426.2 437.6 426.2C438.0 426.2 438.3 426.2 438.7 426.3C439.0 426.4 439.3 426.4 439.6 426.5C439.9 426.6 440.2 426.8 440.4 426.9C440.6 427.0 440.8 427.2 441.0 427.4C441.2 427.5 441.3 427.7 441.4 427.9C441.5 428.1 441.6 428.3 441.6 428.5Z" fill="#d2ea3c" stroke="none"/>
<path d="M440.5 428.6C440.5 428.7 440.5 428.9 440.4 429.0C440.4 429.2 440.3 429.4 440.2 429.5C440.1 429.7 439.9 429.8 439.8 429.9C439.6 430.1 439.4 430.2 439.2 430.3C439.0 430.4 438.8 430.5 438.6 430.6C438.3 430.7 438.1 430.8 437.8 430.8C437.5 430.9 437.3 430.9 437.0 431.0C436.7 431.0 436.4 431.0 436.2 431.0C435.9 431.0 435.6 430.9 435.4 430.9C435.1 430.9 434.9 430.8 434.7 430.7C434.4 430.6 434.2 430.5 434.0 430.4C433.9 430.3 433.7 430.2 433.6 430.1C433.4 430.0 433.3 429.8 433.3 429.7C433.2 429.5 433.1 429.4 433.1 429.2C433.1 429.1 433.1 428.9 433.2 428.8C433.2 428.6 433.3 428.4 433.4 428.3C433.5 428.1 433.7 428.0 433.8 427.9C434.0 427.7 434.2 427.6 434.4 427.5C434.6 427.4 434.8 427.3 435.0 427.2C435.3 427.1 435.5 427.0 435.8 427.0C436.1 426.9 436.3 426.9 436.6 426.8C436.9 426.8 437.2 426.8 437.4 426.8C437.7 426.8 438.0 426.9 438.2 426.9C438.5 426.9 438.7 427.0 438.9 427.1C439.2 427.2 439.4 427.3 439.6 427.4C439.7 427.5 439.9 427.6 440.0 427.7C440.2 427.8 440.3 428.0 440.3 428.1C440.4 428.3 440.5 428.4 440.5 428.6Z" fill="#ff4422" stroke="none"/>
<path d="M485.6 378.7C485.8 378.9 485.9 379.1 485.9 379.4C485.9 379.7 485.9 380.1 485.8 380.4C485.7 380.8 485.6 381.1 485.4 381.5C485.2 381.9 484.9 382.4 484.6 382.8C484.3 383.2 483.9 383.6 483.6 384.0C483.2 384.5 482.7 384.9 482.2 385.3C481.8 385.7 481.3 386.1 480.8 386.4C480.2 386.8 479.7 387.1 479.2 387.4C478.6 387.7 478.1 388.0 477.5 388.2C477.0 388.5 476.5 388.7 476.0 388.8C475.5 389.0 475.0 389.1 474.6 389.1C474.1 389.2 473.7 389.2 473.4 389.1C473.0 389.1 472.7 389.0 472.4 388.9C472.1 388.7 471.9 388.6 471.8 388.3C471.6 388.1 471.5 387.9 471.5 387.6C471.5 387.3 471.5 386.9 471.6 386.6C471.7 386.2 471.8 385.9 472.0 385.5C472.2 385.1 472.5 384.6 472.8 384.2C473.1 383.8 473.5 383.4 473.8 383.0C474.2 382.5 474.7 382.1 475.2 381.7C475.6 381.3 476.1 380.9 476.6 380.6C477.2 380.2 477.7 379.9 478.2 379.6C478.8 379.3 479.3 379.0 479.9 378.8C480.4 378.5 480.9 378.3 481.4 378.2C481.9 378.0 482.4 377.9 482.8 377.9C483.3 377.8 483.7 377.8 484.0 377.9C484.4 377.9 484.7 378.0 485.0 378.1C485.3 378.3 485.5 378.4 485.6 378.7Z" fill="#c8f3ff" stroke="#6fbcff" stroke-width="0.5"/>
<path d="M484.8 379.2C484.9 379.4 485.0 379.7 485.0 379.9C485.0 380.2 485.0 380.5 484.9 380.8C484.9 381.1 484.7 381.4 484.6 381.8C484.4 382.1 484.2 382.5 483.9 382.9C483.6 383.2 483.3 383.6 483.0 384.0C482.6 384.3 482.2 384.7 481.8 385.1C481.4 385.4 480.9 385.8 480.5 386.1C480.0 386.4 479.6 386.7 479.1 386.9C478.6 387.2 478.1 387.5 477.7 387.7C477.2 387.9 476.8 388.0 476.3 388.2C475.9 388.3 475.5 388.4 475.1 388.4C474.7 388.5 474.3 388.5 474.0 388.4C473.7 388.4 473.4 388.3 473.2 388.2C473.0 388.1 472.8 387.9 472.6 387.8C472.5 387.6 472.4 387.3 472.4 387.1C472.4 386.8 472.4 386.5 472.5 386.2C472.5 385.9 472.7 385.6 472.8 385.2C473.0 384.9 473.2 384.5 473.5 384.1C473.8 383.8 474.1 383.4 474.4 383.0C474.8 382.7 475.2 382.3 475.6 381.9C476.0 381.6 476.5 381.2 476.9 380.9C477.4 380.6 477.8 380.3 478.3 380.1C478.8 379.8 479.3 379.5 479.7 379.3C480.2 379.1 480.6 379.0 481.1 378.8C481.5 378.7 481.9 378.6 482.3 378.6C482.7 378.5 483.1 378.5 483.4 378.6C483.7 378.6 484.0 378.7 484.2 378.8C484.4 378.9 484.6 379.1 484.8 379.2Z" fill="#8ee6f6" stroke="none"/>
<path d="M489.3 376.0C489.6 376.4 489.7 376.8 489.8 377.2C489.8 377.7 489.8 378.2 489.7 378.7C489.5 379.3 489.3 379.9 489.0 380.5C488.7 381.1 488.3 381.7 487.8 382.4C487.3 383.0 486.8 383.7 486.2 384.3C485.6 385.0 484.9 385.6 484.1 386.2C483.4 386.8 482.6 387.5 481.9 388.0C481.1 388.6 480.2 389.1 479.4 389.6C478.6 390.0 477.7 390.4 476.9 390.8C476.1 391.1 475.3 391.4 474.5 391.7C473.8 391.9 473.0 392.1 472.3 392.1C471.7 392.2 471.0 392.2 470.5 392.2C469.9 392.1 469.4 392.0 469.0 391.8C468.6 391.6 468.3 391.3 468.1 391.0C467.8 390.6 467.7 390.2 467.6 389.8C467.6 389.3 467.6 388.8 467.7 388.3C467.9 387.7 468.1 387.1 468.4 386.5C468.7 385.9 469.1 385.3 469.6 384.6C470.1 384.0 470.6 383.3 471.2 382.7C471.8 382.0 472.5 381.4 473.3 380.8C474.0 380.2 474.8 379.5 475.5 379.0C476.3 378.4 477.2 377.9 478.0 377.4C478.8 377.0 479.7 376.6 480.5 376.2C481.3 375.9 482.1 375.6 482.9 375.3C483.6 375.1 484.4 374.9 485.1 374.9C485.7 374.8 486.4 374.8 486.9 374.8C487.5 374.9 488.0 375.0 488.4 375.2C488.8 375.4 489.1 375.7 489.3 376.0Z" fill="none" stroke="#3434ee" stroke-width="0.8"/>
<path d="M487.9 377.1C488.1 377.4 488.2 377.7 488.2 378.1C488.3 378.5 488.2 378.9 488.1 379.4C488.0 379.9 487.8 380.4 487.6 380.9C487.3 381.4 486.9 382.0 486.5 382.5C486.1 383.1 485.6 383.7 485.1 384.2C484.6 384.8 484.0 385.3 483.4 385.9C482.8 386.4 482.1 386.9 481.4 387.4C480.7 387.9 480.0 388.3 479.3 388.7C478.6 389.1 477.9 389.5 477.2 389.8C476.5 390.1 475.8 390.3 475.1 390.5C474.5 390.7 473.8 390.9 473.2 390.9C472.7 391.0 472.1 391.0 471.6 391.0C471.1 390.9 470.7 390.8 470.4 390.6C470.0 390.4 469.7 390.2 469.5 389.9C469.3 389.6 469.2 389.3 469.2 388.9C469.1 388.5 469.2 388.1 469.3 387.6C469.4 387.1 469.6 386.6 469.8 386.1C470.1 385.6 470.5 385.0 470.9 384.5C471.3 383.9 471.8 383.3 472.3 382.8C472.8 382.2 473.4 381.7 474.0 381.1C474.6 380.6 475.3 380.1 476.0 379.6C476.7 379.1 477.4 378.7 478.1 378.3C478.8 377.9 479.5 377.5 480.2 377.2C480.9 376.9 481.6 376.7 482.3 376.5C482.9 376.3 483.6 376.1 484.2 376.1C484.7 376.0 485.3 376.0 485.8 376.0C486.3 376.1 486.7 376.2 487.0 376.4C487.4 376.6 487.7 376.8 487.9 377.1Z" fill="none" stroke="#4040f0" stroke-width="0.7"/>
<path d="M486.6 378.0C486.8 378.2 486.9 378.5 486.9 378.9C486.9 379.2 486.9 379.6 486.8 380.0C486.7 380.4 486.5 380.8 486.3 381.3C486.1 381.7 485.8 382.2 485.4 382.7C485.1 383.1 484.7 383.6 484.2 384.1C483.8 384.6 483.3 385.1 482.7 385.5C482.2 386.0 481.6 386.4 481.0 386.8C480.4 387.2 479.8 387.6 479.2 388.0C478.6 388.3 478.0 388.6 477.4 388.9C476.8 389.2 476.2 389.4 475.6 389.5C475.0 389.7 474.5 389.8 474.0 389.9C473.5 390.0 473.0 390.0 472.6 389.9C472.2 389.9 471.8 389.8 471.5 389.6C471.2 389.5 471.0 389.3 470.8 389.0C470.6 388.8 470.5 388.5 470.5 388.1C470.5 387.8 470.5 387.4 470.6 387.0C470.7 386.6 470.9 386.2 471.1 385.7C471.3 385.3 471.6 384.8 472.0 384.3C472.3 383.9 472.7 383.4 473.2 382.9C473.6 382.4 474.1 381.9 474.7 381.5C475.2 381.0 475.8 380.6 476.4 380.2C477.0 379.8 477.6 379.4 478.2 379.0C478.8 378.7 479.4 378.4 480.0 378.1C480.6 377.8 481.2 377.6 481.8 377.5C482.4 377.3 482.9 377.2 483.4 377.1C483.9 377.0 484.4 377.0 484.8 377.1C485.2 377.1 485.6 377.2 485.9 377.4C486.2 377.5 486.4 377.7 486.6 378.0Z" fill="none" stroke="#5066f4" stroke-width="0.6"/>
<path d="M483.2 380.4C483.3 380.5 483.3 380.7 483.4 380.9C483.4 381.1 483.4 381.3 483.3 381.5C483.2 381.7 483.2 382.0 483.0 382.2C482.9 382.5 482.7 382.8 482.5 383.0C482.3 383.3 482.1 383.6 481.8 383.8C481.6 384.1 481.3 384.4 481.0 384.6C480.7 384.9 480.4 385.2 480.0 385.4C479.7 385.6 479.3 385.8 479.0 386.0C478.7 386.2 478.3 386.4 478.0 386.6C477.6 386.7 477.3 386.8 476.9 386.9C476.6 387.0 476.3 387.1 476.0 387.1C475.7 387.2 475.5 387.2 475.2 387.1C475.0 387.1 474.8 387.1 474.6 387.0C474.5 386.9 474.3 386.8 474.2 386.6C474.1 386.5 474.1 386.3 474.0 386.1C474.0 385.9 474.0 385.7 474.1 385.5C474.2 385.3 474.2 385.0 474.4 384.8C474.5 384.5 474.7 384.2 474.9 384.0C475.1 383.7 475.3 383.4 475.6 383.2C475.8 382.9 476.1 382.6 476.4 382.4C476.7 382.1 477.0 381.8 477.4 381.6C477.7 381.4 478.1 381.2 478.4 381.0C478.7 380.8 479.1 380.6 479.4 380.4C479.8 380.3 480.1 380.2 480.5 380.1C480.8 380.0 481.1 379.9 481.4 379.9C481.7 379.8 481.9 379.8 482.2 379.9C482.4 379.9 482.6 379.9 482.8 380.0C482.9 380.1 483.1 380.2 483.2 380.4Z" fill="#d2faff" stroke="none"/>
<path d="M481.4 381.6C481.4 381.7 481.5 381.8 481.5 381.9C481.5 382.0 481.5 382.2 481.4 382.3C481.4 382.4 481.4 382.6 481.3 382.7C481.2 382.9 481.1 383.1 481.0 383.2C480.9 383.4 480.7 383.5 480.6 383.7C480.4 383.9 480.2 384.0 480.1 384.2C479.9 384.3 479.7 384.5 479.5 384.6C479.3 384.8 479.1 384.9 478.9 385.0C478.7 385.1 478.5 385.2 478.3 385.3C478.1 385.4 477.8 385.5 477.7 385.5C477.5 385.6 477.3 385.6 477.1 385.7C476.9 385.7 476.8 385.7 476.6 385.7C476.5 385.7 476.4 385.6 476.3 385.6C476.2 385.5 476.1 385.4 476.0 385.4C476.0 385.3 475.9 385.2 475.9 385.1C475.9 385.0 475.9 384.8 476.0 384.7C476.0 384.6 476.0 384.4 476.1 384.3C476.2 384.1 476.3 383.9 476.4 383.8C476.5 383.6 476.7 383.5 476.8 383.3C477.0 383.1 477.2 383.0 477.3 382.8C477.5 382.7 477.7 382.5 477.9 382.4C478.1 382.2 478.3 382.1 478.5 382.0C478.7 381.9 478.9 381.8 479.1 381.7C479.3 381.6 479.6 381.5 479.7 381.5C479.9 381.4 480.1 381.4 480.3 381.3C480.5 381.3 480.6 381.3 480.8 381.3C480.9 381.3 481.0 381.4 481.1 381.4C481.2 381.5 481.3 381.6 481.4 381.6Z" fill="#f2feff" stroke="none"/>
<path d="M435.6 377.4L440.5 372.4L448.0 369.3L459.1 369.9L466.6 372.4L469.7 377.4L468.5 387.3L462.9 393.5L451.7 395.4L441.8 396.6L436.2 389.8Z" fill="none" stroke="#f05050" stroke-width="0.75" stroke-linejoin="round"/>
<text x="436.2" y="366.2" font-size="5.3" fill="#f11" stroke="#f22" stroke-width="0.18">P6(8.75%)</text>
<rect x="261.5" y="48.5" width="100.0" height="98.0" fill="none" stroke="#666" stroke-width="1"/>
<path d="M261.5 51.5h1.5M261.5 54.8h1.5M261.5 58.1h1.5M261.5 61.4h1.5M261.5 64.7h1.5M261.5 68.0h1.5M261.5 71.3h1.5M261.5 74.6h1.5M261.5 77.9h1.5M261.5 81.2h1.5M261.5 84.5h1.5M261.5 87.8h1.5M261.5 91.1h1.5M261.5 94.4h1.5M261.5 97.7h1.5M261.5 101.0h1.5M261.5 104.3h1.5M261.5 107.6h1.5M261.5 110.9h1.5M261.5 114.2h1.5M261.5 117.5h1.5M261.5 120.8h1.5M261.5 124.1h1.5M261.5 127.4h1.5M261.5 130.7h1.5M261.5 134.0h1.5M261.5 137.3h1.5M261.5 140.6h1.5M261.5 143.9h1.5M265.5 146.5v-1.3M269.9 146.5v-1.3M274.3 146.5v-1.3M278.7 146.5v-1.3M283.1 146.5v-1.3M287.5 146.5v-1.3M291.9 146.5v-1.3M296.3 146.5v-1.3M300.7 146.5v-1.3M305.1 146.5v-1.3M309.5 146.5v-1.3M313.9 146.5v-1.3M318.3 146.5v-1.3M322.7 146.5v-1.3M327.1 146.5v-1.3M331.5 146.5v-1.3M335.9 146.5v-1.3M340.3 146.5v-1.3M344.7 146.5v-1.3M349.1 146.5v-1.3M353.5 146.5v-1.3M357.9 146.5v-1.3" stroke="#999" stroke-width="0.6" fill="none"/>
<path d="M297 101.5h1m0 8h1m0-1h1m-1 2h1m-1 2h1m0-6h1m-1 1h1m-1 1h1m-1 1h1m-1 1h1m-1 1h1m-1 1h1m0-10h1m-1 1h1m-1 2h1m-1 3h1m-1 1h1m-1 1h1m-1 1h1m-1 1h1m-1 1h1m-1 3h1m-1 2h1m-1 1h1m0-14h1m-1 1h1m-1 2h1m-1 1h1m-1 1h1m-1 1h1m-1 1h1m-1 2h1m-1 1h1m-1 1h1m0-13h1m-1 4h1m-1 1h1m-1 2h1m-1 2h1m-1 1h1m-1 2h1m-1 1h1m-1 2h1m0-16h1m-1 3h1m-1 2h1m-1 1h1m-1 1h1m-1 1h1m-1 1h1m-1 1h1m-1 1h1m-1 1h1m-1 1h1m0-16h1m-1 5h1m-1 4h1m-1 1h1m-1 2h1m-1 1h1m-1 1h1m-1 1h1m0-10h1m-1 1h1m-1 1h1m-1 2h1m-1 1h1m-1 1h1m-1 1h1m-1 1h1m-1 1h1m-1 1h1m-1 1h1m-1 1h1m-1 4h1m0-17h1m-1 2h1m-1 1h1m-1 1h1m-1 1h1m-1 1h1m-1 1h1m-1 2h1m-1 1h1m0-7h1m-1 1h1m-1 1h1m-1 2h1m-1 1h1m-1 1h1m0-11h1m-1 5h1m-1 1h1m-1 2h1m-1 5h1m0-1h1" stroke="#ff2020" stroke-width="1" opacity="0.77" fill="none" filter="url(#sb)"/>
<path d="M296 110.5h1m-1 3h1m0-9h1m-1 5h1m0 0h1m-1 2h1m-1 1h1m-1 3h1m-1 4h1m0-14h1m-1 1h1m-1 4h1m-1 1h1m-1 3h1m-1 1h1m0-9h1m-1 2h1m-1 1h1m-1 2h1m-1 2h1m-1 1h1m-1 1h1m0-13h1m-1 3h1m-1 1h1m-1 1h1m-1 1h1m-1 1h1m-1 1h1m-1 1h1m-1 1h1m-1 1h1m-1 1h1m0-9h1m-1 1h1m-1 2h1m-1 1h1m-1 1h1m-1 1h1m-1 1h1m-1 1h1m-1 3h1m0-12h1m-1 2h1m-1 1h1m-1 2h1m-1 1h1m-1 1h1m-1 1h1m-1 1h1m-1 1h1m-1 1h1m-1 2h1m0-13h1m-1 1h1m-1 1h1m-1 1h1m-1 2h1m-1 1h1m-1 1h1m-1 1h1m-1 1h1m-1 1h1m-1 1h1m0-8h1m-1 1h1m-1 2h1m-1 1h1m-1 1h1m-1 1h1m0-7h1m-1 1h1m-1 1h1m-1 3h1m-1 1h1m-1 1h1m-1 1h1m0-10h1m-1 3h1m-1 3h1m-1 2h1m-1 1h1m-1 1h1m-1 1h1m-1 2h1m0-13h1m-1 2h1m-1 5h1m-1 1h1m-1 1h1m0 1h1m0 6h1m0-12h1m0 0h1m-1 8h1" stroke="#ff2020" stroke-width="1" opacity="0.36" fill="none" filter="url(#sb)"/>
<path d="M276 129.5h1m0-4h1m0-48h1m0 23h1m1 21h1m-1 1h1m-1 23h1m0-27h1m-1 12h1m0 15h1m0-41h1m-1 5h1m-1 25h1m0-21h1m-1 21h1m0-24h1m-1 17h1m-1 18h1m0-47h1m-1 15h1m-1 8h1m-1 2h1m-1 4h1m-1 3h1m-1 3h1m0-34h1m-1 9h1m-1 1h1m-1 25h1m0-51h1m-1 11h1m-1 24h1m-1 3h1m-1 10h1m-1 4h1m-1 5h1m0-22h1m-1 2h1m-1 2h1m-1 3h1m-1 6h1m-1 14h1m0-38h1m-1 14h1m-1 11h1m-1 7h1m-1 6h1m0-39h1m-1 8h1m-1 5h1m-1 5h1m-1 5h1m-1 1h1m0-37h1m-1 2h1m-1 7h1m-1 5h1m-1 3h1m-1 3h1m-1 8h1m-1 8h1m0-34h1m-1 1h1m-1 4h1m-1 20h1m-1 5h1m0-33h1m-1 9h1m-1 3h1m-1 7h1m-1 7h1m-1 5h1m-1 2h1m-1 1h1m-1 1h1m-1 2h1m-1 2h1m-1 3h1m0-44h1m-1 23h1m-1 10h1m-1 6h1m-1 4h1m0-52h1m-1 22h1m-1 22h1m-1 1h1m-1 1h1m-1 6h1m-1 12h1m0-52h1m-1 3h1m-1 24h1m-1 12h1m-1 4h1m-1 4h1m-1 5h1m0-50h1m-1 3h1m-1 3h1m-1 5h1m-1 2h1m-1 9h1m-1 1h1m-1 1h1m-1 2h1m-1 14h1m-1 7h1m0-55h1m-1 17h1m-1 7h1m-1 1h1m-1 3h1m-1 4h1m-1 8h1m-1 10h1m-1 1h1m0-46h1m-1 5h1m-1 1h1m-1 9h1m-1 3h1m-1 1h1m-1 5h1m-1 6h1m-1 8h1m-1 9h1m0-46h1m-1 3h1m-1 2h1m-1 5h1m-1 1h1m-1 3h1m-1 2h1m-1 15h1m-1 2h1m-1 2h1m-1 3h1m-1 5h1m-1 9h1m0-81h1m-1 17h1m-1 5h1m-1 13h1m-1 2h1m-1 8h1m-1 1h1m-1 4h1m-1 15h1m-1 16h1m0-62h1m-1 3h1m-1 16h1m-1 2h1m-1 1h1m-1 2h1m-1 3h1m-1 5h1m-1 3h1m-1 1h1m-1 26h1m0-63h1m-1 13h1m-1 13h1m-1 1h1m-1 2h1m-1 7h1m-1 9h1m0-38h1m-1 3h1m-1 4h1m-1 5h1m-1 3h1m-1 1h1m-1 2h1m-1 2h1m-1 6h1m-1 9h1m-1 2h1m-1 3h1m0-33h1m-1 1h1m-1 10h1m-1 3h1m-1 3h1m0-17h1m-1 8h1m-1 8h1m-1 2h1m-1 25h1m-1 6h1m0-53h1m-1 2h1m-1 3h1m-1 2h1m-1 5h1m-1 10h1m-1 2h1m-1 5h1m-1 7h1m0-12h1m-1 1h1m-1 1h1m-1 5h1m-1 11h1m-1 10h1m0-39h1m-1 3h1m-1 8h1m-1 7h1m0-19h1m-1 2h1m-1 2h1m-1 3h1m-1 7h1m-1 2h1m-1 15h1m-1 5h1m0-63h1m-1 37h1m-1 1h1m-1 2h1m-1 2h1m-1 4h1m-1 20h1m0-55h1m-1 18h1m-1 9h1m-1 5h1m-1 1h1m0-16h1m-1 6h1m-1 1h1m-1 4h1m-1 26h1m-1 3h1m0-87h1m-1 26h1m-1 11h1m-1 10h1m-1 6h1m-1 7h1m-1 13h1m0-49h1m-1 8h1m-1 15h1m-1 10h1m-1 6h1m-1 1h1m-1 10h1m0-35h1m-1 26h1m-1 3h1m-1 3h1m-1 1h1m0-48h1m-1 25h1m-1 19h1m-1 9h1m0-31h1m-1 9h1m0-18h1m-1 4h1m-1 17h1m-1 6h1m-1 12h1m-1 11h1m1-38h1m-1 2h1m-1 7h1m0-10h1m-1 4h1m-1 5h1m0-13h1m-1 26h1m-1 1h1m0-28h1m-1 10h1m-1 7h1m0-10h1m-1 9h1m-1 9h1m-1 3h1m0-30h1m-1 2h1m-1 16h1m-1 8h1m-1 4h1m-1 16h1m0 0h1m0-39h1m-1 18h1m0-24h1m0 3h1m-1 8h1m-1 10h1m-1 4h1m-1 10h1m-1 5h1m0-88h1m-1 45h1m-1 21h1m-1 6h1m0-5h1m-1 18h1m-1 8h1m0-80h1m-1 24h1m-1 14h1m-1 2h1m-1 5h1m-1 10h1m0-2h1m0 2h1m5 4h1m7-69h1m2 40h1m5-33h1m-1 78h1" stroke="#ff2020" stroke-width="1" opacity="0.55" fill="none" filter="url(#sb)"/>
<path d="M264 55.5h1m7 18h1m1 64h1m5 8h1m1-88h1m-1 36h1m-1 12h1m-1 9h1m-1 8h1m-1 12h1m0-30h1m-1 27h1m0-3h1m-1 5h1m0-25h1m-1 6h1m-1 25h1m0-41h1m-1 3h1m-1 20h1m-1 21h1m0-50h1m-1 9h1m-1 7h1m-1 12h1m-1 9h1m-1 3h1m-1 13h1m0-33h1m-1 1h1m-1 18h1m-1 1h1m-1 10h1m0-35h1m-1 2h1m-1 6h1m-1 2h1m-1 4h1m-1 1h1m-1 8h1m-1 14h1m-1 1h1m0-48h1m-1 4h1m-1 13h1m-1 2h1m-1 17h1m0-22h1m-1 4h1m-1 15h1m-1 9h1m0-45h1m-1 14h1m-1 34h1m-1 2h1m0-38h1m-1 2h1m-1 6h1m-1 27h1m-1 3h1m-1 1h1m0-61h1m-1 3h1m-1 18h1m-1 13h1m-1 10h1m-1 3h1m-1 1h1m-1 1h1m-1 12h1m0-51h1m-1 3h1m-1 7h1m-1 2h1m-1 1h1m-1 4h1m-1 4h1m-1 16h1m-1 3h1m0-70h1m-1 35h1m-1 6h1m-1 4h1m-1 5h1m-1 2h1m-1 2h1m-1 2h1m-1 5h1m-1 11h1m0-41h1m-1 9h1m-1 1h1m-1 1h1m-1 5h1m-1 7h1m-1 1h1m-1 1h1m-1 25h1m0-64h1m-1 7h1m-1 19h1m-1 3h1m-1 9h1m-1 16h1m-1 1h1m-1 1h1m0-57h1m-1 14h1m-1 2h1m-1 11h1m-1 6h1m-1 11h1m-1 1h1m-1 4h1m-1 11h1m0-52h1m-1 17h1m-1 5h1m-1 6h1m-1 18h1m-1 2h1m-1 1h1m0-44h1m-1 8h1m-1 8h1m-1 1h1m-1 3h1m-1 3h1m-1 2h1m-1 2h1m-1 2h1m-1 6h1m0-44h1m-1 11h1m-1 4h1m-1 9h1m-1 11h1m-1 4h1m-1 1h1m-1 1h1m-1 11h1m-1 7h1m0-64h1m-1 3h1m-1 11h1m-1 6h1m-1 4h1m-1 17h1m-1 1h1m-1 2h1m-1 17h1m-1 5h1m0-59h1m-1 3h1m-1 3h1m-1 2h1m-1 2h1m-1 6h1m-1 4h1m-1 22h1m-1 6h1m-1 1h1m0-38h1m-1 4h1m-1 7h1m-1 7h1m-1 4h1m-1 3h1m-1 6h1m-1 14h1m0-53h1m-1 1h1m-1 8h1m-1 2h1m-1 7h1m-1 2h1m-1 3h1m-1 10h1m-1 13h1m-1 10h1m0-44h1m-1 3h1m-1 1h1m-1 3h1m-1 1h1m-1 7h1m-1 5h1m0-34h1m-1 6h1m-1 18h1m-1 4h1m-1 23h1m-1 4h1m-1 3h1m0-64h1m-1 9h1m-1 7h1m-1 6h1m-1 3h1m-1 22h1m0-26h1m-1 3h1m-1 1h1m-1 1h1m-1 6h1m-1 32h1m0-62h1m-1 13h1m-1 2h1m-1 8h1m-1 2h1m-1 15h1m-1 10h1m-1 12h1m0-34h1m0-20h1m-1 8h1m-1 8h1m-1 4h1m-1 25h1m-1 1h1m-1 8h1m0-60h1m-1 15h1m-1 1h1m-1 3h1m-1 1h1m-1 11h1m0-21h1m-1 5h1m-1 1h1m-1 1h1m-1 10h1m-1 8h1m-1 9h1m-1 4h1m-1 12h1m0-62h1m-1 16h1m-1 9h1m-1 10h1m-1 3h1m-1 2h1m-1 22h1m0-46h1m-1 2h1m-1 4h1m-1 4h1m-1 17h1m-1 5h1m-1 14h1m0-52h1m-1 5h1m-1 4h1m-1 14h1m-1 29h1m0-52h1m-1 10h1m-1 3h1m-1 6h1m-1 15h1m-1 18h1m0-49h1m-1 2h1m-1 4h1m-1 1h1m-1 12h1m0-29h1m-1 16h1m-1 15h1m0-38h1m-1 26h1m-1 1h1m0-3h1m-1 3h1m-1 12h1m-1 7h1m-1 10h1m0-41h1m-1 18h1m-1 8h1m-1 4h1m0-20h1m-1 2h1m-1 18h1m-1 21h1m0-50h1m-1 20h1m-1 6h1m-1 7h1m0-21h1m-1 14h1m-1 10h1m-1 14h1m0-36h1m-1 1h1m-1 2h1m0 2h1m0 5h1m0-30h1m-1 40h1m0-4h1m0-13h1m0-21h1m0 39h1m-1 15h1m0-31h1m-1 27h1m0-44h1m-1 23h1m0 1h1m0-56h1m-1 54h1m0 6h1m2-40h1m1-2h1m0-4h1m5 19h1" stroke="#ff2020" stroke-width="1" opacity="0.26" fill="none" filter="url(#sb)"/>
<path d="M318 66.5h1m7-5h1m13 15h1m0-1h1" stroke="#444" stroke-width="1" opacity="0.5" fill="none" filter="url(#sb)"/>
<path d="M315.0 72.0C314.7 69.6 315.0 67.4 316.3 65.2C317.5 63.0 319.8 60.4 322.6 58.7C325.4 56.9 329.5 55.0 333.1 54.7C336.7 54.4 341.9 54.7 344.2 56.7C346.4 58.7 346.7 63.3 346.7 66.6C346.7 69.8 345.9 73.8 344.2 76.2C342.4 78.6 338.5 79.9 336.2 81.0C334.0 82.2 333.0 82.7 330.9 83.0C328.7 83.3 325.7 83.3 323.6 82.7C321.4 82.1 319.3 81.1 317.9 79.3C316.4 77.5 315.3 74.3 315.0 72.0Z" fill="none" stroke="#333" stroke-width="0.75"/>
<text x="315" y="53" font-size="5.3" font-weight="normal" fill="#111" text-anchor="start" stroke="#333" stroke-width="0.1">P7(0.94%)</text>
<path d="M347 105.5h1m-1 4h1m0-11h1m-1 12h1m5-13h1" stroke="#444" stroke-width="1" opacity="0.5" fill="none" filter="url(#sb)"/>
<path d="M341.6 89.5C342.7 86.2 345.7 83.8 348.4 83.0C351.2 82.2 356.3 82.5 358.3 84.6C360.3 86.7 360.3 92.5 360.6 95.7C360.9 99.0 360.3 101.7 360.0 104.2C359.8 106.6 360.4 108.5 359.1 110.4C357.8 112.3 354.6 115.3 352.2 115.6C349.8 115.9 346.4 114.1 344.6 112.0C342.9 109.9 342.1 106.6 341.6 102.9C341.1 99.1 340.5 92.8 341.6 89.5Z" fill="none" stroke="#333" stroke-width="0.75"/>
<text x="336.5" y="79.6" font-size="5.3" font-weight="normal" fill="#111" text-anchor="start" stroke="#333" stroke-width="0.1">P8(0.80%)</text>
<rect x="261.5" y="148.5" width="100.0" height="98.0" fill="none" stroke="#666" stroke-width="1"/>
<path d="M261.5 151.5h1.5M261.5 154.8h1.5M261.5 158.1h1.5M261.5 161.4h1.5M261.5 164.7h1.5M261.5 168.0h1.5M261.5 171.3h1.5M261.5 174.6h1.5M261.5 177.9h1.5M261.5 181.2h1.5M261.5 184.5h1.5M261.5 187.8h1.5M261.5 191.1h1.5M261.5 194.4h1.5M261.5 197.7h1.5M261.5 201.0h1.5M261.5 204.3h1.5M261.5 207.6h1.5M261.5 210.9h1.5M261.5 214.2h1.5M261.5 217.5h1.5M261.5 220.8h1.5M261.5 224.1h1.5M261.5 227.4h1.5M261.5 230.7h1.5M261.5 234.0h1.5M261.5 237.3h1.5M261.5 240.6h1.5M261.5 243.9h1.5M265.5 246.5v-1.3M269.9 246.5v-1.3M274.3 246.5v-1.3M278.7 246.5v-1.3M283.1 246.5v-1.3M287.5 246.5v-1.3M291.9 246.5v-1.3M296.3 246.5v-1.3M300.7 246.5v-1.3M305.1 246.5v-1.3M309.5 246.5v-1.3M313.9 246.5v-1.3M318.3 246.5v-1.3M322.7 246.5v-1.3M327.1 246.5v-1.3M331.5 246.5v-1.3M335.9 246.5v-1.3M340.3 246.5v-1.3M344.7 246.5v-1.3M349.1 246.5v-1.3M353.5 246.5v-1.3M357.9 246.5v-1.3" stroke="#999" stroke-width="0.6" fill="none"/>
<path d="M318 233.5h1m0-11h1m-1 8h1m3-13h1m-1 20h1m0 0h1m0-24h1m-1 5h1m-1 9h1m-1 5h1m-1 7h1m-1 1h1m0-19h1m-1 4h1m-1 4h1m-1 7h1m-1 1h1m-1 2h1m0-23h1m-1 2h1m-1 2h1m-1 4h1m-1 1h1m-1 7h1m-1 3h1m-1 1h1m-1 8h1m0-22h1m-1 1h1m-1 1h1m-1 3h1m-1 3h1m-1 5h1m-1 1h1m-1 1h1m-1 8h1m0-24h1m-1 1h1m-1 3h1m-1 1h1m-1 1h1m-1 7h1m-1 1h1m-1 5h1m-1 2h1m0-29h1m-1 4h1m-1 2h1m-1 5h1m-1 2h1m-1 3h1m-1 1h1m-1 1h1m-1 4h1m-1 2h1m-1 3h1m-1 1h1m0-28h1m-1 2h1m-1 5h1m-1 5h1m-1 2h1m-1 2h1m-1 4h1m-1 3h1m-1 3h1m-1 1h1m0-28h1m-1 3h1m-1 1h1m-1 1h1m-1 2h1m-1 2h1m-1 2h1m-1 4h1m-1 3h1m-1 3h1m-1 8h1m-1 1h1m-1 2h1m0-30h1m-1 5h1m-1 8h1m-1 4h1m-1 1h1m-1 1h1m-1 1h1m-1 2h1m-1 1h1m-1 2h1m-1 1h1m0-30h1m-1 7h1m-1 5h1m-1 1h1m-1 1h1m-1 4h1m-1 4h1m-1 1h1m-1 1h1m-1 4h1m-1 1h1m0-24h1m-1 10h1m-1 1h1m-1 2h1m-1 3h1m-1 1h1m-1 2h1m-1 2h1m-1 4h1m0-23h1m-1 5h1m-1 2h1m-1 10h1m-1 1h1m-1 1h1m-1 3h1m-1 3h1m-1 1h1m0-46h1m-1 20h1m-1 3h1m-1 6h1m-1 2h1m-1 2h1m-1 3h1m-1 3h1m-1 1h1m-1 5h1m-1 1h1m-1 1h1m0-26h1m-1 4h1m-1 3h1m-1 2h1m-1 1h1m-1 1h1m-1 2h1m-1 3h1m-1 7h1m-1 2h1m0-24h1m-1 4h1m-1 3h1m-1 1h1m0-10h1m-1 15h1m0-9h1m-1 12h1m-1 2h1m0-22h1m-1 4h1m-1 13h1m0 3h1m1-16h1m-1 7h1" stroke="#ff2020" stroke-width="1" opacity="0.66" fill="none" filter="url(#sb)"/>
<path d="M319 195.5h1m-1 29h1m-1 6h1m1-13h1m-1 4h1m0-4h1m0-7h1m-1 18h1m-1 3h1m0-2h1m0-5h1m-1 10h1m0-22h1m-1 15h1m-1 3h1m-1 8h1m-1 7h1m0-28h1m-1 2h1m-1 3h1m-1 1h1m-1 3h1m-1 1h1m-1 1h1m-1 1h1m-1 3h1m-1 10h1m-1 2h1m0-20h1m-1 8h1m-1 3h1m0-32h1m-1 6h1m-1 12h1m-1 3h1m-1 1h1m-1 1h1m-1 1h1m-1 4h1m-1 2h1m-1 3h1m-1 3h1m-1 2h1m-1 1h1m0-21h1m-1 6h1m-1 1h1m-1 1h1m-1 2h1m-1 4h1m-1 2h1m-1 3h1m-1 2h1m-1 3h1m0-30h1m-1 4h1m-1 3h1m-1 3h1m-1 1h1m-1 3h1m-1 1h1m-1 2h1m-1 4h1m-1 4h1m-1 1h1m-1 3h1m0-32h1m-1 11h1m-1 3h1m-1 2h1m-1 2h1m-1 2h1m-1 3h1m-1 1h1m-1 1h1m-1 7h1m0-36h1m-1 3h1m-1 2h1m-1 2h1m-1 2h1m-1 3h1m-1 2h1m-1 1h1m-1 3h1m-1 3h1m-1 1h1m-1 4h1m0-21h1m-1 2h1m-1 9h1m-1 1h1m-1 1h1m-1 1h1m-1 1h1m-1 3h1m-1 1h1m-1 1h1m-1 1h1m-1 2h1m-1 1h1m-1 5h1m0-26h1m-1 1h1m-1 1h1m-1 3h1m-1 5h1m-1 5h1m-1 1h1m-1 4h1m-1 2h1m-1 2h1m-1 1h1m0-19h1m-1 1h1m-1 1h1m-1 3h1m-1 4h1m-1 5h1m-1 4h1m-1 1h1m-1 3h1m0-31h1m-1 3h1m-1 3h1m-1 2h1m-1 2h1m-1 3h1m-1 1h1m-1 2h1m-1 3h1m-1 5h1m-1 1h1m-1 3h1m0-32h1m-1 4h1m-1 14h1m-1 1h1m-1 1h1m-1 3h1m-1 8h1m0-24h1m-1 4h1m-1 3h1m-1 8h1m-1 6h1m-1 1h1m-1 4h1m0-9h1m0-22h1m-1 8h1m0-9h1m0 5h1m-1 24h1m1-13h1m2 8h1" stroke="#ff2020" stroke-width="1" opacity="0.31" fill="none" filter="url(#sb)"/>
<path d="M270 219.5h1m-1 20h1m4-82h1m1 8h1m3 75h1m2-53h1m1 28h1m0 13h1m0-14h1m1-12h1m-1 4h1m-1 14h1m0-34h1m-1 11h1m-1 7h1m0 2h1m-1 24h1m0-35h1m-1 1h1m-1 9h1m-1 28h1m0-20h1m-1 1h1m0-32h1m-1 4h1m-1 1h1m-1 15h1m-1 5h1m-1 4h1m-1 6h1m0-35h1m-1 27h1m-1 2h1m-1 2h1m0-10h1m-1 9h1m-1 1h1m-1 14h1m0-39h1m-1 18h1m-1 3h1m-1 2h1m-1 5h1m-1 13h1m-1 16h1m0-46h1m-1 7h1m-1 1h1m-1 6h1m-1 6h1m-1 26h1m0-85h1m-1 46h1m-1 1h1m-1 3h1m-1 25h1m0-49h1m-1 9h1m-1 2h1m-1 7h1m-1 1h1m-1 11h1m-1 14h1m0-48h1m-1 19h1m-1 7h1m-1 4h1m0-23h1m-1 3h1m-1 12h1m-1 2h1m-1 2h1m-1 8h1m-1 16h1m0-47h1m-1 12h1m-1 5h1m-1 3h1m-1 3h1m-1 3h1m-1 1h1m-1 2h1m0-22h1m-1 5h1m-1 7h1m-1 2h1m-1 4h1m-1 1h1m-1 11h1m-1 10h1m-1 13h1m0-49h1m-1 6h1m-1 3h1m-1 1h1m-1 2h1m-1 1h1m-1 7h1m-1 20h1m0-61h1m-1 18h1m-1 2h1m-1 5h1m-1 10h1m-1 6h1m-1 4h1m-1 5h1m0-37h1m-1 8h1m-1 6h1m-1 4h1m-1 1h1m-1 32h1m0-42h1m-1 17h1m-1 3h1m-1 1h1m-1 6h1m-1 1h1m-1 1h1m-1 8h1m-1 11h1m0-34h1m0-17h1m-1 4h1m-1 9h1m-1 1h1m-1 2h1m-1 12h1m-1 4h1m-1 9h1m-1 2h1m-1 4h1m0-64h1m-1 6h1m-1 27h1m-1 2h1m-1 1h1m-1 2h1m-1 14h1m-1 2h1m-1 13h1m-1 1h1m0-61h1m-1 2h1m-1 8h1m-1 9h1m-1 17h1m-1 2h1m-1 7h1m-1 10h1m0-47h1m-1 14h1m-1 2h1m-1 5h1m-1 8h1m-1 8h1m0-46h1m-1 2h1m-1 25h1m-1 1h1m0-17h1m-1 7h1m-1 15h1m-1 4h1m-1 1h1m-1 13h1m-1 2h1m0-34h1m-1 9h1m-1 22h1m0-51h1m-1 3h1m-1 12h1m-1 12h1m-1 2h1m-1 5h1m-1 19h1m-1 10h1m0-61h1m-1 21h1m-1 20h1m-1 5h1m0-24h1m-1 1h1m-1 8h1m-1 5h1m-1 1h1m-1 24h1m0-53h1m-1 6h1m-1 4h1m-1 1h1m-1 5h1m-1 17h1m0-42h1m-1 24h1m-1 6h1m-1 3h1m-1 7h1m-1 1h1m-1 1h1m-1 7h1m0-35h1m-1 1h1m-1 10h1m-1 3h1m-1 2h1m-1 13h1m-1 2h1m-1 3h1m-1 1h1m-1 1h1m0-29h1m-1 4h1m-1 5h1m-1 11h1m-1 1h1m-1 11h1m0-36h1m-1 8h1m-1 18h1m-1 13h1m-1 2h1m0-45h1m-1 13h1m-1 1h1m-1 8h1m-1 1h1m-1 4h1m-1 2h1m-1 3h1m-1 4h1m-1 8h1m-1 4h1m0-62h1m-1 18h1m-1 17h1m-1 9h1m-1 12h1m0-31h1m-1 3h1m-1 4h1m-1 1h1m-1 4h1m-1 4h1m-1 10h1m-1 4h1m0-49h1m-1 10h1m-1 1h1m-1 6h1m-1 3h1m-1 2h1m-1 1h1m-1 2h1m-1 2h1m-1 27h1m-1 3h1m0-46h1m-1 15h1m-1 1h1m-1 1h1m-1 2h1m-1 1h1m-1 4h1m-1 9h1m-1 7h1m0-42h1m-1 16h1m-1 20h1m0-35h1m-1 25h1m-1 2h1m-1 5h1m0-43h1m-1 10h1m-1 13h1m-1 8h1m-1 4h1m-1 7h1m0-36h1m-1 26h1m-1 11h1m-1 15h1m0-41h1m-1 16h1m-1 7h1m0-7h1m-1 2h1m-1 4h1m0-28h1m-1 9h1m-1 8h1m-1 13h1m-1 10h1m0-38h1m0-11h1m-1 15h1m-1 10h1m-1 1h1m-1 4h1m-1 3h1m0-17h1m-1 16h1m-1 11h1m0-14h1m0 8h1m-1 2h1m0 7h1m0-47h1m0-6h1m-1 18h1m-1 7h1m-1 7h1m-1 13h1m1-2h1m0 4h1m2 16h1m0-49h1m-1 49h1m3-20h1m-1 20h1m0-40h1" stroke="#ff2020" stroke-width="1" opacity="0.55" fill="none" filter="url(#sb)"/>
<path d="M264 222.5h1m4-9h1m2-21h1m9 19h1m-1 4h1m0 14h1m0 2h1m3-25h1m0-21h1m-1 34h1m0-25h1m-1 28h1m0-6h1m0-18h1m0-2h1m-1 11h1m-1 6h1m-1 8h1m0-13h1m-1 30h1m0-40h1m-1 8h1m-1 4h1m-1 4h1m-1 1h1m-1 6h1m-1 24h1m0-52h1m-1 1h1m-1 5h1m-1 4h1m-1 3h1m-1 6h1m0-30h1m-1 22h1m-1 15h1m0-20h1m-1 16h1m-1 14h1m0-43h1m-1 4h1m-1 4h1m-1 5h1m-1 7h1m-1 2h1m-1 5h1m-1 10h1m-1 22h1m0-53h1m-1 16h1m-1 4h1m-1 33h1m0-45h1m-1 1h1m-1 2h1m-1 2h1m-1 10h1m-1 30h1m0-60h1m-1 4h1m-1 26h1m0-9h1m-1 1h1m-1 1h1m-1 5h1m-1 2h1m-1 2h1m-1 1h1m-1 21h1m0-47h1m-1 19h1m0-20h1m-1 7h1m-1 1h1m-1 3h1m-1 1h1m-1 8h1m-1 15h1m-1 19h1m0-50h1m-1 6h1m-1 3h1m-1 2h1m-1 3h1m-1 4h1m-1 4h1m-1 4h1m0-20h1m-1 2h1m-1 1h1m-1 2h1m-1 1h1m-1 6h1m0-21h1m-1 2h1m-1 8h1m-1 13h1m-1 7h1m-1 23h1m0-67h1m-1 22h1m-1 36h1m-1 9h1m0-51h1m-1 3h1m-1 14h1m-1 6h1m-1 3h1m0-33h1m-1 4h1m-1 17h1m0-8h1m-1 1h1m-1 9h1m-1 6h1m-1 7h1m-1 1h1m-1 1h1m-1 3h1m0-45h1m-1 7h1m-1 8h1m-1 7h1m-1 4h1m-1 10h1m-1 4h1m-1 2h1m-1 5h1m0-30h1m-1 2h1m-1 9h1m-1 9h1m-1 3h1m-1 1h1m-1 21h1m0-73h1m-1 30h1m-1 11h1m-1 5h1m-1 3h1m-1 5h1m0-47h1m-1 9h1m-1 11h1m-1 3h1m0-9h1m-1 5h1m-1 2h1m-1 5h1m-1 6h1m-1 13h1m0-38h1m-1 10h1m-1 10h1m-1 1h1m-1 1h1m-1 6h1m-1 1h1m-1 12h1m-1 18h1m0-49h1m-1 14h1m-1 8h1m-1 4h1m-1 1h1m-1 4h1m-1 3h1m-1 2h1m-1 12h1m-1 1h1m0-38h1m-1 1h1m-1 5h1m-1 4h1m-1 3h1m0-22h1m-1 4h1m-1 9h1m-1 2h1m-1 4h1m-1 6h1m-1 2h1m-1 2h1m-1 15h1m0-58h1m-1 18h1m-1 16h1m-1 1h1m-1 3h1m-1 10h1m-1 2h1m-1 8h1m0-43h1m-1 3h1m-1 3h1m-1 4h1m-1 10h1m-1 3h1m-1 5h1m-1 8h1m-1 4h1m-1 6h1m0-52h1m-1 10h1m-1 21h1m-1 13h1m0-34h1m-1 36h1m-1 6h1m0-38h1m-1 2h1m-1 1h1m-1 4h1m-1 9h1m-1 22h1m0-57h1m-1 11h1m-1 2h1m-1 2h1m-1 3h1m-1 8h1m-1 6h1m-1 11h1m-1 9h1m0-53h1m-1 14h1m-1 1h1m-1 2h1m-1 2h1m-1 1h1m-1 18h1m-1 4h1m-1 3h1m-1 7h1m-1 1h1m-1 5h1m0-54h1m-1 10h1m-1 1h1m-1 6h1m-1 11h1m-1 7h1m-1 2h1m-1 1h1m-1 2h1m0-26h1m-1 6h1m-1 4h1m-1 1h1m-1 4h1m-1 3h1m-1 3h1m-1 1h1m-1 4h1m-1 7h1m0-45h1m-1 6h1m-1 3h1m-1 13h1m-1 2h1m-1 23h1m0-33h1m-1 17h1m-1 9h1m0-41h1m-1 3h1m-1 6h1m-1 6h1m-1 5h1m-1 2h1m-1 9h1m-1 22h1m0-30h1m-1 1h1m-1 5h1m-1 1h1m-1 14h1m0-31h1m-1 11h1m-1 5h1m-1 13h1m0-19h1m-1 10h1m-1 4h1m0-33h1m-1 16h1m-1 7h1m-1 26h1m0-49h1m-1 8h1m-1 4h1m-1 2h1m-1 12h1m-1 20h1m0-42h1m-1 3h1m-1 17h1m-1 18h1m-1 1h1m0-27h1m-1 2h1m0 13h1m0-33h1m-1 32h1m-1 7h1m0-22h1m0-39h1m-1 34h1m-1 5h1m-1 2h1m-1 5h1m-1 4h1m0 23h1m0-21h1m0 0h1m0 21h1m0-21h1m-1 21h1m0-7h1m-1 7h1m0 0h1m2-17h1m3-10h1m-1 27h1" stroke="#ff2020" stroke-width="1" opacity="0.26" fill="none" filter="url(#sb)"/>
<path d="M320 174.5h1m0 2h1m5-14h1m2 9h1m-1 1h1m-1 8h1m0-6h1m0-11h1m-1 6h1m0-1h1m-1 6h1m0-8h1m-1 8h1m0-6h1m1 1h1m1 1h1m0-7h1m1 8h1" stroke="#444" stroke-width="1" opacity="0.5" fill="none" filter="url(#sb)"/>
<path d="M316.6 172.0C316.3 169.6 316.6 167.4 317.9 165.2C319.1 163.0 321.3 160.4 324.1 158.7C326.9 156.9 330.9 155.0 334.4 154.7C338.0 154.4 343.2 154.7 345.4 156.7C347.6 158.7 347.9 163.3 347.9 166.6C347.9 169.8 347.1 173.8 345.4 176.2C343.7 178.6 339.8 179.9 337.6 181.0C335.4 182.2 334.3 182.7 332.2 183.0C330.2 183.3 327.2 183.3 325.1 182.7C322.9 182.1 320.8 181.1 319.4 179.3C318.0 177.5 316.9 174.3 316.6 172.0Z" fill="none" stroke="#333" stroke-width="0.75"/>
<text x="316" y="153" font-size="5.3" font-weight="normal" fill="#111" text-anchor="start" stroke="#333" stroke-width="0.1">P7(0.65%)</text>
<path d="M343 193.5h1m-1 1h1m-1 1h1m-1 4h1m-1 3h1m0-13h1m-1 1h1m-1 1h1m-1 1h1m-1 1h1m-1 1h1m-1 3h1m-1 1h1m-1 1h1m-1 1h1m-1 1h1m-1 3h1m0-15h1m-1 3h1m-1 2h1m-1 1h1m-1 1h1m-1 2h1m-1 2h1m-1 1h1m-1 5h1m0-19h1m-1 1h1m-1 1h1m-1 1h1m-1 5h1m-1 1h1m-1 2h1m-1 1h1m-1 1h1m-1 3h1m-1 4h1m-1 2h1m0-23h1m-1 2h1m-1 2h1m-1 3h1m-1 1h1m-1 2h1m-1 1h1m-1 1h1m-1 1h1m-1 1h1m-1 3h1m-1 1h1m-1 1h1m-1 1h1m-1 1h1m-1 1h1m-1 1h1m0-21h1m-1 1h1m-1 4h1m-1 1h1m-1 3h1m-1 1h1m-1 2h1m-1 4h1m-1 1h1m-1 1h1m-1 3h1m-1 1h1m0-25h1m-1 1h1m-1 1h1m-1 1h1m-1 1h1m-1 1h1m-1 1h1m-1 1h1m-1 1h1m-1 3h1m-1 5h1m-1 2h1m-1 2h1m-1 1h1m-1 1h1m-1 1h1m-1 1h1m-1 1h1m0-23h1m-1 1h1m-1 2h1m-1 1h1m-1 1h1m-1 1h1m-1 2h1m-1 2h1m-1 1h1m-1 1h1m-1 3h1m-1 4h1m-1 2h1m0-24h1m-1 1h1m-1 2h1m-1 2h1m-1 1h1m-1 3h1m-1 1h1m-1 2h1m-1 1h1m-1 2h1m-1 1h1m-1 1h1m-1 1h1m-1 2h1m-1 6h1m0-25h1m-1 1h1m-1 1h1m-1 1h1m-1 2h1m-1 1h1m-1 1h1m-1 3h1m-1 1h1m-1 1h1m-1 1h1m-1 1h1m-1 1h1m-1 2h1m-1 3h1m-1 1h1m-1 3h1m-1 1h1m-1 1h1m0-24h1m-1 1h1m-1 2h1m-1 2h1m-1 2h1m-1 1h1m-1 2h1m-1 1h1m-1 1h1m-1 2h1m-1 2h1m-1 2h1m-1 1h1m-1 2h1m-1 2h1m0-24h1m-1 1h1m-1 2h1m-1 4h1m-1 3h1m-1 2h1m-1 4h1m-1 1h1m-1 2h1m0-18h1m-1 1h1m-1 7h1m-1 2h1m-1 1h1m-1 1h1m-1 2h1m-1 3h1m-1 1h1m-1 1h1m-1 1h1m-1 1h1m-1 1h1m0-21h1m-1 1h1m-1 1h1m-1 1h1m-1 3h1m-1 1h1m-1 3h1m-1 3h1m-1 4h1m-1 2h1m0-18h1m-1 2h1m-1 2h1m-1 1h1m-1 1h1m-1 2h1m-1 3h1m-1 1h1m-1 1h1m-1 1h1m-1 1h1m0-10h1m-1 5h1m-1 1h1m-1 1h1m-1 2h1" stroke="#444" stroke-width="1" opacity="0.6" fill="none" filter="url(#sb)"/>
<path d="M341.6 188.3C342.7 185.1 345.7 182.7 348.4 181.9C351.2 181.1 356.3 181.4 358.3 183.5C360.3 185.6 360.3 191.2 360.6 194.4C360.9 197.6 360.3 200.4 360.0 202.8C359.8 205.2 360.4 207.0 359.1 208.9C357.8 210.7 354.6 213.7 352.2 214.0C349.8 214.3 346.4 212.6 344.6 210.5C342.9 208.4 342.1 205.2 341.6 201.5C341.1 197.8 340.5 191.6 341.6 188.3Z" fill="none" stroke="#333" stroke-width="0.75"/>
<text x="336.5" y="178.8" font-size="5.3" font-weight="normal" fill="#111" text-anchor="start" stroke="#333" stroke-width="0.1">P8(5.14%)</text>
<rect x="261.5" y="248.5" width="100.0" height="99.0" fill="none" stroke="#666" stroke-width="1"/>
<path d="M261.5 251.5h1.5M261.5 254.8h1.5M261.5 258.1h1.5M261.5 261.4h1.5M261.5 264.7h1.5M261.5 268.0h1.5M261.5 271.3h1.5M261.5 274.6h1.5M261.5 277.9h1.5M261.5 281.2h1.5M261.5 284.5h1.5M261.5 287.8h1.5M261.5 291.1h1.5M261.5 294.4h1.5M261.5 297.7h1.5M261.5 301.0h1.5M261.5 304.3h1.5M261.5 307.6h1.5M261.5 310.9h1.5M261.5 314.2h1.5M261.5 317.5h1.5M261.5 320.8h1.5M261.5 324.1h1.5M261.5 327.4h1.5M261.5 330.7h1.5M261.5 334.0h1.5M261.5 337.3h1.5M261.5 340.6h1.5M261.5 343.9h1.5M265.5 347.5v-1.3M269.9 347.5v-1.3M274.3 347.5v-1.3M278.7 347.5v-1.3M283.1 347.5v-1.3M287.5 347.5v-1.3M291.9 347.5v-1.3M296.3 347.5v-1.3M300.7 347.5v-1.3M305.1 347.5v-1.3M309.5 347.5v-1.3M313.9 347.5v-1.3M318.3 347.5v-1.3M322.7 347.5v-1.3M327.1 347.5v-1.3M331.5 347.5v-1.3M335.9 347.5v-1.3M340.3 347.5v-1.3M344.7 347.5v-1.3M349.1 347.5v-1.3M353.5 347.5v-1.3M357.9 347.5v-1.3" stroke="#999" stroke-width="0.6" fill="none"/>
<path d="M307 322.5h1m1-2h1m-1 11h1m0 3h1m0-17h1m-1 16h1m-1 2h1m-1 8h1m0-11h1m-1 2h1m-1 5h1m-1 2h1m0-20h1m-1 2h1m-1 10h1m0 4h1m0-13h1m-1 1h1m-1 2h1m-1 2h1m-1 3h1m-1 2h1m-1 1h1m-1 4h1m0-26h1m-1 3h1m-1 2h1m-1 1h1m-1 19h1m0-20h1m-1 1h1m-1 1h1m-1 5h1m-1 8h1m-1 1h1m-1 2h1m-1 9h1m0-22h1m-1 2h1m-1 3h1m-1 1h1m-1 3h1m-1 4h1m-1 2h1m-1 1h1m-1 7h1m0-32h1m-1 13h1m-1 2h1m-1 2h1m-1 1h1m-1 1h1m0-17h1m-1 4h1m-1 2h1m-1 5h1m-1 2h1m-1 5h1m-1 6h1m0-26h1m-1 5h1m-1 3h1m-1 4h1m-1 2h1m-1 4h1m-1 7h1m0-16h1m-1 2h1m-1 2h1m-1 1h1m-1 1h1m-1 1h1m-1 5h1m0-18h1m-1 1h1m-1 5h1m-1 7h1m-1 2h1m-1 1h1m-1 2h1m0-27h1m-1 15h1m-1 2h1m-1 1h1m-1 1h1m-1 1h1m-1 2h1m-1 1h1m-1 1h1m-1 1h1m-1 4h1m-1 1h1m0-12h1m-1 1h1m-1 1h1m-1 2h1m-1 1h1m-1 1h1m-1 1h1m-1 1h1m-1 1h1m-1 2h1m-1 1h1m-1 2h1m0-20h1m-1 1h1m-1 3h1m-1 1h1m-1 1h1m-1 3h1m-1 1h1m-1 3h1m-1 2h1m-1 1h1m0-22h1m-1 6h1m-1 6h1m-1 2h1m-1 1h1m-1 2h1m-1 4h1m-1 1h1m-1 6h1m0-19h1m-1 12h1m-1 2h1m-1 1h1m-1 3h1m0-23h1m-1 2h1m-1 11h1m-1 1h1m-1 3h1m-1 6h1m0-30h1m-1 11h1m-1 2h1m-1 6h1m-1 7h1m-1 3h1m0-22h1m-1 1h1m-1 6h1m-1 3h1m-1 9h1m-1 7h1m0-19h1m-1 6h1m-1 3h1m-1 2h1m-1 1h1m0-10h1m-1 3h1m-1 14h1m0-21h1m-1 6h1m-1 1h1m-1 7h1m0-29h1m-1 18h1m-1 10h1m0 0h1m-1 4h1m1-20h1m-1 25h1m1-11h1m0-6h1" stroke="#ff2020" stroke-width="1" opacity="0.66" fill="none" filter="url(#sb)"/>
<path d="M301 337.5h1m1 1h1m1-14h1m3 3h1m-1 12h1m-1 1h1m0-15h1m-1 8h1m-1 1h1m-1 2h1m0-15h1m-1 2h1m-1 1h1m-1 10h1m-1 1h1m-1 2h1m-1 4h1m0-14h1m-1 17h1m0-25h1m-1 7h1m-1 1h1m-1 3h1m-1 9h1m0-22h1m-1 3h1m-1 5h1m-1 1h1m-1 6h1m-1 3h1m0-12h1m-1 1h1m-1 11h1m-1 1h1m0-17h1m-1 3h1m-1 5h1m-1 4h1m-1 10h1m-1 5h1m0-20h1m-1 2h1m-1 1h1m-1 2h1m-1 1h1m-1 2h1m-1 1h1m0-22h1m-1 14h1m-1 2h1m-1 1h1m-1 3h1m0-18h1m-1 9h1m-1 8h1m-1 1h1m-1 1h1m-1 2h1m-1 4h1m-1 1h1m-1 1h1m0-28h1m-1 4h1m-1 1h1m-1 4h1m-1 8h1m-1 2h1m-1 2h1m-1 2h1m0-34h1m-1 15h1m-1 2h1m-1 1h1m-1 2h1m-1 3h1m-1 1h1m-1 3h1m-1 2h1m-1 1h1m-1 2h1m-1 2h1m-1 1h1m0-15h1m-1 3h1m-1 2h1m-1 1h1m-1 4h1m0-12h1m-1 1h1m-1 6h1m-1 4h1m-1 5h1m0-20h1m-1 3h1m-1 3h1m-1 3h1m-1 3h1m-1 1h1m-1 2h1m-1 1h1m-1 1h1m-1 2h1m-1 2h1m-1 1h1m-1 5h1m0-21h1m-1 2h1m-1 1h1m-1 2h1m-1 4h1m-1 2h1m-1 11h1m0-28h1m-1 8h1m-1 1h1m-1 2h1m-1 9h1m-1 1h1m0-19h1m-1 5h1m-1 1h1m-1 8h1m-1 12h1m0-17h1m-1 3h1m-1 5h1m-1 2h1m-1 3h1m-1 4h1m0-36h1m-1 13h1m-1 8h1m-1 1h1m-1 5h1m-1 8h1m-1 1h1m0-24h1m-1 5h1m-1 7h1m-1 10h1m0-20h1m-1 11h1m-1 6h1m0-12h1m-1 3h1m-1 1h1m-1 1h1m-1 3h1m0-17h1m-1 6h1m-1 8h1m-1 3h1m0-14h1m-1 1h1m-1 21h1m0-21h1m-1 7h1m-1 5h1m0-15h1m-1 4h1m0 2h1m-1 1h1m-1 2h1m5 10h1" stroke="#ff2020" stroke-width="1" opacity="0.31" fill="none" filter="url(#sb)"/>
<path d="M264 286.5h1m1 10h1m13 45h1m3-89h1m3 50h1m4-20h1m4 24h1m-1 18h1m0-18h1m-1 40h1m1-12h1m0-43h1m-1 13h1m-1 13h1m-1 5h1m1 9h1m0-56h1m-1 8h1m-1 14h1m0-8h1m-1 40h1m0-12h1m-1 5h1m-1 1h1m-1 23h1m0-64h1m-1 35h1m-1 8h1m0-34h1m-1 55h1m0-54h1m-1 1h1m-1 9h1m-1 14h1m-1 30h1m0-57h1m-1 57h1m0-37h1m-1 2h1m0 4h1m0-12h1m-1 27h1m0-37h1m-1 30h1m0-21h1m-1 2h1m-1 8h1m-1 1h1m0-35h1m-1 16h1m-1 19h1m-1 33h1m0-48h1m-1 15h1m0-23h1m-1 11h1m-1 16h1m-1 11h1m0-28h1m-1 19h1m0-35h1m-1 6h1m-1 12h1m-1 1h1m-1 43h1m0-52h1m-1 52h1m0-49h1m-1 3h1m-1 14h1m0-12h1m-1 3h1m-1 6h1m-1 5h1m-1 30h1m0-59h1m-1 34h1m0-44h1m-1 52h1m0-28h1m-1 5h1m-1 24h1m0-58h1m-1 38h1m-1 5h1m0-12h1m-1 24h1m-1 19h1m0-71h1m-1 34h1m0-11h1m0 12h1m-1 24h1m1-32h1m-1 44h1m0-33h1m-1 33h1m0-41h1m-1 12h1m-1 1h1m0-26h1m-1 17h1m1 4h1m-1 2h1m-1 9h1m-1 2h1m-1 20h1m0-61h1m0 21h1m0 40h1m3-43h1m2-12h1m-1 13h1" stroke="#ff2020" stroke-width="1" opacity="0.55" fill="none" filter="url(#sb)"/>
<path d="M278 275.5h1m1 23h1m9 9h1m-1 3h1m0-18h1m0-13h1m-1 45h1m2-49h1m-1 36h1m1-13h1m0-43h1m-1 52h1m-1 3h1m-1 13h1m-1 23h1m0-45h1m-1 7h1m-1 1h1m0-20h1m-1 3h1m-1 8h1m-1 46h1m0-38h1m-1 38h1m1-61h1m0-13h1m-1 22h1m-1 17h1m0-12h1m0 1h1m-1 14h1m-1 10h1m0-50h1m0 6h1m-1 44h1m-1 22h1m1-65h1m0 27h1m-1 5h1m-1 33h1m0-46h1m0-23h1m-1 14h1m-1 55h1m0-61h1m-1 1h1m-1 60h1m0-64h1m-1 2h1m-1 12h1m-1 9h1m-1 1h1m0-7h1m-1 17h1m-1 13h1m-1 17h1m0-44h1m-1 44h1m0-68h1m-1 13h1m-1 18h1m-1 37h1m0-54h1m-1 4h1m-1 2h1m-1 1h1m0-13h1m-1 10h1m-1 9h1m0 11h1m0 10h1m0-38h1m-1 15h1m-1 4h1m-1 2h1m0 3h1m-1 12h1m0-42h1m0 6h1m-1 58h1m0-52h1m0 10h1m-1 38h1m0-44h1m-1 48h1m0-46h1m-1 3h1m0-21h1m-1 15h1m-1 4h1m-1 6h1m1-17h1m-1 9h1m0 22h1m1 5h1m0-23h1m0-49h1m-1 28h1m-1 24h1m-1 5h1m-1 5h1m0-39h1m-1 30h1m-1 30h1m1-39h1m0 10h1m-1 2h1m-1 3h1m-1 33h1m2-92h1m2 41h1m5-24h1" stroke="#ff2020" stroke-width="1" opacity="0.26" fill="none" filter="url(#sb)"/>
<path d="M312 279.5h1m2-8h1m3 6h1m2-15h1m-1 20h1" stroke="#444" stroke-width="1" opacity="0.5" fill="none" filter="url(#sb)"/>
<path d="M305.4 276.8C305.1 274.5 305.4 272.2 306.7 270.0C307.9 267.7 310.2 265.2 313.0 263.4C315.8 261.6 319.8 259.7 323.4 259.4C327.0 259.1 332.2 259.4 334.5 261.4C336.7 263.4 337.0 268.1 337.0 271.4C337.0 274.7 336.2 278.7 334.5 281.1C332.7 283.6 328.8 284.9 326.6 286.0C324.4 287.1 323.3 287.7 321.2 288.0C319.1 288.3 316.1 288.3 313.9 287.7C311.8 287.1 309.7 286.1 308.2 284.3C306.8 282.5 305.7 279.2 305.4 276.8Z" fill="none" stroke="#333" stroke-width="0.75"/>
<text x="305.4" y="255.8" font-size="5.3" font-weight="normal" fill="#111" text-anchor="start" stroke="#333" stroke-width="0.1">P7(0.54%)</text>
<path d="M339 295.5h1m-1 2h1m-1 1h1m-1 1h1m-1 1h1m-1 1h1m0-8h1m-1 2h1m-1 3h1m-1 1h1m-1 1h1m-1 1h1m-1 1h1m-1 1h1m-1 1h1m-1 2h1m0-10h1m-1 3h1m-1 1h1m-1 1h1m-1 2h1m-1 3h1m-1 2h1m-1 1h1m0-19h1m-1 4h1m-1 3h1m-1 1h1m-1 1h1m-1 1h1m-1 1h1m-1 1h1m-1 1h1m-1 2h1m-1 1h1m-1 3h1m0-21h1m-1 4h1m-1 1h1m-1 2h1m-1 3h1m-1 1h1m-1 2h1m-1 1h1m-1 2h1m-1 5h1m-1 3h1m0-24h1m-1 1h1m-1 5h1m-1 1h1m-1 4h1m-1 2h1m-1 1h1m-1 1h1m-1 2h1m-1 1h1m-1 2h1m-1 2h1m-1 2h1m0-24h1m-1 1h1m-1 4h1m-1 1h1m-1 1h1m-1 3h1m-1 1h1m-1 1h1m-1 5h1m-1 4h1m-1 1h1m-1 2h1m0-25h1m-1 4h1m-1 2h1m-1 1h1m-1 2h1m-1 1h1m-1 2h1m-1 2h1m-1 1h1m-1 1h1m-1 1h1m-1 1h1m-1 2h1m-1 1h1m-1 1h1m-1 1h1m-1 1h1m-1 3h1m0-25h1m-1 1h1m-1 1h1m-1 2h1m-1 1h1m-1 1h1m-1 3h1m-1 1h1m-1 2h1m-1 1h1m-1 4h1m-1 3h1m-1 2h1m-1 1h1m-1 2h1m0-26h1m-1 3h1m-1 2h1m-1 2h1m-1 3h1m-1 2h1m-1 1h1m-1 2h1m-1 2h1m-1 2h1m-1 1h1m-1 4h1m-1 1h1m0-26h1m-1 2h1m-1 3h1m-1 1h1m-1 1h1m-1 1h1m-1 4h1m-1 2h1m-1 3h1m-1 2h1m-1 1h1m-1 1h1m-1 3h1m-1 1h1m-1 1h1m0-25h1m-1 2h1m-1 4h1m-1 2h1m-1 2h1m-1 1h1m-1 1h1m-1 2h1m-1 1h1m-1 1h1m-1 1h1m-1 2h1m-1 3h1m0-22h1m-1 1h1m-1 3h1m-1 3h1m-1 3h1m-1 1h1m-1 3h1m-1 1h1m-1 1h1m-1 4h1m0-18h1m-1 1h1m-1 2h1m-1 1h1m-1 1h1m-1 2h1m-1 1h1m-1 1h1m-1 1h1m-1 3h1m-1 2h1m-1 1h1m-1 1h1m-1 2h1m0-18h1m-1 2h1m-1 3h1m-1 2h1m-1 1h1m-1 1h1m-1 1h1m-1 1h1m-1 1h1m-1 1h1m-1 1h1m-1 1h1m-1 1h1m-1 1h1m0-15h1m-1 1h1m-1 1h1m-1 2h1m-1 3h1m-1 1h1m-1 4h1m-1 1h1m-1 2h1m0-14h1m-1 1h1m-1 1h1m-1 3h1m-1 1h1m-1 1h1m-1 1h1m-1 1h1m-1 2h1m0-8h1m-1 2h1m-1 3h1" stroke="#444" stroke-width="1" opacity="0.6" fill="none" filter="url(#sb)"/>
<path d="M337.5 291.0C338.7 287.7 341.9 285.4 344.9 284.6C347.9 283.8 353.4 284.1 355.5 286.2C357.7 288.3 357.7 293.9 358.0 297.1C358.3 300.3 357.7 303.0 357.4 305.4C357.1 307.8 357.8 309.6 356.4 311.5C355.0 313.3 351.6 316.3 349.0 316.6C346.4 316.9 342.7 315.2 340.8 313.1C338.9 311.0 338.0 307.8 337.5 304.1C337.0 300.4 336.3 294.3 337.5 291.0Z" fill="none" stroke="#333" stroke-width="0.75"/>
<text x="333.5" y="280.8" font-size="5.3" font-weight="normal" fill="#111" text-anchor="start" stroke="#333" stroke-width="0.1">P8(11.44%)</text>
<rect x="261.5" y="349.5" width="100.0" height="100.0" fill="none" stroke="#666" stroke-width="1"/>
<path d="M261.5 352.5h1.5M261.5 355.8h1.5M261.5 359.1h1.5M261.5 362.4h1.5M261.5 365.7h1.5M261.5 369.0h1.5M261.5 372.3h1.5M261.5 375.6h1.5M261.5 378.9h1.5M261.5 382.2h1.5M261.5 385.5h1.5M261.5 388.8h1.5M261.5 392.1h1.5M261.5 395.4h1.5M261.5 398.7h1.5M261.5 402.0h1.5M261.5 405.3h1.5M261.5 408.6h1.5M261.5 411.9h1.5M261.5 415.2h1.5M261.5 418.5h1.5M261.5 421.8h1.5M261.5 425.1h1.5M261.5 428.4h1.5M261.5 431.7h1.5M261.5 435.0h1.5M261.5 438.3h1.5M261.5 441.6h1.5M261.5 444.9h1.5M261.5 448.2h1.5M265.5 449.5v-1.3M269.9 449.5v-1.3M274.3 449.5v-1.3M278.7 449.5v-1.3M283.1 449.5v-1.3M287.5 449.5v-1.3M291.9 449.5v-1.3M296.3 449.5v-1.3M300.7 449.5v-1.3M305.1 449.5v-1.3M309.5 449.5v-1.3M313.9 449.5v-1.3M318.3 449.5v-1.3M322.7 449.5v-1.3M327.1 449.5v-1.3M331.5 449.5v-1.3M335.9 449.5v-1.3M340.3 449.5v-1.3M344.7 449.5v-1.3M349.1 449.5v-1.3M353.5 449.5v-1.3M357.9 449.5v-1.3" stroke="#999" stroke-width="0.6" fill="none"/>
<path d="M315 424.5h1m-1 9h1m0 3h1m0 8h1m1-14h1m-1 4h1m-1 8h1m0-20h1m-1 8h1m-1 5h1m0-7h1m0 1h1m-1 2h1m-1 12h1m0-29h1m-1 2h1m-1 19h1m-1 6h1m0-27h1m-1 2h1m-1 10h1m-1 6h1m-1 1h1m0-23h1m-1 16h1m-1 4h1m-1 1h1m-1 1h1m-1 1h1m-1 1h1m-1 4h1m-1 6h1m0-25h1m-1 7h1m-1 2h1m-1 4h1m-1 1h1m-1 1h1m-1 5h1m-1 1h1m-1 6h1m0-31h1m-1 9h1m-1 4h1m-1 1h1m-1 2h1m-1 1h1m-1 4h1m0-31h1m-1 10h1m-1 1h1m-1 6h1m-1 2h1m-1 2h1m-1 1h1m-1 2h1m-1 1h1m-1 2h1m-1 2h1m-1 8h1m-1 1h1m-1 2h1m-1 2h1m0-22h1m-1 1h1m-1 1h1m-1 1h1m-1 1h1m-1 1h1m-1 1h1m-1 2h1m-1 4h1m-1 1h1m-1 1h1m-1 4h1m0-16h1m-1 2h1m-1 4h1m-1 2h1m-1 1h1m-1 6h1m-1 3h1m0-29h1m-1 12h1m-1 1h1m-1 1h1m-1 2h1m-1 1h1m-1 9h1m0-24h1m-1 4h1m-1 1h1m-1 1h1m-1 3h1m-1 6h1m-1 1h1m-1 1h1m-1 1h1m-1 5h1m-1 2h1m-1 1h1m-1 1h1m-1 1h1m0-31h1m-1 3h1m-1 1h1m-1 4h1m-1 6h1m-1 8h1m-1 2h1m-1 1h1m-1 1h1m0-25h1m-1 4h1m-1 1h1m-1 1h1m-1 5h1m-1 1h1m-1 1h1m-1 1h1m-1 4h1m-1 1h1m-1 3h1m-1 4h1m0-30h1m-1 10h1m-1 3h1m-1 3h1m-1 3h1m-1 4h1m-1 1h1m-1 1h1m-1 1h1m-1 5h1m-1 3h1m0-32h1m-1 9h1m-1 2h1m-1 2h1m-1 6h1m-1 3h1m-1 1h1m0-19h1m-1 9h1m-1 2h1m-1 5h1m-1 1h1m-1 3h1m-1 5h1m0-28h1m-1 14h1m-1 1h1m-1 3h1m-1 2h1m-1 10h1m0-25h1m-1 4h1m-1 4h1m-1 2h1m-1 10h1m-1 3h1m0-11h1m-1 7h1m-1 3h1m0-14h1m-1 5h1m-1 7h1m0-22h1m-1 4h1m0 1h1m1 8h1" stroke="#ff2020" stroke-width="1" opacity="0.66" fill="none" filter="url(#sb)"/>
<path d="M317 430.5h1m-1 3h1m1-5h1m-1 3h1m-1 3h1m0-7h1m0-7h1m-1 3h1m-1 6h1m-1 3h1m-1 4h1m0-9h1m0-13h1m-1 5h1m-1 8h1m-1 4h1m-1 9h1m0-24h1m-1 3h1m-1 24h1m0-24h1m-1 2h1m-1 7h1m-1 1h1m-1 3h1m-1 10h1m-1 2h1m-1 3h1m0-28h1m-1 3h1m-1 3h1m-1 1h1m-1 1h1m-1 5h1m-1 4h1m-1 3h1m-1 1h1m-1 3h1m0-44h1m-1 16h1m-1 8h1m-1 3h1m-1 1h1m-1 2h1m-1 7h1m-1 1h1m-1 2h1m-1 2h1m-1 2h1m-1 3h1m0-27h1m-1 7h1m-1 1h1m-1 1h1m-1 2h1m-1 1h1m-1 6h1m-1 1h1m-1 2h1m-1 2h1m-1 5h1m0-26h1m-1 1h1m-1 2h1m-1 2h1m-1 3h1m-1 3h1m-1 3h1m-1 1h1m-1 1h1m-1 3h1m-1 1h1m-1 4h1m-1 2h1m0-34h1m-1 6h1m-1 3h1m-1 3h1m-1 3h1m-1 7h1m-1 1h1m-1 2h1m-1 1h1m-1 1h1m-1 5h1m0-41h1m-1 13h1m-1 5h1m-1 1h1m-1 1h1m-1 4h1m-1 1h1m-1 2h1m-1 1h1m-1 1h1m-1 1h1m-1 6h1m-1 7h1m0-29h1m-1 3h1m-1 1h1m-1 2h1m-1 1h1m-1 1h1m-1 3h1m-1 1h1m-1 1h1m-1 1h1m-1 3h1m-1 1h1m-1 1h1m-1 2h1m-1 1h1m0-31h1m-1 15h1m-1 7h1m-1 5h1m-1 1h1m-1 2h1m-1 2h1m-1 3h1m-1 1h1m0-32h1m-1 6h1m-1 2h1m-1 1h1m-1 2h1m-1 11h1m-1 7h1m-1 2h1m-1 1h1m-1 3h1m0-30h1m-1 3h1m-1 4h1m-1 4h1m-1 5h1m-1 4h1m-1 1h1m-1 8h1m0-32h1m-1 7h1m-1 13h1m-1 1h1m-1 5h1m-1 2h1m-1 2h1m-1 1h1m0-35h1m-1 10h1m-1 3h1m-1 2h1m0-8h1m-1 10h1m-1 7h1m-1 2h1m0 2h1m0-22h1m-1 1h1m-1 14h1m-1 9h1m-1 2h1m0-21h1m-1 14h1m-1 1h1m0 0h1m0-13h1" stroke="#ff2020" stroke-width="1" opacity="0.31" fill="none" filter="url(#sb)"/>
<path d="M288 439.5h1m1-27h1m-1 16h1m2-24h1m1 12h1m-1 2h1m-1 4h1m-1 16h1m0-33h1m-1 13h1m-1 6h1m0-31h1m-1 10h1m-1 3h1m-1 8h1m-1 1h1m-1 3h1m-1 28h1m0-50h1m-1 18h1m-1 8h1m0-26h1m-1 13h1m-1 12h1m-1 3h1m-1 5h1m-1 19h1m0-55h1m-1 11h1m-1 9h1m-1 3h1m-1 8h1m-1 1h1m0-13h1m-1 1h1m-1 7h1m-1 4h1m-1 1h1m-1 1h1m0-32h1m-1 3h1m-1 2h1m-1 6h1m-1 2h1m-1 4h1m-1 3h1m-1 2h1m0-17h1m-1 5h1m-1 5h1m-1 5h1m-1 2h1m-1 4h1m-1 8h1m0-26h1m-1 1h1m-1 10h1m-1 3h1m-1 3h1m-1 7h1m-1 1h1m-1 21h1m0-66h1m-1 17h1m-1 5h1m-1 1h1m-1 1h1m-1 3h1m-1 1h1m-1 7h1m-1 11h1m-1 5h1m-1 13h1m-1 2h1m0-60h1m-1 18h1m-1 3h1m-1 2h1m-1 1h1m-1 1h1m-1 1h1m-1 11h1m-1 23h1m0-58h1m-1 16h1m-1 5h1m-1 10h1m-1 1h1m0-28h1m-1 1h1m-1 4h1m-1 1h1m-1 5h1m-1 3h1m-1 6h1m-1 1h1m-1 1h1m0-25h1m-1 8h1m-1 6h1m-1 1h1m-1 1h1m-1 2h1m-1 3h1m-1 14h1m0-39h1m-1 1h1m-1 15h1m-1 7h1m-1 2h1m-1 1h1m-1 3h1m-1 3h1m-1 1h1m-1 2h1m-1 10h1m-1 8h1m-1 8h1m0-62h1m-1 2h1m-1 3h1m-1 1h1m-1 4h1m-1 1h1m-1 1h1m-1 1h1m-1 4h1m-1 3h1m-1 9h1m-1 1h1m-1 16h1m0-48h1m-1 1h1m-1 4h1m-1 5h1m-1 1h1m-1 4h1m-1 3h1m-1 3h1m-1 6h1m-1 1h1m-1 14h1m-1 2h1m-1 3h1m-1 17h1m0-67h1m-1 5h1m-1 2h1m-1 12h1m-1 5h1m-1 7h1m-1 5h1m0-38h1m-1 8h1m-1 4h1m-1 1h1m-1 7h1m-1 2h1m-1 6h1m-1 3h1m-1 6h1m-1 2h1m-1 7h1m0-44h1m-1 5h1m-1 5h1m-1 9h1m-1 12h1m0-34h1m-1 2h1m-1 14h1m-1 5h1m-1 7h1m-1 42h1m0-67h1m-1 5h1m-1 3h1m-1 6h1m-1 1h1m-1 9h1m-1 43h1m0-60h1m-1 1h1m-1 1h1m-1 1h1m-1 1h1m-1 3h1m-1 10h1m-1 24h1m0-45h1m-1 25h1m-1 5h1m-1 6h1m0-39h1m-1 4h1m-1 1h1m-1 1h1m-1 1h1m-1 8h1m-1 17h1m-1 2h1m-1 2h1m0-40h1m-1 10h1m-1 19h1m-1 7h1m0-30h1m0 8h1m-1 8h1m-1 5h1m-1 11h1m-1 12h1m0-30h1m-1 12h1m-1 1h1m-1 4h1m0-29h1m0 7h1m-1 23h1m-1 1h1m0-8h1m-1 11h1m0-22h1m-1 6h1m-1 13h1m-1 32h1m0-55h1m-1 15h1m0-14h1m-1 15h1m-1 39h1m0-39h1m0 13h1m1-4h1m1 2h1m-1 28h1m0 0h1m1 0h1m0-32h1m-1 32h1m1-31h1m2 31h1m0-30h1m-1 30h1" stroke="#ff2020" stroke-width="1" opacity="0.55" fill="none" filter="url(#sb)"/>
<path d="M268 379.5h1m0 20h1m15 28h1m4-42h1m-1 26h1m0-5h1m-1 6h1m0-15h1m-1 27h1m1-20h1m-1 17h1m-1 3h1m0-28h1m-1 11h1m0-10h1m-1 21h1m0-24h1m-1 2h1m-1 4h1m-1 21h1m0-16h1m-1 10h1m-1 3h1m-1 5h1m-1 4h1m-1 7h1m-1 14h1m0-50h1m-1 6h1m-1 6h1m-1 3h1m-1 4h1m-1 2h1m-1 4h1m-1 1h1m0-30h1m-1 3h1m-1 1h1m-1 6h1m-1 6h1m-1 10h1m-1 4h1m-1 2h1m0-36h1m-1 12h1m-1 3h1m-1 14h1m-1 14h1m0-32h1m-1 6h1m-1 9h1m-1 2h1m-1 3h1m-1 3h1m-1 6h1m0-36h1m-1 2h1m-1 2h1m-1 7h1m-1 1h1m-1 6h1m-1 8h1m-1 11h1m-1 17h1m0-49h1m-1 2h1m-1 18h1m0-27h1m-1 1h1m-1 1h1m-1 12h1m-1 4h1m-1 1h1m-1 7h1m-1 6h1m-1 2h1m-1 14h1m0-44h1m-1 2h1m-1 4h1m-1 1h1m-1 1h1m-1 4h1m-1 8h1m-1 6h1m-1 4h1m-1 1h1m-1 6h1m-1 15h1m0-43h1m-1 2h1m-1 7h1m-1 5h1m-1 4h1m-1 5h1m0-27h1m-1 3h1m-1 13h1m-1 1h1m-1 15h1m0-54h1m-1 6h1m-1 12h1m-1 1h1m-1 1h1m-1 5h1m-1 2h1m-1 1h1m-1 2h1m-1 10h1m-1 2h1m-1 7h1m0-39h1m-1 2h1m-1 5h1m-1 1h1m-1 7h1m-1 8h1m-1 5h1m-1 9h1m-1 2h1m0-44h1m-1 2h1m-1 3h1m-1 2h1m-1 7h1m-1 2h1m-1 6h1m-1 1h1m-1 15h1m0-42h1m-1 4h1m-1 1h1m-1 1h1m-1 8h1m-1 7h1m-1 2h1m-1 5h1m-1 8h1m-1 9h1m-1 23h1m0-45h1m-1 2h1m-1 6h1m-1 26h1m-1 11h1m0-61h1m-1 1h1m-1 3h1m-1 3h1m-1 3h1m-1 14h1m-1 3h1m0-29h1m-1 3h1m-1 3h1m-1 2h1m-1 3h1m-1 15h1m-1 2h1m-1 1h1m0-30h1m-1 3h1m-1 2h1m-1 1h1m-1 2h1m-1 1h1m-1 3h1m-1 6h1m-1 4h1m-1 19h1m0-36h1m-1 3h1m-1 2h1m-1 2h1m-1 4h1m-1 5h1m-1 6h1m-1 3h1m-1 10h1m0-44h1m-1 1h1m-1 10h1m-1 13h1m-1 1h1m0-29h1m-1 1h1m-1 7h1m-1 1h1m-1 1h1m-1 1h1m-1 1h1m-1 1h1m-1 4h1m-1 5h1m-1 3h1m-1 2h1m-1 22h1m0-37h1m-1 13h1m-1 2h1m-1 24h1m-1 21h1m0-98h1m-1 38h1m-1 3h1m-1 1h1m-1 11h1m-1 12h1m-1 13h1m-1 3h1m0-49h1m-1 1h1m-1 2h1m-1 1h1m-1 5h1m-1 5h1m-1 6h1m-1 6h1m0 1h1m-1 10h1m-1 4h1m0-52h1m-1 19h1m-1 1h1m0 0h1m-1 2h1m-1 1h1m-1 6h1m-1 8h1m-1 8h1m-1 7h1m-1 25h1m0-59h1m-1 19h1m1-21h1m-1 9h1m-1 52h1m0-30h1m-1 7h1m1-31h1m-1 11h1m1 8h1m0-20h1m-1 14h1m1-6h1m2 47h1m0 0h1m10-9h1" stroke="#ff2020" stroke-width="1" opacity="0.26" fill="none" filter="url(#sb)"/>
<path d="M320 370.5h1m0 6h1m5-12h1m-1 11h1m-1 5h1m0-13h1m-1 1h1m-1 2h1m-1 4h1m0-14h1m-1 15h1m1-8h1m-1 1h1m0-1h1m-1 2h1m-1 2h1m0-4h1m-1 8h1m0-12h1m0 10h1m-1 1h1m2-3h1m0 2h1m-1 1h1m0-3h1m0-1h1" stroke="#444" stroke-width="1" opacity="0.5" fill="none" filter="url(#sb)"/>
<path d="M315.8 373.8C315.5 371.4 315.8 369.2 317.0 366.9C318.3 364.7 320.5 362.1 323.2 360.4C325.9 358.6 329.9 356.7 333.4 356.4C336.9 356.1 342.0 356.4 344.2 358.4C346.4 360.4 346.7 365.1 346.7 368.4C346.7 371.6 345.9 375.6 344.2 378.1C342.5 380.5 338.7 381.8 336.5 382.9C334.3 384.0 333.3 384.6 331.2 384.9C329.2 385.2 326.3 385.2 324.1 384.6C322.0 384.0 320.0 383.0 318.6 381.2C317.2 379.4 316.1 376.2 315.8 373.8Z" fill="none" stroke="#333" stroke-width="0.75"/>
<text x="315.4" y="354.8" font-size="5.3" font-weight="normal" fill="#111" text-anchor="start" stroke="#333" stroke-width="0.1">P7(1.01%)</text>
<path d="M342 398.5h1m-1 1h1m-1 2h1m0-8h1m-1 1h1m-1 6h1m-1 3h1m0-11h1m-1 2h1m-1 4h1m-1 3h1m-1 1h1m-1 1h1m-1 4h1m0-18h1m-1 3h1m-1 2h1m-1 4h1m-1 5h1m-1 1h1m-1 2h1m-1 3h1m0-20h1m-1 3h1m-1 4h1m-1 2h1m-1 4h1m-1 3h1m-1 1h1m-1 2h1m0-20h1m-1 3h1m-1 3h1m-1 4h1m-1 5h1m0-17h1m-1 1h1m-1 4h1m-1 8h1m-1 2h1m-1 1h1m-1 6h1m-1 1h1m0-15h1m-1 1h1m-1 8h1m-1 3h1m-1 1h1m-1 2h1m0-18h1m-1 6h1m-1 3h1m-1 5h1m-1 1h1m0-15h1m-1 1h1m-1 2h1m-1 9h1m-1 8h1m0-12h1m-1 6h1m-1 2h1m0-18h1m-1 1h1m-1 9h1m-1 5h1m-1 5h1m0-14h1m-1 5h1m-1 3h1m-1 1h1m0-12h1m-1 4h1m-1 5h1m-1 3h1m0-7h1m-1 3h1m-1 7h1m0-15h1m-1 5h1" stroke="#444" stroke-width="1" opacity="0.55" fill="none" filter="url(#sb)"/>
<path d="M341.0 390.0C342.1 386.6 345.0 384.2 347.7 383.4C350.4 382.6 355.4 382.9 357.4 385.0C359.4 387.2 359.3 392.9 359.6 396.2C359.9 399.5 359.3 402.3 359.0 404.7C358.8 407.2 359.4 409.0 358.1 411.0C356.8 412.9 353.8 415.9 351.4 416.2C349.1 416.5 345.7 414.7 344.0 412.6C342.2 410.5 341.5 407.2 341.0 403.4C340.5 399.6 339.9 393.3 341.0 390.0Z" fill="none" stroke="#333" stroke-width="0.75"/>
<text x="336" y="379.6" font-size="5.3" font-weight="normal" fill="#111" text-anchor="start" stroke="#333" stroke-width="0.1">P8(0.70%)</text>
<rect x="546.5" y="47.5" width="99.0" height="101.0" fill="none" stroke="#666" stroke-width="1"/>
<path d="M546.5 50.5h1.5M546.5 53.8h1.5M546.5 57.1h1.5M546.5 60.4h1.5M546.5 63.7h1.5M546.5 67.0h1.5M546.5 70.3h1.5M546.5 73.6h1.5M546.5 76.9h1.5M546.5 80.2h1.5M546.5 83.5h1.5M546.5 86.8h1.5M546.5 90.1h1.5M546.5 93.4h1.5M546.5 96.7h1.5M546.5 100.0h1.5M546.5 103.3h1.5M546.5 106.6h1.5M546.5 109.9h1.5M546.5 113.2h1.5M546.5 116.5h1.5M546.5 119.8h1.5M546.5 123.1h1.5M546.5 126.4h1.5M546.5 129.7h1.5M546.5 133.0h1.5M546.5 136.3h1.5M546.5 139.6h1.5M546.5 142.9h1.5M546.5 146.2h1.5M550.5 148.5v-1.3M554.9 148.5v-1.3M559.3 148.5v-1.3M563.7 148.5v-1.3M568.1 148.5v-1.3M572.5 148.5v-1.3M576.9 148.5v-1.3M581.3 148.5v-1.3M585.7 148.5v-1.3M590.1 148.5v-1.3M594.5 148.5v-1.3M598.9 148.5v-1.3M603.3 148.5v-1.3M607.7 148.5v-1.3M612.1 148.5v-1.3M616.5 148.5v-1.3M620.9 148.5v-1.3M625.3 148.5v-1.3M629.7 148.5v-1.3M634.1 148.5v-1.3M638.5 148.5v-1.3M642.9 148.5v-1.3" stroke="#999" stroke-width="0.6" fill="none"/>
<path d="M581 113.5h1m0-6h1m1 0h1m-1 4h1m-1 1h1m0-8h1m-1 2h1m-1 2h1m-1 1h1m-1 1h1m-1 1h1m-1 3h1m0-11h1m-1 1h1m-1 2h1m-1 3h1m-1 2h1m-1 1h1m-1 2h1m-1 1h1m-1 2h1m0-15h1m-1 1h1m-1 1h1m-1 3h1m-1 1h1m-1 1h1m-1 1h1m-1 1h1m-1 1h1m-1 1h1m-1 1h1m-1 2h1m-1 1h1m-1 2h1m0-13h1m-1 1h1m-1 1h1m-1 1h1m-1 1h1m-1 1h1m-1 1h1m-1 1h1m-1 2h1m-1 1h1m-1 1h1m-1 3h1m0-17h1m-1 2h1m-1 2h1m-1 1h1m-1 1h1m-1 1h1m-1 1h1m-1 1h1m-1 1h1m-1 1h1m-1 2h1m0-14h1m-1 1h1m-1 1h1m-1 1h1m-1 2h1m-1 1h1m-1 1h1m-1 1h1m-1 1h1m-1 1h1m-1 1h1m-1 1h1m-1 3h1m-1 2h1m0-17h1m-1 1h1m-1 1h1m-1 2h1m-1 1h1m-1 1h1m-1 1h1m-1 1h1m-1 1h1m-1 1h1m-1 1h1m-1 1h1m-1 1h1m-1 2h1m0-20h1m-1 5h1m-1 3h1m-1 1h1m-1 1h1m-1 1h1m-1 1h1m-1 1h1m-1 1h1m-1 1h1m-1 1h1m-1 1h1m-1 3h1m0-16h1m-1 3h1m-1 1h1m-1 3h1m-1 1h1m-1 1h1m-1 1h1m-1 1h1m-1 1h1m-1 1h1m-1 1h1m-1 2h1m0-14h1m-1 2h1m-1 2h1m-1 1h1m-1 1h1m-1 1h1m-1 1h1m-1 2h1m-1 1h1m-1 1h1m-1 2h1m-1 5h1m0-20h1m-1 4h1m-1 1h1m-1 2h1m-1 1h1m-1 3h1m-1 1h1m0-13h1m-1 6h1m-1 2h1m-1 1h1m-1 1h1m-1 1h1m-1 3h1m-1 3h1m1-12h1m-1 8h1m0-8h1m0-2h1m0 8h1m-1 5h1" stroke="#ff2020" stroke-width="1" opacity="0.98" fill="none" filter="url(#sb)"/>
<path d="M582 109.5h1m0-4h1m-1 1h1m0-5h1m-1 1h1m-1 4h1m-1 2h1m-1 2h1m-1 3h1m-1 1h1m0-14h1m-1 8h1m-1 1h1m-1 1h1m-1 2h1m-1 1h1m0-10h1m-1 2h1m-1 3h1m-1 1h1m-1 2h1m-1 1h1m-1 1h1m-1 1h1m-1 1h1m-1 1h1m-1 1h1m-1 2h1m0-17h1m-1 3h1m-1 1h1m-1 1h1m-1 1h1m-1 1h1m-1 1h1m-1 1h1m-1 1h1m-1 2h1m-1 1h1m0-12h1m-1 1h1m-1 1h1m-1 2h1m-1 1h1m-1 2h1m-1 1h1m-1 1h1m-1 1h1m-1 2h1m-1 1h1m0-17h1m-1 2h1m-1 2h1m-1 1h1m-1 1h1m-1 1h1m-1 1h1m-1 1h1m-1 1h1m-1 1h1m-1 1h1m-1 1h1m-1 1h1m-1 1h1m-1 1h1m-1 1h1m-1 1h1m-1 1h1m-1 1h1m0-17h1m-1 2h1m-1 1h1m-1 1h1m-1 2h1m-1 1h1m-1 1h1m-1 1h1m-1 1h1m-1 1h1m-1 1h1m-1 1h1m-1 1h1m-1 1h1m-1 2h1m0-19h1m-1 2h1m-1 1h1m-1 2h1m-1 1h1m-1 2h1m-1 1h1m-1 1h1m-1 1h1m-1 1h1m-1 1h1m-1 1h1m-1 1h1m-1 1h1m-1 1h1m0-12h1m-1 1h1m-1 1h1m-1 1h1m-1 1h1m-1 1h1m-1 1h1m-1 1h1m-1 1h1m-1 2h1m-1 1h1m0-13h1m-1 3h1m-1 1h1m-1 2h1m-1 1h1m-1 1h1m-1 1h1m-1 2h1m-1 2h1m0-13h1m-1 2h1m-1 1h1m-1 1h1m-1 1h1m-1 1h1m-1 1h1m-1 4h1m-1 2h1m-1 1h1m-1 1h1m0-15h1m-1 1h1m-1 1h1m-1 1h1m-1 2h1m-1 2h1m-1 2h1m-1 1h1m-1 3h1m-1 1h1m0-12h1m-1 2h1m-1 2h1m-1 1h1m-1 1h1m-1 4h1m-1 2h1m0-10h1m-1 2h1m-1 1h1m0-4h1m-1 4h1m-1 4h1m-1 1h1m0-9h1m-1 6h1m0 1h1m0-2h1m1-1h1" stroke="#ff2020" stroke-width="1" opacity="0.45" fill="none" filter="url(#sb)"/>
<path d="M549 52.5h1m16 95h1m0-30h1m-1 30h1m0-41h1m-1 27h1m-1 3h1m1-20h1m-1 4h1m0-30h1m-1 40h1m-1 3h1m1 7h1m0-25h1m-1 14h1m-1 18h1m0-20h1m-1 10h1m-1 3h1m0-49h1m-1 11h1m-1 26h1m0-32h1m-1 30h1m0-30h1m-1 30h1m-1 2h1m-1 1h1m-1 9h1m-1 9h1m0-45h1m-1 7h1m-1 5h1m-1 17h1m-1 2h1m-1 3h1m-1 1h1m-1 10h1m0-55h1m-1 14h1m-1 5h1m-1 4h1m-1 7h1m-1 5h1m-1 7h1m-1 4h1m-1 9h1m0-49h1m-1 15h1m-1 11h1m-1 5h1m-1 1h1m-1 1h1m-1 2h1m-1 7h1m0-38h1m-1 5h1m-1 9h1m-1 5h1m-1 3h1m-1 6h1m-1 1h1m-1 8h1m-1 5h1m0-51h1m-1 7h1m-1 13h1m-1 3h1m-1 6h1m-1 2h1m-1 1h1m-1 1h1m-1 2h1m-1 2h1m0-39h1m-1 8h1m-1 4h1m-1 17h1m-1 4h1m-1 4h1m0-45h1m-1 23h1m-1 1h1m-1 2h1m-1 2h1m-1 3h1m-1 15h1m-1 4h1m-1 4h1m-1 4h1m0-48h1m-1 3h1m-1 3h1m-1 4h1m-1 3h1m-1 2h1m-1 11h1m-1 7h1m-1 2h1m-1 14h1m0-48h1m-1 4h1m-1 7h1m-1 5h1m-1 15h1m-1 16h1m-1 6h1m0-56h1m-1 7h1m-1 1h1m-1 1h1m-1 9h1m-1 2h1m-1 9h1m-1 4h1m-1 7h1m-1 1h1m-1 15h1m0-55h1m-1 3h1m-1 7h1m-1 2h1m-1 5h1m-1 3h1m-1 4h1m-1 3h1m-1 2h1m-1 26h1m0-46h1m-1 2h1m-1 2h1m-1 8h1m-1 1h1m-1 14h1m-1 7h1m0-42h1m-1 7h1m-1 10h1m-1 3h1m-1 1h1m-1 1h1m-1 6h1m-1 8h1m0-43h1m-1 11h1m-1 20h1m-1 1h1m-1 4h1m-1 12h1m0-39h1m-1 4h1m-1 7h1m-1 9h1m-1 12h1m-1 20h1m0-42h1m-1 3h1m-1 9h1m0-13h1m-1 1h1m-1 23h1m-1 19h1m0-49h1m-1 2h1m-1 1h1m-1 4h1m-1 42h1m0-53h1m-1 7h1m-1 2h1m-1 7h1m-1 3h1m-1 4h1m-1 3h1m-1 1h1m-1 5h1m0-58h1m-1 43h1m-1 1h1m-1 2h1m-1 9h1m0-22h1m-1 5h1m-1 8h1m-1 4h1m-1 29h1m0-42h1m-1 2h1m-1 1h1m-1 12h1m0-18h1m-1 9h1m0-18h1m-1 14h1m-1 13h1m0-25h1m0-4h1m-1 10h1m-1 9h1m-1 1h1m-1 15h1m0-32h1m-1 1h1m-1 4h1m-1 29h1m0-46h1m-1 12h1m-1 15h1m-1 4h1m-1 9h1m0-17h1m-1 9h1m0-19h1m-1 16h1m-1 4h1m-1 27h1m0-49h1m-1 16h1m-1 2h1m0-20h1m0 15h1m-1 5h1m-1 2h1m-1 6h1m0-31h1m-1 15h1m-1 13h1m3-29h1m0 43h1m0-30h1m1 1h1m1 18h1m0-10h1m0-2h1m-1 13h1m0 20h1m1-15h1m7-35h1" stroke="#ff2020" stroke-width="1" opacity="0.7" fill="none" filter="url(#sb)"/>
<path d="M548 76.5h1m6-4h1m4-19h1m1 40h1m-1 9h1m1-41h1m-1 31h1m-1 53h1m2-19h1m1-35h1m-1 14h1m-1 22h1m0-1h1m-1 21h1m0-27h1m0-3h1m-1 30h1m0-61h1m-1 38h1m-1 6h1m-1 6h1m0-13h1m0-14h1m-1 21h1m-1 17h1m0-52h1m-1 12h1m-1 2h1m-1 6h1m-1 1h1m-1 4h1m-1 5h1m-1 1h1m-1 13h1m0-45h1m-1 8h1m-1 9h1m-1 12h1m-1 11h1m-1 1h1m-1 2h1m0-36h1m-1 13h1m-1 2h1m-1 6h1m-1 4h1m-1 21h1m0-33h1m-1 12h1m-1 3h1m-1 7h1m-1 11h1m0-53h1m-1 18h1m-1 10h1m-1 14h1m0-31h1m-1 6h1m-1 7h1m-1 4h1m-1 6h1m0-22h1m-1 13h1m-1 1h1m-1 10h1m-1 4h1m-1 2h1m-1 11h1m0-60h1m-1 14h1m-1 18h1m-1 6h1m-1 2h1m-1 1h1m-1 4h1m0-39h1m-1 11h1m-1 2h1m-1 9h1m-1 5h1m-1 3h1m-1 8h1m-1 10h1m0-21h1m-1 15h1m-1 7h1m0-54h1m-1 12h1m-1 1h1m-1 15h1m-1 3h1m-1 7h1m-1 4h1m-1 2h1m-1 15h1m0-56h1m-1 10h1m-1 2h1m-1 1h1m-1 13h1m-1 1h1m-1 5h1m-1 4h1m-1 19h1m0-56h1m-1 16h1m-1 7h1m-1 3h1m-1 17h1m-1 4h1m0-69h1m-1 17h1m-1 16h1m-1 12h1m-1 3h1m-1 4h1m-1 1h1m-1 7h1m-1 8h1m0-41h1m-1 4h1m-1 6h1m-1 7h1m-1 9h1m-1 4h1m0-46h1m-1 9h1m-1 10h1m-1 4h1m-1 1h1m-1 35h1m-1 9h1m0-72h1m-1 44h1m-1 11h1m-1 1h1m-1 16h1m0-48h1m-1 6h1m-1 6h1m-1 5h1m-1 10h1m-1 13h1m0-39h1m-1 1h1m-1 11h1m0-10h1m-1 6h1m-1 2h1m-1 6h1m-1 2h1m-1 3h1m-1 3h1m-1 2h1m-1 6h1m0-53h1m-1 15h1m-1 11h1m-1 8h1m-1 3h1m-1 5h1m-1 2h1m-1 3h1m-1 3h1m-1 18h1m0-46h1m-1 16h1m0-35h1m-1 16h1m-1 3h1m-1 5h1m-1 8h1m-1 33h1m0-49h1m-1 1h1m-1 3h1m-1 7h1m-1 12h1m0-21h1m-1 17h1m-1 5h1m0-21h1m-1 1h1m-1 15h1m-1 1h1m0-20h1m-1 5h1m-1 2h1m-1 4h1m-1 7h1m0-22h1m-1 2h1m-1 7h1m0-32h1m-1 55h1m0-68h1m-1 35h1m-1 6h1m-1 5h1m-1 11h1m-1 5h1m0-3h1m-1 9h1m0 2h1m0-24h1m-1 10h1m-1 12h1m-1 3h1m-1 2h1m0-35h1m0-3h1m-1 14h1m-1 4h1m-1 2h1m-1 2h1m-1 10h1m0-7h1m-1 9h1m0-30h1m-1 29h1m1-32h1m-1 4h1m-1 11h1m0-18h1m-1 20h1m1 2h1m0-22h1m-1 25h1m0-21h1m0 6h1m0-48h1m-1 63h1m2 15h1m6-35h1m1 20h1" stroke="#ff2020" stroke-width="1" opacity="0.32" fill="none" filter="url(#sb)"/>
<path d="M614 67.5h1m0-8h1m0 1h1m-1 7h1m2 2h1m1-8h1m0 10h1" stroke="#444" stroke-width="1" opacity="0.5" fill="none" filter="url(#sb)"/>
<path d="M601.6 72.3C601.3 69.9 601.6 67.6 602.9 65.3C604.2 63.0 606.5 60.4 609.3 58.6C612.1 56.8 616.2 54.8 619.8 54.5C623.5 54.2 628.7 54.5 631.0 56.5C633.3 58.6 633.6 63.4 633.6 66.8C633.6 70.1 632.8 74.2 631.0 76.7C629.3 79.2 625.3 80.5 623.0 81.7C620.8 82.8 619.7 83.4 617.6 83.7C615.5 84.0 612.4 84.0 610.2 83.4C608.1 82.8 605.9 81.8 604.5 79.9C603.0 78.1 601.9 74.7 601.6 72.3Z" fill="none" stroke="#333" stroke-width="0.75"/>
<text x="601.6" y="52.8" font-size="5.3" font-weight="normal" fill="#111" text-anchor="start" stroke="#333" stroke-width="0.1">P7(1.14%)</text>
<path d="M634 99.5h1m3-3h1m0-2h1m0 12h1" stroke="#444" stroke-width="1" opacity="0.5" fill="none" filter="url(#sb)"/>
<path d="M626.0 88.7C627.2 85.3 630.3 82.8 633.2 82.0C636.1 81.2 641.5 81.5 643.6 83.7C645.7 85.9 645.7 91.7 646.0 95.1C646.3 98.4 645.7 101.3 645.4 103.8C645.1 106.3 645.8 108.2 644.4 110.1C643.0 112.1 639.7 115.2 637.2 115.5C634.7 115.8 631.1 114.0 629.2 111.8C627.3 109.6 626.5 106.3 626.0 102.4C625.5 98.6 624.8 92.1 626.0 88.7Z" fill="none" stroke="#333" stroke-width="0.75"/>
<text x="622" y="78.8" font-size="5.3" font-weight="normal" fill="#111" text-anchor="start" stroke="#333" stroke-width="0.1">P8(0.31%)</text>
<rect x="546.5" y="148.5" width="99.0" height="99.0" fill="none" stroke="#666" stroke-width="1"/>
<path d="M546.5 151.5h1.5M546.5 154.8h1.5M546.5 158.1h1.5M546.5 161.4h1.5M546.5 164.7h1.5M546.5 168.0h1.5M546.5 171.3h1.5M546.5 174.6h1.5M546.5 177.9h1.5M546.5 181.2h1.5M546.5 184.5h1.5M546.5 187.8h1.5M546.5 191.1h1.5M546.5 194.4h1.5M546.5 197.7h1.5M546.5 201.0h1.5M546.5 204.3h1.5M546.5 207.6h1.5M546.5 210.9h1.5M546.5 214.2h1.5M546.5 217.5h1.5M546.5 220.8h1.5M546.5 224.1h1.5M546.5 227.4h1.5M546.5 230.7h1.5M546.5 234.0h1.5M546.5 237.3h1.5M546.5 240.6h1.5M546.5 243.9h1.5M550.5 247.5v-1.3M554.9 247.5v-1.3M559.3 247.5v-1.3M563.7 247.5v-1.3M568.1 247.5v-1.3M572.5 247.5v-1.3M576.9 247.5v-1.3M581.3 247.5v-1.3M585.7 247.5v-1.3M590.1 247.5v-1.3M594.5 247.5v-1.3M598.9 247.5v-1.3M603.3 247.5v-1.3M607.7 247.5v-1.3M612.1 247.5v-1.3M616.5 247.5v-1.3M620.9 247.5v-1.3M625.3 247.5v-1.3M629.7 247.5v-1.3M634.1 247.5v-1.3M638.5 247.5v-1.3M642.9 247.5v-1.3" stroke="#999" stroke-width="0.6" fill="none"/>
<path d="M553 211.5h1m-1 9h1m-1 13h1m0-6h1m3-16h1m0-17h1m-1 37h1m0-21h1m-1 5h1m-1 3h1m-1 4h1m-1 1h1m-1 6h1m0-24h1m-1 22h1m0-12h1m-1 2h1m-1 2h1m-1 17h1m0-30h1m-1 3h1m-1 10h1m-1 2h1m-1 11h1m0-44h1m-1 33h1m-1 1h1m-1 13h1m0-22h1m-1 12h1m0-26h1m-1 17h1m-1 5h1m-1 2h1m-1 7h1m-1 6h1m0-25h1m-1 1h1m-1 8h1m-1 4h1m-1 1h1m-1 1h1m0-30h1m-1 16h1m-1 2h1m-1 2h1m-1 1h1m-1 3h1m-1 1h1m-1 9h1m-1 3h1m0-47h1m-1 24h1m-1 7h1m-1 7h1m-1 7h1m-1 11h1m0-44h1m-1 5h1m-1 4h1m-1 3h1m-1 7h1m-1 1h1m-1 1h1m-1 2h1m-1 8h1m-1 6h1m0-47h1m-1 8h1m-1 7h1m-1 1h1m-1 1h1m-1 3h1m-1 6h1m-1 1h1m-1 1h1m-1 3h1m-1 2h1m-1 6h1m0-28h1m-1 7h1m-1 5h1m-1 3h1m-1 4h1m-1 1h1m-1 8h1m-1 1h1m-1 16h1m0-57h1m-1 21h1m-1 1h1m-1 3h1m-1 7h1m-1 4h1m-1 1h1m-1 3h1m-1 17h1m0-53h1m-1 14h1m-1 1h1m-1 1h1m-1 5h1m-1 1h1m-1 8h1m-1 1h1m-1 1h1m-1 6h1m-1 3h1m-1 5h1m0-32h1m-1 5h1m-1 2h1m-1 5h1m-1 5h1m-1 1h1m-1 1h1m-1 9h1m0-46h1m-1 15h1m-1 7h1m-1 5h1m-1 5h1m-1 1h1m-1 5h1m-1 3h1m-1 8h1m0-48h1m-1 14h1m-1 8h1m-1 26h1m-1 6h1m0-33h1m-1 3h1m-1 1h1m-1 4h1m-1 2h1m0-16h1m-1 6h1m-1 5h1m-1 3h1m-1 1h1m-1 1h1m-1 4h1m-1 7h1m0-26h1m-1 5h1m-1 14h1m-1 4h1m-1 1h1m-1 8h1m0-34h1m-1 3h1m-1 5h1m-1 7h1m-1 5h1m-1 5h1m-1 4h1m0-31h1m-1 21h1m-1 9h1m0-17h1m-1 3h1m-1 13h1m-1 5h1m-1 12h1m0-43h1m-1 6h1m-1 16h1m-1 5h1m-1 4h1m0-22h1m-1 18h1m-1 3h1m0-42h1m-1 28h1m-1 10h1m-1 6h1m-1 8h1m0-19h1m1-7h1m3-3h1m-1 10h1m0-25h1m-1 12h1m-1 16h1m0-39h1m0 18h1m-1 5h1m-1 10h1m0-27h1m0 24h1m-1 8h1m0-9h1m-1 20h1m0-50h1m-1 5h1m-1 6h1m-1 2h1m-1 1h1m-1 12h1m-1 1h1m-1 2h1m-1 2h1m-1 11h1m-1 7h1m0-28h1m-1 1h1m-1 4h1m-1 13h1m0-18h1m-1 2h1m-1 3h1m-1 10h1m-1 13h1m-1 2h1m0-34h1m-1 6h1m-1 7h1m-1 1h1m-1 4h1m-1 2h1m0-22h1m-1 5h1m-1 5h1m-1 5h1m-1 10h1m0-40h1m-1 15h1m-1 5h1m-1 4h1m-1 3h1m-1 1h1m-1 6h1m-1 3h1m-1 1h1m-1 2h1m-1 2h1m-1 3h1m0-39h1m-1 6h1m-1 4h1m-1 9h1m-1 9h1m-1 2h1m-1 5h1m-1 3h1m-1 1h1m0-55h1m-1 17h1m-1 6h1m-1 3h1m-1 1h1m-1 2h1m-1 9h1m-1 2h1m-1 3h1m-1 2h1m-1 7h1m-1 9h1m0-50h1m-1 5h1m-1 1h1m-1 6h1m-1 1h1m-1 7h1m-1 1h1m-1 1h1m-1 3h1m-1 3h1m-1 1h1m-1 6h1m-1 6h1m0-38h1m-1 16h1m-1 1h1m-1 1h1m-1 10h1m-1 7h1m-1 7h1m0-36h1m-1 8h1m-1 1h1m-1 1h1m-1 1h1m-1 3h1m-1 3h1m-1 3h1m-1 3h1m-1 4h1m-1 5h1m0-31h1m-1 7h1m-1 1h1m-1 1h1m-1 2h1m-1 2h1m-1 9h1m-1 4h1m-1 6h1m-1 1h1m0-35h1m-1 5h1m-1 1h1m-1 3h1m-1 3h1m-1 2h1m-1 1h1m-1 1h1m-1 3h1m-1 3h1m-1 3h1m-1 6h1m-1 2h1m-1 8h1m-1 1h1m0-43h1m-1 3h1m-1 1h1m-1 8h1m-1 9h1m-1 4h1m-1 1h1m-1 2h1m-1 1h1m-1 1h1m-1 2h1m-1 12h1m0-25h1m-1 1h1m-1 1h1m-1 7h1m-1 7h1m0-45h1m-1 13h1m-1 2h1m-1 4h1m-1 3h1m-1 3h1m-1 2h1m-1 3h1m-1 5h1m-1 12h1m0-40h1m-1 1h1m-1 5h1m-1 2h1m-1 1h1m-1 7h1m-1 1h1m-1 4h1m-1 6h1m-1 1h1m-1 5h1m-1 1h1m-1 1h1m-1 4h1m-1 6h1m-1 3h1m0-67h1m-1 32h1m-1 3h1m-1 3h1m-1 1h1m-1 1h1m-1 2h1m-1 7h1m-1 1h1m-1 1h1m0-16h1m-1 10h1m-1 2h1m-1 3h1m-1 1h1m0-11h1m-1 12h1m-1 3h1m-1 2h1m-1 7h1m0-27h1m-1 5h1m-1 1h1m0-9h1m-1 36h1m0-46h1m0 6h1m2 21h1m3 7h1m2-18h1" stroke="#ff2020" stroke-width="1" opacity="0.59" fill="none" filter="url(#sb)"/>
<path d="M553 205.5h1m-1 19h1m1 4h1m0 6h1m1-21h1m-1 15h1m-1 3h1m-1 2h1m0-32h1m-1 21h1m-1 4h1m-1 12h1m0-15h1m0-22h1m-1 14h1m-1 3h1m0-2h1m-1 16h1m-1 6h1m0-27h1m-1 6h1m-1 1h1m-1 4h1m-1 17h1m0-27h1m-1 12h1m0-19h1m-1 1h1m-1 5h1m-1 1h1m-1 8h1m-1 1h1m-1 10h1m-1 10h1m0-28h1m-1 22h1m0-29h1m-1 7h1m-1 1h1m-1 3h1m-1 3h1m-1 1h1m0-44h1m-1 17h1m-1 10h1m-1 1h1m-1 3h1m-1 5h1m-1 3h1m-1 1h1m-1 7h1m-1 3h1m-1 4h1m-1 12h1m0-43h1m-1 7h1m-1 1h1m-1 1h1m-1 5h1m-1 1h1m-1 1h1m-1 4h1m-1 1h1m-1 2h1m-1 4h1m0-22h1m-1 7h1m-1 5h1m-1 1h1m-1 9h1m-1 3h1m-1 6h1m-1 4h1m0-46h1m-1 4h1m-1 11h1m-1 3h1m-1 1h1m-1 7h1m-1 3h1m-1 1h1m-1 5h1m-1 4h1m-1 1h1m-1 10h1m0-57h1m-1 4h1m-1 14h1m-1 12h1m-1 1h1m-1 1h1m-1 2h1m-1 4h1m-1 4h1m-1 1h1m-1 7h1m-1 3h1m0-34h1m-1 8h1m-1 2h1m-1 1h1m-1 6h1m-1 1h1m-1 4h1m-1 5h1m-1 5h1m0-51h1m-1 10h1m-1 5h1m-1 7h1m-1 6h1m-1 3h1m-1 3h1m-1 2h1m-1 2h1m-1 5h1m-1 9h1m0-25h1m-1 3h1m-1 6h1m-1 5h1m-1 4h1m-1 2h1m-1 1h1m-1 6h1m0-29h1m-1 7h1m-1 2h1m-1 2h1m-1 9h1m-1 2h1m0-13h1m-1 2h1m-1 6h1m-1 3h1m0-28h1m-1 5h1m-1 4h1m-1 5h1m-1 4h1m-1 1h1m-1 1h1m-1 1h1m-1 6h1m-1 1h1m-1 2h1m-1 2h1m0-33h1m-1 6h1m-1 27h1m-1 1h1m0-21h1m-1 2h1m-1 3h1m-1 17h1m0-33h1m-1 10h1m-1 4h1m-1 5h1m-1 5h1m0-27h1m-1 1h1m-1 1h1m-1 27h1m-1 3h1m-1 6h1m-1 1h1m0-49h1m-1 5h1m-1 22h1m-1 13h1m-1 2h1m0-38h1m-1 37h1m0-23h1m-1 21h1m0-25h1m-1 31h1m0-6h1m-1 1h1m0-24h1m-1 15h1m-1 16h1m0-22h1m-1 13h1m3-31h1m-1 13h1m0-10h1m1-3h1m-1 45h1m0-52h1m-1 13h1m-1 3h1m0-7h1m-1 18h1m-1 12h1m0-36h1m-1 20h1m0-10h1m-1 12h1m-1 9h1m0-49h1m-1 13h1m-1 6h1m-1 16h1m-1 3h1m-1 8h1m-1 7h1m-1 3h1m0-23h1m-1 7h1m-1 2h1m-1 6h1m-1 18h1m0-57h1m-1 8h1m-1 9h1m-1 4h1m-1 8h1m-1 4h1m0-20h1m-1 8h1m-1 8h1m-1 1h1m-1 1h1m-1 5h1m-1 7h1m0-45h1m-1 11h1m-1 10h1m-1 3h1m-1 3h1m-1 7h1m0-31h1m-1 8h1m-1 10h1m-1 1h1m-1 3h1m-1 7h1m-1 5h1m-1 4h1m-1 8h1m0-46h1m-1 15h1m-1 2h1m-1 10h1m-1 4h1m-1 7h1m0-27h1m-1 7h1m-1 1h1m-1 4h1m-1 2h1m-1 2h1m-1 5h1m-1 9h1m0-28h1m-1 8h1m-1 3h1m-1 4h1m-1 2h1m-1 10h1m-1 3h1m0-38h1m-1 11h1m-1 3h1m-1 1h1m-1 1h1m-1 1h1m-1 2h1m-1 1h1m-1 3h1m-1 6h1m-1 4h1m-1 1h1m0-27h1m-1 2h1m-1 3h1m-1 1h1m-1 3h1m-1 1h1m-1 6h1m-1 3h1m-1 2h1m-1 6h1m-1 2h1m-1 1h1m0-48h1m-1 16h1m-1 7h1m-1 7h1m-1 2h1m-1 1h1m-1 4h1m-1 4h1m-1 5h1m-1 7h1m-1 2h1m0-35h1m-1 5h1m-1 3h1m-1 2h1m-1 1h1m-1 3h1m-1 1h1m-1 2h1m-1 8h1m-1 4h1m-1 9h1m0-41h1m-1 10h1m-1 5h1m-1 2h1m-1 6h1m-1 4h1m-1 4h1m-1 2h1m-1 11h1m0-52h1m-1 5h1m-1 3h1m-1 3h1m-1 3h1m-1 6h1m-1 1h1m-1 3h1m-1 4h1m-1 1h1m-1 4h1m-1 4h1m-1 7h1m0-48h1m-1 9h1m-1 5h1m-1 4h1m-1 9h1m-1 1h1m-1 12h1m-1 12h1m0-49h1m-1 18h1m-1 1h1m-1 10h1m-1 4h1m-1 2h1m-1 8h1m0-42h1m-1 2h1m-1 13h1m-1 2h1m-1 7h1m-1 13h1m-1 1h1m0-30h1m-1 13h1m-1 1h1m-1 5h1m-1 10h1m-1 7h1m0-35h1m-1 1h1m-1 9h1m-1 12h1m-1 5h1m-1 5h1m0-40h1m-1 1h1m-1 9h1m-1 15h1m-1 2h1m-1 1h1m-1 16h1m0-51h1m-1 29h1m-1 1h1m-1 7h1m0-18h1m0-22h1m-1 26h1m-1 17h1m1-19h1m-1 1h1m-1 24h1m0-26h1m-1 37h1" stroke="#ff2020" stroke-width="1" opacity="0.27" fill="none" filter="url(#sb)"/>
<path d="M551 201.5h1m3 2h1m2 2h1m0 30h1m0-17h1m0 8h1m-1 1h1m-1 4h1m-1 7h1m0-1h1m0-25h1m-1 20h1m0-27h1m-1 9h1m0-2h1m-1 12h1m0-36h1m0-19h1m-1 24h1m-1 44h1m0-26h1m-1 5h1m-1 1h1m2-21h1m-1 16h1m-1 5h1m0-12h1m-1 11h1m-1 19h1m0-43h1m-1 16h1m0-7h1m-1 11h1m-1 24h1m-1 4h1m0-27h1m0-11h1m-1 16h1m0-53h1m-1 48h1m-1 8h1m0-29h1m-1 13h1m-1 2h1m-1 27h1m-1 3h1m0-33h1m-1 5h1m-1 3h1m0 9h1m0-18h1m-1 3h1m-1 14h1m-1 11h1m0-15h1m-1 4h1m-1 14h1m-1 1h1m0-39h1m-1 27h1m-1 1h1m-1 6h1m-1 5h1m0-33h1m0 16h1m-1 2h1m-1 3h1m-1 6h1m-1 7h1m-1 2h1m-1 2h1m1-44h1m-1 7h1m-1 10h1m-1 2h1m-1 5h1m-1 8h1m-1 1h1m0-12h1m-1 6h1m-1 1h1m-1 7h1m-1 6h1m-1 5h1m0-43h1m-1 4h1m-1 13h1m0-9h1m-1 10h1m-1 8h1m0-28h1m-1 11h1m-1 3h1m-1 9h1m-1 5h1m-1 1h1m-1 8h1m0-43h1m-1 14h1m-1 3h1m-1 9h1m-1 3h1m-1 5h1m0-29h1m-1 7h1m-1 3h1m-1 21h1m-1 6h1m-1 5h1m0-85h1m-1 34h1m-1 12h1m-1 2h1m-1 7h1m-1 16h1m0-42h1m-1 10h1m-1 11h1m-1 3h1m-1 20h1m-1 16h1m0-39h1m-1 3h1m-1 5h1m-1 2h1m-1 7h1m0-22h1m-1 8h1m-1 5h1m-1 4h1m-1 1h1m-1 11h1m0-39h1m-1 4h1m-1 5h1m-1 28h1m0-32h1m-1 42h1m0-42h1m-1 15h1m-1 18h1m0-35h1m0 25h1m-1 17h1m0-44h1m-1 25h1m-1 2h1m-1 5h1m0-61h1m-1 14h1m-1 13h1m-1 16h1m-1 3h1m-1 5h1m-1 2h1m-1 6h1m-1 1h1m-1 9h1m-1 7h1m0-47h1m-1 5h1m-1 16h1m-1 25h1m-1 2h1m0-59h1m-1 12h1m-1 8h1m0 2h1m0 1h1m-1 11h1m-1 31h1m0-56h1m-1 40h1m0-30h1m-1 27h1m-1 9h1m1-17h1m-1 19h1m0-57h1m-1 28h1m0-21h1m-1 12h1m-1 13h1m0-47h1m-1 31h1m-1 2h1m0-11h1m-1 47h1m0-29h1m1-46h1m-1 80h1m1-5h1m0-2h1m0-13h1m3-22h1m-1 23h1m1-20h1m1-9h1m0 26h1m0 7h1m0-23h1m0-14h1m2 12h1m4 10h1" stroke="#ff2020" stroke-width="1" opacity="0.49" fill="none" filter="url(#sb)"/>
<path d="M551 214.5h1m0-26h1m-1 23h1m0-8h1m0 2h1m1-31h1m-1 27h1m0-13h1m-1 28h1m2 12h1m0-25h1m0 3h1m-1 13h1m1 11h1m-1 2h1m0-29h1m-1 15h1m0-5h1m-1 5h1m-1 16h1m1-41h1m-1 19h1m0 12h1m-1 10h1m-1 3h1m0-26h1m0-20h1m-1 23h1m-1 2h1m0-1h1m-1 11h1m0-11h1m-1 11h1m-1 3h1m0-31h1m-1 15h1m-1 31h1m0-18h1m-1 20h1m0-36h1m-1 1h1m0-8h1m-1 11h1m-1 8h1m0 10h1m0-19h1m0-24h1m-1 16h1m-1 1h1m-1 31h1m-1 7h1m0-55h1m-1 7h1m-1 12h1m-1 6h1m-1 5h1m-1 14h1m-1 4h1m-1 7h1m0-51h1m-1 21h1m-1 3h1m-1 5h1m-1 8h1m0-17h1m-1 2h1m-1 3h1m-1 3h1m0-17h1m-1 10h1m-1 7h1m-1 1h1m-1 6h1m0-29h1m-1 7h1m-1 3h1m-1 1h1m-1 6h1m-1 4h1m-1 6h1m0-22h1m-1 7h1m-1 2h1m-1 7h1m-1 7h1m-1 8h1m0-23h1m-1 2h1m-1 7h1m0-20h1m-1 12h1m-1 24h1m0-30h1m-1 1h1m-1 5h1m-1 13h1m-1 14h1m0-42h1m-1 5h1m-1 4h1m0 3h1m-1 6h1m-1 2h1m-1 13h1m-1 8h1m0-50h1m-1 16h1m-1 39h1m0-63h1m-1 12h1m-1 13h1m-1 1h1m-1 1h1m-1 13h1m-1 1h1m-1 14h1m0-38h1m-1 10h1m-1 9h1m-1 1h1m-1 21h1m0-62h1m-1 37h1m-1 10h1m0-22h1m-1 12h1m-1 16h1m-1 3h1m-1 3h1m0-72h1m-1 29h1m-1 15h1m-1 14h1m-1 15h1m0-30h1m-1 3h1m-1 2h1m-1 15h1m0-42h1m-1 35h1m-1 23h1m0-55h1m-1 8h1m-1 4h1m-1 9h1m-1 8h1m-1 3h1m-1 14h1m0-74h1m-1 47h1m-1 2h1m0-20h1m-1 1h1m-1 12h1m-1 9h1m0-17h1m-1 39h1m-1 5h1m0-29h1m-1 8h1m0 2h1m-1 19h1m0-44h1m-1 31h1m-1 5h1m0-78h1m-1 69h1m-1 2h1m0-13h1m-1 21h1m0 5h1m0-31h1m-1 11h1m-1 3h1m-1 7h1m0-26h1m0 9h1m-1 28h1m0-79h1m-1 34h1m-1 2h1m-1 16h1m1 14h1m0-11h1m-1 22h1m0-14h1m-1 9h1m0-22h1m-1 12h1m-1 23h1m0-4h1m0-39h1m-1 12h1m-1 4h1m-1 3h1m0 6h1m0 3h1m-1 1h1m0-18h1m1-50h1m-1 45h1m0 13h1m0 12h1m0-29h1m0-25h1m0 28h1m1-6h1m2 31h1m2-68h1m3 78h1m0-82h1" stroke="#ff2020" stroke-width="1" opacity="0.22" fill="none" filter="url(#sb)"/>
<path d="M560 246.5h1m5 0h1m1 0h1m14 0h1m3 0h1m5 0h1m4 0h1m1 0h1m2 0h1m7 0h1m4 0h1m0 0h1m0 0h1m3 0h1m1 0h1m2 0h1m3 0h1" stroke="#ff2020" stroke-width="1" opacity="0.7" fill="none" filter="url(#sb)"/>
<path d="M568 246.5h1m0 0h1m0 0h1m0 0h1m4 0h1m6 0h1m9 0h1m0 0h1m1 0h1m6 0h1m3 0h1m4 0h1m2 0h1m5 0h1m1 0h1m3 0h1m1 0h1" stroke="#ff2020" stroke-width="1" opacity="0.32" fill="none" filter="url(#sb)"/>
<path d="M604 167.5h1m-1 4h1m2-5h1m0-5h1m-1 4h1m1 0h1m-1 4h1m-1 1h1m-1 3h1m-1 4h1m0-1h1m0-9h1m-1 7h1m0-8h1m-1 12h1m0-3h1m0-11h1m-1 8h1m-1 5h1m0-8h1m-1 2h1m-1 1h1m-1 3h1m0-13h1m1 18h1m0-14h1m0-5h1m-1 7h1m-1 2h1m0-2h1m-1 1h1m-1 7h1m0-13h1m0 10h1m1-1h1" stroke="#444" stroke-width="1" opacity="0.55" fill="none" filter="url(#sb)"/>
<path d="M598.0 173.0C597.7 170.6 598.0 168.3 599.3 166.0C600.5 163.7 602.8 161.1 605.6 159.3C608.4 157.5 612.5 155.5 616.1 155.2C619.7 154.9 624.9 155.2 627.2 157.2C629.4 159.3 629.7 164.1 629.7 167.5C629.7 170.8 628.9 174.9 627.2 177.4C625.4 179.9 621.5 181.2 619.2 182.4C617.0 183.5 616.0 184.1 613.9 184.4C611.7 184.7 608.7 184.7 606.6 184.1C604.4 183.5 602.3 182.5 600.9 180.6C599.4 178.8 598.3 175.4 598.0 173.0Z" fill="none" stroke="#333" stroke-width="0.75"/>
<text x="598" y="152.6" font-size="5.3" font-weight="normal" fill="#111" text-anchor="start" stroke="#333" stroke-width="0.1">P7(0.10%)</text>
<path d="M627 195.5h1m-1 2h1m-1 7h1m0-12h1m-1 3h1m-1 11h1m0-4h1m-1 3h1m-1 3h1m0-16h1m-1 1h1m-1 1h1m-1 1h1m-1 3h1m-1 5h1m0-18h1m-1 2h1m-1 12h1m-1 1h1m-1 8h1m0-22h1m-1 5h1m-1 10h1m-1 1h1m-1 4h1m-1 4h1m0-18h1m-1 3h1m-1 4h1m-1 4h1m-1 1h1m-1 1h1m-1 1h1m-1 2h1m0-22h1m-1 4h1m-1 16h1m-1 2h1m-1 1h1m0-12h1m0-9h1m-1 1h1m-1 1h1m-1 1h1m-1 15h1m0-20h1m-1 4h1m-1 2h1m-1 2h1m-1 2h1m-1 7h1m-1 1h1m-1 1h1m-1 3h1m-1 3h1m0-26h1m-1 1h1m-1 4h1m-1 2h1m-1 3h1m-1 2h1m-1 9h1m-1 2h1m-1 2h1m0-20h1m-1 2h1m-1 5h1m-1 2h1m-1 8h1m-1 1h1m0-8h1m-1 3h1m-1 5h1m0-14h1m-1 4h1m-1 2h1m0-4h1m-1 3h1m-1 1h1" stroke="#444" stroke-width="1" opacity="0.5" fill="none" filter="url(#sb)"/>
<path d="M625.5 188.6C626.7 185.3 629.6 182.8 632.5 182.0C635.3 181.2 640.5 181.5 642.6 183.7C644.6 185.8 644.6 191.6 644.9 194.9C645.2 198.3 644.6 201.1 644.3 203.6C644.1 206.1 644.7 208.0 643.3 209.9C642.0 211.8 638.8 214.9 636.4 215.2C633.9 215.5 630.4 213.7 628.6 211.5C626.8 209.4 626.0 206.1 625.5 202.3C625.0 198.4 624.3 192.0 625.5 188.6Z" fill="none" stroke="#333" stroke-width="0.75"/>
<text x="621.5" y="178.8" font-size="5.3" font-weight="normal" fill="#111" text-anchor="start" stroke="#333" stroke-width="0.1">P8(0.44%)</text>
<rect x="546.5" y="249.5" width="99.0" height="98.0" fill="none" stroke="#666" stroke-width="1"/>
<path d="M546.5 252.5h1.5M546.5 255.8h1.5M546.5 259.1h1.5M546.5 262.4h1.5M546.5 265.7h1.5M546.5 269.0h1.5M546.5 272.3h1.5M546.5 275.6h1.5M546.5 278.9h1.5M546.5 282.2h1.5M546.5 285.5h1.5M546.5 288.8h1.5M546.5 292.1h1.5M546.5 295.4h1.5M546.5 298.7h1.5M546.5 302.0h1.5M546.5 305.3h1.5M546.5 308.6h1.5M546.5 311.9h1.5M546.5 315.2h1.5M546.5 318.5h1.5M546.5 321.8h1.5M546.5 325.1h1.5M546.5 328.4h1.5M546.5 331.7h1.5M546.5 335.0h1.5M546.5 338.3h1.5M546.5 341.6h1.5M546.5 344.9h1.5M550.5 347.5v-1.3M554.9 347.5v-1.3M559.3 347.5v-1.3M563.7 347.5v-1.3M568.1 347.5v-1.3M572.5 347.5v-1.3M576.9 347.5v-1.3M581.3 347.5v-1.3M585.7 347.5v-1.3M590.1 347.5v-1.3M594.5 347.5v-1.3M598.9 347.5v-1.3M603.3 347.5v-1.3M607.7 347.5v-1.3M612.1 347.5v-1.3M616.5 347.5v-1.3M620.9 347.5v-1.3M625.3 347.5v-1.3M629.7 347.5v-1.3M634.1 347.5v-1.3M638.5 347.5v-1.3M642.9 347.5v-1.3" stroke="#999" stroke-width="0.6" fill="none"/>
<path d="M548 315.5h1m-1 8h1m-1 12h1m0-37h1m-1 6h1m-1 4h1m-1 2h1m-1 2h1m-1 3h1m-1 1h1m-1 11h1m-1 3h1m-1 2h1m0-30h1m-1 6h1m-1 2h1m-1 3h1m-1 10h1m-1 10h1m0-36h1m-1 5h1m-1 1h1m-1 4h1m-1 1h1m-1 2h1m-1 5h1m-1 2h1m-1 3h1m0-23h1m-1 2h1m-1 4h1m-1 4h1m-1 3h1m-1 2h1m-1 3h1m-1 1h1m-1 1h1m-1 6h1m-1 1h1m-1 1h1m-1 1h1m-1 6h1m0-34h1m-1 1h1m-1 7h1m-1 1h1m-1 1h1m-1 1h1m-1 1h1m-1 6h1m-1 2h1m-1 2h1m-1 2h1m-1 1h1m-1 7h1m-1 2h1m-1 9h1m0-73h1m-1 19h1m-1 8h1m-1 5h1m-1 1h1m-1 3h1m-1 5h1m-1 3h1m-1 2h1m-1 4h1m-1 3h1m-1 2h1m-1 2h1m-1 3h1m-1 4h1m0-35h1m-1 4h1m-1 3h1m-1 1h1m-1 1h1m-1 3h1m-1 3h1m-1 1h1m-1 3h1m-1 2h1m-1 2h1m-1 1h1m-1 11h1m0-46h1m-1 7h1m-1 13h1m-1 1h1m-1 4h1m-1 4h1m-1 6h1m0-28h1m-1 8h1m-1 2h1m-1 1h1m-1 3h1m-1 2h1m-1 1h1m-1 2h1m-1 4h1m-1 2h1m-1 2h1m-1 1h1m-1 2h1m-1 7h1m-1 6h1m0-48h1m-1 3h1m-1 7h1m-1 2h1m-1 1h1m-1 1h1m-1 4h1m-1 2h1m-1 8h1m-1 2h1m-1 1h1m-1 1h1m-1 8h1m-1 4h1m-1 5h1m-1 4h1m-1 5h1m0-51h1m-1 4h1m-1 3h1m-1 2h1m-1 1h1m-1 1h1m-1 4h1m-1 1h1m-1 2h1m-1 2h1m-1 3h1m-1 3h1m-1 6h1m-1 3h1m-1 2h1m0-37h1m-1 1h1m-1 2h1m-1 1h1m-1 3h1m-1 1h1m-1 3h1m-1 1h1m-1 2h1m-1 2h1m-1 1h1m-1 1h1m-1 1h1m-1 1h1m-1 1h1m-1 2h1m-1 4h1m-1 13h1m-1 11h1m0-51h1m-1 4h1m-1 2h1m-1 1h1m-1 3h1m-1 4h1m-1 3h1m-1 2h1m-1 3h1m-1 2h1m-1 1h1m-1 1h1m-1 1h1m-1 3h1m-1 17h1m0-48h1m-1 2h1m-1 1h1m-1 3h1m-1 2h1m-1 4h1m-1 1h1m-1 2h1m-1 3h1m-1 1h1m-1 1h1m-1 1h1m-1 2h1m-1 1h1m-1 1h1m-1 6h1m-1 9h1m-1 3h1m0-47h1m-1 3h1m-1 1h1m-1 5h1m-1 1h1m-1 3h1m-1 1h1m-1 3h1m-1 2h1m-1 1h1m-1 3h1m-1 2h1m-1 1h1m-1 1h1m-1 2h1m-1 3h1m-1 1h1m-1 2h1m-1 1h1m-1 11h1m0-55h1m-1 3h1m-1 10h1m-1 3h1m-1 2h1m-1 1h1m-1 1h1m-1 1h1m-1 4h1m-1 3h1m-1 2h1m-1 1h1m-1 2h1m-1 1h1m-1 1h1m-1 3h1m-1 1h1m-1 1h1m-1 5h1m-1 1h1m-1 2h1m-1 1h1m-1 15h1m0-59h1m-1 4h1m-1 6h1m-1 3h1m-1 2h1m-1 3h1m-1 1h1m-1 2h1m-1 1h1m-1 1h1m-1 2h1m-1 2h1m-1 1h1m-1 3h1m-1 1h1m-1 2h1m-1 4h1m-1 2h1m-1 1h1m-1 1h1m-1 2h1m-1 1h1m-1 8h1m0-53h1m-1 10h1m-1 3h1m-1 5h1m-1 1h1m-1 1h1m-1 2h1m-1 2h1m-1 1h1m-1 1h1m-1 2h1m-1 1h1m-1 3h1m-1 2h1m-1 2h1m-1 2h1m-1 1h1m-1 1h1m-1 2h1m-1 1h1m-1 2h1m-1 2h1m-1 5h1m0-46h1m-1 5h1m-1 2h1m-1 1h1m-1 1h1m-1 1h1m-1 8h1m-1 1h1m-1 1h1m-1 1h1m-1 3h1m-1 3h1m-1 1h1m-1 1h1m-1 1h1m-1 2h1m-1 1h1m-1 2h1m-1 3h1m-1 5h1m-1 1h1m0-55h1m-1 10h1m-1 5h1m-1 3h1m-1 1h1m-1 2h1m-1 1h1m-1 3h1m-1 1h1m-1 1h1m-1 1h1m-1 2h1m-1 2h1m-1 1h1m-1 1h1m-1 1h1m-1 1h1m-1 1h1m-1 1h1m-1 5h1m-1 1h1m-1 2h1m-1 3h1m-1 1h1m-1 1h1m-1 4h1m-1 9h1m0-68h1m-1 13h1m-1 3h1m-1 2h1m-1 1h1m-1 2h1m-1 3h1m-1 1h1m-1 1h1m-1 1h1m-1 4h1m-1 4h1m-1 2h1m-1 1h1m-1 2h1m-1 4h1m-1 3h1m-1 1h1m-1 9h1m-1 1h1m-1 5h1m0-64h1m-1 16h1m-1 2h1m-1 4h1m-1 5h1m-1 1h1m-1 1h1m-1 1h1m-1 1h1m-1 2h1m-1 1h1m-1 4h1m-1 5h1m-1 2h1m-1 1h1m-1 4h1m-1 1h1m-1 2h1m-1 4h1m-1 2h1m-1 7h1m-1 1h1m0-44h1m-1 2h1m-1 2h1m-1 1h1m-1 3h1m-1 2h1m-1 1h1m-1 1h1m-1 1h1m-1 2h1m-1 2h1m-1 1h1m-1 1h1m-1 2h1m-1 3h1m-1 1h1m-1 1h1m-1 3h1m-1 1h1m-1 5h1m-1 2h1m0-56h1m-1 2h1m-1 13h1m-1 1h1m-1 3h1m-1 2h1m-1 1h1m-1 5h1m-1 2h1m-1 4h1m-1 3h1m-1 3h1m-1 1h1m-1 5h1m-1 1h1m-1 2h1m-1 12h1m0-38h1m-1 4h1m-1 1h1m-1 6h1m-1 1h1m-1 1h1m-1 1h1m-1 1h1m-1 3h1m-1 1h1m-1 2h1m-1 3h1m-1 1h1m-1 1h1m-1 2h1m-1 5h1m-1 4h1m0-49h1m-1 6h1m-1 1h1m-1 1h1m-1 5h1m-1 1h1m-1 2h1m-1 7h1m-1 8h1m-1 1h1m-1 3h1m-1 2h1m-1 11h1m-1 4h1m0-53h1m-1 4h1m-1 4h1m-1 4h1m-1 1h1m-1 2h1m-1 2h1m-1 13h1m-1 1h1m-1 1h1m-1 6h1m-1 5h1m0-34h1m-1 4h1m-1 4h1m-1 1h1m-1 1h1m-1 3h1m-1 2h1m-1 1h1m-1 1h1m-1 1h1m-1 1h1m-1 2h1m-1 6h1m-1 1h1m-1 2h1m-1 3h1m-1 2h1m-1 1h1m-1 2h1m-1 3h1m-1 6h1m0-58h1m-1 9h1m-1 1h1m-1 4h1m-1 5h1m-1 2h1m-1 10h1m-1 3h1m-1 2h1m-1 2h1m-1 2h1m-1 1h1m-1 2h1m-1 1h1m-1 11h1m-1 3h1m0-47h1m-1 3h1m-1 4h1m-1 1h1m-1 13h1m-1 1h1m-1 6h1m-1 2h1m-1 3h1m-1 9h1m0-47h1m-1 13h1m-1 7h1m-1 5h1m-1 9h1m-1 3h1m-1 2h1m-1 3h1m-1 10h1m0-49h1m-1 3h1m-1 1h1m-1 3h1m-1 3h1m-1 1h1m-1 1h1m-1 3h1m-1 3h1m-1 3h1m-1 2h1m-1 5h1m-1 1h1m-1 7h1m-1 13h1m0-58h1m-1 6h1m-1 6h1m-1 1h1m-1 2h1m-1 3h1m-1 1h1m-1 2h1m-1 3h1m-1 7h1m-1 1h1m-1 1h1m-1 1h1m0-27h1m-1 7h1m-1 6h1m-1 4h1m-1 3h1m-1 1h1m-1 8h1m-1 1h1m-1 9h1m0-45h1m-1 10h1m-1 1h1m-1 4h1m-1 9h1m-1 4h1m-1 3h1m-1 3h1m0-30h1m-1 20h1m-1 3h1m-1 2h1m-1 3h1m0-9h1m-1 3h1m-1 9h1m-1 4h1m-1 3h1m-1 4h1m-1 1h1m-1 2h1m0-49h1m-1 30h1m-1 2h1m-1 2h1m-1 10h1m-1 6h1m0-43h1m-1 18h1m-1 7h1m-1 8h1m-1 6h1m0-24h1m-1 35h1m0-47h1m-1 2h1m-1 6h1m0-4h1m-1 43h1m0-40h1m2 26h1m2-21h1m0 8h1m1 7h1m1 0h1m0-10h1m-1 30h1m0-64h1m-1 20h1m-1 1h1m-1 7h1m-1 7h1m-1 2h1m-1 6h1m-1 7h1m-1 5h1m-1 3h1m0-40h1m-1 18h1m-1 3h1m-1 11h1m-1 2h1m-1 9h1m0-40h1m-1 1h1m-1 8h1m-1 2h1m-1 2h1m-1 3h1m-1 1h1m-1 3h1m-1 1h1m-1 3h1m-1 5h1m-1 2h1m-1 6h1m-1 3h1m0-42h1m-1 3h1m-1 3h1m-1 2h1m-1 8h1m-1 1h1m-1 1h1m-1 2h1m-1 4h1m-1 2h1m-1 1h1m-1 3h1m-1 3h1m-1 7h1m-1 1h1m-1 4h1m0-49h1m-1 1h1m-1 8h1m-1 1h1m-1 4h1m-1 2h1m-1 1h1m-1 4h1m-1 3h1m-1 1h1m-1 1h1m-1 3h1m-1 1h1m-1 3h1m-1 5h1m-1 3h1m-1 4h1m-1 3h1m-1 1h1m0-45h1m-1 1h1m-1 1h1m-1 1h1m-1 2h1m-1 1h1m-1 2h1m-1 1h1m-1 1h1m-1 1h1m-1 1h1m-1 1h1m-1 1h1m-1 3h1m-1 1h1m-1 1h1m-1 2h1m-1 1h1m-1 2h1m-1 1h1m-1 1h1m-1 1h1m-1 2h1m-1 2h1m-1 3h1m-1 1h1m-1 3h1m-1 4h1m0-60h1m-1 15h1m-1 7h1m-1 1h1m-1 1h1m-1 1h1m-1 1h1m-1 2h1m-1 1h1m-1 1h1m-1 2h1m-1 2h1m-1 1h1m-1 1h1m-1 2h1m-1 2h1m-1 1h1m-1 1h1m-1 1h1m-1 1h1m-1 4h1m-1 1h1m-1 1h1m-1 1h1m-1 6h1m-1 2h1m-1 3h1m0-47h1m-1 3h1m-1 3h1m-1 2h1m-1 3h1m-1 1h1m-1 1h1m-1 1h1m-1 1h1m-1 2h1m-1 1h1m-1 1h1m-1 1h1m-1 1h1m-1 1h1m-1 1h1m-1 1h1m-1 1h1m-1 1h1m-1 1h1m-1 1h1m-1 1h1m-1 2h1m-1 1h1m-1 1h1m-1 2h1m-1 2h1m-1 1h1m-1 1h1m-1 2h1m-1 3h1m-1 1h1m-1 1h1m0-49h1m-1 2h1m-1 1h1m-1 1h1m-1 1h1m-1 1h1m-1 1h1m-1 3h1m-1 1h1m-1 2h1m-1 2h1m-1 1h1m-1 1h1m-1 1h1m-1 1h1m-1 1h1m-1 1h1m-1 1h1m-1 1h1m-1 1h1m-1 1h1m-1 1h1m-1 2h1m-1 1h1m-1 1h1m-1 1h1m-1 1h1m-1 1h1m-1 1h1m-1 2h1m-1 1h1m-1 2h1m-1 1h1m-1 1h1m-1 1h1m-1 2h1m-1 1h1m-1 2h1m-1 1h1m-1 1h1m0-51h1m-1 5h1m-1 1h1m-1 4h1m-1 1h1m-1 1h1m-1 1h1m-1 1h1m-1 2h1m-1 1h1m-1 1h1m-1 1h1m-1 1h1m-1 1h1m-1 1h1m-1 2h1m-1 1h1m-1 1h1m-1 1h1m-1 1h1m-1 1h1m-1 1h1m-1 1h1m-1 1h1m-1 1h1m-1 1h1m-1 1h1m-1 1h1m-1 1h1m-1 1h1m-1 1h1m-1 1h1m-1 1h1m-1 3h1m-1 2h1m-1 1h1m-1 2h1m-1 1h1m-1 3h1m0-52h1m-1 4h1m-1 3h1m-1 7h1m-1 2h1m-1 1h1m-1 1h1m-1 1h1m-1 1h1m-1 1h1m-1 1h1m-1 1h1m-1 1h1m-1 1h1m-1 1h1m-1 1h1m-1 1h1m-1 1h1m-1 1h1m-1 1h1m-1 1h1m-1 1h1m-1 1h1m-1 1h1m-1 2h1m-1 1h1m-1 1h1m-1 1h1m-1 1h1m-1 1h1m-1 1h1m-1 1h1m-1 1h1m-1 1h1m-1 1h1m-1 2h1m-1 1h1m0-53h1m-1 6h1m-1 1h1m-1 1h1m-1 5h1m-1 3h1m-1 1h1m-1 2h1m-1 1h1m-1 1h1m-1 1h1m-1 2h1m-1 1h1m-1 1h1m-1 1h1m-1 1h1m-1 1h1m-1 1h1m-1 1h1m-1 2h1m-1 1h1m-1 1h1m-1 1h1m-1 1h1m-1 1h1m-1 1h1m-1 1h1m-1 1h1m-1 1h1m-1 2h1m-1 1h1m-1 2h1m-1 1h1m-1 1h1m-1 1h1m-1 3h1m-1 1h1m0-57h1m-1 11h1m-1 1h1m-1 1h1m-1 2h1m-1 1h1m-1 2h1m-1 1h1m-1 1h1m-1 1h1m-1 1h1m-1 1h1m-1 1h1m-1 1h1m-1 1h1m-1 1h1m-1 1h1m-1 1h1m-1 1h1m-1 1h1m-1 1h1m-1 1h1m-1 1h1m-1 1h1m-1 1h1m-1 1h1m-1 1h1m-1 1h1m-1 1h1m-1 1h1m-1 1h1m-1 1h1m-1 1h1m-1 1h1m-1 2h1m-1 1h1m-1 2h1m-1 2h1m-1 1h1m-1 2h1m-1 2h1m-1 1h1m0-48h1m-1 1h1m-1 2h1m-1 1h1m-1 1h1m-1 3h1m-1 1h1m-1 2h1m-1 1h1m-1 1h1m-1 1h1m-1 1h1m-1 1h1m-1 1h1m-1 1h1m-1 1h1m-1 1h1m-1 1h1m-1 1h1m-1 1h1m-1 1h1m-1 1h1m-1 1h1m-1 1h1m-1 1h1m-1 2h1m-1 1h1m-1 1h1m-1 1h1m-1 1h1m-1 1h1m-1 1h1m-1 1h1m-1 3h1m-1 1h1m-1 2h1m-1 1h1m-1 1h1m-1 1h1m-1 1h1m-1 1h1m0-49h1m-1 3h1m-1 1h1m-1 3h1m-1 2h1m-1 1h1m-1 2h1m-1 1h1m-1 1h1m-1 2h1m-1 1h1m-1 2h1m-1 1h1m-1 1h1m-1 1h1m-1 1h1m-1 1h1m-1 1h1m-1 1h1m-1 1h1m-1 1h1m-1 1h1m-1 2h1m-1 1h1m-1 1h1m-1 3h1m-1 1h1m-1 1h1m-1 2h1m-1 1h1m-1 1h1m-1 1h1m-1 2h1m-1 1h1m-1 3h1m0-54h1m-1 4h1m-1 1h1m-1 2h1m-1 1h1m-1 1h1m-1 1h1m-1 2h1m-1 1h1m-1 2h1m-1 1h1m-1 1h1m-1 2h1m-1 1h1m-1 1h1m-1 1h1m-1 1h1m-1 1h1m-1 1h1m-1 1h1m-1 1h1m-1 1h1m-1 1h1m-1 1h1m-1 1h1m-1 1h1m-1 1h1m-1 1h1m-1 1h1m-1 1h1m-1 1h1m-1 1h1m-1 1h1m-1 1h1m-1 1h1m-1 1h1m-1 1h1m-1 1h1m-1 1h1m-1 1h1m-1 2h1m-1 2h1m-1 1h1m0-54h1m-1 12h1m-1 1h1m-1 3h1m-1 3h1m-1 2h1m-1 1h1m-1 1h1m-1 1h1m-1 1h1m-1 1h1m-1 1h1m-1 3h1m-1 1h1m-1 1h1m-1 1h1m-1 1h1m-1 2h1m-1 1h1m-1 3h1m-1 2h1m-1 1h1m-1 1h1m-1 1h1m-1 1h1m-1 1h1m-1 2h1m-1 1h1m0-46h1m-1 6h1m-1 2h1m-1 1h1m-1 4h1m-1 2h1m-1 1h1m-1 1h1m-1 1h1m-1 1h1m-1 1h1m-1 1h1m-1 2h1m-1 1h1m-1 1h1m-1 1h1m-1 2h1m-1 1h1m-1 2h1m-1 1h1m-1 1h1m-1 1h1m-1 1h1m-1 1h1m-1 1h1m-1 3h1m-1 2h1m-1 1h1m-1 1h1m-1 2h1m0-40h1m-1 1h1m-1 1h1m-1 3h1m-1 4h1m-1 1h1m-1 2h1m-1 2h1m-1 1h1m-1 1h1m-1 1h1m-1 2h1m-1 1h1m-1 1h1m-1 1h1m-1 1h1m-1 1h1m-1 1h1m-1 1h1m-1 2h1m-1 2h1m-1 1h1m-1 1h1m-1 1h1m-1 1h1m-1 2h1m-1 1h1m-1 1h1m-1 2h1m-1 1h1m0-49h1m-1 5h1m-1 6h1m-1 1h1m-1 3h1m-1 1h1m-1 1h1m-1 1h1m-1 1h1m-1 1h1m-1 1h1m-1 2h1m-1 1h1m-1 4h1m-1 1h1m-1 1h1m-1 1h1m-1 2h1m-1 1h1m-1 2h1m-1 1h1m-1 2h1m-1 10h1m-1 1h1m-1 2h1m0-27h1m-1 2h1m-1 4h1m-1 9h1m-1 5h1m-1 2h1m-1 2h1m-1 2h1m0-56h1m-1 23h1m-1 1h1m-1 4h1m-1 1h1m-1 1h1m-1 3h1m-1 3h1m-1 1h1m-1 7h1m-1 1h1m-1 3h1m-1 3h1m-1 7h1m0-40h1m-1 2h1m-1 1h1m-1 7h1m-1 2h1m-1 2h1m-1 3h1m-1 1h1m-1 7h1m-1 7h1m-1 10h1m0-49h1m-1 12h1m-1 14h1m-1 5h1m-1 3h1m-1 15h1m0-34h1m-1 5h1m-1 11h1m0-13h1m-1 3h1m-1 20h1m0 8h1m1 0h1m0-17h1m-1 17h1m0-26h1m2 26h1m0 0h1m0 0h1" stroke="#ff2020" stroke-width="1" opacity="0.8" fill="none" filter="url(#sb)"/>
<path d="M547 331.5h1m0-14h1m0-11h1m-1 6h1m-1 1h1m-1 7h1m-1 4h1m-1 5h1m-1 3h1m0-30h1m-1 10h1m-1 1h1m-1 1h1m-1 3h1m0-33h1m-1 10h1m-1 4h1m-1 7h1m-1 1h1m-1 3h1m-1 3h1m-1 1h1m-1 3h1m-1 2h1m-1 1h1m-1 2h1m-1 14h1m-1 11h1m0-55h1m-1 6h1m-1 2h1m-1 4h1m-1 3h1m-1 5h1m-1 5h1m-1 5h1m-1 1h1m-1 9h1m0-34h1m-1 5h1m-1 4h1m-1 3h1m-1 3h1m-1 4h1m-1 1h1m-1 1h1m-1 3h1m-1 1h1m-1 1h1m-1 3h1m-1 1h1m-1 5h1m-1 9h1m-1 5h1m0-58h1m-1 2h1m-1 9h1m-1 7h1m-1 8h1m-1 2h1m-1 4h1m-1 3h1m-1 2h1m-1 8h1m-1 4h1m0-48h1m-1 1h1m-1 8h1m-1 3h1m-1 3h1m-1 3h1m-1 1h1m-1 2h1m-1 2h1m-1 3h1m-1 2h1m-1 5h1m-1 1h1m-1 1h1m-1 4h1m-1 18h1m0-56h1m-1 7h1m-1 3h1m-1 1h1m-1 10h1m-1 2h1m-1 2h1m-1 1h1m-1 1h1m-1 2h1m-1 1h1m-1 1h1m-1 3h1m-1 1h1m-1 3h1m-1 8h1m0-47h1m-1 10h1m-1 8h1m-1 1h1m-1 2h1m-1 3h1m-1 1h1m-1 1h1m-1 1h1m-1 4h1m-1 5h1m-1 1h1m-1 4h1m-1 8h1m-1 8h1m0-52h1m-1 2h1m-1 7h1m-1 3h1m-1 3h1m-1 1h1m-1 1h1m-1 2h1m-1 1h1m-1 2h1m-1 4h1m-1 2h1m-1 2h1m-1 1h1m-1 5h1m-1 3h1m0-37h1m-1 1h1m-1 1h1m-1 1h1m-1 6h1m-1 1h1m-1 1h1m-1 1h1m-1 2h1m-1 2h1m-1 2h1m-1 1h1m-1 1h1m-1 2h1m-1 2h1m-1 1h1m-1 1h1m-1 4h1m-1 1h1m-1 1h1m-1 2h1m-1 4h1m-1 1h1m-1 11h1m0-53h1m-1 1h1m-1 3h1m-1 2h1m-1 3h1m-1 6h1m-1 1h1m-1 3h1m-1 2h1m-1 2h1m-1 3h1m-1 3h1m-1 1h1m-1 1h1m-1 1h1m-1 5h1m-1 1h1m-1 2h1m-1 1h1m0-32h1m-1 2h1m-1 2h1m-1 1h1m-1 4h1m-1 1h1m-1 2h1m-1 1h1m-1 1h1m-1 2h1m-1 1h1m-1 1h1m-1 1h1m-1 8h1m-1 1h1m-1 1h1m-1 2h1m-1 1h1m-1 6h1m0-50h1m-1 4h1m-1 11h1m-1 1h1m-1 1h1m-1 1h1m-1 1h1m-1 3h1m-1 1h1m-1 1h1m-1 1h1m-1 2h1m-1 4h1m-1 1h1m-1 2h1m-1 2h1m-1 1h1m-1 3h1m-1 1h1m-1 3h1m-1 8h1m0-55h1m-1 2h1m-1 8h1m-1 1h1m-1 2h1m-1 2h1m-1 3h1m-1 1h1m-1 2h1m-1 3h1m-1 1h1m-1 1h1m-1 2h1m-1 7h1m-1 1h1m-1 3h1m-1 1h1m-1 1h1m-1 2h1m-1 2h1m-1 1h1m-1 3h1m-1 6h1m0-56h1m-1 10h1m-1 4h1m-1 3h1m-1 2h1m-1 1h1m-1 1h1m-1 1h1m-1 2h1m-1 1h1m-1 2h1m-1 3h1m-1 1h1m-1 4h1m-1 1h1m-1 2h1m-1 1h1m-1 2h1m-1 2h1m-1 5h1m-1 1h1m0-43h1m-1 4h1m-1 1h1m-1 2h1m-1 1h1m-1 3h1m-1 3h1m-1 3h1m-1 1h1m-1 1h1m-1 3h1m-1 1h1m-1 1h1m-1 1h1m-1 2h1m-1 3h1m-1 1h1m-1 2h1m-1 5h1m-1 4h1m-1 3h1m-1 7h1m0-46h1m-1 1h1m-1 5h1m-1 2h1m-1 1h1m-1 1h1m-1 4h1m-1 1h1m-1 5h1m-1 1h1m-1 1h1m-1 1h1m-1 1h1m-1 3h1m-1 2h1m-1 3h1m-1 16h1m0-53h1m-1 1h1m-1 6h1m-1 2h1m-1 3h1m-1 1h1m-1 3h1m-1 1h1m-1 1h1m-1 1h1m-1 1h1m-1 2h1m-1 1h1m-1 2h1m-1 1h1m-1 1h1m-1 2h1m-1 2h1m-1 1h1m-1 2h1m-1 8h1m0-50h1m-1 6h1m-1 7h1m-1 2h1m-1 3h1m-1 2h1m-1 2h1m-1 2h1m-1 2h1m-1 1h1m-1 1h1m-1 1h1m-1 1h1m-1 1h1m-1 1h1m-1 1h1m-1 1h1m-1 3h1m-1 1h1m-1 4h1m-1 4h1m-1 6h1m-1 3h1m0-65h1m-1 9h1m-1 8h1m-1 4h1m-1 3h1m-1 1h1m-1 1h1m-1 2h1m-1 1h1m-1 1h1m-1 3h1m-1 2h1m-1 1h1m-1 1h1m-1 2h1m-1 4h1m-1 2h1m-1 2h1m-1 1h1m-1 2h1m-1 1h1m-1 1h1m-1 4h1m-1 2h1m-1 1h1m-1 11h1m0-66h1m-1 10h1m-1 4h1m-1 2h1m-1 1h1m-1 7h1m-1 4h1m-1 1h1m-1 3h1m-1 1h1m-1 2h1m-1 1h1m-1 1h1m-1 1h1m-1 1h1m-1 1h1m-1 7h1m-1 3h1m-1 2h1m0-44h1m-1 3h1m-1 10h1m-1 1h1m-1 3h1m-1 1h1m-1 4h1m-1 1h1m-1 2h1m-1 1h1m-1 6h1m-1 1h1m-1 2h1m-1 1h1m-1 1h1m-1 1h1m-1 1h1m-1 1h1m-1 4h1m-1 6h1m-1 8h1m0-47h1m-1 4h1m-1 4h1m-1 1h1m-1 1h1m-1 1h1m-1 2h1m-1 6h1m-1 1h1m-1 2h1m-1 1h1m-1 2h1m-1 1h1m-1 1h1m-1 2h1m-1 1h1m-1 2h1m-1 1h1m-1 10h1m-1 1h1m0-61h1m-1 9h1m-1 5h1m-1 3h1m-1 3h1m-1 2h1m-1 6h1m-1 2h1m-1 2h1m-1 1h1m-1 1h1m-1 2h1m-1 1h1m-1 7h1m-1 1h1m-1 1h1m-1 5h1m-1 1h1m-1 1h1m-1 12h1m0-56h1m-1 3h1m-1 2h1m-1 7h1m-1 3h1m-1 2h1m-1 1h1m-1 3h1m-1 1h1m-1 2h1m-1 4h1m-1 2h1m-1 1h1m-1 6h1m-1 1h1m-1 1h1m0-44h1m-1 3h1m-1 13h1m-1 1h1m-1 7h1m-1 1h1m-1 1h1m-1 2h1m-1 1h1m-1 1h1m-1 1h1m-1 1h1m-1 1h1m-1 1h1m-1 2h1m-1 1h1m-1 2h1m-1 3h1m-1 1h1m-1 1h1m-1 1h1m0-31h1m-1 4h1m-1 4h1m-1 1h1m-1 2h1m-1 3h1m-1 1h1m-1 1h1m-1 4h1m-1 2h1m-1 4h1m-1 2h1m-1 2h1m-1 16h1m0-68h1m-1 18h1m-1 2h1m-1 1h1m-1 1h1m-1 5h1m-1 1h1m-1 2h1m-1 1h1m-1 2h1m-1 1h1m-1 6h1m-1 1h1m-1 1h1m-1 2h1m-1 14h1m-1 5h1m-1 6h1m0-57h1m-1 1h1m-1 7h1m-1 1h1m-1 7h1m-1 1h1m-1 3h1m-1 1h1m-1 1h1m-1 6h1m-1 3h1m-1 2h1m-1 1h1m-1 2h1m-1 2h1m-1 12h1m-1 2h1m-1 5h1m0-41h1m-1 1h1m-1 1h1m-1 3h1m-1 2h1m-1 1h1m-1 6h1m-1 2h1m-1 1h1m-1 1h1m-1 1h1m-1 3h1m-1 2h1m-1 17h1m0-43h1m-1 3h1m-1 9h1m-1 2h1m-1 1h1m-1 2h1m-1 8h1m-1 2h1m-1 10h1m-1 6h1m0-44h1m-1 2h1m-1 5h1m-1 3h1m-1 2h1m-1 1h1m-1 12h1m-1 1h1m-1 1h1m-1 7h1m-1 8h1m0-38h1m-1 1h1m-1 3h1m-1 2h1m-1 2h1m-1 1h1m-1 4h1m-1 1h1m-1 5h1m-1 2h1m-1 15h1m0-45h1m-1 9h1m-1 1h1m-1 10h1m-1 2h1m-1 2h1m-1 5h1m-1 10h1m-1 10h1m0-47h1m-1 30h1m-1 1h1m-1 4h1m0-27h1m-1 6h1m-1 2h1m-1 15h1m0-14h1m-1 7h1m0-18h1m-1 12h1m-1 29h1m0-45h1m-1 9h1m-1 8h1m-1 4h1m0-10h1m-1 6h1m-1 7h1m-1 11h1m-1 10h1m1 0h1m1 0h1m0-31h1m-1 31h1m1 0h1m1 0h1m0 0h1m0-39h1m-1 8h1m-1 31h1m0-35h1m-1 24h1m0-26h1m-1 15h1m0-31h1m-1 8h1m-1 9h1m-1 6h1m-1 1h1m-1 8h1m-1 5h1m-1 8h1m0-37h1m-1 15h1m-1 2h1m-1 5h1m-1 3h1m-1 9h1m-1 9h1m-1 2h1m0-63h1m-1 18h1m-1 4h1m-1 3h1m-1 4h1m-1 1h1m-1 2h1m-1 3h1m-1 1h1m-1 4h1m-1 1h1m-1 9h1m0-17h1m-1 2h1m-1 2h1m-1 3h1m-1 1h1m-1 9h1m-1 3h1m-1 2h1m-1 7h1m0-50h1m-1 6h1m-1 4h1m-1 1h1m-1 8h1m-1 3h1m-1 1h1m-1 1h1m-1 1h1m-1 3h1m-1 1h1m-1 1h1m-1 3h1m-1 1h1m-1 1h1m-1 6h1m-1 1h1m-1 2h1m-1 1h1m-1 6h1m0-44h1m-1 1h1m-1 2h1m-1 3h1m-1 2h1m-1 2h1m-1 1h1m-1 2h1m-1 1h1m-1 1h1m-1 1h1m-1 2h1m-1 1h1m-1 3h1m-1 2h1m-1 1h1m-1 4h1m-1 1h1m-1 3h1m-1 3h1m-1 1h1m-1 1h1m-1 3h1m-1 1h1m-1 1h1m0-45h1m-1 5h1m-1 3h1m-1 1h1m-1 1h1m-1 1h1m-1 2h1m-1 1h1m-1 1h1m-1 2h1m-1 1h1m-1 2h1m-1 4h1m-1 1h1m-1 1h1m-1 1h1m-1 1h1m-1 1h1m-1 1h1m-1 1h1m-1 1h1m-1 1h1m-1 5h1m-1 4h1m-1 1h1m0-44h1m-1 5h1m-1 2h1m-1 1h1m-1 2h1m-1 2h1m-1 1h1m-1 1h1m-1 1h1m-1 2h1m-1 1h1m-1 1h1m-1 1h1m-1 1h1m-1 1h1m-1 1h1m-1 2h1m-1 1h1m-1 3h1m-1 1h1m-1 3h1m-1 1h1m-1 1h1m-1 1h1m-1 8h1m0-46h1m-1 8h1m-1 1h1m-1 1h1m-1 1h1m-1 2h1m-1 1h1m-1 2h1m-1 1h1m-1 1h1m-1 1h1m-1 2h1m-1 2h1m-1 1h1m-1 2h1m-1 1h1m-1 1h1m-1 2h1m-1 1h1m-1 1h1m-1 1h1m-1 3h1m-1 1h1m-1 1h1m-1 1h1m-1 1h1m-1 2h1m-1 1h1m-1 2h1m-1 1h1m0-51h1m-1 6h1m-1 3h1m-1 1h1m-1 1h1m-1 2h1m-1 1h1m-1 3h1m-1 1h1m-1 1h1m-1 1h1m-1 1h1m-1 1h1m-1 2h1m-1 1h1m-1 1h1m-1 1h1m-1 1h1m-1 1h1m-1 1h1m-1 1h1m-1 1h1m-1 1h1m-1 2h1m-1 1h1m-1 1h1m-1 1h1m-1 1h1m-1 1h1m-1 1h1m-1 1h1m-1 1h1m-1 1h1m-1 1h1m-1 3h1m-1 1h1m-1 2h1m-1 2h1m0-45h1m-1 1h1m-1 5h1m-1 2h1m-1 1h1m-1 3h1m-1 1h1m-1 1h1m-1 1h1m-1 1h1m-1 1h1m-1 1h1m-1 1h1m-1 1h1m-1 1h1m-1 1h1m-1 1h1m-1 1h1m-1 1h1m-1 1h1m-1 1h1m-1 1h1m-1 1h1m-1 1h1m-1 1h1m-1 1h1m-1 1h1m-1 2h1m-1 1h1m-1 2h1m-1 5h1m-1 1h1m0-58h1m-1 11h1m-1 1h1m-1 3h1m-1 2h1m-1 1h1m-1 1h1m-1 1h1m-1 1h1m-1 1h1m-1 1h1m-1 1h1m-1 1h1m-1 1h1m-1 1h1m-1 1h1m-1 1h1m-1 1h1m-1 1h1m-1 1h1m-1 1h1m-1 1h1m-1 1h1m-1 1h1m-1 1h1m-1 1h1m-1 1h1m-1 1h1m-1 1h1m-1 1h1m-1 1h1m-1 1h1m-1 1h1m-1 1h1m-1 2h1m-1 1h1m-1 1h1m-1 1h1m-1 1h1m-1 4h1m-1 3h1m0-56h1m-1 4h1m-1 2h1m-1 4h1m-1 1h1m-1 2h1m-1 1h1m-1 2h1m-1 1h1m-1 3h1m-1 1h1m-1 1h1m-1 1h1m-1 1h1m-1 1h1m-1 1h1m-1 1h1m-1 1h1m-1 1h1m-1 1h1m-1 1h1m-1 1h1m-1 1h1m-1 1h1m-1 1h1m-1 2h1m-1 1h1m-1 1h1m-1 1h1m-1 1h1m-1 1h1m-1 1h1m-1 1h1m-1 1h1m-1 1h1m-1 2h1m-1 1h1m-1 1h1m-1 1h1m-1 1h1m-1 1h1m-1 2h1m-1 1h1m-1 1h1m0-56h1m-1 1h1m-1 6h1m-1 3h1m-1 1h1m-1 1h1m-1 1h1m-1 1h1m-1 1h1m-1 1h1m-1 1h1m-1 1h1m-1 1h1m-1 1h1m-1 1h1m-1 1h1m-1 1h1m-1 2h1m-1 1h1m-1 1h1m-1 1h1m-1 1h1m-1 1h1m-1 1h1m-1 1h1m-1 1h1m-1 1h1m-1 1h1m-1 1h1m-1 1h1m-1 1h1m-1 1h1m-1 1h1m-1 1h1m-1 1h1m-1 1h1m-1 2h1m-1 1h1m-1 1h1m-1 3h1m-1 1h1m-1 2h1m-1 2h1m0-52h1m-1 2h1m-1 2h1m-1 1h1m-1 4h1m-1 3h1m-1 4h1m-1 1h1m-1 2h1m-1 1h1m-1 1h1m-1 1h1m-1 1h1m-1 1h1m-1 1h1m-1 1h1m-1 1h1m-1 1h1m-1 1h1m-1 1h1m-1 1h1m-1 1h1m-1 1h1m-1 1h1m-1 1h1m-1 1h1m-1 1h1m-1 2h1m-1 2h1m-1 1h1m-1 1h1m-1 1h1m-1 5h1m-1 2h1m0-48h1m-1 4h1m-1 1h1m-1 1h1m-1 4h1m-1 2h1m-1 1h1m-1 1h1m-1 1h1m-1 1h1m-1 1h1m-1 1h1m-1 1h1m-1 2h1m-1 1h1m-1 1h1m-1 1h1m-1 1h1m-1 1h1m-1 1h1m-1 1h1m-1 1h1m-1 1h1m-1 1h1m-1 1h1m-1 1h1m-1 1h1m-1 1h1m-1 1h1m-1 1h1m-1 1h1m-1 3h1m-1 1h1m-1 2h1m-1 5h1m-1 1h1m0-57h1m-1 6h1m-1 4h1m-1 1h1m-1 1h1m-1 2h1m-1 4h1m-1 1h1m-1 1h1m-1 1h1m-1 1h1m-1 1h1m-1 1h1m-1 4h1m-1 1h1m-1 1h1m-1 2h1m-1 2h1m-1 1h1m-1 1h1m-1 1h1m-1 1h1m-1 1h1m-1 1h1m-1 2h1m-1 1h1m-1 1h1m-1 1h1m-1 1h1m-1 1h1m-1 3h1m-1 1h1m-1 1h1m-1 1h1m-1 4h1m0-50h1m-1 4h1m-1 1h1m-1 1h1m-1 2h1m-1 1h1m-1 2h1m-1 1h1m-1 2h1m-1 1h1m-1 1h1m-1 1h1m-1 1h1m-1 1h1m-1 1h1m-1 1h1m-1 1h1m-1 1h1m-1 1h1m-1 1h1m-1 1h1m-1 1h1m-1 1h1m-1 2h1m-1 1h1m-1 1h1m-1 1h1m-1 2h1m-1 1h1m-1 1h1m-1 4h1m-1 2h1m-1 1h1m0-50h1m-1 7h1m-1 2h1m-1 3h1m-1 5h1m-1 1h1m-1 1h1m-1 1h1m-1 1h1m-1 1h1m-1 1h1m-1 1h1m-1 1h1m-1 2h1m-1 1h1m-1 1h1m-1 1h1m-1 1h1m-1 1h1m-1 1h1m-1 1h1m-1 1h1m-1 2h1m-1 1h1m-1 1h1m-1 1h1m-1 1h1m-1 1h1m-1 1h1m-1 2h1m-1 5h1m-1 4h1m0-46h1m-1 2h1m-1 3h1m-1 2h1m-1 2h1m-1 3h1m-1 3h1m-1 1h1m-1 4h1m-1 1h1m-1 1h1m-1 1h1m-1 1h1m-1 1h1m-1 4h1m-1 1h1m-1 2h1m-1 2h1m-1 1h1m-1 1h1m-1 3h1m-1 3h1m-1 1h1m0-43h1m-1 1h1m-1 7h1m-1 1h1m-1 4h1m-1 2h1m-1 2h1m-1 1h1m-1 2h1m-1 3h1m-1 1h1m-1 1h1m-1 1h1m-1 1h1m-1 1h1m-1 2h1m-1 2h1m-1 1h1m-1 1h1m-1 2h1m-1 1h1m-1 1h1m-1 3h1m-1 7h1m0-44h1m-1 1h1m-1 3h1m-1 2h1m-1 4h1m-1 1h1m-1 1h1m-1 1h1m-1 1h1m-1 1h1m-1 1h1m-1 2h1m-1 1h1m-1 2h1m-1 5h1m-1 1h1m-1 1h1m-1 1h1m-1 4h1m-1 1h1m0-45h1m-1 22h1m-1 1h1m-1 2h1m-1 3h1m-1 1h1m-1 2h1m-1 5h1m-1 5h1m-1 2h1m-1 3h1m-1 9h1m0-37h1m-1 3h1m-1 3h1m-1 4h1m-1 2h1m-1 8h1m-1 17h1m0-39h1m-1 9h1m-1 14h1m-1 16h1m0-38h1m-1 5h1m-1 13h1m0-25h1m-1 18h1m-1 18h1m-1 5h1m2-8h1m-1 12h1m0-38h1m3 38h1" stroke="#ff2020" stroke-width="1" opacity="0.4" fill="none" filter="url(#sb)"/>
<path d="M548 311.5h1m0 18h1m0-34h1m-1 25h1m0 1h1m0 17h1m0-27h1m-1 11h1m0-5h1m-1 12h1m1-45h1m-1 31h1m-1 1h1m-1 4h1m0-6h1m-1 18h1m-1 5h1m0-42h1m-1 41h1m0-42h1m-1 2h1m-1 12h1m-1 1h1m-1 8h1m-1 2h1m0 1h1m-1 1h1m0-45h1m-1 41h1m-1 2h1m-1 12h1m-1 14h1m0-44h1m-1 14h1m0-22h1m-1 19h1m-1 16h1m-1 9h1m0-33h1m-1 17h1m-1 1h1m-1 3h1m0-26h1m-1 3h1m-1 17h1m-1 7h1m-1 1h1m0-36h1m-1 13h1m-1 12h1m-1 5h1m0-19h1m-1 2h1m-1 1h1m-1 5h1m-1 4h1m-1 9h1m-1 5h1m0-50h1m-1 19h1m-1 3h1m0 8h1m-1 17h1m-1 17h1m0-49h1m-1 4h1m-1 2h1m-1 2h1m-1 3h1m-1 3h1m-1 4h1m-1 4h1m-1 1h1m-1 6h1m-1 17h1m0-55h1m-1 6h1m-1 17h1m-1 4h1m-1 16h1m-1 14h1m0-41h1m-1 23h1m-1 5h1m-1 10h1m-1 2h1m0-55h1m-1 10h1m-1 9h1m-1 8h1m-1 3h1m-1 1h1m-1 1h1m-1 7h1m-1 9h1m-1 6h1m-1 5h1m0-66h1m-1 13h1m-1 3h1m-1 10h1m-1 5h1m-1 2h1m-1 1h1m-1 9h1m-1 1h1m-1 5h1m-1 10h1m-1 7h1m-1 1h1m0-47h1m-1 6h1m-1 10h1m-1 1h1m-1 2h1m-1 10h1m-1 6h1m-1 11h1m0-59h1m-1 6h1m-1 9h1m-1 3h1m-1 9h1m-1 5h1m-1 11h1m-1 6h1m0-28h1m-1 1h1m-1 2h1m-1 2h1m-1 24h1m-1 6h1m0-56h1m-1 3h1m-1 9h1m-1 9h1m-1 5h1m-1 6h1m-1 2h1m-1 1h1m-1 2h1m-1 1h1m-1 19h1m0-40h1m-1 2h1m-1 10h1m-1 3h1m-1 26h1m-1 1h1m0-56h1m-1 7h1m-1 8h1m-1 8h1m-1 7h1m-1 3h1m-1 3h1m-1 1h1m-1 12h1m0-41h1m-1 8h1m-1 5h1m-1 5h1m-1 1h1m-1 1h1m-1 4h1m0-46h1m-1 10h1m-1 16h1m-1 1h1m-1 9h1m-1 4h1m-1 2h1m-1 2h1m-1 1h1m-1 4h1m-1 3h1m-1 4h1m0-51h1m-1 7h1m-1 7h1m-1 5h1m-1 3h1m-1 5h1m-1 7h1m-1 1h1m-1 1h1m-1 9h1m-1 1h1m-1 5h1m0-35h1m-1 7h1m-1 11h1m-1 5h1m-1 14h1m-1 10h1m0-52h1m-1 3h1m-1 3h1m-1 5h1m-1 12h1m-1 5h1m-1 2h1m-1 1h1m-1 8h1m-1 1h1m-1 1h1m-1 11h1m-1 1h1m0-49h1m-1 1h1m-1 10h1m-1 5h1m-1 3h1m-1 1h1m-1 6h1m-1 3h1m-1 6h1m-1 1h1m-1 7h1m0-75h1m-1 31h1m-1 2h1m-1 4h1m-1 4h1m-1 3h1m-1 6h1m-1 9h1m-1 11h1m-1 3h1m-1 6h1m0-89h1m-1 64h1m-1 2h1m-1 1h1m-1 10h1m-1 5h1m-1 6h1m0-46h1m-1 13h1m-1 2h1m-1 4h1m-1 4h1m-1 1h1m-1 9h1m-1 5h1m-1 9h1m0-55h1m-1 11h1m-1 1h1m-1 1h1m-1 5h1m-1 1h1m-1 2h1m-1 1h1m-1 1h1m-1 6h1m-1 11h1m-1 17h1m0-58h1m-1 4h1m-1 6h1m-1 6h1m-1 5h1m-1 1h1m-1 5h1m-1 2h1m-1 1h1m-1 7h1m-1 7h1m-1 4h1m0-48h1m-1 6h1m-1 2h1m-1 2h1m-1 3h1m-1 12h1m-1 4h1m-1 3h1m-1 4h1m-1 6h1m-1 4h1m-1 7h1m-1 2h1m0-54h1m-1 12h1m-1 4h1m-1 5h1m-1 12h1m0-44h1m-1 21h1m-1 2h1m-1 5h1m-1 2h1m-1 13h1m-1 1h1m-1 4h1m0-45h1m-1 11h1m-1 1h1m-1 7h1m-1 3h1m-1 1h1m-1 5h1m-1 4h1m-1 4h1m-1 3h1m-1 1h1m-1 1h1m-1 2h1m-1 3h1m-1 14h1m0-44h1m-1 8h1m-1 1h1m-1 2h1m-1 3h1m-1 4h1m-1 7h1m-1 2h1m-1 4h1m0-22h1m-1 14h1m-1 11h1m0-42h1m-1 7h1m-1 6h1m-1 5h1m-1 11h1m-1 1h1m-1 22h1m0-69h1m-1 8h1m-1 20h1m-1 14h1m-1 1h1m-1 3h1m-1 11h1m-1 18h1m0-48h1m-1 15h1m-1 5h1m-1 6h1m-1 8h1m-1 6h1m0-54h1m-1 1h1m-1 9h1m-1 1h1m-1 1h1m-1 16h1m-1 2h1m-1 2h1m-1 5h1m-1 3h1m-1 4h1m-1 2h1m-1 2h1m0-69h1m-1 37h1m-1 3h1m-1 3h1m-1 1h1m-1 4h1m-1 7h1m-1 3h1m-1 14h1m-1 4h1m0-59h1m-1 14h1m-1 1h1m-1 8h1m-1 2h1m-1 13h1m-1 3h1m-1 2h1m-1 1h1m-1 1h1m-1 6h1m0-58h1m-1 12h1m-1 4h1m-1 6h1m-1 7h1m-1 5h1m-1 1h1m-1 8h1m-1 1h1m-1 9h1m-1 6h1m0-51h1m-1 17h1m-1 6h1m-1 4h1m-1 1h1m-1 3h1m-1 2h1m-1 6h1m-1 2h1m-1 2h1m-1 2h1m-1 5h1m-1 13h1m0-49h1m-1 9h1m-1 6h1m-1 4h1m-1 2h1m-1 2h1m-1 5h1m-1 6h1m-1 4h1m-1 4h1m0-29h1m-1 3h1m-1 6h1m-1 5h1m-1 3h1m0-36h1m-1 8h1m-1 5h1m-1 20h1m-1 2h1m-1 1h1m-1 1h1m-1 5h1m0-55h1m-1 5h1m-1 14h1m-1 7h1m-1 4h1m-1 10h1m-1 4h1m-1 5h1m0-25h1m-1 16h1m-1 5h1m-1 6h1m-1 18h1m0-48h1m-1 2h1m-1 10h1m-1 3h1m-1 5h1m-1 8h1m-1 5h1m-1 3h1m-1 12h1m0-68h1m-1 26h1m-1 13h1m-1 1h1m-1 5h1m0-33h1m-1 12h1m-1 13h1m-1 12h1m-1 1h1m-1 3h1m0-45h1m-1 8h1m-1 10h1m0 22h1m0-24h1m-1 6h1m-1 9h1m-1 1h1m0-43h1m-1 23h1m-1 9h1m-1 9h1m0 14h1m-1 16h1m0-62h1m-1 34h1m-1 5h1m-1 3h1m0 8h1m-1 1h1m0-53h1m-1 34h1m-1 10h1m0-9h1m0-28h1m-1 14h1m0-15h1m-1 20h1m-1 23h1m1-27h1m0 10h1m0-2h1m0-5h1m-1 17h1m1-28h1m-1 18h1m2-24h1m7 16h1" stroke="#ff2020" stroke-width="1" opacity="0.48" fill="none" filter="url(#sb)"/>
<path d="M548 302.5h1m-1 24h1m0-36h1m-1 8h1m0 34h1m2-33h1m1 3h1m0-2h1m-1 8h1m-1 5h1m-1 11h1m0-29h1m-1 13h1m0 1h1m0-10h1m-1 23h1m0-15h1m-1 4h1m-1 6h1m-1 2h1m-1 7h1m-1 11h1m0-31h1m-1 10h1m-1 18h1m0-30h1m-1 8h1m-1 24h1m-1 2h1m-1 2h1m0-32h1m0-12h1m-1 4h1m-1 14h1m-1 13h1m-1 3h1m0-27h1m-1 9h1m-1 4h1m-1 8h1m0-26h1m-1 10h1m-1 1h1m-1 12h1m0-21h1m-1 14h1m-1 30h1m-1 2h1m0-42h1m-1 4h1m-1 19h1m-1 6h1m0-21h1m-1 9h1m-1 5h1m-1 2h1m0-29h1m-1 29h1m-1 5h1m-1 5h1m0-53h1m-1 6h1m-1 17h1m-1 5h1m-1 4h1m-1 2h1m-1 2h1m-1 8h1m-1 4h1m0-66h1m-1 34h1m-1 13h1m-1 6h1m-1 2h1m-1 6h1m-1 8h1m0-49h1m-1 7h1m-1 10h1m-1 1h1m-1 1h1m-1 1h1m-1 2h1m-1 16h1m-1 7h1m0-35h1m-1 9h1m-1 4h1m-1 2h1m-1 1h1m-1 5h1m-1 5h1m-1 13h1m0-47h1m-1 9h1m-1 12h1m-1 6h1m-1 11h1m-1 1h1m-1 2h1m-1 2h1m-1 11h1m0-54h1m-1 11h1m-1 4h1m-1 5h1m-1 1h1m-1 1h1m-1 15h1m-1 2h1m-1 1h1m-1 3h1m0-39h1m-1 6h1m-1 12h1m-1 2h1m-1 4h1m-1 7h1m-1 1h1m-1 1h1m-1 6h1m-1 1h1m-1 8h1m-1 4h1m0-58h1m-1 20h1m-1 4h1m-1 5h1m-1 4h1m-1 1h1m-1 18h1m0-53h1m-1 22h1m-1 4h1m-1 1h1m-1 12h1m0-41h1m-1 4h1m-1 4h1m-1 3h1m-1 7h1m-1 9h1m-1 2h1m-1 4h1m-1 5h1m-1 15h1m-1 4h1m0-41h1m-1 8h1m-1 4h1m-1 6h1m-1 7h1m-1 8h1m-1 2h1m0-36h1m-1 1h1m-1 2h1m-1 7h1m-1 7h1m-1 28h1m0-52h1m-1 4h1m-1 5h1m-1 4h1m-1 2h1m-1 3h1m-1 1h1m-1 6h1m-1 1h1m-1 14h1m-1 3h1m-1 1h1m0-55h1m-1 6h1m-1 2h1m-1 7h1m-1 4h1m-1 2h1m-1 1h1m-1 2h1m-1 6h1m-1 1h1m-1 4h1m-1 3h1m-1 3h1m-1 9h1m0-49h1m-1 16h1m-1 3h1m-1 2h1m-1 4h1m-1 5h1m-1 3h1m-1 1h1m-1 1h1m-1 1h1m-1 1h1m-1 3h1m-1 8h1m0-31h1m-1 4h1m-1 9h1m-1 7h1m-1 2h1m-1 4h1m-1 9h1m-1 4h1m0-51h1m-1 10h1m-1 2h1m-1 19h1m-1 1h1m-1 6h1m-1 2h1m-1 1h1m0-50h1m-1 6h1m-1 3h1m-1 11h1m-1 2h1m-1 1h1m-1 5h1m-1 2h1m-1 7h1m-1 4h1m-1 4h1m-1 4h1m-1 6h1m0-45h1m-1 1h1m-1 4h1m-1 8h1m-1 5h1m-1 2h1m-1 3h1m-1 1h1m-1 1h1m-1 3h1m-1 3h1m-1 17h1m-1 8h1m0-68h1m-1 14h1m-1 1h1m-1 1h1m-1 4h1m-1 1h1m-1 2h1m-1 6h1m-1 3h1m-1 4h1m-1 5h1m-1 5h1m-1 2h1m-1 3h1m-1 2h1m-1 1h1m-1 10h1m0-55h1m-1 23h1m-1 4h1m-1 5h1m-1 11h1m-1 1h1m-1 1h1m-1 9h1m0-47h1m-1 7h1m-1 1h1m-1 13h1m-1 2h1m-1 2h1m-1 1h1m-1 1h1m-1 10h1m-1 2h1m0-50h1m-1 17h1m-1 2h1m-1 2h1m-1 6h1m-1 4h1m-1 7h1m-1 3h1m-1 3h1m-1 7h1m-1 5h1m-1 2h1m0-63h1m-1 1h1m-1 17h1m-1 6h1m-1 5h1m-1 10h1m-1 1h1m-1 4h1m-1 1h1m-1 2h1m-1 3h1m-1 13h1m0-47h1m-1 1h1m-1 12h1m-1 4h1m-1 7h1m-1 4h1m-1 1h1m-1 1h1m-1 5h1m0-40h1m-1 7h1m-1 5h1m-1 3h1m-1 3h1m-1 2h1m-1 3h1m-1 4h1m-1 2h1m-1 17h1m0-54h1m-1 8h1m-1 11h1m-1 2h1m-1 6h1m-1 1h1m-1 2h1m-1 1h1m-1 8h1m-1 8h1m-1 11h1m0-42h1m-1 23h1m-1 3h1m-1 1h1m-1 4h1m-1 4h1m-1 5h1m0-46h1m-1 14h1m-1 3h1m-1 5h1m-1 10h1m-1 6h1m-1 2h1m0-42h1m-1 17h1m-1 3h1m-1 5h1m-1 2h1m-1 1h1m-1 1h1m-1 7h1m-1 12h1m0-49h1m-1 2h1m-1 11h1m-1 2h1m-1 10h1m-1 2h1m-1 6h1m-1 5h1m-1 2h1m-1 7h1m0-45h1m-1 8h1m-1 8h1m-1 6h1m-1 4h1m-1 5h1m-1 17h1m0-54h1m-1 3h1m-1 10h1m-1 14h1m-1 8h1m-1 2h1m-1 1h1m-1 7h1m-1 4h1m-1 2h1m0-56h1m-1 15h1m-1 11h1m-1 3h1m-1 4h1m-1 5h1m-1 15h1m0-59h1m-1 13h1m-1 9h1m-1 12h1m-1 7h1m-1 2h1m-1 17h1m0-72h1m-1 40h1m-1 4h1m-1 4h1m-1 1h1m-1 4h1m-1 8h1m-1 17h1m0-50h1m-1 28h1m-1 4h1m-1 4h1m-1 2h1m0-26h1m-1 8h1m-1 9h1m-1 5h1m-1 22h1m0-59h1m-1 5h1m-1 9h1m-1 1h1m-1 44h1m0-60h1m-1 18h1m-1 5h1m-1 2h1m-1 1h1m-1 12h1m-1 1h1m-1 1h1m-1 5h1m0-32h1m-1 9h1m-1 13h1m-1 1h1m-1 18h1m0-50h1m-1 20h1m-1 22h1m0-18h1m-1 15h1m-1 19h1m0-72h1m-1 22h1m-1 1h1m-1 4h1m-1 1h1m-1 23h1m-1 5h1m-1 1h1m0-48h1m-1 4h1m-1 30h1m0-28h1m-1 11h1m-1 4h1m-1 18h1m0-26h1m-1 4h1m-1 4h1m-1 1h1m-1 3h1m-1 5h1m0-19h1m-1 26h1m0-11h1m-1 5h1m-1 25h1m0-76h1m-1 30h1m-1 8h1m-1 13h1m0-17h1m-1 32h1m-1 1h1m0-24h1m-1 19h1m0-11h1m-1 6h1m1-14h1m-1 20h1m0-25h1m-1 11h1m-1 1h1m-1 6h1m0 3h1m1-1h1m1-34h1m-1 3h1m-1 14h1m2-8h1m-1 16h1m4-18h1" stroke="#ff2020" stroke-width="1" opacity="0.24" fill="none" filter="url(#sb)"/>
<path d="M556 315.5h1m12-46h1m0 4h1m11 43h1m5-52h1m0 0h1m-1 42h1m0 38h1m0-39h1m6-28h1m1 54h1m2-19h1m0 30h1m0-22h1m2-68h1m0 44h1m-1 18h1m1-39h1m0 43h1m5-41h1m0 15h1m5 15h1m0-17h1m1 1h1m0 46h1m3-41h1m4 18h1m1-27h1" stroke="#ff2020" stroke-width="1" opacity="0.4" fill="none" filter="url(#sb)"/>
<path d="M548 329.5h1m1-7h1m0 10h1m0-15h1m1-20h1m3 47h1m1-81h1m2 12h1m4-25h1m2 27h1m-1 35h1m-1 10h1m0-41h1m-1 2h1m10 18h1m2-9h1m0-29h1m1 77h1m8-73h1m17 30h1m2 0h1m0-39h1m0 71h1m0-46h1m1 60h1m0-62h1m1-7h1m-1 26h1m0-22h1m6 59h1" stroke="#ff2020" stroke-width="1" opacity="0.2" fill="none" filter="url(#sb)"/>
<path d="M603 270.5h1m2-1h1m1-2h1m-1 6h1m0-4h1m-1 6h1m0-16h1m-1 10h1m-1 3h1m-1 1h1m-1 2h1m-1 1h1m0-13h1m-1 4h1m-1 4h1m-1 2h1m-1 1h1m-1 2h1m-1 1h1m-1 2h1m0-15h1m-1 1h1m-1 5h1m-1 1h1m-1 1h1m-1 5h1m0-16h1m-1 4h1m-1 5h1m-1 3h1m0-2h1m-1 9h1m0-21h1m-1 4h1m-1 1h1m-1 4h1m-1 11h1m0-18h1m-1 5h1m-1 5h1m-1 7h1m0-10h1m-1 5h1m0-13h1m-1 1h1m-1 5h1m0-5h1m-1 3h1m-1 4h1m-1 1h1m-1 1h1m-1 2h1m-1 2h1m-1 2h1m0-7h1m0-6h1m-1 2h1m-1 9h1m0-6h1m0-5h1m-1 1h1m0-1h1m-1 7h1m-1 5h1m0-10h1m-1 4h1m-1 5h1m1-6h1" stroke="#444" stroke-width="1" opacity="0.7" fill="none" filter="url(#sb)"/>
<path d="M600.5 273.0C600.2 270.6 600.5 268.3 601.7 266.0C603.0 263.7 605.2 261.1 607.9 259.3C610.6 257.5 614.6 255.5 618.1 255.2C621.5 254.9 626.6 255.2 628.8 257.2C631.0 259.3 631.3 264.1 631.3 267.5C631.3 270.8 630.5 274.9 628.8 277.4C627.1 279.9 623.3 281.2 621.1 282.4C619.0 283.5 618.0 284.1 615.9 284.4C613.8 284.7 610.9 284.7 608.8 284.1C606.7 283.5 604.7 282.5 603.3 280.6C601.9 278.8 600.8 275.4 600.5 273.0Z" fill="none" stroke="#333" stroke-width="0.75"/>
<text x="586" y="256" font-size="5.3" font-weight="normal" fill="#111" text-anchor="start" stroke="#333" stroke-width="0.1">P7(0.88%)</text>
<path d="M626 296.5h1m-1 1h1m-1 1h1m-1 1h1m0-8h1m-1 2h1m-1 1h1m-1 3h1m-1 1h1m-1 4h1m0-14h1m-1 2h1m-1 1h1m-1 2h1m-1 2h1m-1 2h1m-1 1h1m-1 1h1m-1 1h1m-1 1h1m-1 1h1m-1 1h1m0-17h1m-1 1h1m-1 1h1m-1 2h1m-1 1h1m-1 1h1m-1 1h1m-1 2h1m-1 2h1m-1 1h1m-1 1h1m-1 1h1m-1 1h1m-1 1h1m-1 1h1m-1 2h1m-1 1h1m0-21h1m-1 1h1m-1 1h1m-1 1h1m-1 1h1m-1 1h1m-1 1h1m-1 1h1m-1 2h1m-1 1h1m-1 1h1m-1 1h1m-1 1h1m-1 1h1m-1 1h1m-1 1h1m-1 1h1m0-15h1m-1 1h1m-1 1h1m-1 1h1m-1 2h1m-1 3h1m-1 3h1m-1 1h1m-1 1h1m-1 1h1m-1 4h1m-1 1h1m0-22h1m-1 1h1m-1 1h1m-1 1h1m-1 1h1m-1 2h1m-1 1h1m-1 1h1m-1 1h1m-1 1h1m-1 2h1m-1 1h1m-1 2h1m-1 2h1m-1 2h1m-1 1h1m-1 1h1m-1 3h1m0-25h1m-1 1h1m-1 1h1m-1 1h1m-1 1h1m-1 3h1m-1 1h1m-1 1h1m-1 1h1m-1 1h1m-1 1h1m-1 1h1m-1 2h1m-1 1h1m-1 1h1m-1 1h1m-1 1h1m-1 1h1m-1 2h1m0-21h1m-1 2h1m-1 1h1m-1 3h1m-1 1h1m-1 1h1m-1 1h1m-1 1h1m-1 1h1m-1 1h1m-1 1h1m-1 2h1m-1 1h1m-1 2h1m0-18h1m-1 1h1m-1 1h1m-1 1h1m-1 1h1m-1 1h1m-1 1h1m-1 3h1m-1 1h1m-1 1h1m-1 2h1m-1 2h1m-1 1h1m-1 1h1m-1 1h1m-1 2h1m-1 2h1m-1 2h1m0-23h1m-1 1h1m-1 1h1m-1 1h1m-1 1h1m-1 1h1m-1 1h1m-1 2h1m-1 2h1m-1 1h1m-1 5h1m-1 2h1m-1 1h1m0-20h1m-1 1h1m-1 1h1m-1 1h1m-1 1h1m-1 1h1m-1 1h1m-1 2h1m-1 1h1m-1 1h1m-1 4h1m-1 1h1m-1 1h1m-1 1h1m-1 1h1m-1 1h1m-1 1h1m-1 1h1m-1 2h1m-1 1h1m0-24h1m-1 2h1m-1 1h1m-1 1h1m-1 1h1m-1 2h1m-1 1h1m-1 3h1m-1 2h1m-1 2h1m-1 1h1m-1 1h1m-1 5h1m0-20h1m-1 1h1m-1 2h1m-1 1h1m-1 2h1m-1 2h1m-1 2h1m-1 4h1m-1 6h1m0-19h1m-1 1h1m-1 1h1m-1 1h1m-1 1h1m-1 1h1m-1 1h1m-1 3h1m-1 2h1m-1 1h1m-1 1h1m-1 1h1m-1 1h1m-1 2h1m-1 2h1m0-18h1m-1 1h1m-1 1h1m-1 1h1m-1 1h1m-1 1h1m-1 2h1m-1 2h1m-1 1h1m-1 1h1m-1 3h1m-1 1h1m-1 1h1m0-14h1m-1 1h1m-1 1h1m-1 5h1m0-5h1m-1 3h1" stroke="#444" stroke-width="1" opacity="0.75" fill="none" filter="url(#sb)"/>
<path d="M625.0 287.3C626.2 284.1 629.2 281.8 632.2 281.0C635.1 280.2 640.4 280.5 642.5 282.6C644.6 284.6 644.6 290.1 644.9 293.2C645.2 296.4 644.6 299.1 644.3 301.4C644.0 303.8 644.7 305.5 643.3 307.4C641.9 309.2 638.7 312.1 636.1 312.4C633.6 312.7 630.0 311.0 628.2 308.9C626.3 306.9 625.5 303.8 625.0 300.2C624.5 296.5 623.8 290.5 625.0 287.3Z" fill="none" stroke="#333" stroke-width="0.75"/>
<text x="621" y="279" font-size="5.3" font-weight="normal" fill="#111" text-anchor="start" stroke="#333" stroke-width="0.1">P8(5.26%)</text>
<rect x="546.5" y="350.5" width="99.0" height="98.0" fill="none" stroke="#666" stroke-width="1"/>
<path d="M546.5 353.5h1.5M546.5 356.8h1.5M546.5 360.1h1.5M546.5 363.4h1.5M546.5 366.7h1.5M546.5 370.0h1.5M546.5 373.3h1.5M546.5 376.6h1.5M546.5 379.9h1.5M546.5 383.2h1.5M546.5 386.5h1.5M546.5 389.8h1.5M546.5 393.1h1.5M546.5 396.4h1.5M546.5 399.7h1.5M546.5 403.0h1.5M546.5 406.3h1.5M546.5 409.6h1.5M546.5 412.9h1.5M546.5 416.2h1.5M546.5 419.5h1.5M546.5 422.8h1.5M546.5 426.1h1.5M546.5 429.4h1.5M546.5 432.7h1.5M546.5 436.0h1.5M546.5 439.3h1.5M546.5 442.6h1.5M546.5 445.9h1.5M550.5 448.5v-1.3M554.9 448.5v-1.3M559.3 448.5v-1.3M563.7 448.5v-1.3M568.1 448.5v-1.3M572.5 448.5v-1.3M576.9 448.5v-1.3M581.3 448.5v-1.3M585.7 448.5v-1.3M590.1 448.5v-1.3M594.5 448.5v-1.3M598.9 448.5v-1.3M603.3 448.5v-1.3M607.7 448.5v-1.3M612.1 448.5v-1.3M616.5 448.5v-1.3M620.9 448.5v-1.3M625.3 448.5v-1.3M629.7 448.5v-1.3M634.1 448.5v-1.3M638.5 448.5v-1.3M642.9 448.5v-1.3" stroke="#999" stroke-width="0.6" fill="none"/>
<path d="M557 447.5h1m2 0h1m0 0h1m9 0h1m0 0h1m3 0h1m3 0h1m0 0h1m5 0h1m8-25h1m1 25h1m0-56h1m-1 18h1m-1 38h1m0-24h1m-1 16h1m0-26h1m-1 7h1m-1 1h1m-1 6h1m-1 6h1m-1 1h1m0-27h1m-1 9h1m-1 7h1m-1 1h1m-1 2h1m-1 1h1m-1 2h1m-1 1h1m-1 6h1m-1 4h1m0-41h1m-1 17h1m-1 2h1m-1 2h1m-1 1h1m-1 3h1m-1 2h1m-1 1h1m-1 1h1m-1 1h1m-1 4h1m-1 1h1m-1 2h1m-1 1h1m-1 1h1m-1 3h1m-1 3h1m0-48h1m-1 4h1m-1 1h1m-1 10h1m-1 2h1m-1 4h1m-1 1h1m-1 1h1m-1 3h1m-1 1h1m-1 1h1m-1 1h1m-1 3h1m-1 1h1m-1 1h1m-1 1h1m-1 2h1m-1 1h1m-1 1h1m-1 1h1m-1 6h1m-1 5h1m0-54h1m-1 10h1m-1 2h1m-1 5h1m-1 2h1m-1 4h1m-1 1h1m-1 2h1m-1 2h1m-1 1h1m-1 1h1m-1 2h1m-1 1h1m-1 1h1m-1 1h1m-1 1h1m-1 1h1m-1 1h1m-1 1h1m-1 1h1m-1 1h1m-1 2h1m-1 1h1m-1 1h1m-1 7h1m0-47h1m-1 1h1m-1 8h1m-1 5h1m-1 1h1m-1 1h1m-1 1h1m-1 1h1m-1 1h1m-1 1h1m-1 2h1m-1 1h1m-1 1h1m-1 1h1m-1 1h1m-1 2h1m-1 1h1m-1 2h1m-1 1h1m-1 1h1m-1 1h1m-1 2h1m-1 1h1m-1 2h1m-1 3h1m-1 1h1m-1 1h1m-1 1h1m-1 1h1m-1 1h1m0-49h1m-1 17h1m-1 1h1m-1 2h1m-1 2h1m-1 1h1m-1 1h1m-1 1h1m-1 1h1m-1 1h1m-1 1h1m-1 1h1m-1 1h1m-1 1h1m-1 1h1m-1 1h1m-1 1h1m-1 1h1m-1 1h1m-1 1h1m-1 1h1m-1 3h1m-1 1h1m-1 1h1m-1 1h1m-1 3h1m-1 1h1m0-47h1m-1 7h1m-1 2h1m-1 1h1m-1 1h1m-1 2h1m-1 2h1m-1 1h1m-1 1h1m-1 1h1m-1 1h1m-1 1h1m-1 1h1m-1 1h1m-1 1h1m-1 1h1m-1 1h1m-1 1h1m-1 1h1m-1 2h1m-1 1h1m-1 1h1m-1 1h1m-1 1h1m-1 1h1m-1 1h1m-1 1h1m-1 1h1m-1 1h1m-1 1h1m-1 1h1m-1 1h1m-1 1h1m-1 1h1m-1 3h1m-1 2h1m-1 2h1m0-51h1m-1 6h1m-1 4h1m-1 2h1m-1 1h1m-1 1h1m-1 2h1m-1 1h1m-1 1h1m-1 1h1m-1 1h1m-1 1h1m-1 1h1m-1 2h1m-1 1h1m-1 1h1m-1 1h1m-1 1h1m-1 1h1m-1 1h1m-1 1h1m-1 1h1m-1 1h1m-1 1h1m-1 1h1m-1 1h1m-1 1h1m-1 1h1m-1 1h1m-1 1h1m-1 1h1m-1 1h1m-1 1h1m-1 1h1m-1 3h1m-1 1h1m-1 1h1m0-39h1m-1 1h1m-1 1h1m-1 1h1m-1 1h1m-1 1h1m-1 1h1m-1 1h1m-1 1h1m-1 1h1m-1 1h1m-1 1h1m-1 1h1m-1 1h1m-1 1h1m-1 1h1m-1 1h1m-1 1h1m-1 1h1m-1 1h1m-1 1h1m-1 1h1m-1 1h1m-1 1h1m-1 1h1m-1 1h1m-1 1h1m-1 1h1m-1 2h1m-1 1h1m-1 1h1m-1 1h1m-1 1h1m-1 1h1m-1 1h1m-1 1h1m-1 2h1m-1 1h1m0-44h1m-1 6h1m-1 1h1m-1 1h1m-1 1h1m-1 2h1m-1 1h1m-1 1h1m-1 1h1m-1 1h1m-1 1h1m-1 1h1m-1 1h1m-1 1h1m-1 1h1m-1 1h1m-1 1h1m-1 1h1m-1 1h1m-1 1h1m-1 1h1m-1 1h1m-1 1h1m-1 1h1m-1 1h1m-1 1h1m-1 1h1m-1 1h1m-1 1h1m-1 1h1m-1 1h1m-1 1h1m-1 1h1m-1 2h1m-1 1h1m-1 1h1m-1 4h1m0-48h1m-1 2h1m-1 2h1m-1 3h1m-1 1h1m-1 1h1m-1 2h1m-1 1h1m-1 3h1m-1 1h1m-1 1h1m-1 1h1m-1 1h1m-1 1h1m-1 1h1m-1 1h1m-1 1h1m-1 1h1m-1 1h1m-1 1h1m-1 1h1m-1 1h1m-1 1h1m-1 1h1m-1 1h1m-1 1h1m-1 1h1m-1 1h1m-1 1h1m-1 1h1m-1 1h1m-1 1h1m-1 1h1m-1 1h1m-1 1h1m-1 1h1m-1 1h1m-1 1h1m-1 1h1m-1 1h1m-1 1h1m-1 1h1m0-58h1m-1 11h1m-1 3h1m-1 1h1m-1 2h1m-1 2h1m-1 1h1m-1 2h1m-1 1h1m-1 1h1m-1 1h1m-1 1h1m-1 1h1m-1 1h1m-1 1h1m-1 1h1m-1 1h1m-1 1h1m-1 1h1m-1 1h1m-1 1h1m-1 1h1m-1 1h1m-1 1h1m-1 1h1m-1 1h1m-1 1h1m-1 2h1m-1 1h1m-1 1h1m-1 1h1m-1 1h1m-1 1h1m-1 1h1m-1 1h1m-1 1h1m-1 1h1m-1 1h1m-1 1h1m-1 3h1m-1 1h1m0-45h1m-1 5h1m-1 1h1m-1 1h1m-1 1h1m-1 1h1m-1 1h1m-1 2h1m-1 3h1m-1 1h1m-1 1h1m-1 1h1m-1 1h1m-1 1h1m-1 1h1m-1 1h1m-1 1h1m-1 1h1m-1 1h1m-1 1h1m-1 1h1m-1 1h1m-1 1h1m-1 1h1m-1 1h1m-1 1h1m-1 1h1m-1 1h1m-1 1h1m-1 1h1m-1 1h1m-1 3h1m-1 1h1m-1 2h1m-1 1h1m-1 1h1m0-52h1m-1 2h1m-1 1h1m-1 2h1m-1 1h1m-1 6h1m-1 4h1m-1 2h1m-1 1h1m-1 1h1m-1 3h1m-1 2h1m-1 1h1m-1 1h1m-1 1h1m-1 1h1m-1 2h1m-1 1h1m-1 1h1m-1 1h1m-1 1h1m-1 1h1m-1 1h1m-1 1h1m-1 1h1m-1 1h1m-1 2h1m-1 2h1m-1 1h1m-1 1h1m-1 1h1m-1 2h1m-1 2h1m0-48h1m-1 2h1m-1 2h1m-1 3h1m-1 1h1m-1 3h1m-1 1h1m-1 1h1m-1 1h1m-1 2h1m-1 2h1m-1 2h1m-1 1h1m-1 1h1m-1 1h1m-1 1h1m-1 1h1m-1 1h1m-1 1h1m-1 1h1m-1 1h1m-1 1h1m-1 1h1m-1 1h1m-1 1h1m-1 1h1m-1 1h1m-1 1h1m-1 1h1m-1 1h1m-1 1h1m-1 1h1m-1 1h1m-1 1h1m-1 1h1m-1 1h1m-1 1h1m-1 1h1m-1 1h1m-1 1h1m0-37h1m-1 2h1m-1 1h1m-1 1h1m-1 2h1m-1 2h1m-1 2h1m-1 1h1m-1 1h1m-1 1h1m-1 1h1m-1 1h1m-1 1h1m-1 1h1m-1 1h1m-1 1h1m-1 2h1m-1 1h1m-1 1h1m-1 1h1m-1 1h1m-1 1h1m-1 2h1m-1 1h1m-1 1h1m-1 1h1m-1 1h1m-1 1h1m-1 2h1m-1 1h1m-1 1h1m0-52h1m-1 4h1m-1 9h1m-1 1h1m-1 1h1m-1 4h1m-1 1h1m-1 1h1m-1 1h1m-1 2h1m-1 1h1m-1 1h1m-1 1h1m-1 1h1m-1 1h1m-1 1h1m-1 1h1m-1 1h1m-1 1h1m-1 1h1m-1 2h1m-1 1h1m-1 1h1m-1 1h1m-1 1h1m-1 1h1m-1 1h1m-1 1h1m-1 2h1m-1 1h1m-1 1h1m-1 6h1m0-41h1m-1 2h1m-1 1h1m-1 3h1m-1 1h1m-1 1h1m-1 1h1m-1 1h1m-1 3h1m-1 1h1m-1 1h1m-1 1h1m-1 1h1m-1 1h1m-1 1h1m-1 1h1m-1 1h1m-1 2h1m-1 1h1m-1 1h1m-1 1h1m-1 1h1m-1 1h1m-1 1h1m-1 1h1m-1 2h1m-1 1h1m-1 2h1m-1 2h1m-1 1h1m-1 2h1m-1 1h1m0-43h1m-1 4h1m-1 1h1m-1 3h1m-1 2h1m-1 2h1m-1 3h1m-1 1h1m-1 2h1m-1 2h1m-1 1h1m-1 1h1m-1 1h1m-1 2h1m-1 1h1m-1 1h1m-1 1h1m-1 1h1m-1 1h1m-1 1h1m-1 2h1m-1 1h1m-1 1h1m-1 1h1m-1 1h1m-1 3h1m-1 3h1m0-40h1m-1 5h1m-1 3h1m-1 3h1m-1 1h1m-1 1h1m-1 4h1m-1 2h1m-1 1h1m-1 1h1m-1 1h1m-1 3h1m-1 1h1m-1 1h1m-1 1h1m-1 1h1m-1 6h1m-1 1h1m-1 3h1m0-47h1m-1 8h1m-1 6h1m-1 2h1m-1 1h1m-1 1h1m-1 2h1m-1 2h1m-1 1h1m-1 1h1m-1 4h1m-1 1h1m-1 1h1m-1 2h1m-1 4h1m-1 2h1m-1 1h1m-1 5h1m-1 4h1m0-37h1m-1 9h1m-1 3h1m-1 2h1m-1 5h1m-1 5h1m-1 2h1m-1 4h1m-1 5h1m0-38h1m-1 2h1m-1 10h1m-1 10h1m-1 8h1m-1 1h1m-1 3h1m-1 3h1m-1 3h1m0-16h1m0-2h1m-1 5h1m-1 5h1m0-11h1m-1 19h1m0-36h1m-1 14h1m-1 6h1m0-15h1m-1 31h1m5 0h1m0 0h1" stroke="#ff2020" stroke-width="1" opacity="0.8" fill="none" filter="url(#sb)"/>
<path d="M551 447.5h1m0 0h1m2 0h1m0 0h1m0 0h1m10 0h1m0 0h1m0 0h1m2 0h1m2 0h1m5 0h1m1 0h1m0 0h1m1 0h1m6 0h1m0-26h1m-1 26h1m1-9h1m-1 7h1m-1 2h1m0-19h1m0 0h1m-1 10h1m-1 1h1m-1 1h1m-1 1h1m0-35h1m-1 5h1m-1 12h1m-1 1h1m0-15h1m-1 6h1m-1 6h1m-1 1h1m-1 2h1m-1 7h1m-1 5h1m-1 6h1m0-36h1m-1 12h1m-1 1h1m-1 1h1m-1 7h1m-1 3h1m-1 1h1m-1 5h1m-1 3h1m-1 3h1m-1 2h1m-1 3h1m0-38h1m-1 8h1m-1 3h1m-1 2h1m-1 2h1m-1 2h1m-1 2h1m-1 3h1m-1 1h1m-1 2h1m-1 1h1m-1 3h1m-1 1h1m-1 6h1m0-38h1m-1 5h1m-1 1h1m-1 1h1m-1 1h1m-1 2h1m-1 2h1m-1 2h1m-1 2h1m-1 1h1m-1 6h1m-1 1h1m-1 1h1m-1 4h1m-1 1h1m-1 2h1m-1 4h1m-1 3h1m-1 1h1m0-40h1m-1 5h1m-1 2h1m-1 1h1m-1 1h1m-1 3h1m-1 1h1m-1 2h1m-1 1h1m-1 2h1m-1 1h1m-1 1h1m-1 1h1m-1 1h1m-1 1h1m-1 2h1m-1 1h1m-1 1h1m-1 1h1m-1 1h1m-1 1h1m-1 3h1m-1 4h1m0-49h1m-1 6h1m-1 3h1m-1 4h1m-1 5h1m-1 3h1m-1 1h1m-1 1h1m-1 1h1m-1 1h1m-1 1h1m-1 1h1m-1 2h1m-1 1h1m-1 1h1m-1 1h1m-1 1h1m-1 1h1m-1 2h1m-1 1h1m-1 2h1m-1 1h1m-1 2h1m-1 1h1m-1 1h1m-1 1h1m-1 4h1m-1 1h1m-1 1h1m-1 1h1m0-53h1m-1 8h1m-1 4h1m-1 5h1m-1 1h1m-1 1h1m-1 2h1m-1 1h1m-1 2h1m-1 1h1m-1 1h1m-1 2h1m-1 1h1m-1 1h1m-1 1h1m-1 1h1m-1 1h1m-1 2h1m-1 1h1m-1 1h1m-1 1h1m-1 1h1m-1 1h1m-1 1h1m-1 1h1m-1 2h1m-1 1h1m-1 1h1m-1 1h1m-1 1h1m-1 1h1m-1 1h1m-1 2h1m-1 1h1m0-40h1m-1 1h1m-1 5h1m-1 1h1m-1 1h1m-1 1h1m-1 1h1m-1 1h1m-1 2h1m-1 1h1m-1 1h1m-1 1h1m-1 1h1m-1 1h1m-1 1h1m-1 1h1m-1 1h1m-1 1h1m-1 1h1m-1 1h1m-1 1h1m-1 2h1m-1 2h1m-1 2h1m-1 1h1m-1 1h1m-1 1h1m-1 1h1m-1 1h1m-1 1h1m-1 1h1m-1 1h1m0-41h1m-1 1h1m-1 3h1m-1 1h1m-1 1h1m-1 1h1m-1 2h1m-1 1h1m-1 1h1m-1 1h1m-1 1h1m-1 1h1m-1 1h1m-1 1h1m-1 1h1m-1 1h1m-1 1h1m-1 1h1m-1 1h1m-1 1h1m-1 1h1m-1 1h1m-1 1h1m-1 1h1m-1 1h1m-1 2h1m-1 1h1m-1 1h1m-1 1h1m-1 1h1m-1 2h1m-1 2h1m-1 1h1m0-45h1m-1 3h1m-1 2h1m-1 2h1m-1 1h1m-1 3h1m-1 3h1m-1 1h1m-1 1h1m-1 1h1m-1 1h1m-1 1h1m-1 1h1m-1 1h1m-1 1h1m-1 1h1m-1 1h1m-1 1h1m-1 1h1m-1 2h1m-1 1h1m-1 1h1m-1 1h1m-1 1h1m-1 1h1m-1 1h1m-1 1h1m-1 1h1m-1 1h1m-1 1h1m-1 1h1m-1 1h1m-1 1h1m-1 1h1m-1 1h1m-1 1h1m-1 1h1m-1 2h1m0-50h1m-1 9h1m-1 1h1m-1 3h1m-1 1h1m-1 1h1m-1 1h1m-1 1h1m-1 1h1m-1 1h1m-1 2h1m-1 1h1m-1 1h1m-1 1h1m-1 1h1m-1 1h1m-1 1h1m-1 1h1m-1 1h1m-1 1h1m-1 1h1m-1 1h1m-1 1h1m-1 1h1m-1 2h1m-1 1h1m-1 1h1m-1 1h1m-1 1h1m-1 1h1m-1 1h1m-1 1h1m-1 1h1m-1 1h1m-1 1h1m-1 1h1m-1 1h1m-1 1h1m-1 1h1m-1 1h1m-1 1h1m0-53h1m-1 4h1m-1 9h1m-1 3h1m-1 2h1m-1 1h1m-1 1h1m-1 1h1m-1 1h1m-1 1h1m-1 1h1m-1 1h1m-1 1h1m-1 1h1m-1 1h1m-1 1h1m-1 1h1m-1 1h1m-1 1h1m-1 1h1m-1 1h1m-1 1h1m-1 1h1m-1 1h1m-1 1h1m-1 1h1m-1 1h1m-1 1h1m-1 1h1m-1 1h1m-1 1h1m-1 1h1m-1 1h1m-1 1h1m-1 1h1m-1 1h1m-1 1h1m-1 2h1m0-52h1m-1 1h1m-1 5h1m-1 3h1m-1 1h1m-1 4h1m-1 2h1m-1 1h1m-1 1h1m-1 2h1m-1 1h1m-1 1h1m-1 2h1m-1 1h1m-1 1h1m-1 1h1m-1 1h1m-1 1h1m-1 1h1m-1 1h1m-1 1h1m-1 1h1m-1 1h1m-1 1h1m-1 1h1m-1 1h1m-1 1h1m-1 1h1m-1 1h1m-1 1h1m-1 1h1m-1 2h1m-1 2h1m-1 1h1m-1 1h1m-1 3h1m-1 1h1m0-45h1m-1 3h1m-1 3h1m-1 1h1m-1 3h1m-1 1h1m-1 1h1m-1 1h1m-1 1h1m-1 1h1m-1 1h1m-1 1h1m-1 1h1m-1 1h1m-1 1h1m-1 1h1m-1 1h1m-1 1h1m-1 1h1m-1 1h1m-1 1h1m-1 1h1m-1 1h1m-1 1h1m-1 1h1m-1 1h1m-1 1h1m-1 1h1m-1 2h1m-1 1h1m-1 1h1m-1 1h1m-1 1h1m-1 1h1m-1 1h1m-1 1h1m-1 1h1m-1 2h1m-1 1h1m0-46h1m-1 3h1m-1 2h1m-1 3h1m-1 1h1m-1 1h1m-1 3h1m-1 1h1m-1 1h1m-1 1h1m-1 1h1m-1 1h1m-1 1h1m-1 1h1m-1 1h1m-1 1h1m-1 1h1m-1 1h1m-1 1h1m-1 1h1m-1 1h1m-1 2h1m-1 1h1m-1 1h1m-1 1h1m-1 1h1m-1 1h1m-1 1h1m-1 1h1m-1 1h1m-1 1h1m-1 1h1m-1 1h1m-1 1h1m-1 1h1m-1 1h1m-1 1h1m0-50h1m-1 4h1m-1 5h1m-1 1h1m-1 1h1m-1 3h1m-1 2h1m-1 1h1m-1 3h1m-1 1h1m-1 1h1m-1 1h1m-1 1h1m-1 1h1m-1 1h1m-1 1h1m-1 1h1m-1 1h1m-1 1h1m-1 1h1m-1 1h1m-1 2h1m-1 1h1m-1 1h1m-1 1h1m-1 1h1m-1 3h1m-1 1h1m-1 1h1m-1 1h1m-1 1h1m-1 1h1m-1 3h1m-1 1h1m-1 2h1m0-64h1m-1 13h1m-1 8h1m-1 2h1m-1 3h1m-1 1h1m-1 1h1m-1 1h1m-1 1h1m-1 1h1m-1 1h1m-1 1h1m-1 1h1m-1 1h1m-1 2h1m-1 1h1m-1 1h1m-1 1h1m-1 1h1m-1 1h1m-1 1h1m-1 1h1m-1 1h1m-1 1h1m-1 1h1m-1 1h1m-1 1h1m-1 1h1m-1 1h1m-1 1h1m-1 1h1m-1 1h1m-1 1h1m-1 1h1m-1 1h1m-1 1h1m-1 1h1m-1 1h1m-1 1h1m-1 2h1m0-38h1m-1 2h1m-1 1h1m-1 1h1m-1 3h1m-1 2h1m-1 1h1m-1 3h1m-1 2h1m-1 1h1m-1 1h1m-1 1h1m-1 1h1m-1 1h1m-1 1h1m-1 1h1m-1 1h1m-1 1h1m-1 1h1m-1 1h1m-1 1h1m-1 1h1m-1 2h1m-1 5h1m-1 2h1m-1 2h1m0-53h1m-1 8h1m-1 2h1m-1 6h1m-1 1h1m-1 2h1m-1 1h1m-1 1h1m-1 2h1m-1 2h1m-1 1h1m-1 1h1m-1 1h1m-1 1h1m-1 1h1m-1 1h1m-1 1h1m-1 1h1m-1 1h1m-1 1h1m-1 1h1m-1 2h1m-1 1h1m-1 1h1m-1 1h1m-1 2h1m-1 1h1m-1 1h1m-1 1h1m-1 1h1m-1 4h1m-1 2h1m0-42h1m-1 6h1m-1 2h1m-1 2h1m-1 1h1m-1 1h1m-1 2h1m-1 7h1m-1 2h1m-1 1h1m-1 1h1m-1 1h1m-1 1h1m-1 2h1m-1 1h1m-1 2h1m-1 1h1m-1 2h1m-1 2h1m-1 1h1m0-39h1m-1 9h1m-1 1h1m-1 2h1m-1 3h1m-1 2h1m-1 4h1m-1 1h1m-1 1h1m-1 5h1m-1 1h1m-1 1h1m-1 1h1m-1 1h1m-1 8h1m-1 1h1m-1 1h1m0-40h1m-1 7h1m-1 2h1m-1 2h1m-1 3h1m-1 2h1m-1 4h1m-1 3h1m-1 3h1m-1 1h1m-1 5h1m-1 1h1m-1 1h1m-1 1h1m-1 3h1m-1 1h1m-1 2h1m0-44h1m-1 5h1m-1 16h1m-1 3h1m-1 3h1m-1 1h1m-1 1h1m-1 1h1m-1 4h1m-1 1h1m-1 4h1m-1 2h1m-1 3h1m0-41h1m-1 2h1m-1 2h1m-1 4h1m-1 13h1m-1 1h1m-1 1h1m-1 6h1m-1 1h1m-1 2h1m-1 2h1m-1 3h1m-1 3h1m-1 1h1m0-33h1m-1 5h1m0-14h1m-1 22h1m-1 20h1m1-20h1m2 20h1m0 0h1m1 0h1" stroke="#ff2020" stroke-width="1" opacity="0.4" fill="none" filter="url(#sb)"/>
<path d="M548 422.5h1m-1 20h1m0-31h1m-1 2h1m-1 8h1m-1 11h1m-1 5h1m0-25h1m-1 19h1m-1 4h1m0-26h1m-1 12h1m-1 17h1m-1 7h1m0-27h1m-1 2h1m-1 2h1m-1 5h1m-1 19h1m0-40h1m-1 1h1m-1 10h1m-1 1h1m-1 3h1m-1 1h1m-1 8h1m-1 1h1m-1 2h1m0-31h1m-1 2h1m-1 24h1m-1 13h1m0-36h1m-1 18h1m-1 1h1m-1 6h1m-1 1h1m-1 1h1m-1 3h1m0-28h1m-1 15h1m-1 3h1m-1 4h1m-1 2h1m0-29h1m-1 13h1m-1 1h1m-1 1h1m-1 3h1m-1 10h1m-1 5h1m-1 4h1m0-40h1m-1 10h1m-1 4h1m-1 3h1m-1 8h1m-1 5h1m-1 6h1m0-26h1m-1 2h1m-1 5h1m-1 6h1m-1 9h1m-1 1h1m-1 1h1m-1 11h1m0-30h1m-1 5h1m-1 2h1m-1 2h1m-1 7h1m-1 1h1m-1 2h1m-1 1h1m-1 1h1m-1 5h1m-1 3h1m0-42h1m-1 4h1m-1 2h1m-1 14h1m-1 3h1m-1 1h1m-1 5h1m-1 2h1m-1 1h1m-1 3h1m-1 2h1m-1 3h1m0-25h1m-1 1h1m-1 7h1m-1 1h1m-1 4h1m-1 2h1m-1 6h1m-1 4h1m-1 1h1m0-37h1m-1 11h1m-1 1h1m-1 1h1m-1 8h1m-1 6h1m-1 1h1m-1 5h1m-1 4h1m-1 2h1m0-41h1m-1 5h1m-1 9h1m-1 1h1m-1 1h1m-1 1h1m-1 7h1m-1 6h1m-1 2h1m-1 1h1m-1 1h1m-1 5h1m-1 3h1m0-44h1m-1 15h1m-1 4h1m-1 1h1m-1 1h1m-1 5h1m-1 6h1m-1 1h1m-1 1h1m-1 1h1m-1 1h1m-1 1h1m-1 2h1m-1 2h1m0-33h1m-1 1h1m-1 6h1m-1 3h1m-1 1h1m-1 2h1m-1 4h1m-1 2h1m-1 1h1m-1 1h1m-1 1h1m-1 2h1m-1 1h1m-1 1h1m-1 1h1m0-33h1m-1 6h1m-1 2h1m-1 3h1m-1 1h1m-1 2h1m-1 6h1m-1 1h1m-1 3h1m-1 4h1m-1 3h1m-1 2h1m-1 2h1m-1 3h1m0-47h1m-1 19h1m-1 7h1m-1 6h1m-1 1h1m-1 2h1m-1 1h1m-1 4h1m-1 7h1m-1 1h1m-1 3h1m0-40h1m-1 9h1m-1 2h1m-1 2h1m-1 1h1m-1 1h1m-1 1h1m-1 1h1m-1 1h1m-1 2h1m-1 2h1m-1 6h1m-1 1h1m-1 8h1m-1 3h1m0-43h1m-1 2h1m-1 5h1m-1 2h1m-1 3h1m-1 3h1m-1 4h1m-1 1h1m-1 1h1m-1 4h1m-1 3h1m-1 5h1m-1 3h1m-1 3h1m-1 3h1m-1 2h1m0-34h1m-1 1h1m-1 3h1m-1 1h1m-1 2h1m-1 5h1m-1 4h1m-1 1h1m-1 2h1m-1 2h1m-1 3h1m-1 2h1m-1 2h1m0-35h1m-1 10h1m-1 1h1m-1 1h1m-1 1h1m-1 1h1m-1 2h1m-1 3h1m-1 1h1m-1 1h1m-1 2h1m-1 2h1m-1 1h1m-1 1h1m-1 1h1m-1 3h1m-1 4h1m-1 7h1m0-36h1m-1 1h1m-1 2h1m-1 6h1m-1 2h1m-1 9h1m-1 2h1m-1 3h1m-1 3h1m-1 1h1m-1 5h1m0-42h1m-1 7h1m-1 1h1m-1 1h1m-1 2h1m-1 4h1m-1 3h1m-1 1h1m-1 2h1m-1 2h1m-1 1h1m-1 9h1m-1 1h1m-1 4h1m-1 4h1m-1 1h1m0-47h1m-1 5h1m-1 8h1m-1 2h1m-1 1h1m-1 1h1m-1 1h1m-1 4h1m-1 1h1m-1 2h1m-1 4h1m-1 1h1m-1 3h1m-1 1h1m-1 1h1m-1 1h1m-1 7h1m0-25h1m-1 5h1m-1 1h1m-1 3h1m-1 2h1m-1 4h1m-1 1h1m-1 5h1m-1 7h1m0-42h1m-1 4h1m-1 6h1m-1 3h1m-1 5h1m-1 1h1m-1 1h1m-1 4h1m-1 2h1m-1 3h1m-1 1h1m-1 1h1m-1 4h1m-1 1h1m-1 5h1m0-32h1m-1 5h1m-1 2h1m-1 3h1m-1 1h1m-1 2h1m-1 4h1m-1 1h1m-1 2h1m-1 3h1m-1 4h1m-1 1h1m-1 2h1m-1 5h1m0-40h1m-1 4h1m-1 11h1m-1 1h1m-1 2h1m-1 8h1m-1 6h1m-1 2h1m0-20h1m-1 2h1m-1 2h1m-1 1h1m-1 1h1m-1 2h1m-1 4h1m-1 9h1m0-54h1m-1 31h1m-1 1h1m-1 1h1m-1 1h1m-1 2h1m-1 2h1m-1 1h1m-1 1h1m-1 4h1m-1 2h1m-1 2h1m-1 4h1m-1 1h1m-1 3h1m0-51h1m-1 26h1m-1 3h1m-1 3h1m-1 2h1m-1 2h1m-1 7h1m-1 3h1m-1 1h1m-1 3h1m-1 2h1m0-40h1m-1 7h1m-1 4h1m-1 8h1m-1 4h1m-1 2h1m-1 3h1m-1 1h1m-1 1h1m-1 4h1m0-35h1m-1 7h1m-1 8h1m-1 1h1m-1 3h1m-1 5h1m-1 1h1m-1 4h1m-1 2h1m-1 8h1m-1 3h1m0-44h1m-1 8h1m-1 2h1m-1 1h1m-1 4h1m-1 2h1m-1 2h1m-1 1h1m-1 2h1m-1 1h1m-1 1h1m-1 9h1m0-19h1m-1 2h1m-1 2h1m-1 3h1m-1 1h1m-1 3h1m-1 5h1m-1 3h1m-1 4h1m0-30h1m-1 10h1m-1 2h1m-1 2h1m-1 2h1m-1 11h1m-1 2h1m-1 2h1m0-41h1m-1 6h1m-1 2h1m-1 3h1m-1 3h1m-1 4h1m-1 7h1m-1 3h1m-1 1h1m-1 5h1m-1 4h1m-1 5h1m0-41h1m-1 6h1m-1 5h1m-1 2h1m-1 8h1m-1 6h1m-1 3h1m-1 7h1m-1 1h1m-1 1h1m0-40h1m-1 13h1m-1 9h1m-1 8h1m-1 4h1m-1 2h1m0-38h1m-1 9h1m-1 12h1m-1 1h1m-1 2h1m-1 6h1m-1 1h1m-1 4h1m-1 6h1m-1 2h1m0-30h1m-1 2h1m-1 14h1m-1 3h1m-1 3h1m-1 6h1m-1 5h1m0-40h1m-1 12h1m-1 3h1m-1 5h1m-1 2h1m-1 3h1m-1 4h1m-1 6h1m-1 3h1m0-24h1m-1 3h1m-1 4h1m-1 1h1m-1 4h1m-1 5h1m-1 3h1m-1 2h1m-1 1h1m-1 2h1m-1 1h1m0-30h1m-1 11h1m-1 9h1m0-21h1m-1 3h1m-1 4h1m-1 2h1m0-13h1m-1 3h1m-1 1h1m-1 19h1m0-20h1m-1 14h1m-1 3h1m-1 8h1m0-15h1m-1 1h1m-1 14h1m0 0h1m0-31h1m-1 18h1m1 13h1m0-20h1m0 4h1m-1 3h1m-1 6h1m-1 12h1m0-39h1m1 25h1m3-6h1m4 9h1" stroke="#ff2020" stroke-width="1" opacity="0.6" fill="none" filter="url(#sb)"/>
<path d="M548 397.5h1m-1 39h1m-1 4h1m-1 4h1m0-30h1m-1 6h1m-1 6h1m-1 2h1m-1 11h1m0-22h1m0-6h1m-1 8h1m-1 7h1m-1 8h1m-1 8h1m-1 2h1m0-37h1m-1 16h1m-1 13h1m-1 2h1m0-29h1m-1 14h1m-1 4h1m-1 5h1m-1 4h1m0-23h1m-1 1h1m-1 8h1m-1 3h1m-1 12h1m-1 5h1m-1 4h1m0-40h1m-1 27h1m-1 7h1m0-34h1m-1 4h1m-1 1h1m-1 2h1m-1 5h1m-1 3h1m-1 6h1m-1 9h1m-1 4h1m-1 1h1m0-45h1m-1 14h1m-1 5h1m-1 10h1m-1 3h1m-1 2h1m-1 2h1m-1 7h1m-1 6h1m0-26h1m-1 5h1m-1 5h1m-1 2h1m-1 2h1m-1 6h1m0-39h1m-1 8h1m-1 3h1m-1 3h1m-1 1h1m-1 6h1m-1 1h1m-1 4h1m-1 5h1m-1 1h1m-1 5h1m-1 9h1m0-24h1m-1 6h1m-1 3h1m-1 1h1m-1 5h1m-1 2h1m-1 1h1m0-21h1m-1 2h1m-1 9h1m-1 1h1m-1 1h1m-1 4h1m-1 1h1m0-28h1m-1 1h1m-1 1h1m-1 8h1m-1 3h1m-1 2h1m-1 3h1m-1 1h1m-1 3h1m-1 2h1m-1 1h1m-1 2h1m-1 1h1m-1 3h1m-1 4h1m-1 1h1m-1 1h1m0-36h1m-1 6h1m-1 1h1m-1 1h1m-1 2h1m-1 1h1m-1 3h1m-1 5h1m-1 1h1m-1 4h1m-1 2h1m-1 4h1m0-26h1m-1 1h1m-1 6h1m-1 1h1m-1 5h1m-1 2h1m-1 1h1m-1 4h1m-1 8h1m0-37h1m-1 14h1m-1 1h1m-1 9h1m-1 1h1m-1 7h1m-1 1h1m0-29h1m-1 4h1m-1 5h1m-1 6h1m-1 1h1m-1 2h1m-1 3h1m-1 1h1m-1 3h1m-1 5h1m-1 4h1m0-55h1m-1 19h1m-1 6h1m-1 1h1m-1 1h1m-1 1h1m-1 1h1m-1 4h1m-1 2h1m-1 2h1m-1 2h1m-1 1h1m-1 5h1m-1 1h1m-1 2h1m-1 7h1m0-41h1m-1 9h1m-1 2h1m-1 1h1m-1 2h1m-1 7h1m-1 2h1m-1 3h1m-1 2h1m-1 2h1m-1 3h1m-1 4h1m-1 1h1m-1 2h1m0-36h1m-1 6h1m-1 2h1m-1 1h1m-1 3h1m-1 1h1m-1 1h1m-1 1h1m-1 7h1m-1 5h1m-1 1h1m0-34h1m-1 7h1m-1 1h1m-1 8h1m-1 1h1m-1 1h1m-1 1h1m-1 1h1m-1 5h1m-1 1h1m-1 1h1m-1 2h1m-1 3h1m-1 3h1m-1 6h1m-1 1h1m-1 2h1m0-46h1m-1 8h1m-1 2h1m-1 2h1m-1 1h1m-1 5h1m-1 1h1m-1 1h1m-1 4h1m-1 1h1m-1 1h1m-1 2h1m-1 1h1m-1 1h1m-1 2h1m-1 2h1m-1 6h1m-1 5h1m-1 1h1m0-40h1m-1 10h1m-1 1h1m-1 4h1m-1 5h1m-1 1h1m-1 1h1m-1 3h1m-1 1h1m-1 1h1m-1 3h1m-1 3h1m-1 8h1m0-37h1m-1 2h1m-1 1h1m-1 1h1m-1 1h1m-1 2h1m-1 6h1m-1 2h1m-1 2h1m-1 6h1m-1 4h1m-1 6h1m0-36h1m-1 3h1m-1 1h1m-1 3h1m-1 1h1m-1 2h1m-1 1h1m-1 2h1m-1 3h1m-1 1h1m-1 5h1m-1 3h1m-1 2h1m-1 1h1m-1 5h1m-1 5h1m0-34h1m-1 2h1m-1 4h1m-1 6h1m-1 1h1m-1 4h1m-1 4h1m-1 5h1m-1 1h1m-1 4h1m-1 7h1m0-38h1m-1 6h1m-1 2h1m-1 4h1m-1 2h1m-1 2h1m-1 1h1m-1 1h1m-1 2h1m-1 1h1m-1 1h1m-1 5h1m-1 4h1m0-35h1m-1 3h1m-1 4h1m-1 3h1m-1 2h1m-1 5h1m-1 3h1m-1 6h1m-1 4h1m-1 1h1m-1 1h1m-1 5h1m0-38h1m-1 6h1m-1 2h1m-1 11h1m-1 1h1m-1 3h1m-1 1h1m-1 4h1m-1 2h1m-1 1h1m-1 1h1m-1 1h1m-1 1h1m-1 1h1m-1 2h1m-1 2h1m0-32h1m-1 3h1m-1 4h1m-1 2h1m-1 1h1m-1 2h1m-1 4h1m-1 3h1m-1 1h1m-1 2h1m-1 1h1m-1 4h1m0-39h1m-1 7h1m-1 3h1m-1 4h1m-1 4h1m-1 2h1m-1 3h1m-1 3h1m-1 1h1m-1 2h1m-1 1h1m-1 1h1m-1 1h1m-1 4h1m0-24h1m-1 1h1m-1 8h1m-1 6h1m-1 5h1m-1 6h1m-1 3h1m0-31h1m-1 9h1m-1 7h1m-1 6h1m-1 4h1m-1 7h1m-1 3h1m0-43h1m-1 1h1m-1 4h1m-1 5h1m-1 1h1m-1 2h1m-1 7h1m-1 1h1m-1 5h1m-1 4h1m-1 1h1m-1 2h1m-1 6h1m-1 1h1m-1 2h1m-1 1h1m0-44h1m-1 6h1m-1 3h1m-1 3h1m-1 3h1m-1 9h1m-1 2h1m-1 2h1m-1 1h1m-1 1h1m-1 1h1m-1 13h1m0-32h1m-1 3h1m-1 4h1m-1 3h1m-1 6h1m-1 8h1m-1 3h1m-1 2h1m-1 1h1m0-28h1m-1 3h1m-1 1h1m-1 5h1m-1 2h1m-1 1h1m-1 2h1m-1 2h1m-1 7h1m-1 2h1m-1 2h1m-1 1h1m-1 1h1m0-41h1m-1 12h1m-1 3h1m-1 2h1m-1 1h1m-1 14h1m-1 3h1m-1 4h1m0-34h1m-1 5h1m-1 8h1m-1 2h1m-1 3h1m-1 5h1m-1 3h1m-1 6h1m0-31h1m-1 2h1m-1 4h1m-1 2h1m-1 6h1m-1 1h1m-1 1h1m-1 2h1m-1 1h1m-1 1h1m-1 2h1m-1 2h1m-1 3h1m0-63h1m-1 45h1m-1 5h1m-1 2h1m-1 2h1m-1 8h1m-1 1h1m-1 1h1m0-41h1m-1 13h1m-1 14h1m-1 8h1m-1 8h1m-1 1h1m-1 1h1m0-19h1m-1 5h1m-1 3h1m-1 1h1m0-16h1m-1 2h1m-1 9h1m-1 2h1m-1 10h1m0-29h1m-1 5h1m-1 20h1m-1 9h1m-1 2h1m0-18h1m-1 13h1m0-27h1m-1 5h1m-1 4h1m-1 17h1m-1 1h1m-1 1h1m0-14h1m-1 5h1m-1 2h1m-1 10h1m0-55h1m-1 26h1m-1 13h1m-1 2h1m-1 5h1m-1 11h1m0-27h1m-1 1h1m-1 5h1m-1 3h1m-1 3h1m0-10h1m-1 11h1m-1 5h1m-1 9h1m0-34h1m-1 10h1m-1 9h1m0-12h1m0 7h1m-1 3h1m-1 3h1m-1 12h1m0-7h1m0 0h1m1-11h1m1 6h1m0-28h1m-1 15h1m2 20h1m8-7h1" stroke="#ff2020" stroke-width="1" opacity="0.3" fill="none" filter="url(#sb)"/>
<path d="M552 420.5h1m-1 2h1m-1 15h1m2-8h1m0-14h1m-1 13h1m1-24h1m-1 15h1m-1 16h1m1-53h1m-1 57h1m0-22h1m0-24h1m0 27h1m0 25h1m1-53h1m-1 10h1m-1 7h1m-1 6h1m-1 14h1m-1 5h1m0-23h1m-1 5h1m-1 8h1m-1 1h1m-1 3h1m0-18h1m-1 11h1m-1 7h1m-1 3h1m0-9h1m-1 24h1m0-43h1m-1 7h1m-1 20h1m0-21h1m-1 8h1m-1 6h1m-1 10h1m-1 2h1m0-27h1m-1 13h1m0-15h1m-1 8h1m-1 3h1m0-12h1m-1 10h1m-1 4h1m-1 15h1m-1 7h1m0-37h1m-1 36h1m0-35h1m-1 8h1m-1 10h1m-1 9h1m-1 1h1m0-40h1m-1 7h1m-1 5h1m-1 1h1m-1 5h1m-1 3h1m-1 10h1m0-29h1m-1 5h1m-1 6h1m-1 1h1m-1 16h1m-1 4h1m-1 4h1m-1 12h1m0-45h1m-1 3h1m-1 1h1m-1 3h1m-1 17h1m-1 13h1m0-16h1m-1 8h1m-1 11h1m0-37h1m-1 4h1m-1 1h1m-1 1h1m-1 8h1m-1 4h1m-1 4h1m-1 9h1m0-33h1m-1 3h1m-1 3h1m-1 8h1m-1 2h1m-1 9h1m-1 6h1m-1 14h1m0-37h1m-1 7h1m-1 8h1m-1 2h1m-1 4h1m-1 2h1m-1 3h1m0-40h1m-1 7h1m-1 7h1m-1 2h1m-1 3h1m-1 2h1m-1 8h1m-1 1h1m-1 4h1m-1 2h1m-1 6h1m-1 6h1m-1 1h1m0-37h1m-1 11h1m-1 6h1m-1 9h1m-1 5h1m-1 4h1m-1 2h1m0-53h1m-1 2h1m-1 4h1m-1 13h1m-1 2h1m-1 4h1m-1 1h1m-1 1h1m0-23h1m-1 7h1m-1 15h1m-1 4h1m-1 2h1m-1 1h1m-1 1h1m-1 6h1m-1 3h1m-1 3h1m0-24h1m-1 11h1m-1 23h1m0-56h1m-1 3h1m-1 24h1m-1 5h1m-1 4h1m0-22h1m-1 3h1m-1 4h1m-1 4h1m-1 4h1m-1 1h1m-1 3h1m-1 1h1m-1 5h1m-1 3h1m-1 4h1m-1 8h1m-1 4h1m0-52h1m-1 24h1m-1 4h1m-1 2h1m-1 5h1m-1 4h1m-1 1h1m-1 8h1m0-20h1m-1 6h1m-1 4h1m-1 5h1m-1 5h1m-1 2h1m0-50h1m-1 12h1m-1 10h1m-1 2h1m-1 1h1m-1 1h1m-1 1h1m-1 1h1m-1 4h1m-1 2h1m-1 10h1m-1 5h1m0-43h1m-1 3h1m-1 1h1m-1 1h1m-1 3h1m-1 3h1m-1 2h1m-1 2h1m-1 5h1m-1 3h1m-1 2h1m-1 1h1m-1 1h1m-1 1h1m-1 6h1m-1 5h1m0-49h1m-1 19h1m-1 2h1m-1 6h1m-1 2h1m-1 2h1m-1 1h1m-1 8h1m0-29h1m-1 3h1m-1 1h1m-1 1h1m-1 3h1m-1 1h1m-1 8h1m-1 2h1m-1 4h1m0-24h1m-1 7h1m-1 10h1m-1 5h1m-1 6h1m-1 5h1m-1 7h1m0-47h1m-1 12h1m-1 6h1m-1 5h1m-1 2h1m-1 6h1m-1 9h1m0-51h1m-1 12h1m-1 11h1m-1 6h1m-1 3h1m-1 5h1m-1 3h1m-1 5h1m-1 2h1m0-24h1m-1 2h1m-1 3h1m-1 4h1m-1 1h1m-1 5h1m-1 3h1m0-20h1m-1 21h1m-1 2h1m-1 3h1m-1 1h1m-1 2h1m-1 7h1m-1 3h1m0-44h1m-1 3h1m-1 8h1m-1 4h1m-1 10h1m0-13h1m-1 3h1m-1 3h1m-1 4h1m-1 3h1m-1 14h1m0-38h1m-1 12h1m-1 1h1m-1 4h1m-1 4h1m-1 1h1m-1 5h1m-1 6h1m-1 1h1m-1 4h1m0-39h1m-1 7h1m-1 4h1m-1 3h1m-1 1h1m-1 7h1m-1 6h1m-1 9h1m0-47h1m-1 16h1m-1 3h1m-1 8h1m-1 1h1m-1 2h1m-1 4h1m-1 22h1m0-42h1m-1 6h1m-1 7h1m-1 8h1m-1 4h1m0-19h1m-1 1h1m-1 9h1m-1 1h1m-1 6h1m-1 10h1m-1 4h1m-1 3h1m0-40h1m-1 14h1m-1 14h1m-1 12h1m0-72h1m-1 25h1m-1 5h1m-1 3h1m-1 9h1m-1 7h1m0-26h1m-1 6h1m-1 9h1m-1 4h1m-1 3h1m-1 3h1m-1 5h1m-1 6h1m-1 3h1m-1 2h1m0-34h1m-1 5h1m-1 1h1m-1 8h1m-1 7h1m0-53h1m-1 15h1m-1 16h1m-1 11h1m-1 1h1m-1 10h1m-1 2h1m-1 4h1m-1 12h1m0-34h1m-1 2h1m-1 16h1m-1 2h1m-1 2h1m-1 3h1m0-27h1m-1 1h1m0 2h1m-1 9h1m-1 4h1m-1 10h1m-1 3h1m-1 4h1m0 6h1m-1 4h1m0-47h1m-1 5h1m-1 19h1m-1 2h1m-1 6h1m-1 6h1m0-46h1m-1 16h1m-1 14h1m-1 12h1m-1 4h1m0-50h1m-1 19h1m-1 2h1m-1 9h1m-1 7h1m-1 9h1m0-51h1m-1 15h1m-1 21h1m0-17h1m-1 7h1m-1 2h1m-1 1h1m0-3h1m-1 6h1m-1 11h1m0-21h1m-1 14h1m-1 25h1m0-26h1m-1 9h1m-1 1h1m0-32h1m-1 11h1m-1 19h1m-1 2h1m-1 1h1m0-15h1m-1 9h1m-1 22h1m0-29h1m0-9h1m-1 18h1m0-5h1m-1 15h1m0-23h1m0-7h1m0 10h1" stroke="#ff2020" stroke-width="1" opacity="0.48" fill="none" filter="url(#sb)"/>
<path d="M552 414.5h1m2-4h1m1 22h1m-1 5h1m-1 9h1m0-16h1m0-6h1m-1 5h1m0-21h1m-1 10h1m-1 25h1m0-22h1m0-12h1m-1 6h1m-1 21h1m0-24h1m-1 4h1m-1 11h1m0-11h1m-1 26h1m-1 3h1m1-30h1m0 14h1m-1 12h1m0-42h1m0 8h1m-1 1h1m0-12h1m-1 32h1m-1 7h1m-1 10h1m0-1h1m0-53h1m0 44h1m0-34h1m-1 20h1m-1 8h1m-1 4h1m0-29h1m-1 24h1m-1 6h1m0-50h1m-1 23h1m-1 7h1m-1 5h1m-1 5h1m-1 2h1m-1 9h1m-1 8h1m-1 1h1m0-51h1m-1 16h1m-1 8h1m-1 1h1m-1 5h1m-1 7h1m-1 5h1m-1 2h1m-1 1h1m0-42h1m-1 5h1m-1 4h1m-1 5h1m-1 8h1m-1 11h1m-1 16h1m0-53h1m-1 1h1m-1 40h1m-1 1h1m-1 1h1m0-42h1m-1 13h1m-1 4h1m-1 5h1m-1 7h1m-1 3h1m-1 6h1m0-42h1m-1 16h1m-1 2h1m-1 2h1m-1 5h1m-1 7h1m-1 12h1m-1 11h1m0-52h1m-1 12h1m-1 2h1m-1 2h1m-1 6h1m-1 1h1m-1 10h1m0-10h1m-1 1h1m-1 12h1m-1 7h1m-1 4h1m-1 2h1m0-39h1m-1 2h1m-1 13h1m-1 3h1m-1 5h1m-1 4h1m-1 4h1m-1 6h1m-1 4h1m0-45h1m-1 2h1m-1 9h1m-1 9h1m-1 6h1m-1 3h1m-1 11h1m-1 5h1m0-42h1m-1 6h1m-1 2h1m-1 7h1m-1 2h1m-1 8h1m-1 9h1m0-47h1m-1 17h1m-1 2h1m-1 1h1m-1 15h1m-1 4h1m-1 10h1m0-33h1m-1 5h1m-1 9h1m-1 2h1m-1 1h1m-1 7h1m-1 8h1m-1 3h1m-1 2h1m0-29h1m-1 2h1m-1 1h1m-1 4h1m-1 13h1m-1 5h1m0-35h1m-1 4h1m-1 7h1m-1 1h1m-1 1h1m-1 1h1m-1 1h1m-1 6h1m-1 1h1m-1 1h1m-1 11h1m-1 3h1m-1 2h1m-1 4h1m0-60h1m-1 12h1m-1 1h1m-1 8h1m-1 8h1m-1 2h1m-1 4h1m-1 4h1m0-36h1m-1 4h1m-1 7h1m-1 11h1m-1 2h1m-1 1h1m-1 13h1m-1 2h1m-1 1h1m-1 1h1m-1 7h1m-1 4h1m0-33h1m-1 1h1m-1 4h1m-1 1h1m-1 2h1m-1 5h1m-1 8h1m0-29h1m-1 9h1m-1 3h1m-1 1h1m-1 6h1m-1 3h1m-1 1h1m-1 3h1m-1 5h1m-1 14h1m0-46h1m-1 5h1m-1 3h1m-1 4h1m-1 7h1m-1 10h1m-1 5h1m-1 6h1m0-37h1m-1 8h1m-1 1h1m-1 7h1m-1 5h1m-1 4h1m-1 6h1m-1 7h1m0-50h1m-1 22h1m-1 1h1m-1 2h1m-1 2h1m-1 2h1m-1 1h1m-1 6h1m-1 4h1m-1 1h1m-1 1h1m-1 2h1m-1 1h1m-1 2h1m0-42h1m-1 17h1m-1 2h1m-1 6h1m-1 1h1m-1 3h1m-1 3h1m-1 3h1m-1 1h1m-1 6h1m0-50h1m-1 18h1m-1 1h1m-1 6h1m-1 5h1m-1 1h1m-1 1h1m-1 3h1m-1 4h1m-1 6h1m-1 2h1m-1 12h1m0-48h1m-1 12h1m-1 3h1m-1 9h1m-1 3h1m-1 2h1m-1 5h1m0-4h1m-1 3h1m-1 1h1m0-36h1m-1 2h1m-1 3h1m-1 2h1m-1 17h1m-1 1h1m-1 1h1m-1 10h1m-1 1h1m-1 3h1m-1 4h1m0-58h1m-1 17h1m-1 22h1m-1 5h1m-1 9h1m0-49h1m-1 17h1m-1 7h1m-1 6h1m-1 17h1m-1 8h1m0-53h1m-1 23h1m-1 4h1m-1 2h1m-1 2h1m-1 1h1m-1 5h1m-1 1h1m-1 2h1m-1 7h1m0-40h1m-1 3h1m-1 6h1m-1 17h1m-1 5h1m-1 8h1m-1 8h1m-1 2h1m0-74h1m-1 18h1m-1 10h1m-1 6h1m-1 9h1m-1 9h1m-1 10h1m-1 6h1m0-50h1m-1 20h1m-1 17h1m-1 4h1m-1 2h1m-1 1h1m-1 11h1m0-51h1m-1 15h1m-1 5h1m-1 2h1m-1 3h1m-1 8h1m-1 7h1m-1 2h1m-1 3h1m0-52h1m-1 8h1m-1 4h1m-1 9h1m-1 6h1m-1 7h1m-1 16h1m0-36h1m-1 4h1m-1 2h1m-1 7h1m-1 1h1m-1 2h1m-1 2h1m0-29h1m-1 27h1m-1 8h1m0-39h1m-1 13h1m-1 8h1m-1 1h1m-1 13h1m-1 7h1m-1 8h1m0-28h1m-1 13h1m0-6h1m-1 20h1m0-30h1m-1 1h1m-1 16h1m-1 15h1m0-53h1m-1 1h1m-1 51h1m-1 5h1m0-33h1m-1 15h1m-1 14h1m-1 4h1m0-30h1m-1 11h1m-1 14h1m0-32h1m-1 6h1m-1 11h1m-1 12h1m0-15h1m-1 17h1m0-26h1m-1 15h1m-1 13h1m0-29h1m-1 3h1m-1 12h1m-1 12h1m0 13h1m0-80h1m-1 50h1m-1 2h1m-1 3h1m-1 22h1m0-47h1m-1 1h1m-1 1h1m-1 2h1m-1 13h1m0 1h1m-1 9h1m0-29h1m0 9h1m-1 12h1m0-27h1m0-18h1m-1 74h1m3-27h1m0-23h1m0-18h1m4 56h1m0-12h1" stroke="#ff2020" stroke-width="1" opacity="0.24" fill="none" filter="url(#sb)"/>
<path d="M554 401.5h1m0-9h1m1 11h1m4 17h1m4-28h1m4 39h1m0 10h1m0-2h1m2-79h1m5 63h1m5 19h1m4-55h1m0-14h1m6 46h1m1 2h1m5-48h1m-1 28h1m9-15h1m0 31h1m4-36h1m9-21h1m-1 6h1m3 5h1m1 27h1" stroke="#ff2020" stroke-width="1" opacity="0.4" fill="none" filter="url(#sb)"/>
<path d="M547 359.5h1m3 34h1m0 12h1m14-1h1m0 4h1m3 15h1m1-49h1m0 37h1m1 32h1m2-82h1m2 11h1m8 75h1m0-50h1m-1 49h1m5-86h1m0 20h1m1 26h1m6-48h1m6 27h1m2-2h1m11-2h1m0-26h1m2 8h1m8 84h1" stroke="#ff2020" stroke-width="1" opacity="0.2" fill="none" filter="url(#sb)"/>
<path d="M597 375.5h1m1-7h1m0-1h1m-1 10h1m0-8h1m0-3h1m-1 9h1m0-5h1m-1 11h1m0-16h1m-1 8h1m0-1h1m-1 3h1m0-11h1m-1 5h1m-1 1h1m-1 5h1m-1 1h1m-1 5h1m0-1h1m0-15h1m-1 10h1m-1 1h1m-1 6h1m0-13h1m-1 3h1m-1 8h1m0-10h1m-1 4h1m-1 3h1m-1 1h1m-1 2h1m-1 1h1m-1 1h1m0-18h1m-1 3h1m-1 6h1m-1 4h1m0-12h1m-1 6h1m-1 1h1m-1 1h1m0-2h1m-1 3h1m-1 2h1m0-10h1m-1 5h1m-1 2h1m-1 1h1m-1 1h1m-1 4h1m0-13h1m-1 7h1m0-9h1m-1 13h1m-1 4h1m0-10h1m-1 3h1m-1 1h1m-1 9h1m0-18h1m-1 11h1m-1 3h1m0-1h1m-1 4h1m0-16h1m-1 11h1m0-2h1m0-2h1m0 3h1" stroke="#444" stroke-width="1" opacity="0.7" fill="none" filter="url(#sb)"/>
<path d="M595.2 378.1C594.9 375.7 595.2 373.5 596.5 371.2C597.7 368.9 599.9 366.3 602.7 364.5C605.5 362.8 609.5 360.8 613.0 360.5C616.6 360.2 621.8 360.5 624.0 362.5C626.2 364.5 626.5 369.3 626.5 372.6C626.5 376.0 625.7 380.0 624.0 382.5C622.3 384.9 618.4 386.2 616.2 387.4C614.0 388.5 612.9 389.1 610.9 389.4C608.8 389.7 605.8 389.7 603.7 389.1C601.5 388.5 599.4 387.5 598.0 385.6C596.6 383.8 595.5 380.5 595.2 378.1Z" fill="none" stroke="#333" stroke-width="0.75"/>
<text x="594.7" y="357" font-size="5.3" font-weight="normal" fill="#111" text-anchor="start" stroke="#333" stroke-width="0.1">P7(0.53%)</text>
<path d="M627 395.5h1m-1 8h1m0-6h1m-1 1h1m-1 1h1m-1 2h1m-1 3h1m-1 2h1m0-13h1m-1 2h1m-1 1h1m-1 2h1m-1 2h1m-1 1h1m-1 3h1m-1 1h1m-1 4h1m0-16h1m-1 1h1m-1 2h1m-1 2h1m-1 2h1m-1 2h1m-1 2h1m-1 2h1m-1 3h1m0-20h1m-1 1h1m-1 12h1m-1 1h1m-1 1h1m-1 3h1m-1 1h1m-1 1h1m-1 1h1m-1 3h1m0-25h1m-1 1h1m-1 6h1m-1 3h1m-1 6h1m-1 1h1m-1 1h1m-1 1h1m-1 1h1m-1 4h1m0-23h1m-1 2h1m-1 1h1m-1 1h1m-1 1h1m-1 1h1m-1 1h1m-1 1h1m-1 3h1m-1 4h1m-1 7h1m-1 1h1m-1 1h1m0-26h1m-1 2h1m-1 1h1m-1 3h1m-1 2h1m-1 3h1m-1 1h1m-1 1h1m-1 1h1m-1 7h1m-1 1h1m-1 1h1m-1 1h1m-1 3h1m0-27h1m-1 1h1m-1 1h1m-1 4h1m-1 5h1m-1 1h1m-1 1h1m-1 2h1m-1 1h1m-1 2h1m-1 3h1m-1 6h1m0-25h1m-1 1h1m-1 10h1m-1 7h1m-1 2h1m-1 3h1m-1 2h1m0-26h1m-1 1h1m-1 1h1m-1 3h1m-1 2h1m-1 1h1m-1 3h1m-1 2h1m-1 1h1m-1 2h1m-1 1h1m-1 1h1m-1 1h1m-1 2h1m0-20h1m-1 2h1m-1 3h1m-1 3h1m-1 1h1m-1 1h1m-1 8h1m-1 1h1m-1 5h1m0-25h1m-1 4h1m-1 1h1m-1 1h1m-1 6h1m-1 1h1m-1 1h1m-1 2h1m-1 1h1m-1 2h1m-1 5h1m0-22h1m-1 1h1m-1 1h1m-1 3h1m-1 1h1m-1 1h1m-1 6h1m-1 1h1m-1 2h1m-1 3h1m0-11h1m-1 3h1m-1 1h1m-1 1h1m-1 1h1m-1 4h1m-1 1h1m0-15h1m-1 4h1m-1 2h1m-1 1h1m-1 1h1m-1 1h1m-1 1h1m-1 2h1" stroke="#444" stroke-width="1" opacity="0.65" fill="none" filter="url(#sb)"/>
<path d="M625.5 391.2C626.7 387.8 629.6 385.4 632.4 384.6C635.3 383.8 640.4 384.1 642.5 386.2C644.5 388.4 644.5 394.2 644.8 397.5C645.1 400.8 644.5 403.6 644.2 406.1C644.0 408.5 644.6 410.4 643.3 412.3C641.9 414.2 638.8 417.3 636.3 417.6C633.9 417.9 630.4 416.1 628.6 414.0C626.8 411.8 626.0 408.5 625.5 404.7C625.0 400.9 624.3 394.6 625.5 391.2Z" fill="none" stroke="#333" stroke-width="0.75"/>
<text x="621" y="380.5" font-size="5.3" font-weight="normal" fill="#111" text-anchor="start" stroke="#333" stroke-width="0.1">P8(1.47%)</text>
<line x1="181.6" y1="86.8" x2="239.10000000000002" y2="86.8" stroke="#000" stroke-width="2.5"/>
<path d="M252.3 86.8L230.3 82.55Q236.46 86.8 230.3 91.05Z" fill="#000"/>
<line x1="180.4" y1="177.5" x2="242.10000000000002" y2="177.5" stroke="#000" stroke-width="1.05"/>
<path d="M257.1 177.5L232.10000000000002 175.2Q237.10000000000002 177.5 232.10000000000002 179.8Z" fill="#000"/>
<line x1="173" y1="274.5" x2="244.5" y2="274.5" stroke="#000" stroke-width="1.05"/>
<path d="M259.5 274.5L234.5 272.2Q239.5 274.5 234.5 276.8Z" fill="#000"/>
<line x1="172" y1="372.5" x2="244.5" y2="372.5" stroke="#000" stroke-width="1.05"/>
<path d="M259.5 372.5L234.5 370.2Q239.5 372.5 234.5 374.8Z" fill="#000"/>
<line x1="467.6" y1="80.9" x2="532.4" y2="80.9" stroke="#000" stroke-width="2.3"/>
<path d="M545.6 80.9L523.6 76.9Q529.76 80.9 523.6 84.9Z" fill="#000"/>
<line x1="464" y1="174.5" x2="530.6" y2="174.5" stroke="#000" stroke-width="1.05"/>
<path d="M545.6 174.5L520.6 172.2Q525.6 174.5 520.6 176.8Z" fill="#000"/>
<line x1="461.8" y1="272.5" x2="530.6" y2="272.5" stroke="#000" stroke-width="1.05"/>
<path d="M545.6 272.5L520.6 270.2Q525.6 272.5 520.6 274.8Z" fill="#000"/>
<line x1="465" y1="371.5" x2="530.6" y2="371.5" stroke="#000" stroke-width="1.05"/>
<path d="M545.6 371.5L520.6 369.2Q525.6 371.5 520.6 373.8Z" fill="#000"/>
<line x1="108.8" y1="462.8" x2="108.8" y2="372.0" stroke="#000" stroke-width="2.1"/>
<path d="M108.8 351Q107.55 372.00 103.80 386Q107.30 379.00 108.8 380.40Q110.30 379.00 113.80 386Q110.05 372.00 108.8 351Z" fill="#000"/>
<line x1="104.5" y1="462.5" x2="177.8" y2="462.5" stroke="#000" stroke-width="2.1"/>
<path d="M192.5 462.5L168.0 458.3Q174.86 462.5 168.0 466.7Z" fill="#000"/>
<line x1="256.3" y1="462.3" x2="256.3" y2="387.3" stroke="#000" stroke-width="2.1"/>
<path d="M256.3 370.5Q255.18 387.30 251.80 398.5Q254.95 392.90 256.3 394.02Q257.65 392.90 260.80 398.5Q257.43 387.30 256.3 370.5Z" fill="#000"/>
<line x1="255.3" y1="461.5" x2="330.8" y2="461.5" stroke="#000" stroke-width="2.1"/>
<path d="M345.5 461.5L321.0 457.3Q327.86 461.5 321.0 465.7Z" fill="#000"/>
<line x1="403.3" y1="461.5" x2="403.3" y2="380.2" stroke="#000" stroke-width="2.1"/>
<path d="M403.3 362.2Q402.11 380.20 398.55 392.2Q401.88 386.20 403.3 387.40Q404.73 386.20 408.05 392.2Q404.49 380.20 403.3 362.2Z" fill="#000"/>
<line x1="404.5" y1="461" x2="475.3" y2="461" stroke="#000" stroke-width="2.1"/>
<path d="M490 461L465.5 456.8Q472.36 461 465.5 465.2Z" fill="#000"/>
<line x1="540.5" y1="461.5" x2="540.5" y2="395.40000000000003" stroke="#000" stroke-width="2.1"/>
<path d="M540.5 379.8Q539.38 395.40 536.00 405.8Q539.15 400.60 540.5 401.64Q541.85 400.60 545.00 405.8Q541.62 395.40 540.5 379.8Z" fill="#000"/>
<line x1="539.5" y1="460.5" x2="630.3000000000001" y2="460.5" stroke="#000" stroke-width="2.1"/>
<path d="M647.7 460.5L618.7 456.3Q626.82 460.5 618.7 464.7Z" fill="#000"/>
<text x="193" y="471" font-size="13.5" font-weight="bold" fill="#000" text-anchor="start" >F4/80</text>
<text x="346" y="468.1" font-size="13.5" font-weight="bold" fill="#000" text-anchor="start" >Ly6c</text>
<text x="488.6" y="466.2" font-size="13.5" font-weight="bold" fill="#000" text-anchor="start" >F4/80</text>
<text x="646.5" y="465.3" font-size="13.5" font-weight="bold" fill="#000" text-anchor="start" >Ly6c</text>
<text transform="translate(94 390.7) rotate(90) scale(0.9 1)" font-size="15.2" font-weight="bold">CD11b</text>
<text transform="translate(236.6 390.4) rotate(90) scale(0.88 1)" font-size="15.2" font-weight="bold">CX3CR1</text>
<text transform="translate(388.4 394.9) rotate(90) scale(0.88 1)" font-size="14.8" font-weight="bold">CD11b</text>
<text transform="translate(525.3 388) rotate(90) scale(0.88 1)" font-size="15.2" font-weight="bold">CX3CR1</text>
<line x1="136.2" y1="570.5" x2="136.2" y2="685.15" stroke="#111" stroke-width="1.5"/>
<line x1="135.45" y1="684.4" x2="300.9" y2="684.4" stroke="#111" stroke-width="1.5"/>
<line x1="133.7" y1="684.40" x2="136.2" y2="684.40" stroke="#111" stroke-width="1.3"/>
<text x="132.2" y="687.8" font-size="9.4" font-weight="bold" fill="#111" text-anchor="end" >0</text>
<line x1="133.7" y1="656.05" x2="136.2" y2="656.05" stroke="#111" stroke-width="1.3"/>
<text x="132.2" y="659.4499999999999" font-size="9.4" font-weight="bold" fill="#111" text-anchor="end" >5</text>
<line x1="133.7" y1="627.70" x2="136.2" y2="627.70" stroke="#111" stroke-width="1.3"/>
<text x="132.2" y="631.0999999999999" font-size="9.4" font-weight="bold" fill="#111" text-anchor="end" >10</text>
<line x1="133.7" y1="599.35" x2="136.2" y2="599.35" stroke="#111" stroke-width="1.3"/>
<text x="132.2" y="602.75" font-size="9.4" font-weight="bold" fill="#111" text-anchor="end" >15</text>
<line x1="133.7" y1="571.00" x2="136.2" y2="571.00" stroke="#111" stroke-width="1.3"/>
<text x="132.2" y="574.4" font-size="9.4" font-weight="bold" fill="#111" text-anchor="end" >20</text>
<line x1="177.6" y1="684.4" x2="177.6" y2="688.6" stroke="#111" stroke-width="1.2"/>
<line x1="265.9" y1="684.4" x2="265.9" y2="688.6" stroke="#111" stroke-width="1.2"/>
<text x="176.7" y="699.6" font-size="8.8" font-weight="bold" fill="#111" text-anchor="middle" >week1</text>
<text x="265.8" y="699.6" font-size="8.8" font-weight="bold" fill="#111" text-anchor="middle" >week2</text>
<line x1="149.5" y1="679.4104" x2="149.5" y2="676.41" stroke="#c83cf5" stroke-width="1"/>
<line x1="146.5" y1="676.41" x2="152.5" y2="676.41" stroke="#c83cf5" stroke-width="1.2"/>
<rect x="144.10" y="679.41" width="10.80" height="4.99" fill="none" stroke="#c83cf5" stroke-width="1.8"/>
<circle cx="148.6" cy="671.3" r="1.45" fill="none" stroke="#333" stroke-width="0.75"/>
<circle cx="146.2" cy="681.5" r="1.45" fill="none" stroke="#333" stroke-width="0.75"/>
<circle cx="151.6" cy="681.5" r="1.45" fill="none" stroke="#333" stroke-width="0.75"/>
<line x1="168.6" y1="652.8181" x2="168.6" y2="646.52" stroke="#3ee41e" stroke-width="1"/>
<line x1="165.6" y1="646.52" x2="171.6" y2="646.52" stroke="#3ee41e" stroke-width="1.2"/>
<rect x="163.20" y="652.82" width="10.80" height="31.58" fill="none" stroke="#3ee41e" stroke-width="1.8"/>
<circle cx="168.4" cy="641.6" r="1.45" fill="none" stroke="#333" stroke-width="0.75"/>
<circle cx="168.8" cy="650" r="1.45" fill="none" stroke="#333" stroke-width="0.75"/>
<circle cx="168.4" cy="668.3" r="1.45" fill="none" stroke="#333" stroke-width="0.75"/>
<line x1="187.4" y1="606.2107" x2="187.4" y2="595.21" stroke="#1e1ef0" stroke-width="1"/>
<line x1="184.4" y1="595.21" x2="190.4" y2="595.21" stroke="#1e1ef0" stroke-width="1.2"/>
<rect x="182.00" y="606.21" width="10.80" height="78.19" fill="none" stroke="#1e1ef0" stroke-width="1.8"/>
<circle cx="184.6" cy="587.3" r="1.45" fill="none" stroke="#333" stroke-width="0.75"/>
<circle cx="189" cy="587" r="1.45" fill="none" stroke="#333" stroke-width="0.75"/>
<circle cx="187" cy="620.3" r="1.45" fill="none" stroke="#333" stroke-width="0.75"/>
<circle cx="187" cy="626.8" r="1.45" fill="none" stroke="#333" stroke-width="0.75"/>
<line x1="206.3" y1="669.4879" x2="206.3" y2="663.59" stroke="#f23a3a" stroke-width="1"/>
<line x1="203.3" y1="663.59" x2="209.3" y2="663.59" stroke="#f23a3a" stroke-width="1.2"/>
<rect x="200.90" y="669.49" width="10.80" height="14.91" fill="none" stroke="#f23a3a" stroke-width="1.8"/>
<circle cx="206" cy="656" r="1.45" fill="none" stroke="#333" stroke-width="0.75"/>
<circle cx="203.6" cy="679.4" r="1.45" fill="none" stroke="#333" stroke-width="0.75"/>
<circle cx="209" cy="677" r="1.45" fill="none" stroke="#333" stroke-width="0.75"/>
<line x1="237.6" y1="679.4104" x2="237.6" y2="676.46" stroke="#c83cf5" stroke-width="1"/>
<line x1="234.6" y1="676.46" x2="240.6" y2="676.46" stroke="#c83cf5" stroke-width="1.2"/>
<rect x="232.20" y="679.41" width="10.80" height="4.99" fill="none" stroke="#c83cf5" stroke-width="1.8"/>
<circle cx="237.6" cy="671.1" r="1.45" fill="none" stroke="#333" stroke-width="0.75"/>
<circle cx="235.3" cy="679.6" r="1.45" fill="none" stroke="#333" stroke-width="0.75"/>
<circle cx="235.7" cy="682.3" r="1.45" fill="none" stroke="#333" stroke-width="0.75"/>
<circle cx="240" cy="681.4" r="1.45" fill="none" stroke="#333" stroke-width="0.75"/>
<line x1="256.6" y1="682.132" x2="256.6" y2="681.56" stroke="#3ee41e" stroke-width="1"/>
<line x1="253.60000000000002" y1="681.56" x2="259.6" y2="681.56" stroke="#3ee41e" stroke-width="1.2"/>
<rect x="251.20" y="682.13" width="10.80" height="2.27" fill="none" stroke="#3ee41e" stroke-width="1.8"/>
<circle cx="251.6" cy="682" r="1.45" fill="none" stroke="#333" stroke-width="0.75"/>
<circle cx="255.1" cy="680.5" r="1.45" fill="none" stroke="#333" stroke-width="0.75"/>
<circle cx="258.3" cy="681.4" r="1.45" fill="none" stroke="#333" stroke-width="0.75"/>
<circle cx="261.8" cy="680.5" r="1.45" fill="none" stroke="#333" stroke-width="0.75"/>
<line x1="275.5" y1="659.2819" x2="275.5" y2="653.50" stroke="#1e1ef0" stroke-width="1"/>
<line x1="272.5" y1="653.50" x2="278.5" y2="653.50" stroke="#1e1ef0" stroke-width="1.2"/>
<rect x="270.10" y="659.28" width="10.80" height="25.12" fill="none" stroke="#1e1ef0" stroke-width="1.8"/>
<circle cx="273.1" cy="650.1" r="1.45" fill="none" stroke="#333" stroke-width="0.75"/>
<circle cx="277.8" cy="649.3" r="1.45" fill="none" stroke="#333" stroke-width="0.75"/>
<circle cx="273.1" cy="670" r="1.45" fill="none" stroke="#333" stroke-width="0.75"/>
<circle cx="277.8" cy="667.6" r="1.45" fill="none" stroke="#333" stroke-width="0.75"/>
<line x1="294.5" y1="670.6219" x2="294.5" y2="665.12" stroke="#f23a3a" stroke-width="1"/>
<line x1="291.5" y1="665.12" x2="297.5" y2="665.12" stroke="#f23a3a" stroke-width="1.2"/>
<rect x="289.10" y="670.62" width="10.80" height="13.78" fill="none" stroke="#f23a3a" stroke-width="1.8"/>
<circle cx="294.5" cy="656.3" r="1.45" fill="none" stroke="#333" stroke-width="0.75"/>
<circle cx="294.5" cy="669.1" r="1.45" fill="none" stroke="#333" stroke-width="0.75"/>
<circle cx="292.2" cy="678.1" r="1.45" fill="none" stroke="#333" stroke-width="0.75"/>
<circle cx="296.8" cy="676.5" r="1.45" fill="none" stroke="#333" stroke-width="0.75"/>
<text transform="translate(114.6 675) rotate(-90)" font-size="10.1" font-weight="bold" fill="#111">Ly6c<tspan font-size="7.2" dy="-4.3">high</tspan><tspan dy="4.3">CX</tspan><tspan font-size="7.2" dy="2">3</tspan><tspan dy="-2">CR</tspan><tspan font-size="7.2" dy="2">1</tspan><tspan font-size="7.2" dy="-6.3">low</tspan><tspan dy="4.3">(%)</tspan></text>
<path d="M157.50 515.50L157.50 521.10M159.92 516.90L155.08 519.70M159.92 519.70L155.08 516.90" stroke="#111" stroke-width="1.3" fill="none"/>
<path d="M164.50 515.50L164.50 521.10M166.92 516.90L162.08 519.70M166.92 519.70L162.08 516.90" stroke="#111" stroke-width="1.3" fill="none"/>
<path d="M171.50 515.50L171.50 521.10M173.92 516.90L169.08 519.70M173.92 519.70L169.08 516.90" stroke="#111" stroke-width="1.3" fill="none"/>
<path d="M178.50 515.50L178.50 521.10M180.92 516.90L176.08 519.70M180.92 519.70L176.08 516.90" stroke="#111" stroke-width="1.3" fill="none"/>
<line x1="149.1" y1="526" x2="187.1" y2="526" stroke="#3a3a3a" stroke-width="1.5"/>
<path d="M167.50 539.70L167.50 545.30M169.92 541.10L165.08 543.90M169.92 543.90L165.08 541.10" stroke="#111" stroke-width="1.3" fill="none"/>
<path d="M174.50 539.70L174.50 545.30M176.92 541.10L172.08 543.90M176.92 543.90L172.08 541.10" stroke="#111" stroke-width="1.3" fill="none"/>
<path d="M181.50 539.70L181.50 545.30M183.92 541.10L179.08 543.90M183.92 543.90L179.08 541.10" stroke="#111" stroke-width="1.3" fill="none"/>
<path d="M188.50 539.70L188.50 545.30M190.92 541.10L186.08 543.90M190.92 543.90L186.08 541.10" stroke="#111" stroke-width="1.3" fill="none"/>
<line x1="168.3" y1="550" x2="187.1" y2="550" stroke="#3a3a3a" stroke-width="1.5"/>
<path d="M158.60 563.20L158.60 568.80M161.02 564.60L156.18 567.40M161.02 567.40L156.18 564.60" stroke="#111" stroke-width="1.3" fill="none"/>
<line x1="149.1" y1="574.1" x2="168" y2="574.1" stroke="#3a3a3a" stroke-width="1.5"/>
<path d="M186.10 563.20L186.10 568.80M188.52 564.60L183.68 567.40M188.52 567.40L183.68 564.60" stroke="#111" stroke-width="1.3" fill="none"/>
<path d="M193.10 563.20L193.10 568.80M195.52 564.60L190.68 567.40M195.52 567.40L190.68 564.60" stroke="#111" stroke-width="1.3" fill="none"/>
<path d="M200.10 563.20L200.10 568.80M202.52 564.60L197.68 567.40M202.52 567.40L197.68 564.60" stroke="#111" stroke-width="1.3" fill="none"/>
<path d="M207.10 563.20L207.10 568.80M209.52 564.60L204.68 567.40M209.52 567.40L204.68 564.60" stroke="#111" stroke-width="1.3" fill="none"/>
<line x1="187.1" y1="574.1" x2="206.1" y2="574.1" stroke="#3a3a3a" stroke-width="1.5"/>
<path d="M265.90 563.20L265.90 568.80M268.32 564.60L263.48 567.40M268.32 567.40L263.48 564.60" stroke="#111" stroke-width="1.3" fill="none"/>
<line x1="256.7" y1="574.1" x2="275" y2="574.1" stroke="#3a3a3a" stroke-width="1.5"/>
<line x1="380.5" y1="563.4" x2="380.5" y2="685.15" stroke="#111" stroke-width="1.5"/>
<line x1="379.75" y1="684.4" x2="563" y2="684.4" stroke="#111" stroke-width="1.5"/>
<line x1="378.0" y1="684.40" x2="380.5" y2="684.40" stroke="#111" stroke-width="1.3"/>
<text x="376.5" y="687.8" font-size="9.4" font-weight="bold" fill="#111" text-anchor="end" >0.0</text>
<line x1="378.0" y1="644.06" x2="380.5" y2="644.06" stroke="#111" stroke-width="1.3"/>
<text x="376.5" y="647.4649999999999" font-size="9.4" font-weight="bold" fill="#111" text-anchor="end" >0.5</text>
<line x1="378.0" y1="603.73" x2="380.5" y2="603.73" stroke="#111" stroke-width="1.3"/>
<text x="376.5" y="607.13" font-size="9.4" font-weight="bold" fill="#111" text-anchor="end" >1.0</text>
<line x1="378.0" y1="563.39" x2="380.5" y2="563.39" stroke="#111" stroke-width="1.3"/>
<text x="376.5" y="566.795" font-size="9.4" font-weight="bold" fill="#111" text-anchor="end" >1.5</text>
<line x1="424.8" y1="684.4" x2="424.8" y2="688.6" stroke="#111" stroke-width="1.2"/>
<line x1="519" y1="684.4" x2="519" y2="688.6" stroke="#111" stroke-width="1.2"/>
<text x="424.6" y="699.6" font-size="8.8" font-weight="bold" fill="#111" text-anchor="middle" >week1</text>
<text x="518.6" y="699.6" font-size="8.8" font-weight="bold" fill="#111" text-anchor="middle" >week2</text>
<line x1="394.4" y1="609.3769" x2="394.4" y2="591.63" stroke="#c83cf5" stroke-width="1"/>
<line x1="391.4" y1="591.63" x2="397.4" y2="591.63" stroke="#c83cf5" stroke-width="1.2"/>
<rect x="389.00" y="609.38" width="10.80" height="75.02" fill="none" stroke="#c83cf5" stroke-width="1.8"/>
<circle cx="394.8" cy="596.9" r="1.45" fill="none" stroke="#333" stroke-width="0.75"/>
<circle cx="394.8" cy="614.2" r="1.45" fill="none" stroke="#333" stroke-width="0.75"/>
<circle cx="394.8" cy="632" r="1.45" fill="none" stroke="#333" stroke-width="0.75"/>
<line x1="414.9" y1="643.2583" x2="414.9" y2="631.16" stroke="#3ee41e" stroke-width="1"/>
<line x1="411.9" y1="631.16" x2="417.9" y2="631.16" stroke="#3ee41e" stroke-width="1.2"/>
<rect x="409.50" y="643.26" width="10.80" height="41.14" fill="none" stroke="#3ee41e" stroke-width="1.8"/>
<circle cx="415" cy="635.6" r="1.45" fill="none" stroke="#333" stroke-width="0.75"/>
<circle cx="415" cy="647" r="1.45" fill="none" stroke="#333" stroke-width="0.75"/>
<circle cx="415" cy="656.5" r="1.45" fill="none" stroke="#333" stroke-width="0.75"/>
<line x1="434.9" y1="654.5521" x2="434.9" y2="644.06" stroke="#1e1ef0" stroke-width="1"/>
<line x1="431.9" y1="644.06" x2="437.9" y2="644.06" stroke="#1e1ef0" stroke-width="1.2"/>
<rect x="429.50" y="654.55" width="10.80" height="29.85" fill="none" stroke="#1e1ef0" stroke-width="1.8"/>
<circle cx="435.2" cy="640.4" r="1.45" fill="none" stroke="#333" stroke-width="0.75"/>
<circle cx="435.2" cy="656.5" r="1.45" fill="none" stroke="#333" stroke-width="0.75"/>
<circle cx="435.2" cy="666" r="1.45" fill="none" stroke="#333" stroke-width="0.75"/>
<line x1="454.9" y1="612.6037" x2="454.9" y2="584.37" stroke="#f23a3a" stroke-width="1"/>
<line x1="451.9" y1="584.37" x2="457.9" y2="584.37" stroke="#f23a3a" stroke-width="1.2"/>
<rect x="449.50" y="612.60" width="10.80" height="71.80" fill="none" stroke="#f23a3a" stroke-width="1.8"/>
<circle cx="454.7" cy="571.3" r="1.45" fill="none" stroke="#333" stroke-width="0.75"/>
<circle cx="454.7" cy="615.3" r="1.45" fill="none" stroke="#333" stroke-width="0.75"/>
<circle cx="454.7" cy="627.2" r="1.45" fill="none" stroke="#333" stroke-width="0.75"/>
<circle cx="454.7" cy="634.5" r="1.45" fill="none" stroke="#333" stroke-width="0.75"/>
<line x1="488.8" y1="609.3769" x2="488.8" y2="591.63" stroke="#c83cf5" stroke-width="1"/>
<line x1="485.8" y1="591.63" x2="491.8" y2="591.63" stroke="#c83cf5" stroke-width="1.2"/>
<rect x="483.40" y="609.38" width="10.80" height="75.02" fill="none" stroke="#c83cf5" stroke-width="1.8"/>
<circle cx="488.7" cy="596.9" r="1.45" fill="none" stroke="#333" stroke-width="0.75"/>
<circle cx="488.7" cy="614.2" r="1.45" fill="none" stroke="#333" stroke-width="0.75"/>
<circle cx="488.7" cy="631.8" r="1.45" fill="none" stroke="#333" stroke-width="0.75"/>
<line x1="509.0" y1="673.1062" x2="509.0" y2="671.09" stroke="#3ee41e" stroke-width="1"/>
<line x1="506.0" y1="671.09" x2="512.0" y2="671.09" stroke="#3ee41e" stroke-width="1.2"/>
<rect x="503.60" y="673.11" width="10.80" height="11.29" fill="none" stroke="#3ee41e" stroke-width="1.8"/>
<circle cx="503.3" cy="671.2" r="1.45" fill="none" stroke="#333" stroke-width="0.75"/>
<circle cx="508.6" cy="675.4" r="1.45" fill="none" stroke="#333" stroke-width="0.75"/>
<circle cx="514.4" cy="671.8" r="1.45" fill="none" stroke="#333" stroke-width="0.75"/>
<line x1="529.1" y1="635.1913" x2="529.1" y2="624.70" stroke="#1e1ef0" stroke-width="1"/>
<line x1="526.1" y1="624.70" x2="532.1" y2="624.70" stroke="#1e1ef0" stroke-width="1.2"/>
<rect x="523.70" y="635.19" width="10.80" height="49.21" fill="none" stroke="#1e1ef0" stroke-width="1.8"/>
<circle cx="529.1" cy="623" r="1.45" fill="none" stroke="#333" stroke-width="0.75"/>
<circle cx="529.1" cy="630.8" r="1.45" fill="none" stroke="#333" stroke-width="0.75"/>
<circle cx="529.1" cy="639.2" r="1.45" fill="none" stroke="#333" stroke-width="0.75"/>
<circle cx="529.1" cy="645" r="1.45" fill="none" stroke="#333" stroke-width="0.75"/>
<line x1="549.4" y1="638.4181" x2="549.4" y2="631.16" stroke="#f23a3a" stroke-width="1"/>
<line x1="546.4" y1="631.16" x2="552.4" y2="631.16" stroke="#f23a3a" stroke-width="1.2"/>
<rect x="544.00" y="638.42" width="10.80" height="45.98" fill="none" stroke="#f23a3a" stroke-width="1.8"/>
<circle cx="549.4" cy="627.8" r="1.45" fill="none" stroke="#333" stroke-width="0.75"/>
<circle cx="547.5" cy="639.2" r="1.45" fill="none" stroke="#333" stroke-width="0.75"/>
<circle cx="551.5" cy="640.8" r="1.45" fill="none" stroke="#333" stroke-width="0.75"/>
<circle cx="549.4" cy="645" r="1.45" fill="none" stroke="#333" stroke-width="0.75"/>
<text transform="translate(355.6 678.5) rotate(-90)" font-size="10.7" font-weight="bold" fill="#111">Ly6c<tspan font-size="7.6" dy="-4.5">low</tspan><tspan dy="4.5">CX</tspan><tspan font-size="7.6" dy="2">3</tspan><tspan dy="-2">CR</tspan><tspan font-size="7.6" dy="2">1</tspan><tspan font-size="7.6" dy="-6.5">high</tspan><tspan dy="4.5">(%)</tspan></text>
<path d="M411.50 495.10L411.50 500.70M413.92 496.50L409.08 499.30M413.92 499.30L409.08 496.50" stroke="#111" stroke-width="1.3" fill="none"/>
<path d="M418.50 495.10L418.50 500.70M420.92 496.50L416.08 499.30M420.92 499.30L416.08 496.50" stroke="#111" stroke-width="1.3" fill="none"/>
<line x1="394.6" y1="506.3" x2="434.6" y2="506.3" stroke="#3a3a3a" stroke-width="1.5"/>
<path d="M434.60 520.60L434.60 526.20M437.02 522.00L432.18 524.80M437.02 524.80L432.18 522.00" stroke="#111" stroke-width="1.3" fill="none"/>
<line x1="415.4" y1="531.8" x2="454.8" y2="531.8" stroke="#3a3a3a" stroke-width="1.5"/>
<path d="M404.40 546.00L404.40 551.60M406.82 547.40L401.98 550.20M406.82 550.20L401.98 547.40" stroke="#111" stroke-width="1.3" fill="none"/>
<line x1="394.6" y1="557" x2="414.9" y2="557" stroke="#3a3a3a" stroke-width="1.5"/>
<path d="M441.80 546.00L441.80 551.60M444.22 547.40L439.38 550.20M444.22 550.20L439.38 547.40" stroke="#111" stroke-width="1.3" fill="none"/>
<path d="M448.80 546.00L448.80 551.60M451.22 547.40L446.38 550.20M451.22 550.20L446.38 547.40" stroke="#111" stroke-width="1.3" fill="none"/>
<line x1="435" y1="557" x2="454.8" y2="557" stroke="#3a3a3a" stroke-width="1.5"/>
<path d="M487.00 520.50L487.00 526.10M489.42 521.90L484.58 524.70M489.42 524.70L484.58 521.90" stroke="#111" stroke-width="1.3" fill="none"/>
<path d="M494.00 520.50L494.00 526.10M496.42 521.90L491.58 524.70M496.42 524.70L491.58 521.90" stroke="#111" stroke-width="1.3" fill="none"/>
<path d="M501.00 520.50L501.00 526.10M503.42 521.90L498.58 524.70M503.42 524.70L498.58 521.90" stroke="#111" stroke-width="1.3" fill="none"/>
<path d="M508.00 520.50L508.00 526.10M510.42 521.90L505.58 524.70M510.42 524.70L505.58 521.90" stroke="#111" stroke-width="1.3" fill="none"/>
<line x1="489" y1="531.4" x2="507" y2="531.4" stroke="#3a3a3a" stroke-width="1.5"/>
<path d="M530.30 520.50L530.30 526.10M532.72 521.90L527.88 524.70M532.72 524.70L527.88 521.90" stroke="#111" stroke-width="1.3" fill="none"/>
<line x1="511.4" y1="531.4" x2="549.4" y2="531.4" stroke="#3a3a3a" stroke-width="1.5"/>
<path d="M515.50 546.00L515.50 551.60M517.92 547.40L513.08 550.20M517.92 550.20L513.08 547.40" stroke="#111" stroke-width="1.3" fill="none"/>
<path d="M522.50 546.00L522.50 551.60M524.92 547.40L520.08 550.20M524.92 550.20L520.08 547.40" stroke="#111" stroke-width="1.3" fill="none"/>
<line x1="509" y1="556.9" x2="528.8" y2="556.9" stroke="#3a3a3a" stroke-width="1.5"/>
<rect x="591.3" y="564.3" width="11.2" height="4.4" fill="none" stroke="#c83cf5" stroke-width="1.8"/>
<rect x="591.3" y="584.1999999999999" width="11.2" height="4.4" fill="none" stroke="#3ee41e" stroke-width="1.8"/>
<rect x="591.3" y="603.3" width="11.2" height="4.4" fill="none" stroke="#1e1ef0" stroke-width="1.8"/>
<rect x="591.3" y="621.6999999999999" width="11.2" height="4.4" fill="none" stroke="#f23a3a" stroke-width="1.8"/>
<text x="610.7" y="570" font-size="10" font-weight="normal" fill="#222" text-anchor="start" >Normal</text>
<text x="610.7" y="589.5" font-size="10" font-weight="normal" fill="#222" text-anchor="start" >control</text>
<text x="610.7" y="609" font-size="10" font-weight="normal" fill="#222" text-anchor="start" >MSC</text>
<text x="610.7" y="627.4" font-size="10" fill="#222">MSC<tspan font-size="6.5" dy="-4.2">IFN-γ+LPS</tspan></text>
</svg></body></html>
